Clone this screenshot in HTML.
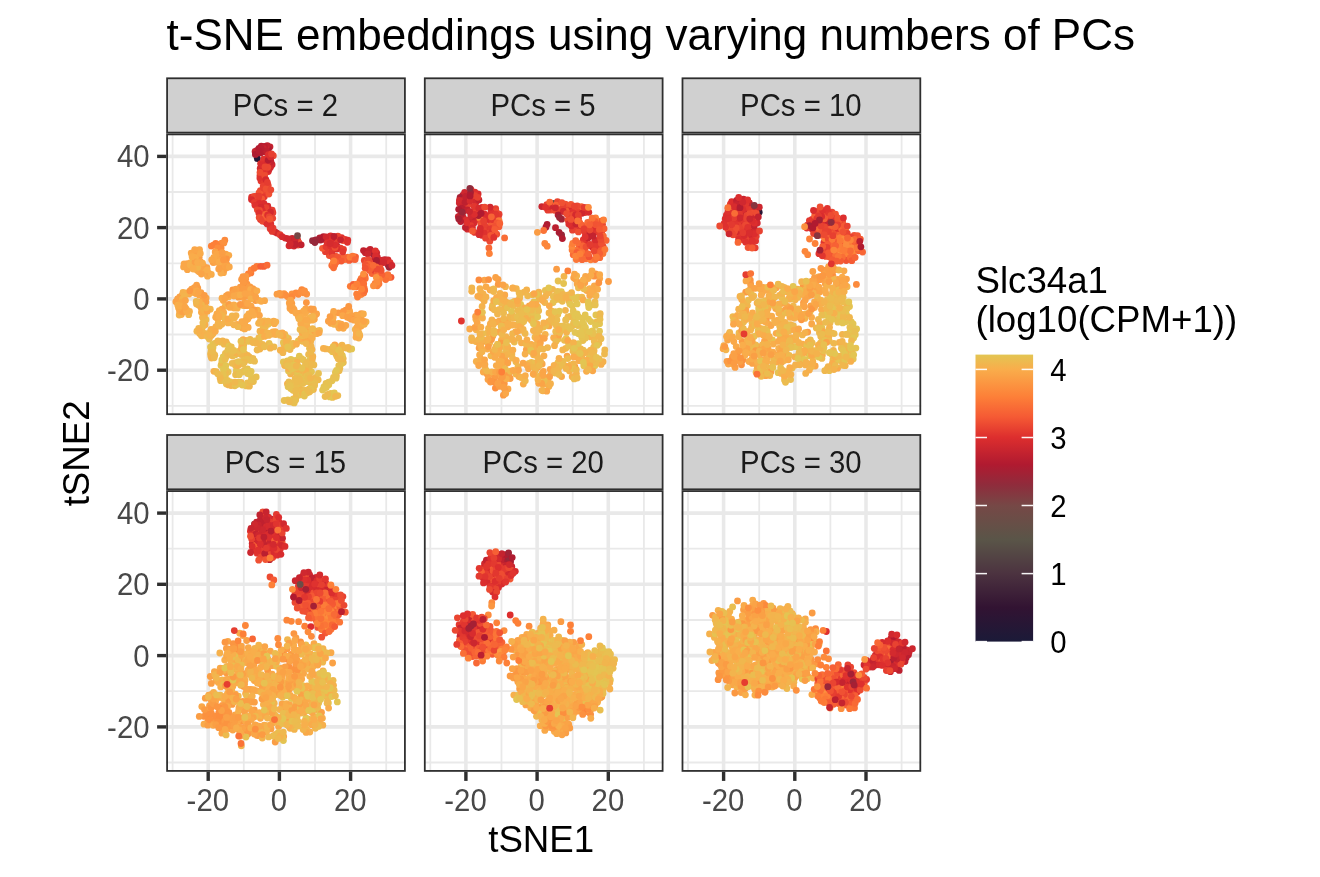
<!DOCTYPE html>
<html><head><meta charset="utf-8"><title>t-SNE embeddings</title>
<style>html,body{margin:0;padding:0;background:#fff}svg{display:block}text{font-family:"Liberation Sans",sans-serif}</style>
</head><body>
<svg style="will-change:transform" width="1320" height="877" viewBox="0 0 1320 877">
<rect width="1320" height="877" fill="#fff"/>
<text x="166.5" y="49.9" font-size="44" fill="#000">t-SNE embeddings using varying numbers of PCs</text>
<g>
<rect x="166.2" y="133.5" width="239.6" height="281.6" fill="#fff"/>
<line x1="172.6" x2="172.6" y1="133.5" y2="415.1" stroke="#e9e9e9" stroke-width="1.78"/>
<line x1="243.8" x2="243.8" y1="133.5" y2="415.1" stroke="#e9e9e9" stroke-width="1.78"/>
<line x1="315.0" x2="315.0" y1="133.5" y2="415.1" stroke="#e9e9e9" stroke-width="1.78"/>
<line x1="386.2" x2="386.2" y1="133.5" y2="415.1" stroke="#e9e9e9" stroke-width="1.78"/>
<line y1="405.8" y2="405.8" x1="166.2" x2="405.79999999999995" stroke="#e9e9e9" stroke-width="1.78"/>
<line y1="334.5" y2="334.5" x1="166.2" x2="405.79999999999995" stroke="#e9e9e9" stroke-width="1.78"/>
<line y1="263.3" y2="263.3" x1="166.2" x2="405.79999999999995" stroke="#e9e9e9" stroke-width="1.78"/>
<line y1="192.0" y2="192.0" x1="166.2" x2="405.79999999999995" stroke="#e9e9e9" stroke-width="1.78"/>
<line x1="208.2" x2="208.2" y1="133.5" y2="415.1" stroke="#e9e9e9" stroke-width="3.56"/>
<line x1="279.4" x2="279.4" y1="133.5" y2="415.1" stroke="#e9e9e9" stroke-width="3.56"/>
<line x1="350.6" x2="350.6" y1="133.5" y2="415.1" stroke="#e9e9e9" stroke-width="3.56"/>
<line y1="370.2" y2="370.2" x1="166.2" x2="405.79999999999995" stroke="#e9e9e9" stroke-width="3.56"/>
<line y1="298.9" y2="298.9" x1="166.2" x2="405.79999999999995" stroke="#e9e9e9" stroke-width="3.56"/>
<line y1="227.6" y2="227.6" x1="166.2" x2="405.79999999999995" stroke="#e9e9e9" stroke-width="3.56"/>
<line y1="156.4" y2="156.4" x1="166.2" x2="405.79999999999995" stroke="#e9e9e9" stroke-width="3.56"/>
<circle cx="215.7" cy="243.3" r="3.4" fill="#fc7b37"/><circle cx="219.3" cy="244.4" r="3.4" fill="#fc863a"/><circle cx="221.7" cy="243.2" r="3.4" fill="#fc8e3e"/><circle cx="216.8" cy="245.2" r="3.4" fill="#fd8038"/><circle cx="224.8" cy="240.2" r="3.4" fill="#fc8a3c"/><circle cx="211.3" cy="246.1" r="3.4" fill="#fd8038"/><circle cx="213.4" cy="245.2" r="3.4" fill="#fd7f38"/><circle cx="223.9" cy="242.9" r="3.4" fill="#fc913f"/><circle cx="217.7" cy="248.0" r="3.4" fill="#fc8c3d"/><circle cx="221.1" cy="248.0" r="3.4" fill="#fc8c3d"/><circle cx="223.5" cy="272.7" r="3.4" fill="#f9aa4a"/><circle cx="222.3" cy="265.8" r="3.4" fill="#fa9d44"/><circle cx="224.2" cy="269.7" r="3.4" fill="#faa347"/><circle cx="226.3" cy="256.5" r="3.4" fill="#fb9842"/><circle cx="225.8" cy="254.1" r="3.4" fill="#faa347"/><circle cx="220.0" cy="266.3" r="3.4" fill="#f7af4c"/><circle cx="221.3" cy="261.2" r="3.4" fill="#f9aa4a"/><circle cx="215.2" cy="251.9" r="3.4" fill="#faa246"/><circle cx="224.1" cy="255.6" r="3.4" fill="#faa447"/><circle cx="219.6" cy="257.1" r="3.4" fill="#faa748"/><circle cx="225.7" cy="261.5" r="3.4" fill="#faa347"/><circle cx="219.4" cy="254.7" r="3.4" fill="#faa045"/><circle cx="216.9" cy="254.2" r="3.4" fill="#faa748"/><circle cx="228.8" cy="255.3" r="3.4" fill="#f9aa4a"/><circle cx="226.5" cy="258.9" r="3.4" fill="#fb9541"/><circle cx="220.8" cy="263.4" r="3.4" fill="#faa045"/><circle cx="222.2" cy="252.6" r="3.4" fill="#fa9e45"/><circle cx="222.5" cy="257.8" r="3.4" fill="#fa9e45"/><circle cx="221.9" cy="269.3" r="3.4" fill="#faa146"/><circle cx="220.9" cy="273.0" r="3.4" fill="#f9ac4b"/><circle cx="214.8" cy="259.8" r="3.4" fill="#f9a849"/><circle cx="218.3" cy="259.8" r="3.4" fill="#faa548"/><circle cx="213.2" cy="262.6" r="3.4" fill="#faa045"/><circle cx="216.0" cy="262.2" r="3.4" fill="#faa447"/><circle cx="213.8" cy="257.5" r="3.4" fill="#f9a949"/><circle cx="224.3" cy="263.3" r="3.4" fill="#faa648"/><circle cx="219.1" cy="262.0" r="3.4" fill="#f9ab4a"/><circle cx="226.9" cy="264.6" r="3.4" fill="#fa9e45"/><circle cx="223.5" cy="259.9" r="3.4" fill="#fb9942"/><circle cx="211.7" cy="259.8" r="3.4" fill="#faa748"/><circle cx="218.7" cy="269.1" r="3.4" fill="#faa146"/><circle cx="225.4" cy="266.2" r="3.4" fill="#faa447"/><circle cx="227.2" cy="267.6" r="3.4" fill="#faa246"/><circle cx="229.3" cy="266.9" r="3.4" fill="#f9a849"/><circle cx="194.6" cy="253.9" r="3.4" fill="#f6b04c"/><circle cx="196.8" cy="260.1" r="3.4" fill="#f9aa4a"/><circle cx="187.4" cy="269.7" r="3.4" fill="#faa648"/><circle cx="197.4" cy="251.6" r="3.4" fill="#f4b24c"/><circle cx="194.2" cy="265.6" r="3.4" fill="#faa447"/><circle cx="199.1" cy="257.2" r="3.4" fill="#fa9d44"/><circle cx="197.0" cy="255.6" r="3.4" fill="#faa146"/><circle cx="187.4" cy="263.6" r="3.4" fill="#faa246"/><circle cx="199.8" cy="264.7" r="3.4" fill="#faa749"/><circle cx="200.4" cy="261.6" r="3.4" fill="#faa447"/><circle cx="195.4" cy="257.4" r="3.4" fill="#f9ad4b"/><circle cx="183.6" cy="266.9" r="3.4" fill="#f9a849"/><circle cx="190.7" cy="262.7" r="3.4" fill="#f9ac4a"/><circle cx="188.0" cy="265.7" r="3.4" fill="#f9aa4a"/><circle cx="189.5" cy="267.4" r="3.4" fill="#f9a849"/><circle cx="199.5" cy="249.6" r="3.4" fill="#f9a849"/><circle cx="192.1" cy="266.6" r="3.4" fill="#f9ab4a"/><circle cx="200.3" cy="253.5" r="3.4" fill="#f9ab4a"/><circle cx="191.2" cy="253.1" r="3.4" fill="#faa748"/><circle cx="194.7" cy="249.6" r="3.4" fill="#faa648"/><circle cx="184.1" cy="264.0" r="3.4" fill="#faa748"/><circle cx="203.9" cy="269.4" r="3.4" fill="#f9ad4b"/><circle cx="203.5" cy="265.9" r="3.4" fill="#faa347"/><circle cx="207.5" cy="276.2" r="3.4" fill="#f9ab4a"/><circle cx="202.9" cy="271.6" r="3.4" fill="#faa347"/><circle cx="205.7" cy="272.7" r="3.4" fill="#f7b04c"/><circle cx="201.1" cy="270.0" r="3.4" fill="#f8ae4b"/><circle cx="197.3" cy="265.0" r="3.4" fill="#faa447"/><circle cx="208.9" cy="273.3" r="3.4" fill="#faa548"/><circle cx="200.2" cy="267.3" r="3.4" fill="#faa548"/><circle cx="211.3" cy="274.4" r="3.4" fill="#f9ad4b"/><circle cx="206.9" cy="267.7" r="3.4" fill="#faa247"/><circle cx="207.2" cy="269.9" r="3.4" fill="#f9ad4b"/><circle cx="195.6" cy="267.8" r="3.4" fill="#f4b34d"/><circle cx="197.1" cy="270.2" r="3.4" fill="#faa749"/><circle cx="199.0" cy="271.7" r="3.4" fill="#f9a849"/><circle cx="193.1" cy="263.6" r="3.4" fill="#f9ad4b"/><circle cx="190.1" cy="264.8" r="3.4" fill="#f7af4c"/><circle cx="197.8" cy="267.3" r="3.4" fill="#f3b44d"/><circle cx="201.4" cy="274.0" r="3.4" fill="#faa447"/><circle cx="193.2" cy="269.0" r="3.4" fill="#f9ad4b"/><circle cx="193.3" cy="260.0" r="3.4" fill="#f3b34d"/><circle cx="195.0" cy="261.8" r="3.4" fill="#faa146"/><circle cx="192.1" cy="256.7" r="3.4" fill="#f9ac4a"/><circle cx="197.6" cy="262.5" r="3.4" fill="#f9ac4b"/><circle cx="202.5" cy="263.1" r="3.4" fill="#f9ac4a"/><circle cx="250.9" cy="272.9" r="3.4" fill="#fc7a37"/><circle cx="263.8" cy="266.4" r="3.4" fill="#f65e34"/><circle cx="256.8" cy="266.4" r="3.4" fill="#fc7937"/><circle cx="260.6" cy="266.3" r="3.4" fill="#f65f35"/><circle cx="251.2" cy="270.0" r="3.4" fill="#fd853a"/><circle cx="248.3" cy="273.8" r="3.4" fill="#fd8138"/><circle cx="254.1" cy="268.2" r="3.4" fill="#fb7937"/><circle cx="267.1" cy="265.2" r="3.4" fill="#f96b36"/><circle cx="241.6" cy="279.4" r="3.4" fill="#fb9842"/><circle cx="247.0" cy="284.2" r="3.4" fill="#fb9641"/><circle cx="248.5" cy="291.7" r="3.4" fill="#fb9943"/><circle cx="245.6" cy="279.3" r="3.4" fill="#fb9541"/><circle cx="245.5" cy="286.4" r="3.4" fill="#fb9c44"/><circle cx="249.3" cy="296.5" r="3.4" fill="#fa9d44"/><circle cx="245.9" cy="276.5" r="3.4" fill="#fb9a43"/><circle cx="243.2" cy="285.0" r="3.4" fill="#fc8c3d"/><circle cx="248.1" cy="288.5" r="3.4" fill="#faa146"/><circle cx="243.0" cy="276.7" r="3.4" fill="#fb9842"/><circle cx="250.0" cy="286.8" r="3.4" fill="#fa9d44"/><circle cx="252.2" cy="296.4" r="3.4" fill="#fb9942"/><circle cx="243.5" cy="282.5" r="3.4" fill="#fb9942"/><circle cx="251.8" cy="292.5" r="3.4" fill="#fa9d44"/><circle cx="240.8" cy="289.7" r="3.4" fill="#faa347"/><circle cx="238.0" cy="290.6" r="3.4" fill="#fa9d44"/><circle cx="232.8" cy="290.0" r="3.4" fill="#fb9842"/><circle cx="240.3" cy="287.1" r="3.4" fill="#fb9b43"/><circle cx="243.4" cy="288.8" r="3.4" fill="#fa9d44"/><circle cx="236.0" cy="289.2" r="3.4" fill="#faa246"/><circle cx="234.2" cy="292.0" r="3.4" fill="#faa045"/><circle cx="252.8" cy="288.6" r="3.4" fill="#fb9942"/><circle cx="250.6" cy="289.5" r="3.4" fill="#f9ac4b"/><circle cx="254.4" cy="290.2" r="3.4" fill="#faa246"/><circle cx="256.9" cy="290.8" r="3.4" fill="#f9ab4a"/><circle cx="242.3" cy="297.2" r="3.4" fill="#faa648"/><circle cx="253.8" cy="298.4" r="3.4" fill="#faa447"/><circle cx="228.5" cy="296.9" r="3.4" fill="#f9ad4b"/><circle cx="232.1" cy="294.2" r="3.4" fill="#faa046"/><circle cx="255.5" cy="300.5" r="3.4" fill="#fa9f45"/><circle cx="264.6" cy="300.7" r="3.4" fill="#f9a949"/><circle cx="226.3" cy="296.0" r="3.4" fill="#faa347"/><circle cx="228.1" cy="294.6" r="3.4" fill="#fa9f45"/><circle cx="250.6" cy="294.6" r="3.4" fill="#faa447"/><circle cx="238.5" cy="297.2" r="3.4" fill="#fa9e45"/><circle cx="237.6" cy="295.0" r="3.4" fill="#f9a849"/><circle cx="261.2" cy="301.3" r="3.4" fill="#f9ab4a"/><circle cx="223.3" cy="300.5" r="3.4" fill="#faa547"/><circle cx="245.2" cy="296.5" r="3.4" fill="#fa9f45"/><circle cx="248.2" cy="294.0" r="3.4" fill="#faa648"/><circle cx="233.9" cy="296.0" r="3.4" fill="#f9a849"/><circle cx="250.9" cy="299.0" r="3.4" fill="#f6b04c"/><circle cx="240.1" cy="294.8" r="3.4" fill="#f8ae4b"/><circle cx="258.9" cy="300.3" r="3.4" fill="#f9ad4b"/><circle cx="245.1" cy="293.6" r="3.4" fill="#faa548"/><circle cx="222.0" cy="298.2" r="3.4" fill="#f9aa4a"/><circle cx="224.8" cy="298.5" r="3.4" fill="#faa447"/><circle cx="255.7" cy="297.0" r="3.4" fill="#faa347"/><circle cx="257.2" cy="312.5" r="3.4" fill="#faa246"/><circle cx="225.2" cy="306.3" r="3.4" fill="#f4b34d"/><circle cx="248.5" cy="305.7" r="3.4" fill="#f9ac4a"/><circle cx="243.1" cy="305.6" r="3.4" fill="#f5b24c"/><circle cx="222.0" cy="309.1" r="3.4" fill="#faa749"/><circle cx="251.1" cy="306.1" r="3.4" fill="#faa748"/><circle cx="228.9" cy="304.4" r="3.4" fill="#fa9e45"/><circle cx="237.2" cy="308.2" r="3.4" fill="#f6b04c"/><circle cx="233.9" cy="304.9" r="3.4" fill="#f9ac4b"/><circle cx="245.9" cy="305.7" r="3.4" fill="#fa9e45"/><circle cx="244.7" cy="303.0" r="3.4" fill="#faa246"/><circle cx="219.3" cy="310.7" r="3.4" fill="#f9ac4a"/><circle cx="257.5" cy="310.2" r="3.4" fill="#f6b04c"/><circle cx="234.0" cy="308.0" r="3.4" fill="#f9ad4b"/><circle cx="247.6" cy="303.4" r="3.4" fill="#faa749"/><circle cx="238.1" cy="305.8" r="3.4" fill="#f5b14c"/><circle cx="259.4" cy="315.4" r="3.4" fill="#faa648"/><circle cx="254.2" cy="309.9" r="3.4" fill="#fa9f45"/><circle cx="229.9" cy="307.4" r="3.4" fill="#f9a949"/><circle cx="240.3" cy="304.5" r="3.4" fill="#fb9a43"/><circle cx="254.7" cy="313.1" r="3.4" fill="#faa547"/><circle cx="230.2" cy="322.5" r="3.4" fill="#f3b34d"/><circle cx="242.4" cy="327.9" r="3.4" fill="#faa749"/><circle cx="223.7" cy="312.7" r="3.4" fill="#f9ac4b"/><circle cx="237.0" cy="324.5" r="3.4" fill="#f9ab4a"/><circle cx="220.1" cy="314.2" r="3.4" fill="#f5b14c"/><circle cx="228.0" cy="322.9" r="3.4" fill="#f5b14c"/><circle cx="242.6" cy="325.1" r="3.4" fill="#f1b54d"/><circle cx="230.1" cy="319.7" r="3.4" fill="#f0b74e"/><circle cx="225.2" cy="320.9" r="3.4" fill="#f7b04c"/><circle cx="222.4" cy="315.6" r="3.4" fill="#f3b34d"/><circle cx="223.8" cy="317.6" r="3.4" fill="#f1b64e"/><circle cx="245.3" cy="326.1" r="3.4" fill="#f6b04c"/><circle cx="240.4" cy="326.5" r="3.4" fill="#faa548"/><circle cx="244.7" cy="328.9" r="3.4" fill="#f9ac4b"/><circle cx="238.0" cy="326.7" r="3.4" fill="#f0b74e"/><circle cx="233.8" cy="324.8" r="3.4" fill="#f4b34d"/><circle cx="228.0" cy="318.9" r="3.4" fill="#f9ac4b"/><circle cx="248.2" cy="327.4" r="3.4" fill="#f9ac4b"/><circle cx="251.3" cy="313.7" r="3.4" fill="#faa548"/><circle cx="246.8" cy="316.4" r="3.4" fill="#f9ad4b"/><circle cx="244.6" cy="323.0" r="3.4" fill="#f9ab4a"/><circle cx="249.7" cy="316.3" r="3.4" fill="#faa347"/><circle cx="241.9" cy="321.7" r="3.4" fill="#f9ab4a"/><circle cx="247.8" cy="319.1" r="3.4" fill="#f9ad4b"/><circle cx="245.6" cy="320.5" r="3.4" fill="#f9aa4a"/><circle cx="248.8" cy="313.9" r="3.4" fill="#f9ac4b"/><circle cx="253.6" cy="315.1" r="3.4" fill="#f9ac4b"/><circle cx="252.0" cy="311.4" r="3.4" fill="#f9ab4a"/><circle cx="232.2" cy="315.9" r="3.4" fill="#f1b64e"/><circle cx="236.0" cy="315.6" r="3.4" fill="#f3b44d"/><circle cx="234.4" cy="318.0" r="3.4" fill="#f4b34d"/><circle cx="217.8" cy="319.0" r="3.4" fill="#f9aa4a"/><circle cx="216.9" cy="314.0" r="3.4" fill="#f9aa4a"/><circle cx="215.7" cy="317.2" r="3.4" fill="#f9a949"/><circle cx="218.9" cy="316.4" r="3.4" fill="#f9ac4b"/><circle cx="186.3" cy="293.0" r="3.4" fill="#f9ad4b"/><circle cx="182.2" cy="295.3" r="3.4" fill="#faa045"/><circle cx="178.4" cy="301.3" r="3.4" fill="#fa9f45"/><circle cx="191.7" cy="292.4" r="3.4" fill="#faa749"/><circle cx="196.6" cy="285.1" r="3.4" fill="#faa046"/><circle cx="189.1" cy="294.0" r="3.4" fill="#f9ab4a"/><circle cx="197.8" cy="288.1" r="3.4" fill="#fa9d44"/><circle cx="191.6" cy="289.1" r="3.4" fill="#faa347"/><circle cx="194.4" cy="287.7" r="3.4" fill="#faa046"/><circle cx="179.8" cy="296.9" r="3.4" fill="#faa447"/><circle cx="194.5" cy="291.7" r="3.4" fill="#f9a849"/><circle cx="175.9" cy="301.7" r="3.4" fill="#faa347"/><circle cx="177.6" cy="299.0" r="3.4" fill="#faa347"/><circle cx="190.0" cy="290.8" r="3.4" fill="#fb9943"/><circle cx="183.0" cy="292.5" r="3.4" fill="#f6b14c"/><circle cx="195.8" cy="293.5" r="3.4" fill="#faa748"/><circle cx="201.7" cy="294.9" r="3.4" fill="#f9ac4b"/><circle cx="206.2" cy="298.1" r="3.4" fill="#faa548"/><circle cx="203.1" cy="299.3" r="3.4" fill="#faa347"/><circle cx="196.8" cy="290.8" r="3.4" fill="#f9a949"/><circle cx="205.9" cy="302.1" r="3.4" fill="#faa046"/><circle cx="199.4" cy="295.2" r="3.4" fill="#faa748"/><circle cx="200.9" cy="292.6" r="3.4" fill="#fa9f45"/><circle cx="204.3" cy="295.3" r="3.4" fill="#fa9c44"/><circle cx="198.4" cy="292.3" r="3.4" fill="#faa548"/><circle cx="181.6" cy="309.2" r="3.4" fill="#faa447"/><circle cx="182.7" cy="306.9" r="3.4" fill="#f6b04c"/><circle cx="182.4" cy="299.1" r="3.4" fill="#f3b34d"/><circle cx="183.4" cy="304.7" r="3.4" fill="#f2b54d"/><circle cx="181.4" cy="314.5" r="3.4" fill="#f9ac4b"/><circle cx="183.3" cy="301.2" r="3.4" fill="#f6b04c"/><circle cx="179.2" cy="315.0" r="3.4" fill="#f4b34d"/><circle cx="179.5" cy="311.0" r="3.4" fill="#f9a949"/><circle cx="184.1" cy="309.2" r="3.4" fill="#f9aa4a"/><circle cx="184.4" cy="296.1" r="3.4" fill="#f3b44d"/><circle cx="181.1" cy="302.7" r="3.4" fill="#f9a849"/><circle cx="182.7" cy="311.9" r="3.4" fill="#faa246"/><circle cx="185.4" cy="300.4" r="3.4" fill="#faa548"/><circle cx="178.6" cy="307.9" r="3.4" fill="#f9a949"/><circle cx="177.8" cy="305.2" r="3.4" fill="#f7af4c"/><circle cx="179.9" cy="305.9" r="3.4" fill="#f9ad4b"/><circle cx="186.4" cy="309.2" r="3.4" fill="#f9ac4b"/><circle cx="189.5" cy="311.5" r="3.4" fill="#f6b04c"/><circle cx="188.7" cy="314.7" r="3.4" fill="#f1b54d"/><circle cx="186.7" cy="311.5" r="3.4" fill="#f9ac4b"/><circle cx="185.0" cy="307.1" r="3.4" fill="#faa648"/><circle cx="198.9" cy="305.2" r="3.4" fill="#f4b34d"/><circle cx="204.6" cy="312.4" r="3.4" fill="#f7af4c"/><circle cx="206.0" cy="319.7" r="3.4" fill="#edba4f"/><circle cx="201.5" cy="305.0" r="3.4" fill="#f0b64e"/><circle cx="201.3" cy="308.3" r="3.4" fill="#f9ad4b"/><circle cx="204.4" cy="315.4" r="3.4" fill="#f6b04c"/><circle cx="199.4" cy="302.2" r="3.4" fill="#f8ae4b"/><circle cx="202.5" cy="317.5" r="3.4" fill="#f3b44d"/><circle cx="196.5" cy="304.1" r="3.4" fill="#f4b24d"/><circle cx="201.4" cy="312.3" r="3.4" fill="#f9ad4b"/><circle cx="203.6" cy="310.2" r="3.4" fill="#f5b14c"/><circle cx="196.2" cy="301.4" r="3.4" fill="#f0b74e"/><circle cx="210.3" cy="309.2" r="3.4" fill="#f2b54d"/><circle cx="207.3" cy="311.2" r="3.4" fill="#faa748"/><circle cx="206.2" cy="307.8" r="3.4" fill="#f5b24c"/><circle cx="205.1" cy="324.8" r="3.4" fill="#f7af4b"/><circle cx="202.8" cy="326.4" r="3.4" fill="#efb84e"/><circle cx="201.9" cy="329.0" r="3.4" fill="#efb84e"/><circle cx="199.6" cy="333.5" r="3.4" fill="#f6b14c"/><circle cx="206.3" cy="333.6" r="3.4" fill="#efb84e"/><circle cx="202.9" cy="332.6" r="3.4" fill="#f3b44d"/><circle cx="198.7" cy="328.3" r="3.4" fill="#f2b54d"/><circle cx="201.5" cy="335.8" r="3.4" fill="#f2b54d"/><circle cx="202.9" cy="322.8" r="3.4" fill="#eeb94e"/><circle cx="203.8" cy="335.3" r="3.4" fill="#f6b14c"/><circle cx="209.3" cy="339.0" r="3.4" fill="#edba4f"/><circle cx="196.9" cy="331.2" r="3.4" fill="#f2b54d"/><circle cx="199.3" cy="330.6" r="3.4" fill="#f6b04c"/><circle cx="207.3" cy="336.6" r="3.4" fill="#eeb94e"/><circle cx="215.0" cy="328.9" r="3.4" fill="#f5b14c"/><circle cx="210.3" cy="332.0" r="3.4" fill="#eeb94f"/><circle cx="215.8" cy="326.8" r="3.4" fill="#f6b04c"/><circle cx="219.4" cy="326.2" r="3.4" fill="#f3b44d"/><circle cx="221.8" cy="324.3" r="3.4" fill="#f4b24c"/><circle cx="211.1" cy="329.5" r="3.4" fill="#f7af4b"/><circle cx="211.4" cy="335.6" r="3.4" fill="#f6b04c"/><circle cx="218.1" cy="323.3" r="3.4" fill="#f3b34d"/><circle cx="213.0" cy="333.8" r="3.4" fill="#f4b24c"/><circle cx="215.3" cy="331.3" r="3.4" fill="#f9ac4b"/><circle cx="209.1" cy="335.1" r="3.4" fill="#f4b34d"/><circle cx="210.6" cy="353.4" r="3.4" fill="#edba4f"/><circle cx="227.4" cy="344.3" r="3.4" fill="#edba4f"/><circle cx="212.8" cy="344.3" r="3.4" fill="#e3c552"/><circle cx="211.5" cy="358.0" r="3.4" fill="#f4b24d"/><circle cx="210.5" cy="347.1" r="3.4" fill="#e6c251"/><circle cx="220.3" cy="342.0" r="3.4" fill="#ecbc4f"/><circle cx="215.4" cy="343.1" r="3.4" fill="#e8bf50"/><circle cx="222.6" cy="340.8" r="3.4" fill="#f3b44d"/><circle cx="224.1" cy="344.2" r="3.4" fill="#eeb94e"/><circle cx="210.8" cy="355.9" r="3.4" fill="#f2b44d"/><circle cx="211.1" cy="350.8" r="3.4" fill="#edba4f"/><circle cx="214.8" cy="355.2" r="3.4" fill="#efb84e"/><circle cx="217.9" cy="341.0" r="3.4" fill="#f0b74e"/><circle cx="213.0" cy="347.7" r="3.4" fill="#e7c151"/><circle cx="226.1" cy="341.9" r="3.4" fill="#f2b54d"/><circle cx="213.0" cy="352.3" r="3.4" fill="#ecbb4f"/><circle cx="214.2" cy="357.8" r="3.4" fill="#eeb94f"/><circle cx="225.4" cy="375.5" r="3.4" fill="#e8c050"/><circle cx="221.0" cy="365.4" r="3.4" fill="#e3c552"/><circle cx="221.8" cy="363.0" r="3.4" fill="#eeb84e"/><circle cx="226.2" cy="356.7" r="3.4" fill="#e3c552"/><circle cx="221.9" cy="359.9" r="3.4" fill="#e3c552"/><circle cx="227.9" cy="352.7" r="3.4" fill="#e8bf50"/><circle cx="228.1" cy="372.0" r="3.4" fill="#e8c050"/><circle cx="226.0" cy="370.1" r="3.4" fill="#e5c351"/><circle cx="225.4" cy="353.3" r="3.4" fill="#ecbc4f"/><circle cx="223.2" cy="357.0" r="3.4" fill="#e4c452"/><circle cx="225.5" cy="372.6" r="3.4" fill="#edba4f"/><circle cx="227.7" cy="355.0" r="3.4" fill="#eeb94f"/><circle cx="223.2" cy="378.7" r="3.4" fill="#edba4f"/><circle cx="225.1" cy="359.6" r="3.4" fill="#ebbd50"/><circle cx="225.9" cy="365.6" r="3.4" fill="#e3c552"/><circle cx="228.9" cy="346.2" r="3.4" fill="#e3c552"/><circle cx="223.4" cy="369.7" r="3.4" fill="#e3c552"/><circle cx="223.3" cy="374.2" r="3.4" fill="#e6c251"/><circle cx="227.8" cy="350.3" r="3.4" fill="#e7c051"/><circle cx="220.7" cy="380.7" r="3.4" fill="#ebbc4f"/><circle cx="246.4" cy="385.9" r="3.4" fill="#e9bf50"/><circle cx="244.4" cy="370.5" r="3.4" fill="#edba4f"/><circle cx="241.1" cy="382.4" r="3.4" fill="#f0b74e"/><circle cx="236.4" cy="370.4" r="3.4" fill="#e3c552"/><circle cx="242.2" cy="372.0" r="3.4" fill="#e8c051"/><circle cx="247.4" cy="369.0" r="3.4" fill="#e7c151"/><circle cx="234.8" cy="385.8" r="3.4" fill="#e9bf50"/><circle cx="220.1" cy="374.8" r="3.4" fill="#eabe50"/><circle cx="251.1" cy="371.4" r="3.4" fill="#e3c552"/><circle cx="238.1" cy="372.5" r="3.4" fill="#e5c351"/><circle cx="230.3" cy="381.9" r="3.4" fill="#e5c351"/><circle cx="238.7" cy="382.2" r="3.4" fill="#e7c151"/><circle cx="231.1" cy="385.6" r="3.4" fill="#f2b54d"/><circle cx="252.0" cy="377.7" r="3.4" fill="#e6c151"/><circle cx="233.5" cy="383.9" r="3.4" fill="#e7c151"/><circle cx="249.4" cy="386.2" r="3.4" fill="#efb84e"/><circle cx="225.4" cy="381.6" r="3.4" fill="#e6c251"/><circle cx="247.5" cy="382.8" r="3.4" fill="#eabe50"/><circle cx="253.4" cy="381.5" r="3.4" fill="#e9be50"/><circle cx="213.9" cy="371.3" r="3.4" fill="#f7b04c"/><circle cx="216.2" cy="371.6" r="3.4" fill="#efb84e"/><circle cx="250.8" cy="382.0" r="3.4" fill="#edba4f"/><circle cx="242.2" cy="385.1" r="3.4" fill="#e5c351"/><circle cx="246.7" cy="371.2" r="3.4" fill="#e3c552"/><circle cx="256.2" cy="376.9" r="3.4" fill="#e8bf50"/><circle cx="236.8" cy="384.6" r="3.4" fill="#e5c352"/><circle cx="235.6" cy="374.7" r="3.4" fill="#ebbc4f"/><circle cx="235.0" cy="382.2" r="3.4" fill="#efb84e"/><circle cx="226.4" cy="384.0" r="3.4" fill="#eabe50"/><circle cx="228.7" cy="384.9" r="3.4" fill="#f1b54d"/><circle cx="220.1" cy="378.0" r="3.4" fill="#f0b74e"/><circle cx="247.5" cy="373.6" r="3.4" fill="#e7c151"/><circle cx="250.2" cy="374.5" r="3.4" fill="#e4c452"/><circle cx="239.2" cy="374.7" r="3.4" fill="#e7c151"/><circle cx="251.4" cy="379.9" r="3.4" fill="#e7c051"/><circle cx="217.7" cy="373.8" r="3.4" fill="#edbb4f"/><circle cx="227.4" cy="380.4" r="3.4" fill="#e8bf50"/><circle cx="249.2" cy="356.8" r="3.4" fill="#ecbb4f"/><circle cx="252.9" cy="358.3" r="3.4" fill="#ecbb4f"/><circle cx="232.6" cy="356.0" r="3.4" fill="#efb84e"/><circle cx="235.4" cy="354.8" r="3.4" fill="#e7c051"/><circle cx="244.7" cy="356.4" r="3.4" fill="#efb84e"/><circle cx="244.8" cy="354.0" r="3.4" fill="#ecbb4f"/><circle cx="250.4" cy="360.6" r="3.4" fill="#e6c151"/><circle cx="254.5" cy="361.2" r="3.4" fill="#ebbd50"/><circle cx="241.7" cy="351.5" r="3.4" fill="#f4b24c"/><circle cx="237.9" cy="353.4" r="3.4" fill="#f3b44d"/><circle cx="234.7" cy="352.6" r="3.4" fill="#f5b14c"/><circle cx="241.1" cy="354.5" r="3.4" fill="#efb74e"/><circle cx="239.3" cy="351.1" r="3.4" fill="#ebbc4f"/><circle cx="247.6" cy="355.3" r="3.4" fill="#f2b44d"/><circle cx="231.0" cy="353.6" r="3.4" fill="#ecbb4f"/><circle cx="246.2" cy="340.3" r="3.4" fill="#eeb94f"/><circle cx="241.8" cy="345.1" r="3.4" fill="#f9ad4b"/><circle cx="243.9" cy="344.0" r="3.4" fill="#eeb94e"/><circle cx="243.5" cy="347.0" r="3.4" fill="#eeb94e"/><circle cx="250.1" cy="339.4" r="3.4" fill="#f0b74e"/><circle cx="243.0" cy="339.7" r="3.4" fill="#f9ad4b"/><circle cx="241.0" cy="341.2" r="3.4" fill="#e8bf50"/><circle cx="241.4" cy="348.3" r="3.4" fill="#f6b04c"/><circle cx="248.7" cy="341.3" r="3.4" fill="#e9be50"/><circle cx="243.4" cy="349.5" r="3.4" fill="#e6c251"/><circle cx="235.6" cy="362.6" r="3.4" fill="#f1b64e"/><circle cx="241.8" cy="361.4" r="3.4" fill="#ebbc4f"/><circle cx="244.7" cy="360.0" r="3.4" fill="#e8bf50"/><circle cx="239.4" cy="363.9" r="3.4" fill="#e9bf50"/><circle cx="247.3" cy="359.1" r="3.4" fill="#e9be50"/><circle cx="244.4" cy="362.3" r="3.4" fill="#eeb94e"/><circle cx="232.1" cy="363.3" r="3.4" fill="#edbb4f"/><circle cx="235.5" cy="365.4" r="3.4" fill="#eeb94f"/><circle cx="242.8" cy="364.0" r="3.4" fill="#eabd50"/><circle cx="238.0" cy="365.5" r="3.4" fill="#f4b34d"/><circle cx="238.3" cy="361.6" r="3.4" fill="#e7c151"/><circle cx="231.3" cy="346.9" r="3.4" fill="#eabd50"/><circle cx="231.1" cy="350.6" r="3.4" fill="#eabe50"/><circle cx="229.3" cy="348.7" r="3.4" fill="#e7c051"/><circle cx="233.8" cy="350.5" r="3.4" fill="#eabe50"/><circle cx="263.1" cy="326.4" r="3.4" fill="#eabe50"/><circle cx="268.2" cy="324.2" r="3.4" fill="#eabd50"/><circle cx="260.0" cy="331.2" r="3.4" fill="#f3b34d"/><circle cx="261.5" cy="334.2" r="3.4" fill="#efb74e"/><circle cx="254.7" cy="341.0" r="3.4" fill="#e9bf50"/><circle cx="258.8" cy="337.9" r="3.4" fill="#efb84e"/><circle cx="264.1" cy="328.7" r="3.4" fill="#f4b34d"/><circle cx="265.5" cy="326.6" r="3.4" fill="#eeb94e"/><circle cx="263.0" cy="332.5" r="3.4" fill="#f9ab4a"/><circle cx="258.7" cy="340.6" r="3.4" fill="#ecbb4f"/><circle cx="261.0" cy="337.3" r="3.4" fill="#e9bf50"/><circle cx="256.2" cy="343.2" r="3.4" fill="#f2b44d"/><circle cx="265.6" cy="323.9" r="3.4" fill="#f3b34d"/><circle cx="252.9" cy="342.6" r="3.4" fill="#f1b54d"/><circle cx="270.9" cy="322.5" r="3.4" fill="#ecbb4f"/><circle cx="269.1" cy="343.5" r="3.4" fill="#e9be50"/><circle cx="266.6" cy="345.8" r="3.4" fill="#efb84e"/><circle cx="270.1" cy="346.0" r="3.4" fill="#e8c051"/><circle cx="262.5" cy="344.5" r="3.4" fill="#efb84e"/><circle cx="261.0" cy="346.3" r="3.4" fill="#f2b54d"/><circle cx="259.9" cy="349.1" r="3.4" fill="#f4b34d"/><circle cx="274.0" cy="346.9" r="3.4" fill="#eeb94e"/><circle cx="257.0" cy="350.0" r="3.4" fill="#efb84e"/><circle cx="270.2" cy="348.2" r="3.4" fill="#f3b44d"/><circle cx="264.4" cy="346.8" r="3.4" fill="#ecbb4f"/><circle cx="284.8" cy="334.5" r="3.4" fill="#f4b24c"/><circle cx="270.0" cy="333.4" r="3.4" fill="#faa347"/><circle cx="275.8" cy="334.6" r="3.4" fill="#f5b14c"/><circle cx="266.4" cy="335.0" r="3.4" fill="#f2b54d"/><circle cx="272.9" cy="331.8" r="3.4" fill="#f6b04c"/><circle cx="288.4" cy="338.3" r="3.4" fill="#f3b34d"/><circle cx="272.6" cy="334.2" r="3.4" fill="#f8ae4b"/><circle cx="267.2" cy="332.8" r="3.4" fill="#f3b34d"/><circle cx="275.3" cy="331.7" r="3.4" fill="#f9ad4b"/><circle cx="279.0" cy="333.3" r="3.4" fill="#f1b64e"/><circle cx="264.5" cy="336.4" r="3.4" fill="#f9ad4b"/><circle cx="268.7" cy="335.4" r="3.4" fill="#f4b34d"/><circle cx="282.3" cy="332.8" r="3.4" fill="#f9ac4b"/><circle cx="285.9" cy="336.8" r="3.4" fill="#e9be50"/><circle cx="273.6" cy="321.2" r="3.4" fill="#f8ae4b"/><circle cx="264.4" cy="320.8" r="3.4" fill="#ecbc4f"/><circle cx="262.2" cy="322.0" r="3.4" fill="#f9ad4b"/><circle cx="260.1" cy="321.3" r="3.4" fill="#f6b14c"/><circle cx="268.1" cy="321.1" r="3.4" fill="#f6b14c"/><circle cx="274.4" cy="323.7" r="3.4" fill="#f9ad4b"/><circle cx="258.6" cy="323.3" r="3.4" fill="#f4b34d"/><circle cx="275.8" cy="321.8" r="3.4" fill="#f7b04c"/><circle cx="292.0" cy="294.0" r="3.4" fill="#fb9340"/><circle cx="288.0" cy="296.9" r="3.4" fill="#fb9842"/><circle cx="301.8" cy="289.7" r="3.4" fill="#fc883b"/><circle cx="284.0" cy="293.6" r="3.4" fill="#fb9641"/><circle cx="298.4" cy="294.3" r="3.4" fill="#fc8a3c"/><circle cx="292.2" cy="296.6" r="3.4" fill="#fc883b"/><circle cx="285.6" cy="295.2" r="3.4" fill="#fc8f3e"/><circle cx="296.0" cy="292.8" r="3.4" fill="#fc8b3c"/><circle cx="281.2" cy="295.2" r="3.4" fill="#fb9240"/><circle cx="300.7" cy="292.2" r="3.4" fill="#fc8f3e"/><circle cx="279.6" cy="293.5" r="3.4" fill="#fb9a43"/><circle cx="277.0" cy="294.2" r="3.4" fill="#fa9d44"/><circle cx="306.7" cy="294.1" r="3.4" fill="#fb9340"/><circle cx="303.9" cy="292.9" r="3.4" fill="#fc8f3e"/><circle cx="304.6" cy="290.9" r="3.4" fill="#fc913f"/><circle cx="292.0" cy="310.6" r="3.4" fill="#faa246"/><circle cx="313.4" cy="309.1" r="3.4" fill="#faa046"/><circle cx="301.2" cy="313.0" r="3.4" fill="#f9a949"/><circle cx="316.6" cy="313.9" r="3.4" fill="#faa548"/><circle cx="307.9" cy="310.6" r="3.4" fill="#f9a849"/><circle cx="291.8" cy="303.3" r="3.4" fill="#fa9d44"/><circle cx="292.4" cy="307.1" r="3.4" fill="#f9a849"/><circle cx="305.1" cy="313.6" r="3.4" fill="#f9ac4a"/><circle cx="289.3" cy="302.9" r="3.4" fill="#faa347"/><circle cx="294.0" cy="309.3" r="3.4" fill="#faa347"/><circle cx="305.6" cy="308.8" r="3.4" fill="#faa548"/><circle cx="313.3" cy="311.5" r="3.4" fill="#faa146"/><circle cx="310.9" cy="308.8" r="3.4" fill="#fa9e45"/><circle cx="290.0" cy="308.6" r="3.4" fill="#faa447"/><circle cx="314.8" cy="315.5" r="3.4" fill="#faa447"/><circle cx="303.8" cy="310.8" r="3.4" fill="#f9aa4a"/><circle cx="290.0" cy="305.9" r="3.4" fill="#faa246"/><circle cx="290.7" cy="300.2" r="3.4" fill="#faa347"/><circle cx="298.3" cy="313.3" r="3.4" fill="#faa748"/><circle cx="295.8" cy="312.9" r="3.4" fill="#f9a94a"/><circle cx="306.4" cy="302.6" r="3.4" fill="#fb9742"/><circle cx="313.9" cy="364.9" r="3.4" fill="#edba4f"/><circle cx="307.0" cy="326.9" r="3.4" fill="#f7af4c"/><circle cx="310.7" cy="340.9" r="3.4" fill="#f4b24c"/><circle cx="310.3" cy="344.1" r="3.4" fill="#f4b24d"/><circle cx="306.0" cy="329.8" r="3.4" fill="#f9a849"/><circle cx="311.5" cy="371.8" r="3.4" fill="#e5c351"/><circle cx="310.0" cy="330.1" r="3.4" fill="#f3b44d"/><circle cx="311.0" cy="334.3" r="3.4" fill="#f7b04c"/><circle cx="311.8" cy="361.4" r="3.4" fill="#eabd50"/><circle cx="309.5" cy="348.3" r="3.4" fill="#ecbb4f"/><circle cx="302.2" cy="319.3" r="3.4" fill="#f8ae4b"/><circle cx="307.7" cy="335.1" r="3.4" fill="#edba4f"/><circle cx="308.6" cy="354.4" r="3.4" fill="#edba4f"/><circle cx="298.3" cy="316.4" r="3.4" fill="#f9a949"/><circle cx="304.1" cy="322.4" r="3.4" fill="#f9ab4a"/><circle cx="306.4" cy="332.2" r="3.4" fill="#faa648"/><circle cx="310.1" cy="359.6" r="3.4" fill="#e4c452"/><circle cx="312.8" cy="356.5" r="3.4" fill="#f3b34d"/><circle cx="312.0" cy="349.6" r="3.4" fill="#f5b24c"/><circle cx="311.1" cy="346.7" r="3.4" fill="#f2b54d"/><circle cx="310.8" cy="351.8" r="3.4" fill="#eeb94e"/><circle cx="312.2" cy="337.9" r="3.4" fill="#f6b04c"/><circle cx="312.3" cy="358.8" r="3.4" fill="#f4b34d"/><circle cx="300.9" cy="316.9" r="3.4" fill="#f9ad4b"/><circle cx="309.6" cy="366.8" r="3.4" fill="#ecbb4f"/><circle cx="309.2" cy="333.0" r="3.4" fill="#f5b24c"/><circle cx="303.9" cy="327.9" r="3.4" fill="#f9ad4b"/><circle cx="300.8" cy="323.7" r="3.4" fill="#f9ab4a"/><circle cx="306.4" cy="324.8" r="3.4" fill="#f9ac4b"/><circle cx="308.8" cy="337.3" r="3.4" fill="#f7af4c"/><circle cx="299.0" cy="318.7" r="3.4" fill="#f5b14c"/><circle cx="310.6" cy="363.8" r="3.4" fill="#eeb94f"/><circle cx="312.0" cy="331.7" r="3.4" fill="#f1b64e"/><circle cx="317.1" cy="331.1" r="3.4" fill="#f9ad4b"/><circle cx="314.7" cy="331.0" r="3.4" fill="#faa547"/><circle cx="316.6" cy="333.7" r="3.4" fill="#f7af4c"/><circle cx="319.5" cy="330.4" r="3.4" fill="#f0b74e"/><circle cx="319.1" cy="332.8" r="3.4" fill="#f9a849"/><circle cx="312.6" cy="328.7" r="3.4" fill="#f0b74e"/><circle cx="309.0" cy="320.3" r="3.4" fill="#f9a949"/><circle cx="314.3" cy="319.3" r="3.4" fill="#faa749"/><circle cx="307.0" cy="322.1" r="3.4" fill="#f7af4c"/><circle cx="310.0" cy="317.5" r="3.4" fill="#f5b24c"/><circle cx="312.1" cy="320.2" r="3.4" fill="#f8ae4b"/><circle cx="306.6" cy="319.7" r="3.4" fill="#f9ab4a"/><circle cx="312.8" cy="316.3" r="3.4" fill="#f3b44d"/><circle cx="283.1" cy="336.3" r="3.4" fill="#f9a949"/><circle cx="280.2" cy="335.2" r="3.4" fill="#f2b44d"/><circle cx="284.2" cy="344.7" r="3.4" fill="#f4b34d"/><circle cx="292.4" cy="346.0" r="3.4" fill="#efb84e"/><circle cx="293.2" cy="343.3" r="3.4" fill="#f1b64e"/><circle cx="298.3" cy="340.9" r="3.4" fill="#e8bf50"/><circle cx="283.4" cy="342.4" r="3.4" fill="#e7c151"/><circle cx="286.6" cy="345.0" r="3.4" fill="#f5b14c"/><circle cx="291.1" cy="343.9" r="3.4" fill="#edba4f"/><circle cx="302.5" cy="341.3" r="3.4" fill="#eeb94f"/><circle cx="300.8" cy="338.7" r="3.4" fill="#f8ae4b"/><circle cx="296.4" cy="344.2" r="3.4" fill="#f8ae4b"/><circle cx="286.2" cy="341.3" r="3.4" fill="#f4b24d"/><circle cx="285.5" cy="348.6" r="3.4" fill="#e7c151"/><circle cx="282.9" cy="349.7" r="3.4" fill="#f2b44d"/><circle cx="290.0" cy="349.6" r="3.4" fill="#efb84e"/><circle cx="282.9" cy="352.7" r="3.4" fill="#f1b64e"/><circle cx="287.8" cy="346.9" r="3.4" fill="#e6c251"/><circle cx="280.3" cy="350.2" r="3.4" fill="#f4b24c"/><circle cx="303.4" cy="359.9" r="3.4" fill="#e3c552"/><circle cx="287.4" cy="360.9" r="3.4" fill="#e7c051"/><circle cx="294.5" cy="362.4" r="3.4" fill="#f5b14c"/><circle cx="284.6" cy="365.6" r="3.4" fill="#f2b54d"/><circle cx="305.8" cy="362.4" r="3.4" fill="#edba4f"/><circle cx="283.4" cy="361.9" r="3.4" fill="#e5c251"/><circle cx="286.7" cy="363.5" r="3.4" fill="#efb84e"/><circle cx="292.8" cy="360.6" r="3.4" fill="#e6c251"/><circle cx="290.9" cy="359.3" r="3.4" fill="#e3c552"/><circle cx="299.3" cy="356.2" r="3.4" fill="#e3c552"/><circle cx="295.7" cy="360.3" r="3.4" fill="#e7c051"/><circle cx="301.5" cy="358.7" r="3.4" fill="#e7c151"/><circle cx="305.4" cy="365.2" r="3.4" fill="#ebbc4f"/><circle cx="289.4" cy="362.5" r="3.4" fill="#edba4f"/><circle cx="297.2" cy="362.3" r="3.4" fill="#f4b24d"/><circle cx="291.5" cy="364.6" r="3.4" fill="#ecbb4f"/><circle cx="295.8" cy="372.3" r="3.4" fill="#e6c251"/><circle cx="315.9" cy="377.3" r="3.4" fill="#f0b74e"/><circle cx="318.2" cy="379.8" r="3.4" fill="#eeb94e"/><circle cx="297.1" cy="375.8" r="3.4" fill="#e6c151"/><circle cx="309.5" cy="381.3" r="3.4" fill="#edba4f"/><circle cx="302.5" cy="380.2" r="3.4" fill="#ecbb4f"/><circle cx="290.6" cy="373.9" r="3.4" fill="#f4b24d"/><circle cx="314.6" cy="383.1" r="3.4" fill="#e9be50"/><circle cx="294.2" cy="370.1" r="3.4" fill="#e3c552"/><circle cx="302.5" cy="376.1" r="3.4" fill="#e6c251"/><circle cx="312.2" cy="380.9" r="3.4" fill="#e9be50"/><circle cx="291.4" cy="371.6" r="3.4" fill="#efb84e"/><circle cx="307.2" cy="381.6" r="3.4" fill="#ecbc4f"/><circle cx="299.7" cy="375.7" r="3.4" fill="#edba4f"/><circle cx="288.5" cy="370.9" r="3.4" fill="#e5c351"/><circle cx="318.5" cy="373.4" r="3.4" fill="#e8c051"/><circle cx="288.7" cy="368.5" r="3.4" fill="#f5b14c"/><circle cx="311.3" cy="383.1" r="3.4" fill="#e7c051"/><circle cx="304.5" cy="381.7" r="3.4" fill="#e4c352"/><circle cx="299.4" cy="373.4" r="3.4" fill="#e3c552"/><circle cx="304.6" cy="378.4" r="3.4" fill="#e5c352"/><circle cx="292.9" cy="386.3" r="3.4" fill="#ebbc4f"/><circle cx="293.0" cy="390.3" r="3.4" fill="#e9bf50"/><circle cx="295.3" cy="385.6" r="3.4" fill="#edba4f"/><circle cx="299.8" cy="383.0" r="3.4" fill="#eeb94f"/><circle cx="298.7" cy="385.7" r="3.4" fill="#e8bf50"/><circle cx="295.6" cy="388.2" r="3.4" fill="#ebbd50"/><circle cx="290.6" cy="388.6" r="3.4" fill="#e7c151"/><circle cx="302.9" cy="383.6" r="3.4" fill="#eabd50"/><circle cx="296.1" cy="393.0" r="3.4" fill="#ecbb4f"/><circle cx="293.3" cy="398.8" r="3.4" fill="#e5c351"/><circle cx="287.9" cy="399.9" r="3.4" fill="#e6c251"/><circle cx="294.2" cy="402.9" r="3.4" fill="#e9bf50"/><circle cx="301.4" cy="390.2" r="3.4" fill="#f0b64e"/><circle cx="291.6" cy="402.0" r="3.4" fill="#e8bf50"/><circle cx="297.8" cy="391.0" r="3.4" fill="#edbb4f"/><circle cx="297.2" cy="395.7" r="3.4" fill="#e6c151"/><circle cx="299.9" cy="394.9" r="3.4" fill="#e4c452"/><circle cx="284.2" cy="400.5" r="3.4" fill="#e9bf50"/><circle cx="304.3" cy="390.4" r="3.4" fill="#ebbc50"/><circle cx="295.7" cy="397.7" r="3.4" fill="#edba4f"/><circle cx="295.7" cy="400.1" r="3.4" fill="#e8bf50"/><circle cx="302.5" cy="393.4" r="3.4" fill="#f2b54d"/><circle cx="289.2" cy="401.8" r="3.4" fill="#edba4f"/><circle cx="313.4" cy="389.4" r="3.4" fill="#f3b34d"/><circle cx="311.4" cy="386.8" r="3.4" fill="#eeb94e"/><circle cx="314.6" cy="385.6" r="3.4" fill="#eabd50"/><circle cx="309.6" cy="388.6" r="3.4" fill="#e5c352"/><circle cx="311.4" cy="390.3" r="3.4" fill="#e6c251"/><circle cx="323.9" cy="387.0" r="3.4" fill="#e3c552"/><circle cx="332.0" cy="380.8" r="3.4" fill="#e4c352"/><circle cx="339.8" cy="368.3" r="3.4" fill="#edbb4f"/><circle cx="343.3" cy="362.6" r="3.4" fill="#ebbc4f"/><circle cx="336.4" cy="375.7" r="3.4" fill="#f1b64e"/><circle cx="326.0" cy="383.5" r="3.4" fill="#e7c051"/><circle cx="322.6" cy="390.1" r="3.4" fill="#e4c452"/><circle cx="341.4" cy="363.7" r="3.4" fill="#e3c552"/><circle cx="328.8" cy="384.8" r="3.4" fill="#e4c452"/><circle cx="326.3" cy="387.5" r="3.4" fill="#e4c452"/><circle cx="336.0" cy="378.2" r="3.4" fill="#e6c251"/><circle cx="335.4" cy="372.5" r="3.4" fill="#e6c251"/><circle cx="328.7" cy="382.2" r="3.4" fill="#e6c251"/><circle cx="339.1" cy="370.7" r="3.4" fill="#ecbb4f"/><circle cx="338.8" cy="365.7" r="3.4" fill="#e7c051"/><circle cx="340.8" cy="361.0" r="3.4" fill="#e8c050"/><circle cx="336.5" cy="370.4" r="3.4" fill="#e3c552"/><circle cx="333.5" cy="377.5" r="3.4" fill="#e8c051"/><circle cx="343.2" cy="358.6" r="3.4" fill="#efb84e"/><circle cx="337.8" cy="395.6" r="3.4" fill="#edbb4f"/><circle cx="330.8" cy="393.5" r="3.4" fill="#e8c050"/><circle cx="332.5" cy="397.4" r="3.4" fill="#e9be50"/><circle cx="329.8" cy="396.9" r="3.4" fill="#e3c552"/><circle cx="327.7" cy="394.3" r="3.4" fill="#edba4f"/><circle cx="334.3" cy="393.0" r="3.4" fill="#e3c552"/><circle cx="335.6" cy="396.3" r="3.4" fill="#f0b74e"/><circle cx="325.1" cy="396.6" r="3.4" fill="#ecbb4f"/><circle cx="342.0" cy="345.1" r="3.4" fill="#f2b54d"/><circle cx="329.9" cy="349.5" r="3.4" fill="#f5b14c"/><circle cx="349.4" cy="349.3" r="3.4" fill="#e8c050"/><circle cx="341.6" cy="348.0" r="3.4" fill="#f9ad4b"/><circle cx="343.9" cy="347.6" r="3.4" fill="#f2b54d"/><circle cx="334.9" cy="348.0" r="3.4" fill="#edba4f"/><circle cx="351.7" cy="348.9" r="3.4" fill="#e3c552"/><circle cx="325.8" cy="348.9" r="3.4" fill="#f1b64e"/><circle cx="337.1" cy="346.6" r="3.4" fill="#eeb94f"/><circle cx="336.4" cy="350.8" r="3.4" fill="#f5b14c"/><circle cx="346.0" cy="348.1" r="3.4" fill="#efb84e"/><circle cx="348.1" cy="347.3" r="3.4" fill="#f1b64e"/><circle cx="332.4" cy="351.7" r="3.4" fill="#e9be50"/><circle cx="323.4" cy="348.4" r="3.4" fill="#f6b14c"/><circle cx="335.8" cy="353.8" r="3.4" fill="#efb84e"/><circle cx="336.9" cy="356.2" r="3.4" fill="#ecbb4f"/><circle cx="339.8" cy="356.2" r="3.4" fill="#f4b24c"/><circle cx="338.1" cy="353.7" r="3.4" fill="#f4b24c"/><circle cx="338.2" cy="358.7" r="3.4" fill="#eeb94f"/><circle cx="342.4" cy="355.7" r="3.4" fill="#e4c452"/><circle cx="340.7" cy="358.4" r="3.4" fill="#eeb94f"/><circle cx="333.5" cy="349.7" r="3.4" fill="#eeb84e"/><circle cx="334.8" cy="344.9" r="3.4" fill="#faa648"/><circle cx="330.8" cy="323.3" r="3.4" fill="#faa246"/><circle cx="343.3" cy="328.3" r="3.4" fill="#f9a949"/><circle cx="345.8" cy="325.5" r="3.4" fill="#f9a749"/><circle cx="338.2" cy="325.8" r="3.4" fill="#faa748"/><circle cx="338.6" cy="323.5" r="3.4" fill="#f6b14c"/><circle cx="334.0" cy="324.3" r="3.4" fill="#f4b34d"/><circle cx="341.2" cy="324.1" r="3.4" fill="#faa648"/><circle cx="328.4" cy="321.2" r="3.4" fill="#faa146"/><circle cx="339.0" cy="328.0" r="3.4" fill="#f9aa4a"/><circle cx="341.1" cy="326.3" r="3.4" fill="#faa246"/><circle cx="333.0" cy="321.8" r="3.4" fill="#faa347"/><circle cx="333.4" cy="314.2" r="3.4" fill="#faa045"/><circle cx="348.8" cy="309.3" r="3.4" fill="#fa9e45"/><circle cx="342.0" cy="313.3" r="3.4" fill="#fb9b43"/><circle cx="333.2" cy="317.4" r="3.4" fill="#f9aa4a"/><circle cx="345.8" cy="310.1" r="3.4" fill="#fb9541"/><circle cx="338.4" cy="312.8" r="3.4" fill="#fa9c44"/><circle cx="333.6" cy="311.4" r="3.4" fill="#faa648"/><circle cx="346.7" cy="312.6" r="3.4" fill="#faa146"/><circle cx="344.6" cy="313.7" r="3.4" fill="#faa347"/><circle cx="330.1" cy="316.6" r="3.4" fill="#fa9f45"/><circle cx="349.7" cy="311.4" r="3.4" fill="#faa547"/><circle cx="348.7" cy="306.5" r="3.4" fill="#fb9742"/><circle cx="343.3" cy="311.3" r="3.4" fill="#fb9842"/><circle cx="348.8" cy="315.4" r="3.4" fill="#f9ad4b"/><circle cx="356.1" cy="315.1" r="3.4" fill="#faa748"/><circle cx="361.2" cy="313.6" r="3.4" fill="#fa9f45"/><circle cx="355.5" cy="317.5" r="3.4" fill="#faa548"/><circle cx="351.6" cy="315.6" r="3.4" fill="#faa246"/><circle cx="351.4" cy="319.2" r="3.4" fill="#fb9842"/><circle cx="342.6" cy="315.7" r="3.4" fill="#faa648"/><circle cx="361.0" cy="317.0" r="3.4" fill="#faa046"/><circle cx="358.4" cy="315.6" r="3.4" fill="#f9a949"/><circle cx="347.3" cy="317.2" r="3.4" fill="#faa046"/><circle cx="363.4" cy="314.0" r="3.4" fill="#f8ae4b"/><circle cx="357.7" cy="318.4" r="3.4" fill="#f9a849"/><circle cx="349.4" cy="318.1" r="3.4" fill="#faa045"/><circle cx="362.0" cy="323.2" r="3.4" fill="#f9ab4a"/><circle cx="359.4" cy="321.1" r="3.4" fill="#faa648"/><circle cx="359.8" cy="335.7" r="3.4" fill="#f9ad4b"/><circle cx="358.2" cy="329.7" r="3.4" fill="#faa648"/><circle cx="354.2" cy="320.2" r="3.4" fill="#faa347"/><circle cx="361.2" cy="326.0" r="3.4" fill="#f9aa4a"/><circle cx="366.1" cy="321.8" r="3.4" fill="#f5b14c"/><circle cx="356.4" cy="333.9" r="3.4" fill="#f8ae4b"/><circle cx="364.3" cy="324.3" r="3.4" fill="#f5b14c"/><circle cx="363.9" cy="321.3" r="3.4" fill="#faa548"/><circle cx="358.2" cy="325.2" r="3.4" fill="#f8ae4b"/><circle cx="355.3" cy="329.5" r="3.4" fill="#f2b44d"/><circle cx="356.9" cy="327.3" r="3.4" fill="#f9a849"/><circle cx="356.6" cy="331.4" r="3.4" fill="#f9ad4b"/><circle cx="358.8" cy="338.0" r="3.4" fill="#f7b04c"/><circle cx="357.1" cy="321.1" r="3.4" fill="#f9a949"/><circle cx="356.0" cy="337.2" r="3.4" fill="#f9ac4a"/><circle cx="359.2" cy="333.6" r="3.4" fill="#f3b44d"/><circle cx="300.9" cy="370.5" r="3.4" fill="#e8c051"/><circle cx="297.8" cy="369.2" r="3.4" fill="#f4b34d"/><circle cx="303.1" cy="370.7" r="3.4" fill="#f2b54d"/><circle cx="287.6" cy="365.6" r="3.4" fill="#e9bf50"/><circle cx="295.2" cy="367.9" r="3.4" fill="#e9bf50"/><circle cx="293.8" cy="365.2" r="3.4" fill="#e4c452"/><circle cx="291.9" cy="368.7" r="3.4" fill="#e4c452"/><circle cx="290.5" cy="366.8" r="3.4" fill="#e8c051"/><circle cx="298.8" cy="366.8" r="3.4" fill="#e9be50"/><circle cx="305.1" cy="373.5" r="3.4" fill="#edba4f"/><circle cx="305.9" cy="370.9" r="3.4" fill="#f5b24c"/><circle cx="301.9" cy="368.3" r="3.4" fill="#e6c151"/><circle cx="296.3" cy="365.9" r="3.4" fill="#f0b64e"/><circle cx="298.6" cy="377.7" r="3.4" fill="#ebbc4f"/><circle cx="306.8" cy="376.2" r="3.4" fill="#e7c051"/><circle cx="308.9" cy="374.9" r="3.4" fill="#ebbc4f"/><circle cx="295.1" cy="378.7" r="3.4" fill="#edba4f"/><circle cx="307.9" cy="378.6" r="3.4" fill="#ebbc4f"/><circle cx="297.8" cy="381.3" r="3.4" fill="#edba4f"/><circle cx="300.0" cy="379.9" r="3.4" fill="#edba4f"/><circle cx="295.6" cy="381.9" r="3.4" fill="#ecbb4f"/><circle cx="310.6" cy="378.1" r="3.4" fill="#f1b64e"/><circle cx="290.7" cy="383.2" r="3.4" fill="#ebbd50"/><circle cx="287.4" cy="383.8" r="3.4" fill="#f5b14c"/><circle cx="288.1" cy="386.7" r="3.4" fill="#e5c251"/><circle cx="288.9" cy="381.8" r="3.4" fill="#eabd50"/><circle cx="295.6" cy="390.9" r="3.4" fill="#ecbb4f"/><circle cx="290.3" cy="385.7" r="3.4" fill="#e7c151"/><circle cx="307.0" cy="392.9" r="3.4" fill="#e5c351"/><circle cx="304.9" cy="393.6" r="3.4" fill="#e3c552"/><circle cx="304.4" cy="396.0" r="3.4" fill="#e6c151"/><circle cx="309.4" cy="391.9" r="3.4" fill="#edba4f"/><circle cx="307.5" cy="389.8" r="3.4" fill="#ecbb4f"/><circle cx="338.6" cy="349.9" r="3.4" fill="#e5c351"/><circle cx="340.8" cy="352.9" r="3.4" fill="#eabe50"/><circle cx="333.2" cy="346.6" r="3.4" fill="#ebbc4f"/><circle cx="304.6" cy="337.7" r="3.4" fill="#f9a849"/><circle cx="307.4" cy="341.8" r="3.4" fill="#f9a949"/><circle cx="302.6" cy="335.7" r="3.4" fill="#efb84e"/><circle cx="302.2" cy="332.6" r="3.4" fill="#f9ab4a"/><circle cx="304.2" cy="331.5" r="3.4" fill="#eeb94f"/><circle cx="306.1" cy="343.6" r="3.4" fill="#f1b64e"/><circle cx="300.1" cy="329.5" r="3.4" fill="#eeb94e"/><circle cx="305.4" cy="335.2" r="3.4" fill="#f3b44d"/><circle cx="302.5" cy="329.6" r="3.4" fill="#f1b64e"/><circle cx="257.3" cy="158.6" r="3.4" fill="#241736"/><circle cx="261.4" cy="150.7" r="3.4" fill="#b71d30"/><circle cx="270.0" cy="146.8" r="3.4" fill="#c3222f"/><circle cx="268.4" cy="149.0" r="3.4" fill="#ab1c32"/><circle cx="263.9" cy="151.7" r="3.4" fill="#bd202f"/><circle cx="257.2" cy="153.1" r="3.4" fill="#b61d30"/><circle cx="267.3" cy="145.6" r="3.4" fill="#c1222f"/><circle cx="257.1" cy="150.3" r="3.4" fill="#b71d30"/><circle cx="265.8" cy="148.1" r="3.4" fill="#c9252f"/><circle cx="260.6" cy="152.9" r="3.4" fill="#b51c30"/><circle cx="261.3" cy="146.1" r="3.4" fill="#b71d30"/><circle cx="264.4" cy="146.3" r="3.4" fill="#ba1e30"/><circle cx="263.5" cy="148.3" r="3.4" fill="#c7242f"/><circle cx="255.1" cy="151.5" r="3.4" fill="#c5232f"/><circle cx="258.9" cy="148.4" r="3.4" fill="#b01a30"/><circle cx="266.5" cy="151.1" r="3.4" fill="#be202f"/><circle cx="255.4" cy="154.4" r="3.4" fill="#ae1b31"/><circle cx="261.1" cy="148.4" r="3.4" fill="#b81e30"/><circle cx="259.1" cy="151.2" r="3.4" fill="#b51c30"/><circle cx="263.5" cy="161.8" r="3.4" fill="#d52a2e"/><circle cx="268.3" cy="171.5" r="3.4" fill="#dc2e2e"/><circle cx="260.6" cy="163.6" r="3.4" fill="#dc2e2e"/><circle cx="262.9" cy="168.1" r="3.4" fill="#c0212f"/><circle cx="266.3" cy="159.0" r="3.4" fill="#d62b2e"/><circle cx="270.4" cy="159.4" r="3.4" fill="#c2222f"/><circle cx="270.5" cy="167.2" r="3.4" fill="#d62b2e"/><circle cx="272.1" cy="164.7" r="3.4" fill="#d0282f"/><circle cx="266.5" cy="165.1" r="3.4" fill="#e74131"/><circle cx="269.2" cy="163.9" r="3.4" fill="#cc272f"/><circle cx="261.7" cy="170.1" r="3.4" fill="#df322f"/><circle cx="269.1" cy="169.2" r="3.4" fill="#d1292f"/><circle cx="260.2" cy="168.4" r="3.4" fill="#d42a2e"/><circle cx="263.7" cy="159.2" r="3.4" fill="#df322e"/><circle cx="266.3" cy="169.1" r="3.4" fill="#d82c2e"/><circle cx="264.6" cy="173.2" r="3.4" fill="#e2372f"/><circle cx="262.6" cy="165.0" r="3.4" fill="#da2d2e"/><circle cx="270.9" cy="161.6" r="3.4" fill="#c3232f"/><circle cx="267.5" cy="162.3" r="3.4" fill="#d62b2e"/><circle cx="262.5" cy="172.7" r="3.4" fill="#e0332f"/><circle cx="267.8" cy="157.0" r="3.4" fill="#e0342f"/><circle cx="268.2" cy="160.1" r="3.4" fill="#b51c30"/><circle cx="267.8" cy="167.3" r="3.4" fill="#eb4731"/><circle cx="265.0" cy="166.9" r="3.4" fill="#ea4631"/><circle cx="261.0" cy="181.1" r="3.4" fill="#e3382f"/><circle cx="273.3" cy="155.7" r="3.4" fill="#eb4731"/><circle cx="260.0" cy="175.5" r="3.4" fill="#e3392f"/><circle cx="262.7" cy="176.6" r="3.4" fill="#e2372f"/><circle cx="270.6" cy="156.9" r="3.4" fill="#d62b2e"/><circle cx="264.1" cy="178.3" r="3.4" fill="#e53d30"/><circle cx="259.9" cy="178.1" r="3.4" fill="#df312e"/><circle cx="264.2" cy="182.7" r="3.4" fill="#e3392f"/><circle cx="268.4" cy="154.6" r="3.4" fill="#dd2e2e"/><circle cx="271.5" cy="154.0" r="3.4" fill="#e63f30"/><circle cx="264.7" cy="175.5" r="3.4" fill="#ed4b32"/><circle cx="260.0" cy="172.4" r="3.4" fill="#ed4b32"/><circle cx="261.2" cy="193.9" r="3.4" fill="#ef4f33"/><circle cx="261.0" cy="196.6" r="3.4" fill="#ea4631"/><circle cx="263.4" cy="192.9" r="3.4" fill="#ec4932"/><circle cx="266.1" cy="186.3" r="3.4" fill="#e33a30"/><circle cx="260.4" cy="190.6" r="3.4" fill="#eb4832"/><circle cx="259.0" cy="192.8" r="3.4" fill="#f05133"/><circle cx="268.6" cy="189.4" r="3.4" fill="#f15233"/><circle cx="263.2" cy="186.1" r="3.4" fill="#e84131"/><circle cx="264.2" cy="190.7" r="3.4" fill="#f35734"/><circle cx="267.9" cy="192.1" r="3.4" fill="#e1362f"/><circle cx="265.9" cy="179.6" r="3.4" fill="#d42a2e"/><circle cx="263.7" cy="188.3" r="3.4" fill="#e84331"/><circle cx="268.2" cy="185.3" r="3.4" fill="#e94531"/><circle cx="266.4" cy="193.8" r="3.4" fill="#eb4731"/><circle cx="266.1" cy="188.8" r="3.4" fill="#ef5033"/><circle cx="267.4" cy="182.3" r="3.4" fill="#e53c30"/><circle cx="264.3" cy="196.8" r="3.4" fill="#e3382f"/><circle cx="261.7" cy="199.0" r="3.4" fill="#f35734"/><circle cx="256.6" cy="196.3" r="3.4" fill="#d92c2e"/><circle cx="251.6" cy="197.1" r="3.4" fill="#e0342f"/><circle cx="254.1" cy="198.6" r="3.4" fill="#e3392f"/><circle cx="268.9" cy="194.0" r="3.4" fill="#f05033"/><circle cx="258.2" cy="198.7" r="3.4" fill="#e53c30"/><circle cx="270.8" cy="189.8" r="3.4" fill="#eb4832"/><circle cx="254.1" cy="196.3" r="3.4" fill="#ea4631"/><circle cx="258.8" cy="196.1" r="3.4" fill="#e63e30"/><circle cx="251.5" cy="199.6" r="3.4" fill="#d82c2e"/><circle cx="272.2" cy="210.1" r="3.4" fill="#e63e30"/><circle cx="257.3" cy="204.9" r="3.4" fill="#e74030"/><circle cx="268.8" cy="209.5" r="3.4" fill="#e43c30"/><circle cx="261.7" cy="204.9" r="3.4" fill="#e73f30"/><circle cx="263.6" cy="208.0" r="3.4" fill="#d52b2e"/><circle cx="254.4" cy="202.3" r="3.4" fill="#e53c30"/><circle cx="263.9" cy="203.5" r="3.4" fill="#db2d2e"/><circle cx="272.9" cy="212.7" r="3.4" fill="#e53d30"/><circle cx="259.3" cy="203.3" r="3.4" fill="#dc2d2e"/><circle cx="266.0" cy="210.4" r="3.4" fill="#d42a2e"/><circle cx="267.8" cy="206.2" r="3.4" fill="#d82c2e"/><circle cx="266.0" cy="207.7" r="3.4" fill="#e84131"/><circle cx="255.0" cy="205.3" r="3.4" fill="#df322f"/><circle cx="270.5" cy="212.1" r="3.4" fill="#d2292e"/><circle cx="261.0" cy="207.1" r="3.4" fill="#d42a2e"/><circle cx="262.3" cy="211.0" r="3.4" fill="#dd2e2e"/><circle cx="259.4" cy="210.5" r="3.4" fill="#ee4d32"/><circle cx="257.3" cy="209.8" r="3.4" fill="#ea4631"/><circle cx="258.8" cy="212.9" r="3.4" fill="#df312e"/><circle cx="275.0" cy="231.9" r="3.4" fill="#cb262f"/><circle cx="260.5" cy="219.5" r="3.4" fill="#e0342f"/><circle cx="285.1" cy="238.1" r="3.4" fill="#dd2f2e"/><circle cx="291.5" cy="241.0" r="3.4" fill="#cf282f"/><circle cx="276.9" cy="233.1" r="3.4" fill="#d2292e"/><circle cx="273.0" cy="228.1" r="3.4" fill="#e53d30"/><circle cx="265.3" cy="222.1" r="3.4" fill="#e3382f"/><circle cx="289.5" cy="240.1" r="3.4" fill="#d0282f"/><circle cx="280.0" cy="234.7" r="3.4" fill="#e43b30"/><circle cx="297.8" cy="240.3" r="3.4" fill="#e1352f"/><circle cx="282.1" cy="236.7" r="3.4" fill="#d62b2e"/><circle cx="298.1" cy="245.0" r="3.4" fill="#ee4e32"/><circle cx="292.2" cy="238.5" r="3.4" fill="#c9252f"/><circle cx="295.1" cy="242.1" r="3.4" fill="#d72b2e"/><circle cx="259.2" cy="217.6" r="3.4" fill="#ed4c32"/><circle cx="272.1" cy="231.4" r="3.4" fill="#e33a30"/><circle cx="268.3" cy="222.0" r="3.4" fill="#dc2e2e"/><circle cx="270.8" cy="224.0" r="3.4" fill="#dc2e2e"/><circle cx="270.6" cy="226.4" r="3.4" fill="#e1352f"/><circle cx="265.2" cy="219.6" r="3.4" fill="#e1352f"/><circle cx="287.6" cy="238.6" r="3.4" fill="#d0282f"/><circle cx="299.0" cy="242.8" r="3.4" fill="#ef4f33"/><circle cx="270.2" cy="228.7" r="3.4" fill="#e3382f"/><circle cx="295.1" cy="239.7" r="3.4" fill="#cb262f"/><circle cx="262.6" cy="221.2" r="3.4" fill="#eb4731"/><circle cx="267.2" cy="224.0" r="3.4" fill="#dc2e2e"/><circle cx="263.0" cy="218.7" r="3.4" fill="#e94431"/><circle cx="272.7" cy="218.3" r="3.4" fill="#ea4531"/><circle cx="267.0" cy="217.3" r="3.4" fill="#f45834"/><circle cx="265.5" cy="214.4" r="3.4" fill="#f66135"/><circle cx="267.6" cy="215.1" r="3.4" fill="#dd2e2e"/><circle cx="269.2" cy="216.9" r="3.4" fill="#ea4731"/><circle cx="269.8" cy="219.2" r="3.4" fill="#f25433"/><circle cx="291.8" cy="245.3" r="3.4" fill="#d0282f"/><circle cx="289.0" cy="245.8" r="3.4" fill="#d62b2e"/><circle cx="294.0" cy="246.1" r="3.4" fill="#cf282f"/><circle cx="295.5" cy="244.4" r="3.4" fill="#c0212f"/><circle cx="301.2" cy="244.8" r="3.4" fill="#c1212f"/><circle cx="290.2" cy="243.8" r="3.4" fill="#d1292f"/><circle cx="297.5" cy="235.7" r="3.4" fill="#764846"/><circle cx="319.8" cy="238.0" r="3.4" fill="#b71d30"/><circle cx="312.5" cy="240.7" r="3.4" fill="#95293a"/><circle cx="318.3" cy="239.8" r="3.4" fill="#982739"/><circle cx="326.3" cy="239.0" r="3.4" fill="#ae1b31"/><circle cx="320.6" cy="240.0" r="3.4" fill="#a71f33"/><circle cx="315.8" cy="240.0" r="3.4" fill="#a02336"/><circle cx="323.4" cy="236.6" r="3.4" fill="#b41c30"/><circle cx="314.9" cy="242.5" r="3.4" fill="#96283a"/><circle cx="324.0" cy="239.3" r="3.4" fill="#ad1c31"/><circle cx="341.6" cy="237.6" r="3.4" fill="#df312e"/><circle cx="335.2" cy="238.4" r="3.4" fill="#cb262f"/><circle cx="337.9" cy="236.1" r="3.4" fill="#ea4531"/><circle cx="337.9" cy="239.6" r="3.4" fill="#e74030"/><circle cx="330.6" cy="235.8" r="3.4" fill="#dc2e2e"/><circle cx="332.0" cy="238.7" r="3.4" fill="#d3292e"/><circle cx="345.0" cy="239.3" r="3.4" fill="#e33930"/><circle cx="343.1" cy="240.6" r="3.4" fill="#ed4b32"/><circle cx="328.2" cy="237.1" r="3.4" fill="#d52b2e"/><circle cx="329.6" cy="239.1" r="3.4" fill="#df322f"/><circle cx="347.8" cy="240.1" r="3.4" fill="#dc2e2e"/><circle cx="326.0" cy="236.8" r="3.4" fill="#d0282f"/><circle cx="340.6" cy="239.8" r="3.4" fill="#c7242f"/><circle cx="347.4" cy="242.3" r="3.4" fill="#df312e"/><circle cx="334.0" cy="236.5" r="3.4" fill="#bd202f"/><circle cx="347.8" cy="257.2" r="3.4" fill="#f86835"/><circle cx="328.7" cy="253.0" r="3.4" fill="#f35633"/><circle cx="344.8" cy="259.6" r="3.4" fill="#fa7036"/><circle cx="335.6" cy="259.3" r="3.4" fill="#f76435"/><circle cx="340.5" cy="258.6" r="3.4" fill="#f76235"/><circle cx="328.0" cy="248.3" r="3.4" fill="#ea4531"/><circle cx="335.0" cy="255.9" r="3.4" fill="#f25533"/><circle cx="329.3" cy="255.6" r="3.4" fill="#ee4e32"/><circle cx="355.5" cy="256.8" r="3.4" fill="#f65e34"/><circle cx="349.1" cy="260.4" r="3.4" fill="#f65f34"/><circle cx="325.4" cy="251.7" r="3.4" fill="#e53d30"/><circle cx="322.5" cy="248.3" r="3.4" fill="#f45834"/><circle cx="352.5" cy="259.2" r="3.4" fill="#f25533"/><circle cx="343.3" cy="256.8" r="3.4" fill="#f76435"/><circle cx="331.8" cy="252.7" r="3.4" fill="#e1352f"/><circle cx="332.8" cy="257.2" r="3.4" fill="#ef5033"/><circle cx="337.5" cy="256.8" r="3.4" fill="#f25433"/><circle cx="350.1" cy="257.2" r="3.4" fill="#fd7f38"/><circle cx="338.7" cy="260.8" r="3.4" fill="#f35633"/><circle cx="326.0" cy="246.8" r="3.4" fill="#e43a30"/><circle cx="352.7" cy="256.1" r="3.4" fill="#fb7737"/><circle cx="341.3" cy="261.1" r="3.4" fill="#f55a34"/><circle cx="355.1" cy="259.6" r="3.4" fill="#f76335"/><circle cx="332.7" cy="248.4" r="3.4" fill="#e2372f"/><circle cx="332.2" cy="244.6" r="3.4" fill="#df312e"/><circle cx="336.9" cy="245.9" r="3.4" fill="#d0282f"/><circle cx="343.5" cy="249.4" r="3.4" fill="#e53d30"/><circle cx="327.2" cy="242.8" r="3.4" fill="#de312e"/><circle cx="340.6" cy="248.2" r="3.4" fill="#e74030"/><circle cx="337.0" cy="249.0" r="3.4" fill="#da2d2e"/><circle cx="342.7" cy="251.9" r="3.4" fill="#e2382f"/><circle cx="330.5" cy="246.1" r="3.4" fill="#de302e"/><circle cx="335.0" cy="247.6" r="3.4" fill="#ee4d32"/><circle cx="334.9" cy="245.0" r="3.4" fill="#da2d2e"/><circle cx="330.0" cy="243.5" r="3.4" fill="#d52b2e"/><circle cx="335.9" cy="262.4" r="3.4" fill="#f86936"/><circle cx="333.6" cy="267.8" r="3.4" fill="#f96d36"/><circle cx="331.8" cy="265.5" r="3.4" fill="#f96e36"/><circle cx="333.2" cy="263.2" r="3.4" fill="#fd7e38"/><circle cx="334.7" cy="264.9" r="3.4" fill="#f96d36"/><circle cx="333.8" cy="260.9" r="3.4" fill="#fd7f38"/><circle cx="365.4" cy="252.9" r="3.4" fill="#c2222f"/><circle cx="377.4" cy="257.2" r="3.4" fill="#d0282f"/><circle cx="370.9" cy="252.5" r="3.4" fill="#e2372f"/><circle cx="379.3" cy="260.2" r="3.4" fill="#cd272f"/><circle cx="381.2" cy="262.4" r="3.4" fill="#c9252f"/><circle cx="367.9" cy="250.9" r="3.4" fill="#e0342f"/><circle cx="386.9" cy="262.0" r="3.4" fill="#d32a2e"/><circle cx="373.3" cy="254.6" r="3.4" fill="#a52034"/><circle cx="363.5" cy="250.6" r="3.4" fill="#c1212f"/><circle cx="384.9" cy="259.7" r="3.4" fill="#bf212f"/><circle cx="370.2" cy="249.5" r="3.4" fill="#c3222f"/><circle cx="374.5" cy="259.1" r="3.4" fill="#c4232f"/><circle cx="382.5" cy="260.2" r="3.4" fill="#d1292f"/><circle cx="377.0" cy="263.9" r="3.4" fill="#bd202f"/><circle cx="376.7" cy="252.8" r="3.4" fill="#cc262f"/><circle cx="388.0" cy="264.8" r="3.4" fill="#b61d30"/><circle cx="388.0" cy="259.9" r="3.4" fill="#d32a2e"/><circle cx="375.4" cy="250.9" r="3.4" fill="#e0332f"/><circle cx="367.8" cy="253.9" r="3.4" fill="#cb262f"/><circle cx="390.1" cy="262.7" r="3.4" fill="#e0332f"/><circle cx="375.5" cy="255.8" r="3.4" fill="#d92c2e"/><circle cx="389.2" cy="267.3" r="3.4" fill="#a02336"/><circle cx="383.5" cy="262.6" r="3.4" fill="#cf282f"/><circle cx="376.5" cy="260.4" r="3.4" fill="#aa1d32"/><circle cx="391.9" cy="265.4" r="3.4" fill="#cf282f"/><circle cx="364.3" cy="260.5" r="3.4" fill="#e94431"/><circle cx="381.0" cy="276.9" r="3.4" fill="#fb7637"/><circle cx="374.4" cy="272.6" r="3.4" fill="#f25433"/><circle cx="372.0" cy="270.2" r="3.4" fill="#e63e30"/><circle cx="367.0" cy="262.0" r="3.4" fill="#f15333"/><circle cx="372.0" cy="273.6" r="3.4" fill="#f86635"/><circle cx="391.0" cy="277.3" r="3.4" fill="#f45834"/><circle cx="376.8" cy="271.5" r="3.4" fill="#f86a36"/><circle cx="378.9" cy="275.5" r="3.4" fill="#f65c34"/><circle cx="369.8" cy="262.6" r="3.4" fill="#ee4e32"/><circle cx="388.7" cy="277.6" r="3.4" fill="#fb7637"/><circle cx="374.5" cy="270.4" r="3.4" fill="#e84231"/><circle cx="371.8" cy="267.4" r="3.4" fill="#f76335"/><circle cx="370.1" cy="265.6" r="3.4" fill="#f05233"/><circle cx="385.6" cy="276.6" r="3.4" fill="#fc7a37"/><circle cx="377.0" cy="273.8" r="3.4" fill="#f76235"/><circle cx="368.5" cy="259.8" r="3.4" fill="#eb4932"/><circle cx="368.2" cy="264.2" r="3.4" fill="#f86635"/><circle cx="385.7" cy="279.5" r="3.4" fill="#fa7036"/><circle cx="379.8" cy="273.4" r="3.4" fill="#fb7637"/><circle cx="369.4" cy="270.3" r="3.4" fill="#f66035"/><circle cx="365.3" cy="265.0" r="3.4" fill="#f15333"/><circle cx="387.9" cy="274.6" r="3.4" fill="#fa7437"/><circle cx="381.8" cy="274.7" r="3.4" fill="#f76135"/><circle cx="381.2" cy="270.4" r="3.4" fill="#f15233"/><circle cx="368.3" cy="267.2" r="3.4" fill="#f65d34"/><circle cx="380.2" cy="268.2" r="3.4" fill="#f05133"/><circle cx="365.2" cy="268.3" r="3.4" fill="#f05133"/><circle cx="376.1" cy="267.0" r="3.4" fill="#f86835"/><circle cx="377.1" cy="269.2" r="3.4" fill="#ec4a32"/><circle cx="373.1" cy="265.3" r="3.4" fill="#f86a36"/><circle cx="379.4" cy="279.4" r="3.4" fill="#fd8339"/><circle cx="376.3" cy="277.5" r="3.4" fill="#fb9440"/><circle cx="379.0" cy="283.8" r="3.4" fill="#fb7637"/><circle cx="375.1" cy="283.3" r="3.4" fill="#fd7f38"/><circle cx="377.3" cy="285.8" r="3.4" fill="#fd8239"/><circle cx="377.2" cy="282.1" r="3.4" fill="#fc8d3e"/><circle cx="373.4" cy="285.8" r="3.4" fill="#fc8f3f"/><circle cx="364.9" cy="275.9" r="3.4" fill="#f76635"/><circle cx="362.9" cy="277.1" r="3.4" fill="#f96d36"/><circle cx="350.3" cy="286.3" r="3.4" fill="#fc7b37"/><circle cx="356.3" cy="286.8" r="3.4" fill="#fb7637"/><circle cx="359.5" cy="285.1" r="3.4" fill="#fa7237"/><circle cx="365.3" cy="278.4" r="3.4" fill="#fa7136"/><circle cx="361.1" cy="278.6" r="3.4" fill="#fc7a37"/><circle cx="362.8" cy="280.5" r="3.4" fill="#f86835"/><circle cx="361.3" cy="283.2" r="3.4" fill="#fc873b"/><circle cx="363.5" cy="274.1" r="3.4" fill="#fc8e3e"/><circle cx="353.3" cy="284.5" r="3.4" fill="#f66135"/><circle cx="360.0" cy="281.2" r="3.4" fill="#f96c36"/><circle cx="354.0" cy="286.9" r="3.4" fill="#fc893c"/><circle cx="356.8" cy="284.1" r="3.4" fill="#fd8038"/><circle cx="361.7" cy="291.4" r="3.4" fill="#fc8a3c"/><circle cx="362.4" cy="286.4" r="3.4" fill="#fd8038"/><circle cx="361.0" cy="294.5" r="3.4" fill="#fc873b"/><circle cx="356.6" cy="294.1" r="3.4" fill="#fd7f38"/><circle cx="364.2" cy="288.0" r="3.4" fill="#fa7237"/><circle cx="363.7" cy="283.7" r="3.4" fill="#fa7036"/><circle cx="363.7" cy="293.1" r="3.4" fill="#fb7637"/><circle cx="357.5" cy="297.1" r="3.4" fill="#fd7f38"/><circle cx="364.7" cy="290.5" r="3.4" fill="#f96e36"/><circle cx="361.7" cy="289.2" r="3.4" fill="#fd843a"/>
<rect x="167.09" y="134.39" width="237.82" height="279.82" fill="none" stroke="#2e2e2e" stroke-width="1.78"/>
<rect x="167.09" y="78.29" width="237.82" height="54.32" fill="#d0d0d0" stroke="#2e2e2e" stroke-width="1.78"/>
<text transform="translate(285.4,115.9) scale(1,1.04)" font-size="29.33" fill="#1a1a1a" text-anchor="middle">PCs = 2</text>
</g>
<g>
<rect x="423.9" y="133.5" width="239.6" height="281.6" fill="#fff"/>
<line x1="430.3" x2="430.3" y1="133.5" y2="415.1" stroke="#e9e9e9" stroke-width="1.78"/>
<line x1="501.5" x2="501.5" y1="133.5" y2="415.1" stroke="#e9e9e9" stroke-width="1.78"/>
<line x1="572.7" x2="572.7" y1="133.5" y2="415.1" stroke="#e9e9e9" stroke-width="1.78"/>
<line x1="643.9" x2="643.9" y1="133.5" y2="415.1" stroke="#e9e9e9" stroke-width="1.78"/>
<line y1="405.8" y2="405.8" x1="423.9" x2="663.5" stroke="#e9e9e9" stroke-width="1.78"/>
<line y1="334.5" y2="334.5" x1="423.9" x2="663.5" stroke="#e9e9e9" stroke-width="1.78"/>
<line y1="263.3" y2="263.3" x1="423.9" x2="663.5" stroke="#e9e9e9" stroke-width="1.78"/>
<line y1="192.0" y2="192.0" x1="423.9" x2="663.5" stroke="#e9e9e9" stroke-width="1.78"/>
<line x1="465.9" x2="465.9" y1="133.5" y2="415.1" stroke="#e9e9e9" stroke-width="3.56"/>
<line x1="537.1" x2="537.1" y1="133.5" y2="415.1" stroke="#e9e9e9" stroke-width="3.56"/>
<line x1="608.3" x2="608.3" y1="133.5" y2="415.1" stroke="#e9e9e9" stroke-width="3.56"/>
<line y1="370.2" y2="370.2" x1="423.9" x2="663.5" stroke="#e9e9e9" stroke-width="3.56"/>
<line y1="298.9" y2="298.9" x1="423.9" x2="663.5" stroke="#e9e9e9" stroke-width="3.56"/>
<line y1="227.6" y2="227.6" x1="423.9" x2="663.5" stroke="#e9e9e9" stroke-width="3.56"/>
<line y1="156.4" y2="156.4" x1="423.9" x2="663.5" stroke="#e9e9e9" stroke-width="3.56"/>
<circle cx="561.3" cy="291.7" r="3.4" fill="#e4c452"/><circle cx="537.9" cy="336.3" r="3.4" fill="#f6b04c"/><circle cx="507.5" cy="346.8" r="3.4" fill="#f9a949"/><circle cx="516.0" cy="324.8" r="3.4" fill="#f4b24d"/><circle cx="594.4" cy="289.9" r="3.4" fill="#faa447"/><circle cx="512.0" cy="314.8" r="3.4" fill="#f4b24d"/><circle cx="542.1" cy="373.6" r="3.4" fill="#f9ad4b"/><circle cx="524.0" cy="378.0" r="3.4" fill="#f9a949"/><circle cx="587.3" cy="333.8" r="3.4" fill="#ecbb4f"/><circle cx="533.1" cy="364.4" r="3.4" fill="#f7af4c"/><circle cx="557.8" cy="314.4" r="3.4" fill="#ebbd50"/><circle cx="495.8" cy="301.1" r="3.4" fill="#faa548"/><circle cx="590.2" cy="291.1" r="3.4" fill="#f9ac4a"/><circle cx="532.6" cy="294.8" r="3.4" fill="#ecbb4f"/><circle cx="493.9" cy="332.6" r="3.4" fill="#f9a849"/><circle cx="568.7" cy="329.2" r="3.4" fill="#e3c552"/><circle cx="500.5" cy="297.9" r="3.4" fill="#f3b44d"/><circle cx="593.5" cy="353.5" r="3.4" fill="#ebbc4f"/><circle cx="489.8" cy="374.5" r="3.4" fill="#f9a849"/><circle cx="538.8" cy="292.2" r="3.4" fill="#f4b24d"/><circle cx="523.3" cy="384.1" r="3.4" fill="#f9ad4b"/><circle cx="519.5" cy="298.6" r="3.4" fill="#f8ae4b"/><circle cx="486.5" cy="341.7" r="3.4" fill="#f0b64e"/><circle cx="584.2" cy="280.1" r="3.4" fill="#fa9c44"/><circle cx="596.4" cy="322.2" r="3.4" fill="#ecbc4f"/><circle cx="601.1" cy="364.4" r="3.4" fill="#f7af4c"/><circle cx="529.0" cy="311.5" r="3.4" fill="#edbb4f"/><circle cx="524.6" cy="314.4" r="3.4" fill="#eabe50"/><circle cx="543.0" cy="384.6" r="3.4" fill="#f1b64e"/><circle cx="539.0" cy="296.1" r="3.4" fill="#f0b64e"/><circle cx="483.0" cy="299.0" r="3.4" fill="#f6b04c"/><circle cx="534.2" cy="374.4" r="3.4" fill="#f3b34d"/><circle cx="513.7" cy="318.0" r="3.4" fill="#eabd50"/><circle cx="531.0" cy="351.5" r="3.4" fill="#f9ad4b"/><circle cx="581.7" cy="356.9" r="3.4" fill="#f3b34d"/><circle cx="545.3" cy="290.4" r="3.4" fill="#e9be50"/><circle cx="545.2" cy="377.3" r="3.4" fill="#f7af4b"/><circle cx="578.0" cy="297.2" r="3.4" fill="#e3c552"/><circle cx="547.6" cy="347.6" r="3.4" fill="#f1b64e"/><circle cx="515.8" cy="373.9" r="3.4" fill="#f1b54d"/><circle cx="577.2" cy="283.9" r="3.4" fill="#f9a749"/><circle cx="498.2" cy="284.4" r="3.4" fill="#fb9b44"/><circle cx="478.9" cy="316.6" r="3.4" fill="#f9ac4b"/><circle cx="501.2" cy="326.5" r="3.4" fill="#f3b44d"/><circle cx="490.4" cy="382.1" r="3.4" fill="#fb9b44"/><circle cx="542.9" cy="390.8" r="3.4" fill="#f8af4b"/><circle cx="555.3" cy="311.9" r="3.4" fill="#f8ae4b"/><circle cx="497.9" cy="374.6" r="3.4" fill="#faa548"/><circle cx="514.3" cy="342.1" r="3.4" fill="#ebbd50"/><circle cx="598.9" cy="335.5" r="3.4" fill="#e3c552"/><circle cx="595.7" cy="359.4" r="3.4" fill="#f2b44d"/><circle cx="530.0" cy="318.5" r="3.4" fill="#f1b54d"/><circle cx="588.5" cy="319.1" r="3.4" fill="#e3c552"/><circle cx="505.4" cy="353.0" r="3.4" fill="#edba4f"/><circle cx="510.2" cy="378.5" r="3.4" fill="#fa9e45"/><circle cx="502.2" cy="368.5" r="3.4" fill="#f9ab4a"/><circle cx="579.7" cy="351.6" r="3.4" fill="#f3b44d"/><circle cx="570.7" cy="316.2" r="3.4" fill="#e3c552"/><circle cx="476.2" cy="329.8" r="3.4" fill="#f5b14c"/><circle cx="594.8" cy="304.6" r="3.4" fill="#e3c552"/><circle cx="594.8" cy="365.8" r="3.4" fill="#e3c552"/><circle cx="581.9" cy="337.4" r="3.4" fill="#e5c351"/><circle cx="584.8" cy="282.7" r="3.4" fill="#faa246"/><circle cx="497.5" cy="314.1" r="3.4" fill="#f1b64e"/><circle cx="559.9" cy="299.4" r="3.4" fill="#e6c151"/><circle cx="514.4" cy="301.4" r="3.4" fill="#f7b04c"/><circle cx="482.1" cy="306.4" r="3.4" fill="#f4b34d"/><circle cx="515.9" cy="361.7" r="3.4" fill="#ebbc4f"/><circle cx="508.6" cy="319.6" r="3.4" fill="#efb84e"/><circle cx="539.0" cy="299.0" r="3.4" fill="#f1b54d"/><circle cx="542.9" cy="298.6" r="3.4" fill="#f6b04c"/><circle cx="508.8" cy="374.3" r="3.4" fill="#faa246"/><circle cx="575.9" cy="279.6" r="3.4" fill="#f9aa4a"/><circle cx="511.7" cy="302.6" r="3.4" fill="#e8bf50"/><circle cx="574.8" cy="366.7" r="3.4" fill="#fb9842"/><circle cx="518.8" cy="376.5" r="3.4" fill="#f9ad4b"/><circle cx="535.0" cy="337.2" r="3.4" fill="#f1b64e"/><circle cx="515.7" cy="331.7" r="3.4" fill="#f5b14c"/><circle cx="521.9" cy="323.1" r="3.4" fill="#f1b64e"/><circle cx="603.1" cy="361.7" r="3.4" fill="#f5b14c"/><circle cx="573.5" cy="363.9" r="3.4" fill="#f1b54d"/><circle cx="523.2" cy="329.5" r="3.4" fill="#f3b34d"/><circle cx="471.7" cy="291.3" r="3.4" fill="#f4b24c"/><circle cx="483.3" cy="372.0" r="3.4" fill="#f9ab4a"/><circle cx="492.8" cy="336.1" r="3.4" fill="#faa548"/><circle cx="497.7" cy="344.3" r="3.4" fill="#f9ad4b"/><circle cx="533.5" cy="354.8" r="3.4" fill="#f2b44d"/><circle cx="537.4" cy="367.5" r="3.4" fill="#f9a849"/><circle cx="480.4" cy="337.0" r="3.4" fill="#faa749"/><circle cx="498.0" cy="279.3" r="3.4" fill="#fa9e45"/><circle cx="549.1" cy="325.9" r="3.4" fill="#f9a949"/><circle cx="512.9" cy="287.9" r="3.4" fill="#f8ae4b"/><circle cx="519.2" cy="320.5" r="3.4" fill="#eabd50"/><circle cx="578.5" cy="333.8" r="3.4" fill="#e3c552"/><circle cx="565.6" cy="365.9" r="3.4" fill="#f7af4b"/><circle cx="490.9" cy="355.8" r="3.4" fill="#f0b74e"/><circle cx="558.0" cy="370.9" r="3.4" fill="#f9ad4b"/><circle cx="526.3" cy="349.6" r="3.4" fill="#faa246"/><circle cx="526.7" cy="289.9" r="3.4" fill="#f5b24c"/><circle cx="535.5" cy="362.8" r="3.4" fill="#f5b14c"/><circle cx="507.8" cy="326.8" r="3.4" fill="#f9ad4b"/><circle cx="565.8" cy="320.0" r="3.4" fill="#f1b64e"/><circle cx="553.4" cy="322.4" r="3.4" fill="#ecbb4f"/><circle cx="511.7" cy="325.2" r="3.4" fill="#f5b14c"/><circle cx="529.3" cy="305.8" r="3.4" fill="#faa648"/><circle cx="592.6" cy="331.0" r="3.4" fill="#e5c351"/><circle cx="505.4" cy="322.5" r="3.4" fill="#faa447"/><circle cx="586.7" cy="290.6" r="3.4" fill="#f9ac4a"/><circle cx="594.6" cy="338.1" r="3.4" fill="#eeb84e"/><circle cx="482.4" cy="363.0" r="3.4" fill="#faa347"/><circle cx="520.7" cy="304.4" r="3.4" fill="#e4c452"/><circle cx="536.6" cy="294.4" r="3.4" fill="#e6c251"/><circle cx="518.5" cy="315.6" r="3.4" fill="#f4b34d"/><circle cx="555.6" cy="299.7" r="3.4" fill="#ebbd50"/><circle cx="563.2" cy="329.7" r="3.4" fill="#e7c151"/><circle cx="499.7" cy="320.9" r="3.4" fill="#f9a849"/><circle cx="578.4" cy="287.8" r="3.4" fill="#eeb94f"/><circle cx="595.7" cy="273.8" r="3.4" fill="#fb9842"/><circle cx="531.5" cy="362.4" r="3.4" fill="#eabe50"/><circle cx="493.3" cy="324.5" r="3.4" fill="#f1b64e"/><circle cx="534.9" cy="310.5" r="3.4" fill="#efb84e"/><circle cx="471.8" cy="288.0" r="3.4" fill="#f1b54d"/><circle cx="502.5" cy="365.1" r="3.4" fill="#f7af4b"/><circle cx="581.4" cy="285.4" r="3.4" fill="#f5b14c"/><circle cx="491.9" cy="319.9" r="3.4" fill="#f5b24c"/><circle cx="581.4" cy="360.1" r="3.4" fill="#efb84e"/><circle cx="567.1" cy="327.2" r="3.4" fill="#e3c552"/><circle cx="569.5" cy="370.9" r="3.4" fill="#f5b24c"/><circle cx="511.9" cy="354.0" r="3.4" fill="#f1b54d"/><circle cx="481.6" cy="342.3" r="3.4" fill="#fa9d44"/><circle cx="551.3" cy="311.0" r="3.4" fill="#f1b64e"/><circle cx="585.1" cy="363.5" r="3.4" fill="#f3b44d"/><circle cx="475.9" cy="341.6" r="3.4" fill="#f2b54d"/><circle cx="562.9" cy="361.3" r="3.4" fill="#ecbb4f"/><circle cx="536.0" cy="332.4" r="3.4" fill="#f2b54d"/><circle cx="493.1" cy="351.6" r="3.4" fill="#f9a849"/><circle cx="487.3" cy="374.2" r="3.4" fill="#fa9f45"/><circle cx="507.2" cy="354.7" r="3.4" fill="#f4b24d"/><circle cx="556.3" cy="336.7" r="3.4" fill="#efb84e"/><circle cx="524.8" cy="308.0" r="3.4" fill="#f7af4c"/><circle cx="545.6" cy="296.1" r="3.4" fill="#f4b24d"/><circle cx="505.5" cy="286.7" r="3.4" fill="#f3b34d"/><circle cx="550.8" cy="373.2" r="3.4" fill="#f1b64e"/><circle cx="583.8" cy="324.5" r="3.4" fill="#e3c552"/><circle cx="548.7" cy="292.8" r="3.4" fill="#f3b44d"/><circle cx="592.0" cy="271.0" r="3.4" fill="#f9aa4a"/><circle cx="582.7" cy="318.2" r="3.4" fill="#e3c552"/><circle cx="529.0" cy="363.3" r="3.4" fill="#eeb94e"/><circle cx="485.2" cy="368.3" r="3.4" fill="#f3b34d"/><circle cx="577.0" cy="356.9" r="3.4" fill="#f9ac4b"/><circle cx="505.1" cy="306.1" r="3.4" fill="#f8ae4b"/><circle cx="527.1" cy="365.5" r="3.4" fill="#f9ac4b"/><circle cx="528.3" cy="314.4" r="3.4" fill="#eabe50"/><circle cx="590.8" cy="336.9" r="3.4" fill="#f4b34d"/><circle cx="503.4" cy="395.2" r="3.4" fill="#fb9a43"/><circle cx="482.5" cy="318.0" r="3.4" fill="#f7af4c"/><circle cx="531.5" cy="320.6" r="3.4" fill="#f4b24c"/><circle cx="536.8" cy="352.3" r="3.4" fill="#efb74e"/><circle cx="534.3" cy="319.5" r="3.4" fill="#e9bf50"/><circle cx="492.0" cy="308.1" r="3.4" fill="#f9ac4a"/><circle cx="521.4" cy="342.8" r="3.4" fill="#f7af4c"/><circle cx="594.3" cy="285.9" r="3.4" fill="#f9a949"/><circle cx="542.2" cy="364.0" r="3.4" fill="#f9a849"/><circle cx="479.6" cy="355.0" r="3.4" fill="#f9ad4b"/><circle cx="545.4" cy="383.8" r="3.4" fill="#f9a849"/><circle cx="599.2" cy="358.8" r="3.4" fill="#ebbd50"/><circle cx="499.4" cy="332.0" r="3.4" fill="#faa748"/><circle cx="590.1" cy="360.1" r="3.4" fill="#efb84e"/><circle cx="553.5" cy="318.8" r="3.4" fill="#ecbb4f"/><circle cx="533.8" cy="315.0" r="3.4" fill="#f0b74e"/><circle cx="518.0" cy="366.6" r="3.4" fill="#f2b54d"/><circle cx="502.8" cy="309.6" r="3.4" fill="#f3b44d"/><circle cx="492.5" cy="305.5" r="3.4" fill="#edba4f"/><circle cx="558.2" cy="338.9" r="3.4" fill="#ebbc4f"/><circle cx="599.5" cy="331.2" r="3.4" fill="#e3c552"/><circle cx="565.8" cy="348.3" r="3.4" fill="#f0b74e"/><circle cx="599.7" cy="278.6" r="3.4" fill="#faa648"/><circle cx="490.1" cy="290.0" r="3.4" fill="#f9ab4a"/><circle cx="545.9" cy="325.3" r="3.4" fill="#ebbc4f"/><circle cx="504.9" cy="376.2" r="3.4" fill="#fa9e45"/><circle cx="590.1" cy="364.9" r="3.4" fill="#f9a949"/><circle cx="598.8" cy="343.3" r="3.4" fill="#f1b64e"/><circle cx="569.2" cy="301.3" r="3.4" fill="#f4b24d"/><circle cx="484.5" cy="280.2" r="3.4" fill="#faa548"/><circle cx="476.3" cy="361.5" r="3.4" fill="#f6b04c"/><circle cx="559.8" cy="326.1" r="3.4" fill="#e8c050"/><circle cx="531.2" cy="344.5" r="3.4" fill="#f8ae4b"/><circle cx="604.8" cy="349.9" r="3.4" fill="#efb84e"/><circle cx="582.9" cy="340.5" r="3.4" fill="#e9bf50"/><circle cx="480.8" cy="292.4" r="3.4" fill="#eeb94e"/><circle cx="593.7" cy="347.1" r="3.4" fill="#ebbc4f"/><circle cx="503.8" cy="342.1" r="3.4" fill="#ecbb4f"/><circle cx="557.8" cy="362.9" r="3.4" fill="#eabe50"/><circle cx="559.0" cy="358.5" r="3.4" fill="#f7af4c"/><circle cx="471.8" cy="340.5" r="3.4" fill="#f6b04c"/><circle cx="592.9" cy="333.9" r="3.4" fill="#e8c051"/><circle cx="499.2" cy="350.4" r="3.4" fill="#edba4f"/><circle cx="582.7" cy="328.3" r="3.4" fill="#e3c552"/><circle cx="552.6" cy="289.3" r="3.4" fill="#f1b64e"/><circle cx="573.6" cy="322.6" r="3.4" fill="#ebbc4f"/><circle cx="574.4" cy="319.8" r="3.4" fill="#e5c351"/><circle cx="487.4" cy="349.1" r="3.4" fill="#f8ae4b"/><circle cx="525.9" cy="344.1" r="3.4" fill="#f1b64e"/><circle cx="544.8" cy="302.6" r="3.4" fill="#f0b74e"/><circle cx="581.9" cy="297.2" r="3.4" fill="#edba4f"/><circle cx="519.9" cy="326.5" r="3.4" fill="#f9ad4b"/><circle cx="553.1" cy="302.5" r="3.4" fill="#e7c151"/><circle cx="496.3" cy="365.6" r="3.4" fill="#f9ac4b"/><circle cx="538.7" cy="383.3" r="3.4" fill="#f9a849"/><circle cx="486.0" cy="286.8" r="3.4" fill="#f9ab4a"/><circle cx="496.0" cy="346.7" r="3.4" fill="#f3b34d"/><circle cx="597.6" cy="289.2" r="3.4" fill="#f9ad4b"/><circle cx="562.7" cy="349.9" r="3.4" fill="#f3b44d"/><circle cx="488.5" cy="328.5" r="3.4" fill="#f3b34d"/><circle cx="550.2" cy="369.3" r="3.4" fill="#faa548"/><circle cx="469.7" cy="329.0" r="3.4" fill="#f9aa4a"/><circle cx="487.6" cy="332.8" r="3.4" fill="#f1b64e"/><circle cx="594.3" cy="341.5" r="3.4" fill="#eeba4f"/><circle cx="586.5" cy="371.3" r="3.4" fill="#f9ad4b"/><circle cx="537.7" cy="306.8" r="3.4" fill="#edba4f"/><circle cx="585.4" cy="327.5" r="3.4" fill="#e3c552"/><circle cx="523.9" cy="311.5" r="3.4" fill="#eeb94f"/><circle cx="518.7" cy="338.2" r="3.4" fill="#f3b34d"/><circle cx="503.7" cy="358.1" r="3.4" fill="#f6b14c"/><circle cx="572.2" cy="376.7" r="3.4" fill="#f6b04c"/><circle cx="555.0" cy="373.1" r="3.4" fill="#edbb4f"/><circle cx="556.9" cy="294.3" r="3.4" fill="#f7b04c"/><circle cx="525.3" cy="380.8" r="3.4" fill="#f0b74e"/><circle cx="501.0" cy="380.0" r="3.4" fill="#fa9c44"/><circle cx="547.6" cy="380.3" r="3.4" fill="#f1b64e"/><circle cx="501.7" cy="356.2" r="3.4" fill="#faa548"/><circle cx="589.8" cy="295.5" r="3.4" fill="#f9aa4a"/><circle cx="588.4" cy="304.6" r="3.4" fill="#e3c552"/><circle cx="494.3" cy="309.8" r="3.4" fill="#f0b74e"/><circle cx="475.9" cy="319.2" r="3.4" fill="#f5b24c"/><circle cx="495.4" cy="388.1" r="3.4" fill="#fc8f3e"/><circle cx="496.5" cy="297.5" r="3.4" fill="#f9ad4b"/><circle cx="549.3" cy="305.8" r="3.4" fill="#f9ac4b"/><circle cx="575.0" cy="345.6" r="3.4" fill="#edba4f"/><circle cx="478.7" cy="365.5" r="3.4" fill="#faa748"/><circle cx="548.9" cy="386.5" r="3.4" fill="#f5b14c"/><circle cx="565.4" cy="310.3" r="3.4" fill="#f2b44d"/><circle cx="558.9" cy="335.2" r="3.4" fill="#faa547"/><circle cx="494.7" cy="378.0" r="3.4" fill="#fb9b43"/><circle cx="506.8" cy="302.3" r="3.4" fill="#f5b14c"/><circle cx="577.8" cy="325.6" r="3.4" fill="#e8bf50"/><circle cx="533.9" cy="301.8" r="3.4" fill="#e7c051"/><circle cx="557.6" cy="291.3" r="3.4" fill="#e9be50"/><circle cx="589.8" cy="288.6" r="3.4" fill="#f6b04c"/><circle cx="566.6" cy="332.3" r="3.4" fill="#f4b34d"/><circle cx="572.9" cy="317.4" r="3.4" fill="#eabe50"/><circle cx="525.7" cy="318.5" r="3.4" fill="#f6b04c"/><circle cx="553.6" cy="337.8" r="3.4" fill="#f8ae4b"/><circle cx="516.3" cy="288.6" r="3.4" fill="#f3b34d"/><circle cx="513.0" cy="305.7" r="3.4" fill="#efb84e"/><circle cx="512.6" cy="333.7" r="3.4" fill="#f1b54d"/><circle cx="549.6" cy="376.7" r="3.4" fill="#faa146"/><circle cx="589.3" cy="357.3" r="3.4" fill="#e6c251"/><circle cx="537.1" cy="344.0" r="3.4" fill="#f3b34d"/><circle cx="521.1" cy="377.5" r="3.4" fill="#f4b34d"/><circle cx="494.6" cy="382.3" r="3.4" fill="#fb9340"/><circle cx="501.4" cy="340.2" r="3.4" fill="#f8af4b"/><circle cx="504.8" cy="295.0" r="3.4" fill="#f9aa4a"/><circle cx="563.2" cy="326.0" r="3.4" fill="#e8bf50"/><circle cx="482.8" cy="333.6" r="3.4" fill="#ecbc4f"/><circle cx="573.7" cy="277.8" r="3.4" fill="#faa347"/><circle cx="576.7" cy="275.8" r="3.4" fill="#f4b34d"/><circle cx="490.3" cy="324.0" r="3.4" fill="#f9ad4b"/><circle cx="588.3" cy="352.0" r="3.4" fill="#eeb94f"/><circle cx="583.2" cy="350.1" r="3.4" fill="#ebbd50"/><circle cx="505.5" cy="360.8" r="3.4" fill="#faa548"/><circle cx="543.5" cy="327.0" r="3.4" fill="#eabd50"/><circle cx="568.5" cy="343.4" r="3.4" fill="#edba4f"/><circle cx="482.4" cy="312.3" r="3.4" fill="#e8c051"/><circle cx="509.7" cy="316.6" r="3.4" fill="#f1b54d"/><circle cx="504.3" cy="383.6" r="3.4" fill="#fb9842"/><circle cx="595.9" cy="315.0" r="3.4" fill="#e3c552"/><circle cx="598.8" cy="282.7" r="3.4" fill="#fb9440"/><circle cx="483.1" cy="294.0" r="3.4" fill="#f5b14c"/><circle cx="501.0" cy="343.1" r="3.4" fill="#fa9d44"/><circle cx="477.8" cy="296.3" r="3.4" fill="#f9ab4a"/><circle cx="572.2" cy="305.7" r="3.4" fill="#e7c151"/><circle cx="499.5" cy="309.3" r="3.4" fill="#f0b74e"/><circle cx="556.9" cy="319.9" r="3.4" fill="#ecbb4f"/><circle cx="594.1" cy="276.2" r="3.4" fill="#fb9240"/><circle cx="475.6" cy="316.4" r="3.4" fill="#faa347"/><circle cx="568.3" cy="294.9" r="3.4" fill="#f1b54d"/><circle cx="541.7" cy="338.0" r="3.4" fill="#faa247"/><circle cx="543.7" cy="322.8" r="3.4" fill="#f5b14c"/><circle cx="599.6" cy="323.7" r="3.4" fill="#e3c552"/><circle cx="575.2" cy="352.5" r="3.4" fill="#e6c151"/><circle cx="478.9" cy="342.9" r="3.4" fill="#f9ac4b"/><circle cx="510.4" cy="371.2" r="3.4" fill="#efb84e"/><circle cx="586.9" cy="360.1" r="3.4" fill="#f8af4b"/><circle cx="536.8" cy="339.0" r="3.4" fill="#f9ac4b"/><circle cx="548.1" cy="383.1" r="3.4" fill="#f5b14c"/><circle cx="479.9" cy="288.7" r="3.4" fill="#f6b14c"/><circle cx="478.4" cy="339.6" r="3.4" fill="#f3b44d"/><circle cx="584.3" cy="331.9" r="3.4" fill="#e6c251"/><circle cx="574.5" cy="274.1" r="3.4" fill="#f9a849"/><circle cx="502.9" cy="371.5" r="3.4" fill="#faa347"/><circle cx="533.4" cy="330.6" r="3.4" fill="#f5b14c"/><circle cx="475.0" cy="327.3" r="3.4" fill="#faa146"/><circle cx="484.9" cy="364.5" r="3.4" fill="#f9a949"/><circle cx="506.4" cy="378.8" r="3.4" fill="#f8af4b"/><circle cx="490.1" cy="332.1" r="3.4" fill="#f5b14c"/><circle cx="577.1" cy="303.9" r="3.4" fill="#e3c552"/><circle cx="582.5" cy="322.3" r="3.4" fill="#e3c552"/><circle cx="488.6" cy="279.6" r="3.4" fill="#fb9240"/><circle cx="583.1" cy="299.9" r="3.4" fill="#f8ae4b"/><circle cx="601.0" cy="338.7" r="3.4" fill="#eabd50"/><circle cx="591.1" cy="304.9" r="3.4" fill="#e8c050"/><circle cx="575.5" cy="299.6" r="3.4" fill="#e5c352"/><circle cx="503.7" cy="318.8" r="3.4" fill="#f1b54d"/><circle cx="534.5" cy="347.6" r="3.4" fill="#f5b14c"/><circle cx="588.8" cy="307.5" r="3.4" fill="#e3c552"/><circle cx="537.1" cy="323.9" r="3.4" fill="#f7af4c"/><circle cx="491.8" cy="371.8" r="3.4" fill="#f5b24c"/><circle cx="477.2" cy="322.6" r="3.4" fill="#faa749"/><circle cx="530.2" cy="346.8" r="3.4" fill="#f2b54d"/><circle cx="554.1" cy="365.5" r="3.4" fill="#f6b04c"/><circle cx="551.6" cy="316.7" r="3.4" fill="#f1b64e"/><circle cx="519.9" cy="295.8" r="3.4" fill="#eeb94f"/><circle cx="508.0" cy="389.0" r="3.4" fill="#f9a949"/><circle cx="546.7" cy="391.2" r="3.4" fill="#faa749"/><circle cx="596.1" cy="362.8" r="3.4" fill="#ecbb4f"/><circle cx="549.0" cy="312.9" r="3.4" fill="#f3b44d"/><circle cx="505.9" cy="336.7" r="3.4" fill="#f3b34d"/><circle cx="507.2" cy="307.8" r="3.4" fill="#e8bf50"/><circle cx="579.0" cy="360.7" r="3.4" fill="#f9ad4b"/><circle cx="559.4" cy="311.1" r="3.4" fill="#e3c552"/><circle cx="524.1" cy="292.2" r="3.4" fill="#f2b54d"/><circle cx="572.7" cy="296.6" r="3.4" fill="#e3c552"/><circle cx="538.7" cy="310.8" r="3.4" fill="#edba4f"/><circle cx="570.8" cy="365.0" r="3.4" fill="#f1b54d"/><circle cx="580.4" cy="348.7" r="3.4" fill="#efb84e"/><circle cx="539.6" cy="327.9" r="3.4" fill="#f6b04c"/><circle cx="479.1" cy="348.1" r="3.4" fill="#fa9f45"/><circle cx="556.3" cy="325.4" r="3.4" fill="#eeb94e"/><circle cx="561.6" cy="376.6" r="3.4" fill="#f9a949"/><circle cx="595.0" cy="301.8" r="3.4" fill="#ecbc4f"/><circle cx="583.8" cy="288.8" r="3.4" fill="#edba4f"/><circle cx="583.8" cy="365.7" r="3.4" fill="#e6c251"/><circle cx="544.3" cy="380.6" r="3.4" fill="#eabd50"/><circle cx="504.2" cy="346.8" r="3.4" fill="#eeb94f"/><circle cx="480.7" cy="359.0" r="3.4" fill="#f8ae4b"/><circle cx="562.3" cy="301.3" r="3.4" fill="#ebbc4f"/><circle cx="499.4" cy="386.3" r="3.4" fill="#fa9c44"/><circle cx="543.3" cy="371.4" r="3.4" fill="#faa547"/><circle cx="553.3" cy="296.4" r="3.4" fill="#ebbd50"/><circle cx="585.2" cy="315.0" r="3.4" fill="#e3c552"/><circle cx="483.4" cy="340.1" r="3.4" fill="#f5b14c"/><circle cx="543.2" cy="349.1" r="3.4" fill="#efb84e"/><circle cx="555.7" cy="331.5" r="3.4" fill="#edba4f"/><circle cx="599.8" cy="316.8" r="3.4" fill="#f0b74e"/><circle cx="569.1" cy="346.2" r="3.4" fill="#e9be50"/><circle cx="500.0" cy="293.5" r="3.4" fill="#f6b04c"/><circle cx="481.6" cy="348.3" r="3.4" fill="#f9ad4b"/><circle cx="573.4" cy="368.8" r="3.4" fill="#e7c051"/><circle cx="497.5" cy="353.4" r="3.4" fill="#f8ae4b"/><circle cx="496.3" cy="322.1" r="3.4" fill="#f9ac4a"/><circle cx="527.7" cy="295.8" r="3.4" fill="#efb84e"/><circle cx="548.8" cy="321.3" r="3.4" fill="#f5b14c"/><circle cx="567.1" cy="356.1" r="3.4" fill="#faa648"/><circle cx="559.1" cy="367.2" r="3.4" fill="#f1b64e"/><circle cx="480.8" cy="297.4" r="3.4" fill="#f9ab4a"/><circle cx="592.7" cy="370.8" r="3.4" fill="#f9a849"/><circle cx="544.0" cy="355.8" r="3.4" fill="#f8ae4b"/><circle cx="528.5" cy="368.8" r="3.4" fill="#f9a849"/><circle cx="540.5" cy="361.1" r="3.4" fill="#f0b64e"/><circle cx="545.2" cy="334.3" r="3.4" fill="#f5b24c"/><circle cx="571.6" cy="292.6" r="3.4" fill="#f2b54d"/><circle cx="512.8" cy="339.9" r="3.4" fill="#f5b14c"/><circle cx="563.6" cy="283.5" r="3.4" fill="#e5c351"/><circle cx="517.8" cy="303.8" r="3.4" fill="#f7af4c"/><circle cx="507.5" cy="324.0" r="3.4" fill="#f6b04c"/><circle cx="576.4" cy="373.6" r="3.4" fill="#f4b24d"/><circle cx="572.5" cy="325.8" r="3.4" fill="#ecbc4f"/><circle cx="567.8" cy="358.6" r="3.4" fill="#edba4f"/><circle cx="489.5" cy="343.2" r="3.4" fill="#f1b64d"/><circle cx="585.6" cy="338.0" r="3.4" fill="#e7c051"/><circle cx="540.4" cy="342.8" r="3.4" fill="#faa447"/><circle cx="575.1" cy="332.4" r="3.4" fill="#e3c552"/><circle cx="491.5" cy="339.6" r="3.4" fill="#fa9d44"/><circle cx="572.9" cy="351.1" r="3.4" fill="#ebbc4f"/><circle cx="486.9" cy="371.1" r="3.4" fill="#f0b74e"/><circle cx="581.0" cy="282.3" r="3.4" fill="#faa045"/><circle cx="533.6" cy="367.1" r="3.4" fill="#efb74e"/><circle cx="525.1" cy="333.5" r="3.4" fill="#efb84e"/><circle cx="597.2" cy="345.3" r="3.4" fill="#e3c552"/><circle cx="501.2" cy="302.9" r="3.4" fill="#eeb94f"/><circle cx="505.2" cy="390.4" r="3.4" fill="#fa9d44"/><circle cx="505.7" cy="393.6" r="3.4" fill="#faa748"/><circle cx="539.6" cy="376.2" r="3.4" fill="#f0b74e"/><circle cx="525.1" cy="354.0" r="3.4" fill="#f6b04c"/><circle cx="559.8" cy="332.4" r="3.4" fill="#edba4f"/><circle cx="562.6" cy="297.8" r="3.4" fill="#efb84e"/><circle cx="532.9" cy="312.4" r="3.4" fill="#e7c151"/><circle cx="594.1" cy="350.7" r="3.4" fill="#f0b74e"/><circle cx="588.1" cy="278.6" r="3.4" fill="#f9ab4a"/><circle cx="588.4" cy="369.5" r="3.4" fill="#f1b64e"/><circle cx="536.1" cy="304.3" r="3.4" fill="#f9ab4a"/><circle cx="486.0" cy="297.0" r="3.4" fill="#f5b14c"/><circle cx="493.7" cy="288.9" r="3.4" fill="#efb84e"/><circle cx="593.9" cy="356.1" r="3.4" fill="#e6c251"/><circle cx="511.6" cy="311.3" r="3.4" fill="#e3c452"/><circle cx="563.1" cy="294.3" r="3.4" fill="#f0b64e"/><circle cx="484.6" cy="359.8" r="3.4" fill="#faa648"/><circle cx="509.9" cy="339.0" r="3.4" fill="#f4b24c"/><circle cx="600.0" cy="319.3" r="3.4" fill="#e9bf50"/><circle cx="535.4" cy="370.5" r="3.4" fill="#f1b64e"/><circle cx="558.7" cy="329.6" r="3.4" fill="#f8af4b"/><circle cx="599.7" cy="274.7" r="3.4" fill="#f9aa4a"/><circle cx="503.6" cy="313.0" r="3.4" fill="#edba4f"/><circle cx="590.8" cy="321.6" r="3.4" fill="#e3c552"/><circle cx="574.2" cy="378.9" r="3.4" fill="#ecbb4f"/><circle cx="576.3" cy="369.6" r="3.4" fill="#efb84e"/><circle cx="534.1" cy="293.7" r="3.4" fill="#faa749"/><circle cx="488.0" cy="339.2" r="3.4" fill="#f6b04c"/><circle cx="535.8" cy="328.9" r="3.4" fill="#f3b34d"/><circle cx="560.1" cy="296.5" r="3.4" fill="#efb74e"/><circle cx="482.1" cy="351.7" r="3.4" fill="#f4b34d"/><circle cx="493.7" cy="300.7" r="3.4" fill="#f9ac4a"/><circle cx="578.4" cy="343.6" r="3.4" fill="#e3c552"/><circle cx="573.2" cy="311.0" r="3.4" fill="#e5c352"/><circle cx="550.5" cy="383.7" r="3.4" fill="#f5b14c"/><circle cx="493.6" cy="291.5" r="3.4" fill="#f0b74e"/><circle cx="569.8" cy="304.1" r="3.4" fill="#e3c552"/><circle cx="510.4" cy="351.9" r="3.4" fill="#f2b54d"/><circle cx="555.9" cy="341.6" r="3.4" fill="#edba4f"/><circle cx="488.0" cy="379.4" r="3.4" fill="#faa347"/><circle cx="531.5" cy="309.9" r="3.4" fill="#eeb94f"/><circle cx="590.9" cy="275.3" r="3.4" fill="#f9ac4a"/><circle cx="562.2" cy="365.3" r="3.4" fill="#ebbc4f"/><circle cx="497.8" cy="383.5" r="3.4" fill="#faa046"/><circle cx="533.4" cy="323.7" r="3.4" fill="#e6c251"/><circle cx="588.2" cy="302.0" r="3.4" fill="#e3c552"/><circle cx="585.5" cy="276.5" r="3.4" fill="#f9a849"/><circle cx="548.8" cy="287.8" r="3.4" fill="#e3c552"/><circle cx="520.8" cy="310.1" r="3.4" fill="#e9be50"/><circle cx="596.0" cy="295.7" r="3.4" fill="#f3b44d"/><circle cx="556.9" cy="297.4" r="3.4" fill="#f0b64e"/><circle cx="494.9" cy="357.4" r="3.4" fill="#f9ac4b"/><circle cx="592.5" cy="359.5" r="3.4" fill="#efb84e"/><circle cx="525.3" cy="375.6" r="3.4" fill="#f8ae4b"/><circle cx="503.0" cy="284.8" r="3.4" fill="#faa447"/><circle cx="584.5" cy="353.1" r="3.4" fill="#f4b24d"/><circle cx="604.5" cy="354.0" r="3.4" fill="#eeb94e"/><circle cx="501.5" cy="325.9" r="3.4" fill="#ebbc50"/><circle cx="583.4" cy="280.0" r="3.4" fill="#f8ae4b"/><circle cx="539.3" cy="330.5" r="3.4" fill="#f2b44d"/><circle cx="551.1" cy="319.8" r="3.4" fill="#efb74e"/><circle cx="507.5" cy="346.7" r="3.4" fill="#f6b14c"/><circle cx="504.7" cy="300.9" r="3.4" fill="#f6b04c"/><circle cx="495.6" cy="372.1" r="3.4" fill="#faa748"/><circle cx="501.6" cy="361.7" r="3.4" fill="#f8ae4b"/><circle cx="592.9" cy="290.0" r="3.4" fill="#f9aa4a"/><circle cx="580.6" cy="332.4" r="3.4" fill="#e3c552"/><circle cx="530.8" cy="350.5" r="3.4" fill="#e4c352"/><circle cx="564.4" cy="340.3" r="3.4" fill="#edba4f"/><circle cx="532.1" cy="304.2" r="3.4" fill="#f9ac4b"/><circle cx="498.9" cy="360.8" r="3.4" fill="#f8ae4b"/><circle cx="494.2" cy="333.5" r="3.4" fill="#ecbb4f"/><circle cx="517.7" cy="310.3" r="3.4" fill="#eeb94e"/><circle cx="577.2" cy="378.0" r="3.4" fill="#efb84e"/><circle cx="502.4" cy="376.8" r="3.4" fill="#fa9d44"/><circle cx="506.4" cy="342.5" r="3.4" fill="#eabe50"/><circle cx="503.4" cy="387.2" r="3.4" fill="#faa045"/><circle cx="499.6" cy="371.9" r="3.4" fill="#fa9e45"/><circle cx="539.2" cy="365.6" r="3.4" fill="#eeb94e"/><circle cx="595.5" cy="325.4" r="3.4" fill="#e3c552"/><circle cx="499.3" cy="347.5" r="3.4" fill="#f9ac4b"/><circle cx="537.6" cy="356.9" r="3.4" fill="#f3b34d"/><circle cx="590.7" cy="350.2" r="3.4" fill="#f3b34d"/><circle cx="575.0" cy="315.8" r="3.4" fill="#e3c552"/><circle cx="568.6" cy="367.0" r="3.4" fill="#f9ab4a"/><circle cx="523.1" cy="363.2" r="3.4" fill="#faa748"/><circle cx="553.8" cy="370.8" r="3.4" fill="#f2b44d"/><circle cx="541.6" cy="383.3" r="3.4" fill="#faa447"/><circle cx="592.3" cy="352.8" r="3.4" fill="#efb84e"/><circle cx="490.9" cy="380.8" r="3.4" fill="#fb9641"/><circle cx="494.7" cy="349.4" r="3.4" fill="#f1b64e"/><circle cx="580.1" cy="353.5" r="3.4" fill="#e5c351"/><circle cx="493.9" cy="330.6" r="3.4" fill="#eeb94e"/><circle cx="512.9" cy="350.1" r="3.4" fill="#f8ae4b"/><circle cx="576.2" cy="322.9" r="3.4" fill="#e3c552"/><circle cx="542.7" cy="300.5" r="3.4" fill="#f8ae4b"/><circle cx="582.2" cy="337.6" r="3.4" fill="#e6c251"/><circle cx="523.7" cy="321.4" r="3.4" fill="#ecbc4f"/><circle cx="501.9" cy="334.3" r="3.4" fill="#efb84e"/><circle cx="539.8" cy="346.0" r="3.4" fill="#faa748"/><circle cx="471.6" cy="337.8" r="3.4" fill="#f1b54d"/><circle cx="566.2" cy="338.3" r="3.4" fill="#e6c251"/><circle cx="567.7" cy="340.3" r="3.4" fill="#faa748"/><circle cx="505.2" cy="369.0" r="3.4" fill="#edba4f"/><circle cx="533.7" cy="353.3" r="3.4" fill="#f9a949"/><circle cx="518.5" cy="370.2" r="3.4" fill="#faa548"/><circle cx="581.5" cy="334.9" r="3.4" fill="#e4c452"/><circle cx="520.9" cy="330.3" r="3.4" fill="#f4b34d"/><circle cx="495.6" cy="277.5" r="3.4" fill="#faa246"/><circle cx="533.2" cy="374.1" r="3.4" fill="#faa748"/><circle cx="517.1" cy="331.6" r="3.4" fill="#f9a949"/><circle cx="488.3" cy="346.6" r="3.4" fill="#fa9f45"/><circle cx="540.7" cy="348.8" r="3.4" fill="#f0b74e"/><circle cx="503.8" cy="329.8" r="3.4" fill="#f5b14c"/><circle cx="512.7" cy="288.2" r="3.4" fill="#f8ae4b"/><circle cx="500.9" cy="299.2" r="3.4" fill="#f6b04c"/><circle cx="514.1" cy="317.7" r="3.4" fill="#f0b74e"/><circle cx="541.9" cy="390.3" r="3.4" fill="#f4b24d"/><circle cx="564.0" cy="276.4" r="3.4" fill="#f2b54d"/><circle cx="498.9" cy="365.5" r="3.4" fill="#f9ad4b"/><circle cx="554.5" cy="345.7" r="3.4" fill="#f6b04c"/><circle cx="578.5" cy="316.8" r="3.4" fill="#e3c552"/><circle cx="537.7" cy="316.8" r="3.4" fill="#e3c552"/><circle cx="599.0" cy="336.4" r="3.4" fill="#f1b64e"/><circle cx="558.1" cy="281.0" r="3.4" fill="#e7c151"/><circle cx="513.2" cy="370.5" r="3.4" fill="#f9a849"/><circle cx="556.5" cy="370.3" r="3.4" fill="#f1b64e"/><circle cx="555.2" cy="311.8" r="3.4" fill="#e4c452"/><circle cx="519.1" cy="292.8" r="3.4" fill="#efb84e"/><circle cx="480.9" cy="327.2" r="3.4" fill="#f8ae4b"/><circle cx="497.6" cy="344.4" r="3.4" fill="#e9bf50"/><circle cx="517.3" cy="316.4" r="3.4" fill="#e9be50"/><circle cx="526.9" cy="339.8" r="3.4" fill="#f8ae4b"/><circle cx="484.2" cy="301.0" r="3.4" fill="#f5b14c"/><circle cx="521.6" cy="313.5" r="3.4" fill="#ebbc4f"/><circle cx="566.1" cy="368.6" r="3.4" fill="#f2b54d"/><circle cx="559.0" cy="374.4" r="3.4" fill="#edba4f"/><circle cx="544.3" cy="338.3" r="3.4" fill="#faa247"/><circle cx="565.9" cy="297.4" r="3.4" fill="#f5b14c"/><circle cx="600.2" cy="313.7" r="3.4" fill="#edba4f"/><circle cx="512.5" cy="358.2" r="3.4" fill="#f2b54d"/><circle cx="589.4" cy="331.8" r="3.4" fill="#e3c552"/><circle cx="573.5" cy="342.6" r="3.4" fill="#f5b24c"/><circle cx="492.9" cy="323.4" r="3.4" fill="#f4b34d"/><circle cx="574.2" cy="348.3" r="3.4" fill="#e3c552"/><circle cx="567.9" cy="326.5" r="3.4" fill="#e8c050"/><circle cx="480.7" cy="345.8" r="3.4" fill="#f8ae4b"/><circle cx="512.4" cy="324.6" r="3.4" fill="#f7b04c"/><circle cx="527.0" cy="309.6" r="3.4" fill="#e5c351"/><circle cx="496.2" cy="301.5" r="3.4" fill="#e8bf50"/><circle cx="542.8" cy="375.4" r="3.4" fill="#faa547"/><circle cx="481.1" cy="337.2" r="3.4" fill="#edba4f"/><circle cx="596.3" cy="357.3" r="3.4" fill="#e8c051"/><circle cx="567.9" cy="316.9" r="3.4" fill="#efb84e"/><circle cx="570.1" cy="328.6" r="3.4" fill="#e6c151"/><circle cx="577.1" cy="314.0" r="3.4" fill="#e3c552"/><circle cx="507.8" cy="362.8" r="3.4" fill="#faa347"/><circle cx="595.2" cy="304.9" r="3.4" fill="#e7c151"/><circle cx="538.0" cy="379.7" r="3.4" fill="#f6b14c"/><circle cx="591.1" cy="292.4" r="3.4" fill="#f9ac4b"/><circle cx="480.0" cy="334.0" r="3.4" fill="#f3b44d"/><circle cx="583.3" cy="362.3" r="3.4" fill="#e3c552"/><circle cx="580.7" cy="285.5" r="3.4" fill="#faa447"/><circle cx="510.5" cy="303.8" r="3.4" fill="#f1b54d"/><circle cx="516.3" cy="360.3" r="3.4" fill="#f9ae4b"/><circle cx="573.7" cy="356.9" r="3.4" fill="#f9ac4b"/><circle cx="565.9" cy="319.9" r="3.4" fill="#eabd50"/><circle cx="521.7" cy="319.6" r="3.4" fill="#ebbc4f"/><circle cx="517.3" cy="300.8" r="3.4" fill="#f9aa4a"/><circle cx="608.5" cy="281.5" r="3.4" fill="#fa9c44"/><circle cx="556.6" cy="269.2" r="3.4" fill="#fa9c44"/><circle cx="461.4" cy="321.0" r="3.4" fill="#e1352f"/><circle cx="501.7" cy="372.0" r="3.4" fill="#fd8038"/><circle cx="477.7" cy="312.1" r="3.4" fill="#fd8038"/><circle cx="478.9" cy="279.9" r="3.4" fill="#fc8b3d"/><circle cx="567.8" cy="270.9" r="3.4" fill="#fd8038"/><circle cx="478.1" cy="193.9" r="3.4" fill="#d72b2e"/><circle cx="487.2" cy="227.9" r="3.4" fill="#e3382f"/><circle cx="462.7" cy="195.3" r="3.4" fill="#bd202f"/><circle cx="476.4" cy="219.9" r="3.4" fill="#df332f"/><circle cx="499.1" cy="214.2" r="3.4" fill="#e63f30"/><circle cx="491.2" cy="223.3" r="3.4" fill="#f45934"/><circle cx="474.8" cy="192.2" r="3.4" fill="#de302e"/><circle cx="488.7" cy="215.9" r="3.4" fill="#e2372f"/><circle cx="472.1" cy="211.9" r="3.4" fill="#dd2e2e"/><circle cx="480.1" cy="211.1" r="3.4" fill="#eb4832"/><circle cx="472.5" cy="218.4" r="3.4" fill="#c4232f"/><circle cx="495.7" cy="208.6" r="3.4" fill="#e84231"/><circle cx="464.4" cy="206.2" r="3.4" fill="#df312e"/><circle cx="464.8" cy="209.7" r="3.4" fill="#cd272f"/><circle cx="464.6" cy="192.4" r="3.4" fill="#ce272f"/><circle cx="496.1" cy="211.4" r="3.4" fill="#ec4a32"/><circle cx="491.2" cy="228.6" r="3.4" fill="#e33930"/><circle cx="462.9" cy="217.2" r="3.4" fill="#c1222f"/><circle cx="482.0" cy="207.5" r="3.4" fill="#db2d2e"/><circle cx="499.0" cy="226.8" r="3.4" fill="#f55a34"/><circle cx="489.8" cy="241.2" r="3.4" fill="#ec4932"/><circle cx="496.7" cy="234.2" r="3.4" fill="#f05033"/><circle cx="469.1" cy="220.8" r="3.4" fill="#cc272f"/><circle cx="491.0" cy="209.8" r="3.4" fill="#ed4b32"/><circle cx="494.5" cy="232.7" r="3.4" fill="#f55a34"/><circle cx="467.5" cy="229.2" r="3.4" fill="#d42a2e"/><circle cx="498.3" cy="217.0" r="3.4" fill="#e43b30"/><circle cx="481.7" cy="235.3" r="3.4" fill="#da2d2e"/><circle cx="494.0" cy="217.6" r="3.4" fill="#e84231"/><circle cx="473.8" cy="223.3" r="3.4" fill="#d62b2e"/><circle cx="468.8" cy="204.6" r="3.4" fill="#e84231"/><circle cx="483.7" cy="216.9" r="3.4" fill="#e3392f"/><circle cx="473.2" cy="199.9" r="3.4" fill="#d52a2e"/><circle cx="488.8" cy="233.2" r="3.4" fill="#e94331"/><circle cx="488.0" cy="236.5" r="3.4" fill="#ef5033"/><circle cx="460.1" cy="197.4" r="3.4" fill="#a81e33"/><circle cx="480.0" cy="218.4" r="3.4" fill="#fd7f38"/><circle cx="488.0" cy="219.6" r="3.4" fill="#dd2e2e"/><circle cx="462.8" cy="212.3" r="3.4" fill="#c4232f"/><circle cx="483.2" cy="229.0" r="3.4" fill="#e84231"/><circle cx="491.1" cy="212.5" r="3.4" fill="#df312e"/><circle cx="495.9" cy="214.1" r="3.4" fill="#e2372f"/><circle cx="466.0" cy="220.0" r="3.4" fill="#da2d2e"/><circle cx="464.1" cy="199.8" r="3.4" fill="#ca262f"/><circle cx="470.7" cy="225.7" r="3.4" fill="#e53c30"/><circle cx="459.3" cy="203.0" r="3.4" fill="#ce272f"/><circle cx="459.4" cy="200.4" r="3.4" fill="#d1292f"/><circle cx="475.8" cy="202.4" r="3.4" fill="#d1282f"/><circle cx="492.2" cy="219.5" r="3.4" fill="#e2372f"/><circle cx="472.4" cy="227.8" r="3.4" fill="#da2d2e"/><circle cx="461.9" cy="208.2" r="3.4" fill="#b81e30"/><circle cx="484.7" cy="214.2" r="3.4" fill="#da2c2e"/><circle cx="465.4" cy="227.4" r="3.4" fill="#bf212f"/><circle cx="491.8" cy="232.5" r="3.4" fill="#e1352f"/><circle cx="484.2" cy="233.1" r="3.4" fill="#de312e"/><circle cx="476.5" cy="211.0" r="3.4" fill="#e74131"/><circle cx="466.8" cy="222.6" r="3.4" fill="#df312e"/><circle cx="499.0" cy="220.7" r="3.4" fill="#fc7b37"/><circle cx="474.7" cy="232.4" r="3.4" fill="#e43a30"/><circle cx="478.9" cy="200.0" r="3.4" fill="#c3222f"/><circle cx="480.7" cy="223.6" r="3.4" fill="#ef4f33"/><circle cx="474.2" cy="206.4" r="3.4" fill="#e1362f"/><circle cx="470.9" cy="215.7" r="3.4" fill="#d2292f"/><circle cx="470.9" cy="189.5" r="3.4" fill="#dd2f2e"/><circle cx="497.0" cy="223.0" r="3.4" fill="#f35633"/><circle cx="460.7" cy="221.6" r="3.4" fill="#b81d30"/><circle cx="478.5" cy="215.5" r="3.4" fill="#ac1c31"/><circle cx="478.8" cy="208.2" r="3.4" fill="#d72b2e"/><circle cx="467.4" cy="210.0" r="3.4" fill="#c0212f"/><circle cx="484.6" cy="224.8" r="3.4" fill="#e63e30"/><circle cx="480.1" cy="232.1" r="3.4" fill="#d62b2e"/><circle cx="465.0" cy="202.3" r="3.4" fill="#be202f"/><circle cx="460.5" cy="215.2" r="3.4" fill="#bb1f30"/><circle cx="485.6" cy="238.2" r="3.4" fill="#e74131"/><circle cx="458.7" cy="209.3" r="3.4" fill="#ae1b31"/><circle cx="474.4" cy="214.3" r="3.4" fill="#db2d2e"/><circle cx="465.7" cy="196.3" r="3.4" fill="#c0212f"/><circle cx="495.2" cy="226.4" r="3.4" fill="#f05133"/><circle cx="483.6" cy="220.9" r="3.4" fill="#e63f30"/><circle cx="499.8" cy="223.5" r="3.4" fill="#f76135"/><circle cx="491.4" cy="216.8" r="3.4" fill="#f76435"/><circle cx="469.5" cy="211.6" r="3.4" fill="#cb262f"/><circle cx="479.1" cy="234.7" r="3.4" fill="#d62b2e"/><circle cx="491.1" cy="235.5" r="3.4" fill="#f35633"/><circle cx="494.7" cy="229.5" r="3.4" fill="#f55b34"/><circle cx="493.8" cy="237.4" r="3.4" fill="#df322f"/><circle cx="470.1" cy="201.1" r="3.4" fill="#d62b2e"/><circle cx="458.3" cy="216.6" r="3.4" fill="#c3232f"/><circle cx="474.7" cy="195.6" r="3.4" fill="#e74030"/><circle cx="470.5" cy="192.4" r="3.4" fill="#a62034"/><circle cx="490.1" cy="207.2" r="3.4" fill="#d0282f"/><circle cx="472.4" cy="231.0" r="3.4" fill="#f45934"/><circle cx="480.3" cy="228.4" r="3.4" fill="#d62b2e"/><circle cx="477.7" cy="197.3" r="3.4" fill="#e74030"/><circle cx="484.7" cy="207.2" r="3.4" fill="#ec4932"/><circle cx="470.1" cy="195.9" r="3.4" fill="#b01a30"/><circle cx="488.9" cy="248.0" r="3.4" fill="#f86735"/><circle cx="489.4" cy="253.6" r="3.4" fill="#fd8038"/><circle cx="504.6" cy="237.9" r="3.4" fill="#f96d36"/><circle cx="469.9" cy="188.3" r="3.4" fill="#8f2c3c"/><circle cx="462.1" cy="212.2" r="3.4" fill="#9a2638"/><circle cx="458.8" cy="218.9" r="3.4" fill="#a52034"/><circle cx="481.1" cy="213.3" r="3.4" fill="#b01a30"/><circle cx="553.7" cy="203.3" r="3.4" fill="#605248"/><circle cx="565.9" cy="208.9" r="3.4" fill="#ea4731"/><circle cx="568.8" cy="207.0" r="3.4" fill="#e2372f"/><circle cx="558.1" cy="210.2" r="3.4" fill="#f35633"/><circle cx="583.0" cy="209.8" r="3.4" fill="#f25433"/><circle cx="585.1" cy="212.6" r="3.4" fill="#e53c30"/><circle cx="580.4" cy="211.2" r="3.4" fill="#ca262f"/><circle cx="569.0" cy="210.6" r="3.4" fill="#f45834"/><circle cx="550.9" cy="210.1" r="3.4" fill="#ee4e32"/><circle cx="547.8" cy="210.2" r="3.4" fill="#e63e30"/><circle cx="571.9" cy="207.3" r="3.4" fill="#d72b2e"/><circle cx="549.2" cy="206.4" r="3.4" fill="#d62b2e"/><circle cx="581.4" cy="206.6" r="3.4" fill="#f76535"/><circle cx="554.5" cy="210.3" r="3.4" fill="#ec4932"/><circle cx="541.8" cy="206.6" r="3.4" fill="#cb262f"/><circle cx="552.8" cy="206.0" r="3.4" fill="#cd272f"/><circle cx="565.3" cy="204.2" r="3.4" fill="#f05133"/><circle cx="586.6" cy="210.3" r="3.4" fill="#e1352f"/><circle cx="546.8" cy="204.7" r="3.4" fill="#e84231"/><circle cx="588.8" cy="212.3" r="3.4" fill="#d82c2e"/><circle cx="557.5" cy="201.7" r="3.4" fill="#e94531"/><circle cx="562.9" cy="205.9" r="3.4" fill="#e74031"/><circle cx="575.8" cy="209.6" r="3.4" fill="#f25433"/><circle cx="556.0" cy="205.1" r="3.4" fill="#f66035"/><circle cx="545.5" cy="207.3" r="3.4" fill="#de302e"/><circle cx="560.8" cy="209.5" r="3.4" fill="#e74030"/><circle cx="563.3" cy="211.5" r="3.4" fill="#d1292f"/><circle cx="570.9" cy="204.4" r="3.4" fill="#f15333"/><circle cx="561.8" cy="202.7" r="3.4" fill="#f05133"/><circle cx="549.7" cy="202.1" r="3.4" fill="#f86735"/><circle cx="577.2" cy="205.9" r="3.4" fill="#eb4832"/><circle cx="577.9" cy="212.4" r="3.4" fill="#e74030"/><circle cx="572.6" cy="212.2" r="3.4" fill="#e0332f"/><circle cx="587.4" cy="207.6" r="3.4" fill="#e1362f"/><circle cx="555.4" cy="207.8" r="3.4" fill="#ce272f"/><circle cx="582.0" cy="213.3" r="3.4" fill="#d0282f"/><circle cx="584.1" cy="207.4" r="3.4" fill="#e43a30"/><circle cx="574.4" cy="206.2" r="3.4" fill="#e94331"/><circle cx="558.1" cy="215.0" r="3.4" fill="#af1b30"/><circle cx="561.6" cy="219.2" r="3.4" fill="#a22235"/><circle cx="559.5" cy="217.4" r="3.4" fill="#9c2537"/><circle cx="547.1" cy="224.3" r="3.4" fill="#ad1b31"/><circle cx="545.9" cy="227.2" r="3.4" fill="#b41c30"/><circle cx="561.6" cy="235.0" r="3.4" fill="#95293a"/><circle cx="559.1" cy="232.4" r="3.4" fill="#a81e33"/><circle cx="555.5" cy="227.7" r="3.4" fill="#bb1f2f"/><circle cx="562.4" cy="238.6" r="3.4" fill="#b31b30"/><circle cx="569.8" cy="215.8" r="3.4" fill="#df312e"/><circle cx="576.7" cy="229.5" r="3.4" fill="#f66135"/><circle cx="574.5" cy="226.5" r="3.4" fill="#ed4b32"/><circle cx="572.5" cy="230.2" r="3.4" fill="#e74131"/><circle cx="574.7" cy="221.0" r="3.4" fill="#d2292e"/><circle cx="579.8" cy="222.9" r="3.4" fill="#f86a36"/><circle cx="578.6" cy="218.2" r="3.4" fill="#eb4832"/><circle cx="567.8" cy="220.1" r="3.4" fill="#ee4c32"/><circle cx="571.7" cy="222.9" r="3.4" fill="#e3392f"/><circle cx="573.0" cy="215.0" r="3.4" fill="#ec4a32"/><circle cx="575.6" cy="215.0" r="3.4" fill="#d42a2e"/><circle cx="571.3" cy="225.9" r="3.4" fill="#d72b2e"/><circle cx="578.5" cy="227.5" r="3.4" fill="#e74131"/><circle cx="580.4" cy="230.1" r="3.4" fill="#d2292e"/><circle cx="576.0" cy="224.1" r="3.4" fill="#c8252f"/><circle cx="568.8" cy="224.0" r="3.4" fill="#dc2e2e"/><circle cx="566.6" cy="213.7" r="3.4" fill="#ee4c32"/><circle cx="578.3" cy="215.1" r="3.4" fill="#e63f30"/><circle cx="570.9" cy="219.4" r="3.4" fill="#f05133"/><circle cx="581.4" cy="225.0" r="3.4" fill="#f76235"/><circle cx="577.6" cy="220.9" r="3.4" fill="#fa7136"/><circle cx="578.4" cy="231.9" r="3.4" fill="#ee4d32"/><circle cx="601.9" cy="233.7" r="3.4" fill="#ed4c32"/><circle cx="594.3" cy="232.6" r="3.4" fill="#e1362f"/><circle cx="585.4" cy="243.0" r="3.4" fill="#dc2e2e"/><circle cx="597.6" cy="226.9" r="3.4" fill="#f35633"/><circle cx="579.3" cy="247.4" r="3.4" fill="#f65d34"/><circle cx="585.1" cy="251.5" r="3.4" fill="#f86835"/><circle cx="575.8" cy="250.1" r="3.4" fill="#fa7036"/><circle cx="596.7" cy="249.1" r="3.4" fill="#f65d34"/><circle cx="597.7" cy="221.0" r="3.4" fill="#fd843a"/><circle cx="599.8" cy="246.8" r="3.4" fill="#ea4631"/><circle cx="595.7" cy="253.6" r="3.4" fill="#f86835"/><circle cx="591.2" cy="221.7" r="3.4" fill="#f86936"/><circle cx="598.0" cy="240.2" r="3.4" fill="#e53c30"/><circle cx="603.1" cy="246.4" r="3.4" fill="#ed4b32"/><circle cx="585.6" cy="255.6" r="3.4" fill="#f65f34"/><circle cx="584.1" cy="248.6" r="3.4" fill="#f35633"/><circle cx="599.8" cy="257.7" r="3.4" fill="#f96b36"/><circle cx="586.1" cy="258.8" r="3.4" fill="#f96f36"/><circle cx="585.0" cy="232.4" r="3.4" fill="#e43b30"/><circle cx="601.9" cy="220.9" r="3.4" fill="#f45934"/><circle cx="588.9" cy="227.6" r="3.4" fill="#ec4a32"/><circle cx="592.2" cy="247.1" r="3.4" fill="#d0282f"/><circle cx="596.4" cy="230.8" r="3.4" fill="#e0342f"/><circle cx="601.2" cy="250.2" r="3.4" fill="#f45834"/><circle cx="583.2" cy="239.8" r="3.4" fill="#e2382f"/><circle cx="588.1" cy="238.0" r="3.4" fill="#c7242f"/><circle cx="598.7" cy="244.0" r="3.4" fill="#e63e30"/><circle cx="573.2" cy="254.7" r="3.4" fill="#f96b36"/><circle cx="586.9" cy="225.5" r="3.4" fill="#f25533"/><circle cx="580.7" cy="244.1" r="3.4" fill="#eb4832"/><circle cx="590.7" cy="259.8" r="3.4" fill="#fd7e38"/><circle cx="572.1" cy="249.9" r="3.4" fill="#fc7b38"/><circle cx="581.6" cy="251.4" r="3.4" fill="#fb7637"/><circle cx="580.3" cy="256.9" r="3.4" fill="#fa7136"/><circle cx="595.1" cy="259.5" r="3.4" fill="#f96f36"/><circle cx="576.3" cy="259.5" r="3.4" fill="#fb7737"/><circle cx="582.1" cy="259.7" r="3.4" fill="#f86a36"/><circle cx="595.6" cy="217.8" r="3.4" fill="#fd8038"/><circle cx="603.6" cy="239.1" r="3.4" fill="#f15333"/><circle cx="592.7" cy="224.4" r="3.4" fill="#e63f30"/><circle cx="577.8" cy="243.1" r="3.4" fill="#f96b36"/><circle cx="594.8" cy="240.8" r="3.4" fill="#d82c2e"/><circle cx="576.9" cy="252.7" r="3.4" fill="#f65d34"/><circle cx="591.9" cy="228.0" r="3.4" fill="#de302e"/><circle cx="584.0" cy="228.8" r="3.4" fill="#e53d30"/><circle cx="603.0" cy="253.5" r="3.4" fill="#fb7737"/><circle cx="595.0" cy="221.5" r="3.4" fill="#f65e34"/><circle cx="595.1" cy="246.3" r="3.4" fill="#e33930"/><circle cx="590.0" cy="233.2" r="3.4" fill="#c4232f"/><circle cx="572.0" cy="246.4" r="3.4" fill="#fc893c"/><circle cx="599.4" cy="232.5" r="3.4" fill="#e53d30"/><circle cx="587.7" cy="222.4" r="3.4" fill="#f86936"/><circle cx="595.8" cy="224.7" r="3.4" fill="#f15333"/><circle cx="582.8" cy="246.0" r="3.4" fill="#f76435"/><circle cx="590.0" cy="230.1" r="3.4" fill="#ea4631"/><circle cx="589.7" cy="224.8" r="3.4" fill="#f66035"/><circle cx="604.9" cy="249.4" r="3.4" fill="#fb7837"/><circle cx="592.2" cy="218.2" r="3.4" fill="#fa7337"/><circle cx="575.6" cy="256.2" r="3.4" fill="#fd843a"/><circle cx="580.1" cy="253.8" r="3.4" fill="#fd8138"/><circle cx="593.1" cy="236.2" r="3.4" fill="#c4232f"/><circle cx="602.5" cy="224.3" r="3.4" fill="#eb4832"/><circle cx="586.1" cy="246.8" r="3.4" fill="#ee4e32"/><circle cx="606.1" cy="240.4" r="3.4" fill="#f76435"/><circle cx="572.7" cy="243.5" r="3.4" fill="#fc7e38"/><circle cx="599.6" cy="253.5" r="3.4" fill="#f65f35"/><circle cx="594.0" cy="250.9" r="3.4" fill="#eb4731"/><circle cx="601.4" cy="243.6" r="3.4" fill="#ef4f33"/><circle cx="604.1" cy="228.7" r="3.4" fill="#f76135"/><circle cx="599.7" cy="225.0" r="3.4" fill="#f25433"/><circle cx="599.4" cy="229.6" r="3.4" fill="#f45834"/><circle cx="603.4" cy="236.1" r="3.4" fill="#f86835"/><circle cx="600.8" cy="239.4" r="3.4" fill="#ec4a32"/><circle cx="589.0" cy="256.7" r="3.4" fill="#f15233"/><circle cx="596.6" cy="257.1" r="3.4" fill="#fb7837"/><circle cx="590.0" cy="244.5" r="3.4" fill="#e43b30"/><circle cx="585.1" cy="237.0" r="3.4" fill="#df322f"/><circle cx="575.7" cy="240.7" r="3.4" fill="#f86a36"/><circle cx="600.1" cy="235.9" r="3.4" fill="#e84231"/><circle cx="588.2" cy="253.9" r="3.4" fill="#f66135"/><circle cx="537.4" cy="232.3" r="3.4" fill="#fa9c44"/><circle cx="544.8" cy="243.5" r="3.4" fill="#fc863a"/><circle cx="547.2" cy="246.2" r="3.4" fill="#fc863a"/><circle cx="543.7" cy="230.5" r="3.4" fill="#fa7337"/><circle cx="603.6" cy="220.0" r="3.4" fill="#fd8038"/><circle cx="588.4" cy="207.3" r="3.4" fill="#fc8b3d"/>
<rect x="424.79" y="134.39" width="237.82" height="279.82" fill="none" stroke="#2e2e2e" stroke-width="1.78"/>
<rect x="424.79" y="78.29" width="237.82" height="54.32" fill="#d0d0d0" stroke="#2e2e2e" stroke-width="1.78"/>
<text transform="translate(543.1,115.9) scale(1,1.04)" font-size="29.33" fill="#1a1a1a" text-anchor="middle">PCs = 5</text>
</g>
<g>
<rect x="681.6" y="133.5" width="239.6" height="281.6" fill="#fff"/>
<line x1="688.0" x2="688.0" y1="133.5" y2="415.1" stroke="#e9e9e9" stroke-width="1.78"/>
<line x1="759.2" x2="759.2" y1="133.5" y2="415.1" stroke="#e9e9e9" stroke-width="1.78"/>
<line x1="830.4" x2="830.4" y1="133.5" y2="415.1" stroke="#e9e9e9" stroke-width="1.78"/>
<line x1="901.6" x2="901.6" y1="133.5" y2="415.1" stroke="#e9e9e9" stroke-width="1.78"/>
<line y1="405.8" y2="405.8" x1="681.6" x2="921.2" stroke="#e9e9e9" stroke-width="1.78"/>
<line y1="334.5" y2="334.5" x1="681.6" x2="921.2" stroke="#e9e9e9" stroke-width="1.78"/>
<line y1="263.3" y2="263.3" x1="681.6" x2="921.2" stroke="#e9e9e9" stroke-width="1.78"/>
<line y1="192.0" y2="192.0" x1="681.6" x2="921.2" stroke="#e9e9e9" stroke-width="1.78"/>
<line x1="723.6" x2="723.6" y1="133.5" y2="415.1" stroke="#e9e9e9" stroke-width="3.56"/>
<line x1="794.8" x2="794.8" y1="133.5" y2="415.1" stroke="#e9e9e9" stroke-width="3.56"/>
<line x1="866.0" x2="866.0" y1="133.5" y2="415.1" stroke="#e9e9e9" stroke-width="3.56"/>
<line y1="370.2" y2="370.2" x1="681.6" x2="921.2" stroke="#e9e9e9" stroke-width="3.56"/>
<line y1="298.9" y2="298.9" x1="681.6" x2="921.2" stroke="#e9e9e9" stroke-width="3.56"/>
<line y1="227.6" y2="227.6" x1="681.6" x2="921.2" stroke="#e9e9e9" stroke-width="3.56"/>
<line y1="156.4" y2="156.4" x1="681.6" x2="921.2" stroke="#e9e9e9" stroke-width="3.56"/>
<circle cx="759.2" cy="212.2" r="3.4" fill="#291634"/><circle cx="807.5" cy="352.9" r="3.4" fill="#f9a849"/><circle cx="854.7" cy="330.7" r="3.4" fill="#e3c552"/><circle cx="818.4" cy="276.9" r="3.4" fill="#f4b24d"/><circle cx="759.8" cy="288.7" r="3.4" fill="#edba4f"/><circle cx="850.1" cy="354.6" r="3.4" fill="#e3c552"/><circle cx="753.7" cy="296.0" r="3.4" fill="#eeb94e"/><circle cx="762.8" cy="310.9" r="3.4" fill="#eeb94e"/><circle cx="828.1" cy="331.2" r="3.4" fill="#ebbc4f"/><circle cx="787.7" cy="306.5" r="3.4" fill="#faa648"/><circle cx="788.8" cy="309.1" r="3.4" fill="#f5b14c"/><circle cx="833.0" cy="276.1" r="3.4" fill="#fa9d44"/><circle cx="797.8" cy="317.0" r="3.4" fill="#f9ad4b"/><circle cx="764.4" cy="371.7" r="3.4" fill="#f6b14c"/><circle cx="790.9" cy="337.7" r="3.4" fill="#f6b04c"/><circle cx="792.6" cy="294.5" r="3.4" fill="#e4c452"/><circle cx="745.2" cy="349.9" r="3.4" fill="#fb9742"/><circle cx="809.8" cy="355.9" r="3.4" fill="#e3c552"/><circle cx="781.9" cy="362.0" r="3.4" fill="#f9a94a"/><circle cx="828.6" cy="334.6" r="3.4" fill="#f9a849"/><circle cx="810.1" cy="351.1" r="3.4" fill="#f1b54d"/><circle cx="757.7" cy="334.2" r="3.4" fill="#f9ac4b"/><circle cx="831.7" cy="333.0" r="3.4" fill="#f0b74e"/><circle cx="837.9" cy="279.4" r="3.4" fill="#faa548"/><circle cx="833.0" cy="359.7" r="3.4" fill="#eeb94f"/><circle cx="827.1" cy="369.0" r="3.4" fill="#e3c552"/><circle cx="767.9" cy="323.4" r="3.4" fill="#f7b04c"/><circle cx="784.2" cy="287.3" r="3.4" fill="#eeb94e"/><circle cx="785.7" cy="341.0" r="3.4" fill="#f1b64e"/><circle cx="771.1" cy="293.5" r="3.4" fill="#f9ad4b"/><circle cx="774.4" cy="297.1" r="3.4" fill="#e6c251"/><circle cx="824.8" cy="290.0" r="3.4" fill="#f6b04c"/><circle cx="766.7" cy="362.0" r="3.4" fill="#f9ad4b"/><circle cx="834.3" cy="309.9" r="3.4" fill="#ecbb4f"/><circle cx="809.8" cy="285.6" r="3.4" fill="#faa447"/><circle cx="759.8" cy="352.2" r="3.4" fill="#f2b54d"/><circle cx="752.5" cy="344.6" r="3.4" fill="#f9a849"/><circle cx="732.4" cy="356.9" r="3.4" fill="#fa9e45"/><circle cx="774.5" cy="321.0" r="3.4" fill="#efb84e"/><circle cx="743.7" cy="314.6" r="3.4" fill="#f1b64d"/><circle cx="850.5" cy="327.7" r="3.4" fill="#e5c251"/><circle cx="790.7" cy="324.7" r="3.4" fill="#f6b14c"/><circle cx="798.1" cy="297.3" r="3.4" fill="#eeb94f"/><circle cx="785.5" cy="375.0" r="3.4" fill="#f2b54d"/><circle cx="762.8" cy="368.0" r="3.4" fill="#efb84e"/><circle cx="762.6" cy="364.1" r="3.4" fill="#e9bf50"/><circle cx="836.5" cy="286.4" r="3.4" fill="#faa247"/><circle cx="754.1" cy="336.4" r="3.4" fill="#e9be50"/><circle cx="839.4" cy="342.4" r="3.4" fill="#f6b04c"/><circle cx="809.5" cy="364.1" r="3.4" fill="#f6b14c"/><circle cx="734.8" cy="359.4" r="3.4" fill="#faa447"/><circle cx="823.6" cy="270.1" r="3.4" fill="#fb9742"/><circle cx="793.2" cy="306.2" r="3.4" fill="#f0b74e"/><circle cx="799.0" cy="353.2" r="3.4" fill="#f4b24d"/><circle cx="781.5" cy="303.5" r="3.4" fill="#f8ae4b"/><circle cx="823.3" cy="278.6" r="3.4" fill="#faa046"/><circle cx="772.8" cy="299.5" r="3.4" fill="#e7c051"/><circle cx="761.6" cy="302.5" r="3.4" fill="#f6b04c"/><circle cx="796.8" cy="334.2" r="3.4" fill="#f5b14c"/><circle cx="742.2" cy="327.9" r="3.4" fill="#f3b44d"/><circle cx="767.6" cy="351.3" r="3.4" fill="#f3b34d"/><circle cx="829.2" cy="305.1" r="3.4" fill="#eabd50"/><circle cx="852.6" cy="356.5" r="3.4" fill="#eabe50"/><circle cx="798.9" cy="311.6" r="3.4" fill="#faa347"/><circle cx="809.4" cy="370.1" r="3.4" fill="#f8ae4b"/><circle cx="827.1" cy="309.2" r="3.4" fill="#edbb4f"/><circle cx="820.0" cy="323.7" r="3.4" fill="#f9ad4b"/><circle cx="849.5" cy="306.5" r="3.4" fill="#e5c351"/><circle cx="799.3" cy="364.7" r="3.4" fill="#e5c351"/><circle cx="754.4" cy="359.7" r="3.4" fill="#f6b04c"/><circle cx="790.7" cy="347.0" r="3.4" fill="#f3b44d"/><circle cx="747.4" cy="305.6" r="3.4" fill="#f2b54d"/><circle cx="833.4" cy="350.3" r="3.4" fill="#f2b44d"/><circle cx="781.1" cy="310.7" r="3.4" fill="#f3b34d"/><circle cx="743.6" cy="321.9" r="3.4" fill="#edba4f"/><circle cx="776.5" cy="358.6" r="3.4" fill="#faa447"/><circle cx="776.9" cy="362.0" r="3.4" fill="#f9ab4a"/><circle cx="846.6" cy="304.3" r="3.4" fill="#f1b54d"/><circle cx="772.6" cy="287.7" r="3.4" fill="#ecbb4f"/><circle cx="745.2" cy="342.7" r="3.4" fill="#f9ab4a"/><circle cx="750.9" cy="346.6" r="3.4" fill="#f7af4c"/><circle cx="742.1" cy="341.3" r="3.4" fill="#fa9d44"/><circle cx="815.2" cy="355.3" r="3.4" fill="#f5b14c"/><circle cx="846.9" cy="334.2" r="3.4" fill="#e3c552"/><circle cx="844.2" cy="363.3" r="3.4" fill="#e7c151"/><circle cx="837.2" cy="312.0" r="3.4" fill="#e9bf50"/><circle cx="832.0" cy="316.6" r="3.4" fill="#e7c151"/><circle cx="848.0" cy="348.6" r="3.4" fill="#e3c552"/><circle cx="737.4" cy="315.3" r="3.4" fill="#f9ad4b"/><circle cx="832.0" cy="354.5" r="3.4" fill="#f0b74e"/><circle cx="833.0" cy="278.7" r="3.4" fill="#f0b74e"/><circle cx="827.6" cy="272.2" r="3.4" fill="#fc8b3d"/><circle cx="825.3" cy="283.7" r="3.4" fill="#faa347"/><circle cx="766.5" cy="318.3" r="3.4" fill="#fb9b44"/><circle cx="786.5" cy="358.0" r="3.4" fill="#f3b44d"/><circle cx="791.1" cy="311.4" r="3.4" fill="#f3b34d"/><circle cx="786.1" cy="333.8" r="3.4" fill="#f5b14c"/><circle cx="821.5" cy="309.6" r="3.4" fill="#f9ac4b"/><circle cx="841.4" cy="308.7" r="3.4" fill="#edba4f"/><circle cx="820.3" cy="303.9" r="3.4" fill="#f2b54d"/><circle cx="765.5" cy="300.6" r="3.4" fill="#f0b74e"/><circle cx="742.8" cy="360.0" r="3.4" fill="#fb9240"/><circle cx="737.3" cy="353.2" r="3.4" fill="#fb9541"/><circle cx="829.4" cy="352.8" r="3.4" fill="#e3c552"/><circle cx="778.7" cy="348.3" r="3.4" fill="#f7af4c"/><circle cx="805.4" cy="364.9" r="3.4" fill="#f6b04c"/><circle cx="758.8" cy="307.2" r="3.4" fill="#ebbd50"/><circle cx="747.4" cy="340.2" r="3.4" fill="#f6b04c"/><circle cx="772.4" cy="339.8" r="3.4" fill="#e7c151"/><circle cx="828.8" cy="318.6" r="3.4" fill="#e4c452"/><circle cx="839.8" cy="297.8" r="3.4" fill="#f1b64e"/><circle cx="723.9" cy="345.6" r="3.4" fill="#f8ae4b"/><circle cx="825.1" cy="337.0" r="3.4" fill="#f9ab4a"/><circle cx="746.1" cy="319.4" r="3.4" fill="#f6b04c"/><circle cx="828.6" cy="266.7" r="3.4" fill="#faa548"/><circle cx="827.3" cy="299.6" r="3.4" fill="#eeb94f"/><circle cx="757.1" cy="303.0" r="3.4" fill="#f6b14c"/><circle cx="740.0" cy="296.5" r="3.4" fill="#f6b14c"/><circle cx="802.4" cy="334.9" r="3.4" fill="#f1b64e"/><circle cx="795.2" cy="299.8" r="3.4" fill="#f5b24c"/><circle cx="732.7" cy="364.1" r="3.4" fill="#f9a949"/><circle cx="778.1" cy="372.7" r="3.4" fill="#e6c251"/><circle cx="837.1" cy="319.5" r="3.4" fill="#efb84e"/><circle cx="804.8" cy="318.4" r="3.4" fill="#f5b24c"/><circle cx="733.8" cy="341.5" r="3.4" fill="#faa748"/><circle cx="841.0" cy="283.2" r="3.4" fill="#fa9f45"/><circle cx="818.4" cy="319.4" r="3.4" fill="#f1b64e"/><circle cx="834.8" cy="362.1" r="3.4" fill="#e8c051"/><circle cx="840.0" cy="360.6" r="3.4" fill="#eeb84e"/><circle cx="768.1" cy="308.4" r="3.4" fill="#f9ac4b"/><circle cx="793.4" cy="340.3" r="3.4" fill="#f4b24d"/><circle cx="757.1" cy="368.8" r="3.4" fill="#f4b24d"/><circle cx="839.7" cy="318.3" r="3.4" fill="#e4c452"/><circle cx="768.8" cy="304.7" r="3.4" fill="#f5b24c"/><circle cx="788.2" cy="371.3" r="3.4" fill="#e6c151"/><circle cx="803.0" cy="286.9" r="3.4" fill="#fb9b43"/><circle cx="788.1" cy="340.0" r="3.4" fill="#f9ac4b"/><circle cx="776.2" cy="333.3" r="3.4" fill="#f9ac4a"/><circle cx="808.0" cy="291.6" r="3.4" fill="#f9a949"/><circle cx="804.5" cy="306.8" r="3.4" fill="#faa347"/><circle cx="835.1" cy="300.5" r="3.4" fill="#e3c552"/><circle cx="751.2" cy="315.4" r="3.4" fill="#f9ac4b"/><circle cx="749.8" cy="290.1" r="3.4" fill="#f9aa4a"/><circle cx="810.4" cy="347.5" r="3.4" fill="#f0b74e"/><circle cx="769.7" cy="368.1" r="3.4" fill="#f1b54d"/><circle cx="732.9" cy="316.6" r="3.4" fill="#eeb94f"/><circle cx="845.1" cy="345.7" r="3.4" fill="#f0b74e"/><circle cx="771.9" cy="303.6" r="3.4" fill="#e6c251"/><circle cx="746.1" cy="334.7" r="3.4" fill="#edba4f"/><circle cx="820.8" cy="336.6" r="3.4" fill="#eeb94f"/><circle cx="816.3" cy="288.5" r="3.4" fill="#faa146"/><circle cx="822.4" cy="355.1" r="3.4" fill="#f9aa4a"/><circle cx="746.9" cy="315.2" r="3.4" fill="#edba4f"/><circle cx="843.1" cy="297.2" r="3.4" fill="#ebbc4f"/><circle cx="814.5" cy="277.6" r="3.4" fill="#fa9e45"/><circle cx="790.1" cy="327.3" r="3.4" fill="#e3c552"/><circle cx="820.4" cy="343.2" r="3.4" fill="#ecbb4f"/><circle cx="790.6" cy="379.6" r="3.4" fill="#ebbc4f"/><circle cx="784.2" cy="360.4" r="3.4" fill="#f4b24d"/><circle cx="784.8" cy="303.0" r="3.4" fill="#f9a849"/><circle cx="729.8" cy="337.1" r="3.4" fill="#f9ae4b"/><circle cx="845.8" cy="321.8" r="3.4" fill="#e3c552"/><circle cx="847.1" cy="286.7" r="3.4" fill="#f2b44d"/><circle cx="822.0" cy="341.1" r="3.4" fill="#eeb94f"/><circle cx="728.6" cy="334.7" r="3.4" fill="#faa347"/><circle cx="802.6" cy="344.2" r="3.4" fill="#f7af4c"/><circle cx="805.9" cy="314.0" r="3.4" fill="#edba4f"/><circle cx="758.1" cy="346.6" r="3.4" fill="#faa347"/><circle cx="764.9" cy="365.8" r="3.4" fill="#efb84e"/><circle cx="785.7" cy="309.6" r="3.4" fill="#faa246"/><circle cx="781.8" cy="315.3" r="3.4" fill="#e7c151"/><circle cx="837.0" cy="360.1" r="3.4" fill="#e3c552"/><circle cx="742.4" cy="311.8" r="3.4" fill="#efb84e"/><circle cx="773.5" cy="358.9" r="3.4" fill="#eeb94f"/><circle cx="801.4" cy="319.8" r="3.4" fill="#fb9842"/><circle cx="792.2" cy="368.1" r="3.4" fill="#eeb94f"/><circle cx="810.4" cy="339.9" r="3.4" fill="#ebbc50"/><circle cx="766.8" cy="355.4" r="3.4" fill="#f8ae4b"/><circle cx="846.5" cy="279.1" r="3.4" fill="#faa246"/><circle cx="778.8" cy="313.0" r="3.4" fill="#f5b14c"/><circle cx="813.9" cy="293.3" r="3.4" fill="#f4b24d"/><circle cx="784.5" cy="353.1" r="3.4" fill="#faa648"/><circle cx="754.7" cy="316.8" r="3.4" fill="#eabd50"/><circle cx="752.0" cy="322.8" r="3.4" fill="#f0b74e"/><circle cx="776.4" cy="287.8" r="3.4" fill="#faa347"/><circle cx="827.9" cy="279.3" r="3.4" fill="#f9a849"/><circle cx="781.8" cy="286.3" r="3.4" fill="#f1b54d"/><circle cx="738.7" cy="309.2" r="3.4" fill="#f5b24c"/><circle cx="794.3" cy="318.1" r="3.4" fill="#f5b14c"/><circle cx="846.5" cy="314.7" r="3.4" fill="#e3c552"/><circle cx="850.2" cy="331.7" r="3.4" fill="#e3c552"/><circle cx="769.8" cy="288.6" r="3.4" fill="#efb84e"/><circle cx="791.3" cy="299.2" r="3.4" fill="#ecbb4f"/><circle cx="832.2" cy="273.0" r="3.4" fill="#fc8e3e"/><circle cx="845.9" cy="351.6" r="3.4" fill="#f3b44d"/><circle cx="750.1" cy="352.7" r="3.4" fill="#faa447"/><circle cx="760.3" cy="328.3" r="3.4" fill="#f7af4c"/><circle cx="750.3" cy="280.1" r="3.4" fill="#fb9240"/><circle cx="840.2" cy="315.3" r="3.4" fill="#e3c552"/><circle cx="795.5" cy="365.0" r="3.4" fill="#f4b24d"/><circle cx="853.2" cy="359.0" r="3.4" fill="#e6c251"/><circle cx="800.8" cy="362.0" r="3.4" fill="#faa246"/><circle cx="811.7" cy="324.0" r="3.4" fill="#f9a849"/><circle cx="789.7" cy="367.7" r="3.4" fill="#f9ad4b"/><circle cx="819.7" cy="292.0" r="3.4" fill="#faa548"/><circle cx="841.4" cy="348.2" r="3.4" fill="#e9be50"/><circle cx="830.3" cy="295.7" r="3.4" fill="#e3c552"/><circle cx="832.5" cy="306.9" r="3.4" fill="#e4c452"/><circle cx="796.4" cy="311.8" r="3.4" fill="#f9ae4b"/><circle cx="784.5" cy="380.0" r="3.4" fill="#ecbc4f"/><circle cx="846.9" cy="309.1" r="3.4" fill="#e7c151"/><circle cx="770.9" cy="371.9" r="3.4" fill="#faa045"/><circle cx="843.4" cy="318.4" r="3.4" fill="#f0b74e"/><circle cx="736.2" cy="346.6" r="3.4" fill="#f9a849"/><circle cx="816.0" cy="350.3" r="3.4" fill="#ecbb4f"/><circle cx="789.3" cy="330.8" r="3.4" fill="#f0b74e"/><circle cx="739.0" cy="332.9" r="3.4" fill="#eeb94f"/><circle cx="758.7" cy="310.0" r="3.4" fill="#e8c051"/><circle cx="768.3" cy="339.5" r="3.4" fill="#edba4f"/><circle cx="832.6" cy="291.8" r="3.4" fill="#f3b34d"/><circle cx="837.6" cy="368.2" r="3.4" fill="#f9aa4a"/><circle cx="810.8" cy="306.0" r="3.4" fill="#faa246"/><circle cx="829.3" cy="370.7" r="3.4" fill="#eabe50"/><circle cx="802.0" cy="353.9" r="3.4" fill="#f9ad4b"/><circle cx="852.3" cy="350.4" r="3.4" fill="#eeb94f"/><circle cx="831.3" cy="367.9" r="3.4" fill="#ebbc4f"/><circle cx="794.6" cy="356.8" r="3.4" fill="#f8af4b"/><circle cx="782.0" cy="348.2" r="3.4" fill="#faa648"/><circle cx="811.6" cy="317.4" r="3.4" fill="#f9ac4a"/><circle cx="771.7" cy="316.2" r="3.4" fill="#f9ad4b"/><circle cx="814.5" cy="307.5" r="3.4" fill="#f9ad4b"/><circle cx="834.5" cy="297.7" r="3.4" fill="#f6b04c"/><circle cx="802.9" cy="294.5" r="3.4" fill="#f8ae4b"/><circle cx="824.8" cy="370.7" r="3.4" fill="#efb84e"/><circle cx="851.3" cy="321.9" r="3.4" fill="#e3c552"/><circle cx="851.4" cy="336.0" r="3.4" fill="#e8c050"/><circle cx="842.8" cy="301.8" r="3.4" fill="#ebbc4f"/><circle cx="816.1" cy="282.0" r="3.4" fill="#faa548"/><circle cx="741.5" cy="364.8" r="3.4" fill="#fb9240"/><circle cx="751.2" cy="293.9" r="3.4" fill="#ecbb4f"/><circle cx="815.2" cy="366.0" r="3.4" fill="#f9a749"/><circle cx="802.1" cy="314.4" r="3.4" fill="#f9a949"/><circle cx="806.6" cy="283.9" r="3.4" fill="#f2b44d"/><circle cx="728.3" cy="364.1" r="3.4" fill="#faa748"/><circle cx="767.4" cy="332.7" r="3.4" fill="#eeb94f"/><circle cx="768.1" cy="348.4" r="3.4" fill="#faa447"/><circle cx="795.7" cy="315.5" r="3.4" fill="#f9ad4b"/><circle cx="833.9" cy="343.3" r="3.4" fill="#efb84e"/><circle cx="799.0" cy="348.3" r="3.4" fill="#eabd50"/><circle cx="751.7" cy="327.1" r="3.4" fill="#f6b04c"/><circle cx="778.6" cy="304.2" r="3.4" fill="#f7af4c"/><circle cx="832.2" cy="301.3" r="3.4" fill="#eeb94e"/><circle cx="781.2" cy="373.4" r="3.4" fill="#f1b64e"/><circle cx="764.5" cy="341.2" r="3.4" fill="#faa447"/><circle cx="754.8" cy="288.4" r="3.4" fill="#faa347"/><circle cx="770.2" cy="301.7" r="3.4" fill="#faa548"/><circle cx="755.5" cy="345.0" r="3.4" fill="#eeb94e"/><circle cx="835.0" cy="290.5" r="3.4" fill="#f5b14c"/><circle cx="827.3" cy="312.7" r="3.4" fill="#efb84e"/><circle cx="771.8" cy="296.6" r="3.4" fill="#ebbd50"/><circle cx="839.1" cy="289.7" r="3.4" fill="#ecbc4f"/><circle cx="754.8" cy="325.1" r="3.4" fill="#eeb94e"/><circle cx="750.9" cy="349.7" r="3.4" fill="#eeb94f"/><circle cx="748.4" cy="300.2" r="3.4" fill="#ecbb4f"/><circle cx="845.2" cy="365.7" r="3.4" fill="#f2b54d"/><circle cx="810.2" cy="311.6" r="3.4" fill="#f1b54d"/><circle cx="762.3" cy="292.5" r="3.4" fill="#f9a749"/><circle cx="830.1" cy="322.8" r="3.4" fill="#eeb94e"/><circle cx="817.5" cy="297.5" r="3.4" fill="#f0b74e"/><circle cx="744.2" cy="331.2" r="3.4" fill="#f4b24d"/><circle cx="761.2" cy="295.2" r="3.4" fill="#f9ac4b"/><circle cx="743.4" cy="303.5" r="3.4" fill="#f2b54d"/><circle cx="773.3" cy="344.1" r="3.4" fill="#f8ae4b"/><circle cx="790.0" cy="290.3" r="3.4" fill="#faa648"/><circle cx="807.7" cy="332.1" r="3.4" fill="#fa9d44"/><circle cx="727.6" cy="340.1" r="3.4" fill="#faa547"/><circle cx="812.8" cy="361.2" r="3.4" fill="#f5b24c"/><circle cx="855.3" cy="334.8" r="3.4" fill="#e5c351"/><circle cx="822.0" cy="328.1" r="3.4" fill="#e6c151"/><circle cx="762.7" cy="344.7" r="3.4" fill="#f3b44d"/><circle cx="741.7" cy="299.5" r="3.4" fill="#f7af4c"/><circle cx="848.8" cy="358.5" r="3.4" fill="#e5c251"/><circle cx="775.7" cy="308.6" r="3.4" fill="#f9a949"/><circle cx="785.5" cy="337.8" r="3.4" fill="#f9aa4a"/><circle cx="744.9" cy="346.7" r="3.4" fill="#fa9e45"/><circle cx="798.6" cy="356.1" r="3.4" fill="#e5c351"/><circle cx="823.9" cy="347.4" r="3.4" fill="#e3c552"/><circle cx="744.9" cy="355.3" r="3.4" fill="#f9ad4b"/><circle cx="855.9" cy="348.1" r="3.4" fill="#e5c351"/><circle cx="829.5" cy="327.3" r="3.4" fill="#f5b24c"/><circle cx="832.4" cy="363.3" r="3.4" fill="#f9ad4b"/><circle cx="745.9" cy="310.4" r="3.4" fill="#faa247"/><circle cx="819.4" cy="332.7" r="3.4" fill="#eeb94f"/><circle cx="779.7" cy="326.2" r="3.4" fill="#f0b74e"/><circle cx="749.0" cy="361.5" r="3.4" fill="#f9ab4a"/><circle cx="836.3" cy="293.5" r="3.4" fill="#ebbc4f"/><circle cx="755.7" cy="350.6" r="3.4" fill="#fb9b43"/><circle cx="752.4" cy="363.4" r="3.4" fill="#faa347"/><circle cx="842.0" cy="289.9" r="3.4" fill="#faa648"/><circle cx="723.1" cy="348.7" r="3.4" fill="#faa648"/><circle cx="787.5" cy="324.7" r="3.4" fill="#e9bf50"/><circle cx="843.5" cy="357.2" r="3.4" fill="#e4c452"/><circle cx="779.2" cy="353.5" r="3.4" fill="#faa548"/><circle cx="790.7" cy="314.9" r="3.4" fill="#ecbc4f"/><circle cx="764.1" cy="348.8" r="3.4" fill="#faa748"/><circle cx="842.5" cy="293.8" r="3.4" fill="#ecbb4f"/><circle cx="797.6" cy="289.1" r="3.4" fill="#f5b14c"/><circle cx="816.3" cy="328.0" r="3.4" fill="#efb84e"/><circle cx="811.4" cy="366.8" r="3.4" fill="#f2b54d"/><circle cx="760.2" cy="321.0" r="3.4" fill="#edba4f"/><circle cx="824.4" cy="315.2" r="3.4" fill="#e3c552"/><circle cx="750.6" cy="283.9" r="3.4" fill="#fb9842"/><circle cx="842.2" cy="341.5" r="3.4" fill="#f2b54d"/><circle cx="741.6" cy="330.8" r="3.4" fill="#fa9e45"/><circle cx="796.8" cy="331.7" r="3.4" fill="#f8ae4b"/><circle cx="853.6" cy="338.1" r="3.4" fill="#e3c552"/><circle cx="766.8" cy="314.9" r="3.4" fill="#f7af4c"/><circle cx="808.5" cy="313.5" r="3.4" fill="#faa045"/><circle cx="752.2" cy="341.2" r="3.4" fill="#faa648"/><circle cx="801.2" cy="358.1" r="3.4" fill="#efb84e"/><circle cx="735.5" cy="317.4" r="3.4" fill="#f9ac4b"/><circle cx="758.5" cy="314.8" r="3.4" fill="#e8bf50"/><circle cx="790.9" cy="374.5" r="3.4" fill="#f5b14c"/><circle cx="818.3" cy="345.1" r="3.4" fill="#f6b04c"/><circle cx="824.7" cy="272.4" r="3.4" fill="#faa045"/><circle cx="756.1" cy="372.3" r="3.4" fill="#f1b64e"/><circle cx="843.4" cy="315.7" r="3.4" fill="#efb84e"/><circle cx="804.7" cy="359.5" r="3.4" fill="#e3c552"/><circle cx="726.0" cy="349.8" r="3.4" fill="#f3b44d"/><circle cx="838.9" cy="292.2" r="3.4" fill="#f4b34d"/><circle cx="793.4" cy="325.9" r="3.4" fill="#eeb94f"/><circle cx="842.7" cy="286.5" r="3.4" fill="#f9a849"/><circle cx="805.7" cy="373.4" r="3.4" fill="#f5b14c"/><circle cx="780.7" cy="322.1" r="3.4" fill="#f3b44d"/><circle cx="785.5" cy="382.3" r="3.4" fill="#ecbc4f"/><circle cx="780.6" cy="367.7" r="3.4" fill="#ebbc4f"/><circle cx="760.4" cy="305.3" r="3.4" fill="#f4b24d"/><circle cx="829.4" cy="315.2" r="3.4" fill="#e6c251"/><circle cx="742.2" cy="306.7" r="3.4" fill="#ecbc4f"/><circle cx="729.7" cy="332.3" r="3.4" fill="#f1b64e"/><circle cx="844.0" cy="270.8" r="3.4" fill="#f9aa4a"/><circle cx="836.2" cy="282.9" r="3.4" fill="#f9a949"/><circle cx="793.1" cy="286.3" r="3.4" fill="#e3c552"/><circle cx="805.8" cy="289.3" r="3.4" fill="#f2b44d"/><circle cx="752.7" cy="353.5" r="3.4" fill="#f9ab4a"/><circle cx="777.6" cy="356.0" r="3.4" fill="#f6b04c"/><circle cx="741.9" cy="350.3" r="3.4" fill="#f9a949"/><circle cx="832.4" cy="287.8" r="3.4" fill="#f5b24c"/><circle cx="767.2" cy="344.5" r="3.4" fill="#f4b24c"/><circle cx="787.3" cy="292.0" r="3.4" fill="#f7af4c"/><circle cx="782.6" cy="328.0" r="3.4" fill="#ecbb4f"/><circle cx="828.8" cy="337.1" r="3.4" fill="#f5b14c"/><circle cx="843.2" cy="311.1" r="3.4" fill="#eabe50"/><circle cx="822.0" cy="331.2" r="3.4" fill="#f9a949"/><circle cx="767.0" cy="358.3" r="3.4" fill="#f7af4c"/><circle cx="837.8" cy="322.2" r="3.4" fill="#e8c050"/><circle cx="772.8" cy="363.3" r="3.4" fill="#f1b54d"/><circle cx="814.5" cy="302.0" r="3.4" fill="#f9ab4a"/><circle cx="806.6" cy="348.1" r="3.4" fill="#f5b24c"/><circle cx="765.1" cy="307.7" r="3.4" fill="#e8bf50"/><circle cx="808.0" cy="296.3" r="3.4" fill="#faa548"/><circle cx="820.8" cy="300.1" r="3.4" fill="#f5b24c"/><circle cx="820.9" cy="268.3" r="3.4" fill="#fb9641"/><circle cx="766.5" cy="335.4" r="3.4" fill="#f5b14c"/><circle cx="821.7" cy="315.1" r="3.4" fill="#eabd50"/><circle cx="823.5" cy="351.1" r="3.4" fill="#e9bf50"/><circle cx="820.0" cy="279.7" r="3.4" fill="#fb9c44"/><circle cx="766.9" cy="312.4" r="3.4" fill="#f7af4c"/><circle cx="844.9" cy="360.0" r="3.4" fill="#e3c552"/><circle cx="752.5" cy="312.8" r="3.4" fill="#f9ac4b"/><circle cx="805.2" cy="332.6" r="3.4" fill="#f5b14c"/><circle cx="804.6" cy="291.9" r="3.4" fill="#f9ab4a"/><circle cx="780.5" cy="337.6" r="3.4" fill="#f9aa4a"/><circle cx="778.5" cy="308.9" r="3.4" fill="#efb84e"/><circle cx="733.7" cy="320.4" r="3.4" fill="#eeb94e"/><circle cx="748.8" cy="343.2" r="3.4" fill="#f4b34d"/><circle cx="806.9" cy="345.6" r="3.4" fill="#e5c351"/><circle cx="750.5" cy="330.2" r="3.4" fill="#f3b44d"/><circle cx="779.3" cy="333.4" r="3.4" fill="#e7c151"/><circle cx="769.8" cy="375.5" r="3.4" fill="#f2b54d"/><circle cx="779.5" cy="295.5" r="3.4" fill="#f3b34d"/><circle cx="767.0" cy="330.0" r="3.4" fill="#e8bf50"/><circle cx="761.4" cy="330.9" r="3.4" fill="#faa748"/><circle cx="835.3" cy="365.4" r="3.4" fill="#edba4f"/><circle cx="758.1" cy="330.4" r="3.4" fill="#ebbd50"/><circle cx="800.0" cy="290.1" r="3.4" fill="#e9bf50"/><circle cx="811.8" cy="281.1" r="3.4" fill="#faa447"/><circle cx="787.1" cy="343.8" r="3.4" fill="#ebbd50"/><circle cx="740.0" cy="361.5" r="3.4" fill="#fa9f45"/><circle cx="850.6" cy="348.3" r="3.4" fill="#e3c552"/><circle cx="828.2" cy="366.6" r="3.4" fill="#f1b54d"/><circle cx="848.8" cy="302.0" r="3.4" fill="#e3c552"/><circle cx="789.2" cy="355.3" r="3.4" fill="#eeb94e"/><circle cx="794.8" cy="346.7" r="3.4" fill="#e5c351"/><circle cx="727.0" cy="361.3" r="3.4" fill="#fb9c44"/><circle cx="812.0" cy="308.7" r="3.4" fill="#fb9742"/><circle cx="853.1" cy="323.8" r="3.4" fill="#e3c552"/><circle cx="747.9" cy="278.4" r="3.4" fill="#faa547"/><circle cx="801.0" cy="317.1" r="3.4" fill="#faa648"/><circle cx="824.7" cy="340.4" r="3.4" fill="#e7c051"/><circle cx="828.0" cy="269.2" r="3.4" fill="#fb9b43"/><circle cx="840.4" cy="356.1" r="3.4" fill="#efb84e"/><circle cx="786.4" cy="313.0" r="3.4" fill="#ecbb4f"/><circle cx="811.4" cy="295.0" r="3.4" fill="#fa9f45"/><circle cx="763.2" cy="359.7" r="3.4" fill="#f9ab4a"/><circle cx="732.6" cy="336.9" r="3.4" fill="#f9aa4a"/><circle cx="849.5" cy="317.3" r="3.4" fill="#f0b74e"/><circle cx="801.6" cy="281.7" r="3.4" fill="#f4b34d"/><circle cx="813.1" cy="285.0" r="3.4" fill="#f9ab4a"/><circle cx="730.5" cy="360.9" r="3.4" fill="#fb9440"/><circle cx="774.0" cy="305.5" r="3.4" fill="#f0b74e"/><circle cx="781.7" cy="355.0" r="3.4" fill="#f7af4c"/><circle cx="746.0" cy="280.9" r="3.4" fill="#f9a849"/><circle cx="795.8" cy="338.5" r="3.4" fill="#f8ae4b"/><circle cx="785.0" cy="322.3" r="3.4" fill="#f3b34d"/><circle cx="810.0" cy="288.4" r="3.4" fill="#fa9e45"/><circle cx="772.8" cy="352.1" r="3.4" fill="#f9a949"/><circle cx="740.9" cy="316.2" r="3.4" fill="#f4b24d"/><circle cx="832.8" cy="270.6" r="3.4" fill="#fb9b43"/><circle cx="757.4" cy="366.3" r="3.4" fill="#f9a949"/><circle cx="835.5" cy="269.6" r="3.4" fill="#fa9d44"/><circle cx="763.3" cy="287.3" r="3.4" fill="#faa748"/><circle cx="733.8" cy="353.7" r="3.4" fill="#faa146"/><circle cx="783.1" cy="324.4" r="3.4" fill="#f4b34d"/><circle cx="820.3" cy="276.6" r="3.4" fill="#fb9942"/><circle cx="844.2" cy="291.5" r="3.4" fill="#f6b04c"/><circle cx="851.5" cy="340.8" r="3.4" fill="#eeb94f"/><circle cx="765.7" cy="375.7" r="3.4" fill="#faa648"/><circle cx="763.1" cy="335.1" r="3.4" fill="#f9ac4b"/><circle cx="778.3" cy="341.4" r="3.4" fill="#f9aa4a"/><circle cx="760.3" cy="367.3" r="3.4" fill="#ebbd50"/><circle cx="751.0" cy="286.4" r="3.4" fill="#faa347"/><circle cx="823.0" cy="275.6" r="3.4" fill="#fb9842"/><circle cx="804.6" cy="350.7" r="3.4" fill="#f8ae4b"/><circle cx="835.1" cy="357.1" r="3.4" fill="#f7af4b"/><circle cx="793.6" cy="296.7" r="3.4" fill="#f9ac4b"/><circle cx="771.0" cy="354.6" r="3.4" fill="#faa046"/><circle cx="838.9" cy="270.0" r="3.4" fill="#f2b44d"/><circle cx="735.1" cy="367.4" r="3.4" fill="#fa9e45"/><circle cx="764.7" cy="321.6" r="3.4" fill="#f9ab4a"/><circle cx="757.4" cy="362.1" r="3.4" fill="#f7af4c"/><circle cx="821.9" cy="358.4" r="3.4" fill="#edba4f"/><circle cx="781.9" cy="297.6" r="3.4" fill="#ebbd50"/><circle cx="749.8" cy="317.8" r="3.4" fill="#f7af4c"/><circle cx="842.3" cy="277.1" r="3.4" fill="#f9ab4a"/><circle cx="767.2" cy="373.6" r="3.4" fill="#ebbc4f"/><circle cx="825.9" cy="293.3" r="3.4" fill="#f9ac4b"/><circle cx="809.7" cy="285.8" r="3.4" fill="#faa748"/><circle cx="799.4" cy="293.1" r="3.4" fill="#f2b44d"/><circle cx="790.2" cy="344.2" r="3.4" fill="#f2b54d"/><circle cx="752.0" cy="358.9" r="3.4" fill="#f9ac4b"/><circle cx="798.7" cy="342.5" r="3.4" fill="#f5b14c"/><circle cx="771.0" cy="325.5" r="3.4" fill="#f9a849"/><circle cx="842.5" cy="365.3" r="3.4" fill="#f0b74e"/><circle cx="816.1" cy="304.4" r="3.4" fill="#faa547"/><circle cx="760.6" cy="360.9" r="3.4" fill="#e5c351"/><circle cx="757.3" cy="319.7" r="3.4" fill="#f4b24d"/><circle cx="743.9" cy="313.8" r="3.4" fill="#f2b44d"/><circle cx="799.2" cy="353.6" r="3.4" fill="#eeb94f"/><circle cx="781.9" cy="293.4" r="3.4" fill="#f2b44d"/><circle cx="794.2" cy="330.1" r="3.4" fill="#f9ab4a"/><circle cx="784.4" cy="376.2" r="3.4" fill="#f9ad4b"/><circle cx="842.4" cy="334.4" r="3.4" fill="#f2b44d"/><circle cx="766.2" cy="290.2" r="3.4" fill="#f9aa4a"/><circle cx="739.2" cy="350.6" r="3.4" fill="#fa9d44"/><circle cx="769.0" cy="295.9" r="3.4" fill="#f6b04c"/><circle cx="842.7" cy="280.2" r="3.4" fill="#faa547"/><circle cx="837.5" cy="303.9" r="3.4" fill="#efb84e"/><circle cx="803.5" cy="302.6" r="3.4" fill="#fb9b43"/><circle cx="834.1" cy="313.5" r="3.4" fill="#f6b04c"/><circle cx="742.6" cy="334.1" r="3.4" fill="#f9a849"/><circle cx="774.7" cy="297.2" r="3.4" fill="#f0b74e"/><circle cx="759.2" cy="333.6" r="3.4" fill="#f8ae4b"/><circle cx="829.2" cy="341.0" r="3.4" fill="#eeb94e"/><circle cx="765.6" cy="361.3" r="3.4" fill="#f8ae4b"/><circle cx="763.1" cy="319.4" r="3.4" fill="#f2b54d"/><circle cx="837.6" cy="356.2" r="3.4" fill="#efb74e"/><circle cx="811.4" cy="354.9" r="3.4" fill="#f9aa4a"/><circle cx="790.6" cy="308.5" r="3.4" fill="#fa9e45"/><circle cx="737.1" cy="357.9" r="3.4" fill="#faa046"/><circle cx="739.0" cy="336.7" r="3.4" fill="#f6b04c"/><circle cx="786.9" cy="327.4" r="3.4" fill="#e7c051"/><circle cx="829.3" cy="274.5" r="3.4" fill="#fb9b43"/><circle cx="819.1" cy="328.0" r="3.4" fill="#eabd50"/><circle cx="796.1" cy="335.5" r="3.4" fill="#f3b34d"/><circle cx="777.7" cy="320.2" r="3.4" fill="#f8ae4b"/><circle cx="828.2" cy="332.2" r="3.4" fill="#eeb94e"/><circle cx="761.6" cy="314.0" r="3.4" fill="#f1b64e"/><circle cx="789.9" cy="296.8" r="3.4" fill="#f8ae4b"/><circle cx="825.4" cy="322.3" r="3.4" fill="#ecbb4f"/><circle cx="790.2" cy="294.0" r="3.4" fill="#f2b54d"/><circle cx="775.3" cy="322.5" r="3.4" fill="#f6b04c"/><circle cx="783.6" cy="291.2" r="3.4" fill="#ecbb4f"/><circle cx="829.7" cy="311.7" r="3.4" fill="#ecbb4f"/><circle cx="779.9" cy="330.3" r="3.4" fill="#f1b64e"/><circle cx="747.0" cy="348.6" r="3.4" fill="#faa447"/><circle cx="799.8" cy="364.8" r="3.4" fill="#f4b24c"/><circle cx="747.3" cy="331.7" r="3.4" fill="#f7af4c"/><circle cx="812.2" cy="342.8" r="3.4" fill="#edba4f"/><circle cx="743.4" cy="328.7" r="3.4" fill="#eeb94f"/><circle cx="832.2" cy="319.3" r="3.4" fill="#e6c251"/><circle cx="842.9" cy="350.3" r="3.4" fill="#e5c351"/><circle cx="805.2" cy="300.2" r="3.4" fill="#faa347"/><circle cx="759.3" cy="354.8" r="3.4" fill="#f4b34d"/><circle cx="825.2" cy="289.8" r="3.4" fill="#f9ac4b"/><circle cx="806.1" cy="362.3" r="3.4" fill="#f5b14c"/><circle cx="742.7" cy="345.1" r="3.4" fill="#f9ad4b"/><circle cx="827.0" cy="285.6" r="3.4" fill="#f6b14c"/><circle cx="782.9" cy="340.4" r="3.4" fill="#f9ac4b"/><circle cx="750.3" cy="337.5" r="3.4" fill="#f9ac4b"/><circle cx="767.8" cy="287.1" r="3.4" fill="#edbb4f"/><circle cx="739.3" cy="324.1" r="3.4" fill="#f8ae4b"/><circle cx="826.4" cy="342.4" r="3.4" fill="#faa347"/><circle cx="822.1" cy="334.1" r="3.4" fill="#ebbc4f"/><circle cx="844.9" cy="354.1" r="3.4" fill="#e3c552"/><circle cx="745.9" cy="352.7" r="3.4" fill="#f9ad4b"/><circle cx="819.0" cy="287.1" r="3.4" fill="#f9a849"/><circle cx="842.7" cy="322.9" r="3.4" fill="#e3c552"/><circle cx="760.5" cy="287.7" r="3.4" fill="#f9a949"/><circle cx="783.0" cy="345.0" r="3.4" fill="#f4b34d"/><circle cx="790.9" cy="347.4" r="3.4" fill="#e8bf50"/><circle cx="798.6" cy="328.9" r="3.4" fill="#f9a749"/><circle cx="790.0" cy="317.4" r="3.4" fill="#f9ac4b"/><circle cx="846.6" cy="334.4" r="3.4" fill="#ecbb4f"/><circle cx="769.3" cy="336.6" r="3.4" fill="#f6b04c"/><circle cx="736.7" cy="322.1" r="3.4" fill="#f8ae4b"/><circle cx="759.3" cy="351.2" r="3.4" fill="#f3b34d"/><circle cx="762.6" cy="301.7" r="3.4" fill="#eabe50"/><circle cx="853.7" cy="354.8" r="3.4" fill="#e3c552"/><circle cx="839.6" cy="307.9" r="3.4" fill="#f3b44d"/><circle cx="758.3" cy="301.7" r="3.4" fill="#edba4f"/><circle cx="856.6" cy="329.0" r="3.4" fill="#e3c552"/><circle cx="788.4" cy="299.2" r="3.4" fill="#f6b04c"/><circle cx="831.6" cy="298.4" r="3.4" fill="#ecbb4f"/><circle cx="778.2" cy="284.2" r="3.4" fill="#edba4f"/><circle cx="849.9" cy="327.3" r="3.4" fill="#e7c151"/><circle cx="788.4" cy="359.8" r="3.4" fill="#f9ab4a"/><circle cx="834.1" cy="333.6" r="3.4" fill="#ecbb4f"/><circle cx="724.8" cy="346.6" r="3.4" fill="#fb9a43"/><circle cx="808.1" cy="341.9" r="3.4" fill="#f5b24c"/><circle cx="786.2" cy="350.2" r="3.4" fill="#f1b64e"/><circle cx="850.7" cy="361.4" r="3.4" fill="#f7b04c"/><circle cx="726.5" cy="336.5" r="3.4" fill="#f9ab4a"/><circle cx="812.8" cy="271.5" r="3.4" fill="#faa146"/><circle cx="783.9" cy="331.9" r="3.4" fill="#f8ae4b"/><circle cx="745.7" cy="292.2" r="3.4" fill="#fb9a43"/><circle cx="846.2" cy="357.0" r="3.4" fill="#efb84e"/><circle cx="834.7" cy="353.6" r="3.4" fill="#e3c552"/><circle cx="803.4" cy="305.4" r="3.4" fill="#faa548"/><circle cx="812.5" cy="363.7" r="3.4" fill="#f6b04c"/><circle cx="757.2" cy="324.1" r="3.4" fill="#f9ac4b"/><circle cx="809.8" cy="344.9" r="3.4" fill="#e8bf50"/><circle cx="820.2" cy="348.4" r="3.4" fill="#efb84e"/><circle cx="818.6" cy="357.1" r="3.4" fill="#e3c552"/><circle cx="787.5" cy="288.6" r="3.4" fill="#f9ad4b"/><circle cx="798.0" cy="358.5" r="3.4" fill="#e3c552"/><circle cx="830.1" cy="352.4" r="3.4" fill="#e5c351"/><circle cx="772.7" cy="303.0" r="3.4" fill="#faa146"/><circle cx="822.0" cy="303.1" r="3.4" fill="#f7af4c"/><circle cx="748.3" cy="290.8" r="3.4" fill="#f4b24d"/><circle cx="837.3" cy="300.4" r="3.4" fill="#eeb94f"/><circle cx="785.0" cy="301.5" r="3.4" fill="#ebbc4f"/><circle cx="734.1" cy="356.6" r="3.4" fill="#faa046"/><circle cx="845.4" cy="284.8" r="3.4" fill="#faa748"/><circle cx="780.4" cy="361.2" r="3.4" fill="#f9a849"/><circle cx="794.7" cy="291.7" r="3.4" fill="#faa648"/><circle cx="752.2" cy="297.6" r="3.4" fill="#f2b44d"/><circle cx="798.3" cy="309.0" r="3.4" fill="#f4b24c"/><circle cx="806.2" cy="281.2" r="3.4" fill="#e8bf50"/><circle cx="833.9" cy="369.5" r="3.4" fill="#f4b34d"/><circle cx="829.0" cy="281.6" r="3.4" fill="#fa9d44"/><circle cx="850.5" cy="345.5" r="3.4" fill="#e3c552"/><circle cx="787.2" cy="372.8" r="3.4" fill="#f6b04c"/><circle cx="773.7" cy="290.3" r="3.4" fill="#eeb94f"/><circle cx="833.0" cy="267.0" r="3.4" fill="#fa9d44"/><circle cx="740.5" cy="357.9" r="3.4" fill="#fb9641"/><circle cx="772.9" cy="367.5" r="3.4" fill="#e8bf50"/><circle cx="754.2" cy="356.1" r="3.4" fill="#fa9f45"/><circle cx="781.4" cy="317.8" r="3.4" fill="#f2b54d"/><circle cx="855.0" cy="331.4" r="3.4" fill="#e8bf50"/><circle cx="823.8" cy="344.6" r="3.4" fill="#e8c051"/><circle cx="841.1" cy="299.3" r="3.4" fill="#edba4f"/><circle cx="789.6" cy="340.6" r="3.4" fill="#eeb94e"/><circle cx="763.5" cy="366.2" r="3.4" fill="#f3b44d"/><circle cx="782.9" cy="370.5" r="3.4" fill="#f0b74e"/><circle cx="824.3" cy="301.9" r="3.4" fill="#f3b34d"/><circle cx="826.4" cy="308.1" r="3.4" fill="#f2b54d"/><circle cx="812.3" cy="351.3" r="3.4" fill="#f3b44d"/><circle cx="829.9" cy="306.0" r="3.4" fill="#ebbc4f"/><circle cx="759.8" cy="373.2" r="3.4" fill="#ebbc4f"/><circle cx="741.5" cy="295.8" r="3.4" fill="#f2b54d"/><circle cx="789.0" cy="312.8" r="3.4" fill="#f4b34d"/><circle cx="761.1" cy="376.3" r="3.4" fill="#efb84e"/><circle cx="764.0" cy="329.0" r="3.4" fill="#edba4f"/><circle cx="763.8" cy="304.6" r="3.4" fill="#f1b64e"/><circle cx="763.1" cy="352.9" r="3.4" fill="#faa146"/><circle cx="756.6" cy="316.9" r="3.4" fill="#ecbb4f"/><circle cx="817.0" cy="353.7" r="3.4" fill="#f4b24c"/><circle cx="734.2" cy="363.3" r="3.4" fill="#fb9b43"/><circle cx="745.1" cy="316.6" r="3.4" fill="#efb84e"/><circle cx="733.5" cy="324.2" r="3.4" fill="#faa749"/><circle cx="744.0" cy="334.0" r="3.4" fill="#e53d30"/><circle cx="757.0" cy="374.2" r="3.4" fill="#fa7337"/><circle cx="745.8" cy="274.7" r="3.4" fill="#e53d30"/><circle cx="770.4" cy="284.8" r="3.4" fill="#fd8038"/><circle cx="856.4" cy="284.4" r="3.4" fill="#fc8b3d"/><circle cx="750.7" cy="273.6" r="3.4" fill="#fa7337"/><circle cx="759.2" cy="283.7" r="3.4" fill="#faa246"/><circle cx="742.9" cy="216.2" r="3.4" fill="#e63f30"/><circle cx="739.7" cy="200.5" r="3.4" fill="#c2222f"/><circle cx="746.1" cy="233.0" r="3.4" fill="#f66135"/><circle cx="748.6" cy="235.9" r="3.4" fill="#eb4832"/><circle cx="750.6" cy="230.2" r="3.4" fill="#ce272f"/><circle cx="733.9" cy="221.6" r="3.4" fill="#e33930"/><circle cx="747.9" cy="210.8" r="3.4" fill="#df332f"/><circle cx="755.2" cy="215.9" r="3.4" fill="#ec4a32"/><circle cx="742.2" cy="224.4" r="3.4" fill="#eb4832"/><circle cx="730.6" cy="221.3" r="3.4" fill="#d62b2e"/><circle cx="725.2" cy="218.8" r="3.4" fill="#da2d2e"/><circle cx="728.1" cy="208.4" r="3.4" fill="#da2d2e"/><circle cx="753.7" cy="209.6" r="3.4" fill="#c9252f"/><circle cx="755.5" cy="230.7" r="3.4" fill="#d72c2e"/><circle cx="749.1" cy="221.7" r="3.4" fill="#d52a2e"/><circle cx="738.7" cy="222.3" r="3.4" fill="#c9252f"/><circle cx="737.2" cy="235.0" r="3.4" fill="#e63e30"/><circle cx="750.6" cy="225.7" r="3.4" fill="#e53d30"/><circle cx="743.8" cy="213.0" r="3.4" fill="#c7242f"/><circle cx="746.9" cy="215.5" r="3.4" fill="#e84331"/><circle cx="730.3" cy="204.2" r="3.4" fill="#e74030"/><circle cx="749.5" cy="208.1" r="3.4" fill="#e43b30"/><circle cx="756.7" cy="220.1" r="3.4" fill="#f45734"/><circle cx="730.0" cy="216.2" r="3.4" fill="#df322f"/><circle cx="754.1" cy="206.0" r="3.4" fill="#ce272f"/><circle cx="736.1" cy="211.7" r="3.4" fill="#de302e"/><circle cx="731.7" cy="201.6" r="3.4" fill="#dd2e2e"/><circle cx="737.2" cy="208.9" r="3.4" fill="#c8252f"/><circle cx="744.0" cy="229.8" r="3.4" fill="#e84131"/><circle cx="736.6" cy="200.5" r="3.4" fill="#bf212f"/><circle cx="732.0" cy="209.5" r="3.4" fill="#f15333"/><circle cx="749.3" cy="202.8" r="3.4" fill="#c9252f"/><circle cx="754.1" cy="226.1" r="3.4" fill="#c4232f"/><circle cx="746.3" cy="238.9" r="3.4" fill="#e63e30"/><circle cx="744.9" cy="221.5" r="3.4" fill="#e63f30"/><circle cx="743.5" cy="199.1" r="3.4" fill="#ca252f"/><circle cx="741.1" cy="204.7" r="3.4" fill="#dd2e2e"/><circle cx="753.9" cy="238.2" r="3.4" fill="#dd2f2e"/><circle cx="752.8" cy="213.2" r="3.4" fill="#ef4f32"/><circle cx="749.0" cy="240.8" r="3.4" fill="#e84231"/><circle cx="728.4" cy="230.2" r="3.4" fill="#f55b34"/><circle cx="742.4" cy="219.9" r="3.4" fill="#e1352f"/><circle cx="729.7" cy="226.8" r="3.4" fill="#f05133"/><circle cx="745.9" cy="224.9" r="3.4" fill="#eb4832"/><circle cx="751.7" cy="235.2" r="3.4" fill="#d1292f"/><circle cx="732.2" cy="213.3" r="3.4" fill="#dc2d2e"/><circle cx="736.5" cy="204.3" r="3.4" fill="#c7242f"/><circle cx="733.3" cy="227.1" r="3.4" fill="#cd272f"/><circle cx="737.6" cy="230.8" r="3.4" fill="#db2d2e"/><circle cx="739.9" cy="232.6" r="3.4" fill="#d1292f"/><circle cx="737.5" cy="219.6" r="3.4" fill="#da2d2e"/><circle cx="749.2" cy="244.7" r="3.4" fill="#ea4631"/><circle cx="743.0" cy="239.8" r="3.4" fill="#e43b30"/><circle cx="737.0" cy="215.8" r="3.4" fill="#e1352f"/><circle cx="738.3" cy="225.3" r="3.4" fill="#e53d30"/><circle cx="745.3" cy="207.3" r="3.4" fill="#e3382f"/><circle cx="727.4" cy="224.1" r="3.4" fill="#ea4531"/><circle cx="741.1" cy="236.9" r="3.4" fill="#e1352f"/><circle cx="755.6" cy="240.9" r="3.4" fill="#e0332f"/><circle cx="744.1" cy="235.5" r="3.4" fill="#d72b2e"/><circle cx="756.2" cy="236.3" r="3.4" fill="#e53c30"/><circle cx="754.6" cy="233.8" r="3.4" fill="#db2d2e"/><circle cx="745.8" cy="203.4" r="3.4" fill="#e1362f"/><circle cx="757.3" cy="223.1" r="3.4" fill="#d1282f"/><circle cx="752.4" cy="243.7" r="3.4" fill="#e1362f"/><circle cx="747.7" cy="200.0" r="3.4" fill="#df312e"/><circle cx="752.3" cy="217.3" r="3.4" fill="#cc262f"/><circle cx="739.7" cy="210.6" r="3.4" fill="#c9252f"/><circle cx="747.4" cy="230.4" r="3.4" fill="#d82c2e"/><circle cx="725.7" cy="227.2" r="3.4" fill="#df312e"/><circle cx="726.4" cy="215.2" r="3.4" fill="#da2d2e"/><circle cx="756.3" cy="213.0" r="3.4" fill="#ed4b32"/><circle cx="734.2" cy="206.7" r="3.4" fill="#d72c2e"/><circle cx="752.2" cy="240.7" r="3.4" fill="#de302e"/><circle cx="734.6" cy="231.2" r="3.4" fill="#ef4e32"/><circle cx="742.9" cy="209.5" r="3.4" fill="#da2d2e"/><circle cx="724.0" cy="223.7" r="3.4" fill="#de302e"/><circle cx="739.6" cy="213.9" r="3.4" fill="#e1362f"/><circle cx="739.7" cy="228.1" r="3.4" fill="#e74031"/><circle cx="733.8" cy="217.9" r="3.4" fill="#e53d30"/><circle cx="731.6" cy="230.7" r="3.4" fill="#ea4631"/><circle cx="728.0" cy="211.6" r="3.4" fill="#de312e"/><circle cx="745.7" cy="242.2" r="3.4" fill="#df322e"/><circle cx="735.4" cy="224.4" r="3.4" fill="#e1352f"/><circle cx="728.5" cy="218.9" r="3.4" fill="#dc2e2e"/><circle cx="754.3" cy="223.0" r="3.4" fill="#dd2e2e"/><circle cx="758.3" cy="216.9" r="3.4" fill="#c3222f"/><circle cx="752.1" cy="220.8" r="3.4" fill="#d92c2e"/><circle cx="740.2" cy="217.8" r="3.4" fill="#d0282f"/><circle cx="740.0" cy="207.7" r="3.4" fill="#b41c30"/><circle cx="747.8" cy="227.4" r="3.4" fill="#e0332f"/><circle cx="742.8" cy="202.2" r="3.4" fill="#d0282f"/><circle cx="746.7" cy="218.5" r="3.4" fill="#e84131"/><circle cx="749.6" cy="213.7" r="3.4" fill="#ec4a32"/><circle cx="742.9" cy="232.7" r="3.4" fill="#e43b30"/><circle cx="736.2" cy="227.8" r="3.4" fill="#ef4e32"/><circle cx="749.8" cy="218.8" r="3.4" fill="#cb262f"/><circle cx="731.7" cy="224.4" r="3.4" fill="#e33930"/><circle cx="749.5" cy="233.0" r="3.4" fill="#d82c2e"/><circle cx="733.0" cy="234.8" r="3.4" fill="#ea4631"/><circle cx="759.5" cy="231.0" r="3.4" fill="#e84231"/><circle cx="748.1" cy="247.6" r="3.4" fill="#f15333"/><circle cx="729.0" cy="233.8" r="3.4" fill="#cd272f"/><circle cx="755.2" cy="247.8" r="3.4" fill="#e53d30"/><circle cx="759.3" cy="207.2" r="3.4" fill="#cc262f"/><circle cx="738.7" cy="197.5" r="3.4" fill="#da2d2e"/><circle cx="719.7" cy="226.0" r="3.4" fill="#ec4a32"/><circle cx="738.6" cy="239.5" r="3.4" fill="#dc2e2e"/><circle cx="754.3" cy="205.5" r="3.4" fill="#87353f"/><circle cx="727.9" cy="207.7" r="3.4" fill="#fa7337"/><circle cx="734.6" cy="213.3" r="3.4" fill="#f96d36"/><circle cx="752.1" cy="248.0" r="3.4" fill="#f55a34"/><circle cx="738.0" cy="242.4" r="3.4" fill="#f86735"/><circle cx="830.4" cy="225.8" r="3.4" fill="#c7242f"/><circle cx="822.5" cy="222.3" r="3.4" fill="#dd2f2e"/><circle cx="842.6" cy="222.0" r="3.4" fill="#f05133"/><circle cx="824.3" cy="249.1" r="3.4" fill="#f05233"/><circle cx="817.8" cy="222.3" r="3.4" fill="#cc262f"/><circle cx="835.8" cy="237.0" r="3.4" fill="#fc7d38"/><circle cx="828.3" cy="228.6" r="3.4" fill="#f35634"/><circle cx="854.2" cy="235.5" r="3.4" fill="#ef5033"/><circle cx="850.6" cy="237.1" r="3.4" fill="#e84331"/><circle cx="832.2" cy="228.2" r="3.4" fill="#f66035"/><circle cx="845.7" cy="230.1" r="3.4" fill="#fc7a37"/><circle cx="835.8" cy="258.4" r="3.4" fill="#f35633"/><circle cx="839.5" cy="232.5" r="3.4" fill="#f65f35"/><circle cx="822.3" cy="231.3" r="3.4" fill="#ee4d32"/><circle cx="820.5" cy="219.0" r="3.4" fill="#dd2e2e"/><circle cx="842.9" cy="253.6" r="3.4" fill="#fd8138"/><circle cx="843.9" cy="235.5" r="3.4" fill="#fa6f36"/><circle cx="837.3" cy="240.6" r="3.4" fill="#fa7236"/><circle cx="823.9" cy="242.5" r="3.4" fill="#e0342f"/><circle cx="820.7" cy="235.2" r="3.4" fill="#e53d30"/><circle cx="833.1" cy="253.0" r="3.4" fill="#e1352f"/><circle cx="847.3" cy="233.5" r="3.4" fill="#e94431"/><circle cx="852.3" cy="243.6" r="3.4" fill="#f65e34"/><circle cx="840.4" cy="237.6" r="3.4" fill="#fc7c38"/><circle cx="846.7" cy="241.6" r="3.4" fill="#fc8c3d"/><circle cx="824.6" cy="238.6" r="3.4" fill="#fc7d38"/><circle cx="856.0" cy="244.4" r="3.4" fill="#f76535"/><circle cx="846.2" cy="256.5" r="3.4" fill="#f86a36"/><circle cx="812.1" cy="219.4" r="3.4" fill="#dd2e2e"/><circle cx="812.0" cy="222.9" r="3.4" fill="#e53d30"/><circle cx="828.8" cy="217.3" r="3.4" fill="#e3382f"/><circle cx="842.6" cy="242.3" r="3.4" fill="#f35734"/><circle cx="849.8" cy="254.1" r="3.4" fill="#f96b36"/><circle cx="832.0" cy="212.2" r="3.4" fill="#ea4531"/><circle cx="843.7" cy="239.3" r="3.4" fill="#fc8b3d"/><circle cx="838.4" cy="252.9" r="3.4" fill="#fc903f"/><circle cx="825.9" cy="256.4" r="3.4" fill="#f05033"/><circle cx="806.8" cy="228.0" r="3.4" fill="#e0342f"/><circle cx="857.5" cy="235.7" r="3.4" fill="#f25533"/><circle cx="843.4" cy="247.1" r="3.4" fill="#fa7237"/><circle cx="858.5" cy="241.6" r="3.4" fill="#ec4a32"/><circle cx="833.8" cy="232.1" r="3.4" fill="#ee4d32"/><circle cx="846.3" cy="253.6" r="3.4" fill="#fd8339"/><circle cx="825.8" cy="210.9" r="3.4" fill="#f35633"/><circle cx="815.1" cy="224.6" r="3.4" fill="#e1362f"/><circle cx="814.6" cy="215.7" r="3.4" fill="#f65d34"/><circle cx="832.6" cy="246.7" r="3.4" fill="#fa7237"/><circle cx="853.1" cy="253.9" r="3.4" fill="#fd7f38"/><circle cx="841.3" cy="249.4" r="3.4" fill="#fc7c38"/><circle cx="847.0" cy="248.7" r="3.4" fill="#fc893c"/><circle cx="830.0" cy="249.4" r="3.4" fill="#f66035"/><circle cx="820.2" cy="213.5" r="3.4" fill="#ee4d32"/><circle cx="828.3" cy="222.7" r="3.4" fill="#c7242f"/><circle cx="810.4" cy="226.4" r="3.4" fill="#ee4d32"/><circle cx="824.3" cy="218.7" r="3.4" fill="#f65f35"/><circle cx="835.5" cy="214.2" r="3.4" fill="#f25533"/><circle cx="854.5" cy="239.5" r="3.4" fill="#f86a36"/><circle cx="838.1" cy="228.4" r="3.4" fill="#df312e"/><circle cx="834.5" cy="242.4" r="3.4" fill="#f35633"/><circle cx="817.2" cy="211.3" r="3.4" fill="#ea4631"/><circle cx="812.2" cy="229.2" r="3.4" fill="#d1292f"/><circle cx="832.3" cy="218.2" r="3.4" fill="#e1352f"/><circle cx="841.1" cy="224.9" r="3.4" fill="#e33930"/><circle cx="830.3" cy="243.6" r="3.4" fill="#f86735"/><circle cx="859.4" cy="245.8" r="3.4" fill="#f25533"/><circle cx="827.2" cy="235.8" r="3.4" fill="#ec4a32"/><circle cx="828.4" cy="239.2" r="3.4" fill="#ec4a32"/><circle cx="824.6" cy="227.0" r="3.4" fill="#ea4631"/><circle cx="854.9" cy="250.2" r="3.4" fill="#fc893c"/><circle cx="831.6" cy="222.5" r="3.4" fill="#e0342f"/><circle cx="815.4" cy="230.2" r="3.4" fill="#eb4731"/><circle cx="835.8" cy="221.9" r="3.4" fill="#e2382f"/><circle cx="837.0" cy="248.7" r="3.4" fill="#fd8239"/><circle cx="823.9" cy="213.6" r="3.4" fill="#da2c2e"/><circle cx="846.2" cy="260.5" r="3.4" fill="#f15333"/><circle cx="819.1" cy="231.2" r="3.4" fill="#f25533"/><circle cx="829.6" cy="257.1" r="3.4" fill="#f45934"/><circle cx="849.1" cy="245.5" r="3.4" fill="#fb7737"/><circle cx="824.9" cy="252.2" r="3.4" fill="#ef4f32"/><circle cx="816.9" cy="218.6" r="3.4" fill="#e1342f"/><circle cx="816.8" cy="227.4" r="3.4" fill="#f76335"/><circle cx="851.5" cy="248.0" r="3.4" fill="#fc8a3c"/><circle cx="842.4" cy="257.1" r="3.4" fill="#f96e36"/><circle cx="838.7" cy="220.9" r="3.4" fill="#f45734"/><circle cx="825.6" cy="215.9" r="3.4" fill="#f35734"/><circle cx="841.6" cy="229.0" r="3.4" fill="#f86635"/><circle cx="838.9" cy="244.3" r="3.4" fill="#fc7d38"/><circle cx="850.4" cy="240.1" r="3.4" fill="#fc863a"/><circle cx="828.3" cy="212.5" r="3.4" fill="#e2372f"/><circle cx="832.5" cy="256.7" r="3.4" fill="#f35734"/><circle cx="832.1" cy="239.4" r="3.4" fill="#fc7a37"/><circle cx="827.5" cy="244.3" r="3.4" fill="#f55a34"/><circle cx="830.1" cy="234.2" r="3.4" fill="#f65e34"/><circle cx="807.4" cy="225.1" r="3.4" fill="#e3392f"/><circle cx="822.6" cy="210.4" r="3.4" fill="#de302e"/><circle cx="832.9" cy="235.7" r="3.4" fill="#e74030"/><circle cx="844.2" cy="225.7" r="3.4" fill="#f55934"/><circle cx="828.4" cy="231.6" r="3.4" fill="#e74030"/><circle cx="821.7" cy="216.4" r="3.4" fill="#d92c2e"/><circle cx="837.7" cy="217.9" r="3.4" fill="#f25433"/><circle cx="825.2" cy="231.9" r="3.4" fill="#e84231"/><circle cx="835.6" cy="255.3" r="3.4" fill="#f96c36"/><circle cx="837.7" cy="225.0" r="3.4" fill="#e63f30"/><circle cx="843.0" cy="231.8" r="3.4" fill="#f05133"/><circle cx="858.5" cy="250.8" r="3.4" fill="#f76535"/><circle cx="835.2" cy="226.7" r="3.4" fill="#f55c34"/><circle cx="827.0" cy="247.4" r="3.4" fill="#e74030"/><circle cx="822.7" cy="246.6" r="3.4" fill="#f55b34"/><circle cx="820.8" cy="225.9" r="3.4" fill="#e74131"/><circle cx="850.4" cy="251.0" r="3.4" fill="#f96c36"/><circle cx="835.6" cy="245.4" r="3.4" fill="#f76135"/><circle cx="828.5" cy="253.0" r="3.4" fill="#f45834"/><circle cx="846.2" cy="244.8" r="3.4" fill="#fc8b3d"/><circle cx="840.5" cy="261.1" r="3.4" fill="#f55b34"/><circle cx="833.8" cy="250.1" r="3.4" fill="#fc873b"/><circle cx="838.4" cy="256.3" r="3.4" fill="#fb7737"/><circle cx="847.5" cy="238.0" r="3.4" fill="#f76535"/><circle cx="824.2" cy="234.7" r="3.4" fill="#ec4a32"/><circle cx="832.2" cy="260.0" r="3.4" fill="#f55b34"/><circle cx="844.0" cy="250.5" r="3.4" fill="#fc7c38"/><circle cx="818.6" cy="216.0" r="3.4" fill="#e2382f"/><circle cx="809.4" cy="220.6" r="3.4" fill="#e2372f"/><circle cx="850.4" cy="257.4" r="3.4" fill="#f86a36"/><circle cx="857.1" cy="247.8" r="3.4" fill="#fb7737"/><circle cx="827.3" cy="208.3" r="3.4" fill="#e0332f"/><circle cx="836.5" cy="261.2" r="3.4" fill="#f55c34"/><circle cx="840.2" cy="240.6" r="3.4" fill="#fc7a37"/><circle cx="830.9" cy="215.3" r="3.4" fill="#ed4c32"/><circle cx="851.8" cy="260.7" r="3.4" fill="#f55b34"/><circle cx="813.6" cy="233.6" r="3.4" fill="#e63f30"/><circle cx="847.3" cy="226.1" r="3.4" fill="#e84331"/><circle cx="820.1" cy="207.0" r="3.4" fill="#ef4f33"/><circle cx="843.4" cy="217.9" r="3.4" fill="#dd2f2e"/><circle cx="860.4" cy="239.1" r="3.4" fill="#f55a34"/><circle cx="831.3" cy="263.8" r="3.4" fill="#e0342f"/><circle cx="813.5" cy="210.5" r="3.4" fill="#d82c2e"/><circle cx="855.1" cy="257.5" r="3.4" fill="#f76335"/><circle cx="862.6" cy="252.1" r="3.4" fill="#f86635"/><circle cx="818.9" cy="253.7" r="3.4" fill="#e0342f"/><circle cx="822.3" cy="255.8" r="3.4" fill="#e1362f"/><circle cx="809.5" cy="225.6" r="3.4" fill="#a52034"/><circle cx="819.5" cy="220.0" r="3.4" fill="#a52034"/><circle cx="831.2" cy="222.3" r="3.4" fill="#8f2c3c"/><circle cx="820.0" cy="250.2" r="3.4" fill="#a52034"/><circle cx="817.3" cy="235.7" r="3.4" fill="#87353f"/><circle cx="860.9" cy="246.8" r="3.4" fill="#b01a30"/><circle cx="859.8" cy="241.3" r="3.4" fill="#bb1f30"/><circle cx="809.5" cy="239.0" r="3.4" fill="#fd8038"/><circle cx="815.1" cy="243.5" r="3.4" fill="#fd8038"/><circle cx="805.0" cy="251.3" r="3.4" fill="#fc863a"/><circle cx="807.7" cy="254.7" r="3.4" fill="#fc863a"/><circle cx="804.6" cy="226.7" r="3.4" fill="#fc913f"/><circle cx="812.8" cy="227.9" r="3.4" fill="#b01a30"/><circle cx="815.1" cy="223.4" r="3.4" fill="#b01a30"/>
<rect x="682.49" y="134.39" width="237.82" height="279.82" fill="none" stroke="#2e2e2e" stroke-width="1.78"/>
<rect x="682.49" y="78.29" width="237.82" height="54.32" fill="#d0d0d0" stroke="#2e2e2e" stroke-width="1.78"/>
<text transform="translate(800.8,115.9) scale(1,1.04)" font-size="29.33" fill="#1a1a1a" text-anchor="middle">PCs = 10</text>
</g>
<g>
<rect x="166.2" y="490.2" width="239.6" height="281.6" fill="#fff"/>
<line x1="172.6" x2="172.6" y1="490.2" y2="771.8" stroke="#e9e9e9" stroke-width="1.78"/>
<line x1="243.8" x2="243.8" y1="490.2" y2="771.8" stroke="#e9e9e9" stroke-width="1.78"/>
<line x1="315.0" x2="315.0" y1="490.2" y2="771.8" stroke="#e9e9e9" stroke-width="1.78"/>
<line x1="386.2" x2="386.2" y1="490.2" y2="771.8" stroke="#e9e9e9" stroke-width="1.78"/>
<line y1="762.5" y2="762.5" x1="166.2" x2="405.79999999999995" stroke="#e9e9e9" stroke-width="1.78"/>
<line y1="691.2" y2="691.2" x1="166.2" x2="405.79999999999995" stroke="#e9e9e9" stroke-width="1.78"/>
<line y1="620.0" y2="620.0" x1="166.2" x2="405.79999999999995" stroke="#e9e9e9" stroke-width="1.78"/>
<line y1="548.7" y2="548.7" x1="166.2" x2="405.79999999999995" stroke="#e9e9e9" stroke-width="1.78"/>
<line x1="208.2" x2="208.2" y1="490.2" y2="771.8" stroke="#e9e9e9" stroke-width="3.56"/>
<line x1="279.4" x2="279.4" y1="490.2" y2="771.8" stroke="#e9e9e9" stroke-width="3.56"/>
<line x1="350.6" x2="350.6" y1="490.2" y2="771.8" stroke="#e9e9e9" stroke-width="3.56"/>
<line y1="726.9" y2="726.9" x1="166.2" x2="405.79999999999995" stroke="#e9e9e9" stroke-width="3.56"/>
<line y1="655.6" y2="655.6" x1="166.2" x2="405.79999999999995" stroke="#e9e9e9" stroke-width="3.56"/>
<line y1="584.3" y2="584.3" x1="166.2" x2="405.79999999999995" stroke="#e9e9e9" stroke-width="3.56"/>
<line y1="513.1" y2="513.1" x1="166.2" x2="405.79999999999995" stroke="#e9e9e9" stroke-width="3.56"/>
<circle cx="271.1" cy="532.3" r="3.4" fill="#7e3f43"/><circle cx="254.4" cy="524.1" r="3.4" fill="#87353f"/><circle cx="295.7" cy="666.2" r="3.4" fill="#fb9441"/><circle cx="276.4" cy="657.7" r="3.4" fill="#f5b24c"/><circle cx="312.1" cy="664.0" r="3.4" fill="#eeb94e"/><circle cx="283.3" cy="654.2" r="3.4" fill="#faa648"/><circle cx="282.7" cy="696.9" r="3.4" fill="#edba4f"/><circle cx="305.9" cy="645.0" r="3.4" fill="#ecbc4f"/><circle cx="222.0" cy="680.0" r="3.4" fill="#f2b44d"/><circle cx="323.8" cy="652.0" r="3.4" fill="#f6b04c"/><circle cx="323.0" cy="648.7" r="3.4" fill="#f4b24c"/><circle cx="248.8" cy="654.7" r="3.4" fill="#fa9d44"/><circle cx="288.9" cy="705.0" r="3.4" fill="#eeb94e"/><circle cx="235.2" cy="668.8" r="3.4" fill="#f9a949"/><circle cx="242.3" cy="721.4" r="3.4" fill="#fb9641"/><circle cx="289.4" cy="717.9" r="3.4" fill="#f5b14c"/><circle cx="309.8" cy="732.0" r="3.4" fill="#f8ae4b"/><circle cx="320.7" cy="678.4" r="3.4" fill="#e3c552"/><circle cx="212.0" cy="706.7" r="3.4" fill="#faa548"/><circle cx="221.4" cy="718.8" r="3.4" fill="#fa9f45"/><circle cx="327.0" cy="697.0" r="3.4" fill="#ecbb4f"/><circle cx="315.2" cy="647.8" r="3.4" fill="#e4c352"/><circle cx="238.3" cy="696.1" r="3.4" fill="#efb84e"/><circle cx="227.9" cy="641.3" r="3.4" fill="#faa648"/><circle cx="315.2" cy="695.0" r="3.4" fill="#f5b14c"/><circle cx="250.2" cy="652.8" r="3.4" fill="#faa347"/><circle cx="333.1" cy="680.3" r="3.4" fill="#edba4f"/><circle cx="290.0" cy="728.3" r="3.4" fill="#f5b14c"/><circle cx="226.0" cy="701.4" r="3.4" fill="#f9aa4a"/><circle cx="242.5" cy="728.9" r="3.4" fill="#f9aa4a"/><circle cx="207.7" cy="721.9" r="3.4" fill="#fb9440"/><circle cx="224.7" cy="660.1" r="3.4" fill="#f8ae4b"/><circle cx="286.6" cy="690.9" r="3.4" fill="#faa548"/><circle cx="297.1" cy="660.1" r="3.4" fill="#faa146"/><circle cx="226.3" cy="726.7" r="3.4" fill="#fc8d3e"/><circle cx="267.5" cy="712.0" r="3.4" fill="#faa749"/><circle cx="244.8" cy="727.7" r="3.4" fill="#fb9641"/><circle cx="301.1" cy="697.0" r="3.4" fill="#f9a849"/><circle cx="291.4" cy="698.6" r="3.4" fill="#e3c552"/><circle cx="308.1" cy="707.8" r="3.4" fill="#f9ad4b"/><circle cx="259.0" cy="651.1" r="3.4" fill="#faa548"/><circle cx="263.8" cy="680.3" r="3.4" fill="#fa9f45"/><circle cx="328.1" cy="679.6" r="3.4" fill="#e5c351"/><circle cx="296.0" cy="671.7" r="3.4" fill="#f9ab4a"/><circle cx="284.6" cy="688.6" r="3.4" fill="#f6b04c"/><circle cx="287.3" cy="659.3" r="3.4" fill="#fc883b"/><circle cx="249.8" cy="674.5" r="3.4" fill="#f8ae4b"/><circle cx="244.8" cy="730.4" r="3.4" fill="#fb9b44"/><circle cx="287.5" cy="639.6" r="3.4" fill="#f0b64e"/><circle cx="282.1" cy="650.1" r="3.4" fill="#f9ac4a"/><circle cx="250.8" cy="689.5" r="3.4" fill="#fa9f45"/><circle cx="218.3" cy="682.4" r="3.4" fill="#f9ad4b"/><circle cx="231.1" cy="648.8" r="3.4" fill="#fb9a43"/><circle cx="298.0" cy="721.3" r="3.4" fill="#ecbb4f"/><circle cx="275.7" cy="694.7" r="3.4" fill="#f1b64d"/><circle cx="230.8" cy="700.7" r="3.4" fill="#faa146"/><circle cx="220.7" cy="686.9" r="3.4" fill="#f9ad4b"/><circle cx="262.5" cy="688.0" r="3.4" fill="#f9a849"/><circle cx="231.5" cy="701.4" r="3.4" fill="#faa547"/><circle cx="254.3" cy="709.8" r="3.4" fill="#fa9d44"/><circle cx="256.1" cy="731.8" r="3.4" fill="#fb9942"/><circle cx="328.4" cy="702.9" r="3.4" fill="#e3c552"/><circle cx="235.2" cy="714.8" r="3.4" fill="#faa547"/><circle cx="237.6" cy="671.6" r="3.4" fill="#f2b44d"/><circle cx="274.9" cy="683.3" r="3.4" fill="#f4b34d"/><circle cx="240.4" cy="736.0" r="3.4" fill="#fb9742"/><circle cx="213.0" cy="720.4" r="3.4" fill="#fb9842"/><circle cx="237.8" cy="701.3" r="3.4" fill="#faa548"/><circle cx="258.4" cy="648.2" r="3.4" fill="#f9a949"/><circle cx="264.2" cy="725.1" r="3.4" fill="#f9ab4a"/><circle cx="314.8" cy="664.7" r="3.4" fill="#f8ae4b"/><circle cx="227.3" cy="693.9" r="3.4" fill="#f9ab4a"/><circle cx="227.7" cy="687.9" r="3.4" fill="#f9ad4b"/><circle cx="209.5" cy="705.9" r="3.4" fill="#fa9d44"/><circle cx="251.4" cy="668.7" r="3.4" fill="#fa9d44"/><circle cx="237.6" cy="654.1" r="3.4" fill="#f4b34d"/><circle cx="281.7" cy="668.2" r="3.4" fill="#faa547"/><circle cx="271.0" cy="728.9" r="3.4" fill="#faa146"/><circle cx="319.3" cy="676.1" r="3.4" fill="#f0b74e"/><circle cx="301.1" cy="693.5" r="3.4" fill="#fa9f45"/><circle cx="238.2" cy="716.8" r="3.4" fill="#faa548"/><circle cx="283.7" cy="736.5" r="3.4" fill="#faa548"/><circle cx="272.1" cy="707.6" r="3.4" fill="#f8af4b"/><circle cx="275.2" cy="742.0" r="3.4" fill="#fa9e45"/><circle cx="255.5" cy="673.8" r="3.4" fill="#f8ae4b"/><circle cx="257.1" cy="714.6" r="3.4" fill="#fa9e45"/><circle cx="283.4" cy="740.6" r="3.4" fill="#e4c452"/><circle cx="274.7" cy="683.1" r="3.4" fill="#f1b64e"/><circle cx="282.5" cy="703.6" r="3.4" fill="#efb84e"/><circle cx="283.3" cy="708.8" r="3.4" fill="#faa347"/><circle cx="327.1" cy="703.3" r="3.4" fill="#edba4f"/><circle cx="315.4" cy="728.3" r="3.4" fill="#f1b64e"/><circle cx="236.2" cy="682.7" r="3.4" fill="#f8ae4b"/><circle cx="291.0" cy="654.3" r="3.4" fill="#fb9742"/><circle cx="208.9" cy="715.7" r="3.4" fill="#fc8e3e"/><circle cx="288.7" cy="666.1" r="3.4" fill="#fb923f"/><circle cx="311.5" cy="702.8" r="3.4" fill="#f9ad4b"/><circle cx="296.6" cy="704.1" r="3.4" fill="#f9ac4b"/><circle cx="323.0" cy="670.9" r="3.4" fill="#f9ac4a"/><circle cx="289.0" cy="689.7" r="3.4" fill="#fa9e45"/><circle cx="294.3" cy="729.4" r="3.4" fill="#f2b44d"/><circle cx="296.7" cy="668.9" r="3.4" fill="#fa9d44"/><circle cx="247.9" cy="697.6" r="3.4" fill="#faa648"/><circle cx="269.6" cy="682.7" r="3.4" fill="#f1b64e"/><circle cx="275.5" cy="734.4" r="3.4" fill="#f4b24d"/><circle cx="253.2" cy="671.5" r="3.4" fill="#f4b34d"/><circle cx="238.5" cy="711.5" r="3.4" fill="#f6b04c"/><circle cx="318.4" cy="724.4" r="3.4" fill="#f6b14c"/><circle cx="260.3" cy="729.4" r="3.4" fill="#fa9c44"/><circle cx="247.9" cy="689.3" r="3.4" fill="#faa347"/><circle cx="310.5" cy="654.0" r="3.4" fill="#f9ac4b"/><circle cx="244.4" cy="703.6" r="3.4" fill="#f9a949"/><circle cx="318.7" cy="703.1" r="3.4" fill="#e8bf50"/><circle cx="239.4" cy="663.3" r="3.4" fill="#e7c051"/><circle cx="308.5" cy="719.1" r="3.4" fill="#f4b24c"/><circle cx="272.8" cy="722.9" r="3.4" fill="#f2b44d"/><circle cx="238.9" cy="707.9" r="3.4" fill="#f7af4c"/><circle cx="204.0" cy="724.2" r="3.4" fill="#f9aa4a"/><circle cx="302.3" cy="699.1" r="3.4" fill="#f0b74e"/><circle cx="282.2" cy="704.1" r="3.4" fill="#faa447"/><circle cx="247.4" cy="672.6" r="3.4" fill="#f1b64d"/><circle cx="311.1" cy="686.5" r="3.4" fill="#f9ae4b"/><circle cx="229.3" cy="728.6" r="3.4" fill="#faa146"/><circle cx="306.7" cy="729.7" r="3.4" fill="#f4b34d"/><circle cx="226.2" cy="672.8" r="3.4" fill="#fb9b43"/><circle cx="325.8" cy="694.7" r="3.4" fill="#e3c552"/><circle cx="271.0" cy="678.0" r="3.4" fill="#f9aa4a"/><circle cx="314.0" cy="643.6" r="3.4" fill="#f9a949"/><circle cx="245.5" cy="721.1" r="3.4" fill="#f9ab4a"/><circle cx="327.7" cy="675.3" r="3.4" fill="#e5c351"/><circle cx="297.4" cy="675.5" r="3.4" fill="#fb9b43"/><circle cx="211.4" cy="701.1" r="3.4" fill="#faa246"/><circle cx="225.2" cy="728.9" r="3.4" fill="#faa347"/><circle cx="289.2" cy="656.4" r="3.4" fill="#f9aa4a"/><circle cx="310.5" cy="694.8" r="3.4" fill="#ebbc50"/><circle cx="303.0" cy="668.5" r="3.4" fill="#f9ad4b"/><circle cx="318.1" cy="722.4" r="3.4" fill="#f2b54d"/><circle cx="294.2" cy="697.5" r="3.4" fill="#f9ad4b"/><circle cx="239.7" cy="633.2" r="3.4" fill="#f9aa4a"/><circle cx="302.7" cy="689.5" r="3.4" fill="#faa548"/><circle cx="281.8" cy="677.8" r="3.4" fill="#f9ab4a"/><circle cx="237.4" cy="674.3" r="3.4" fill="#f9ac4a"/><circle cx="231.5" cy="651.4" r="3.4" fill="#f5b14c"/><circle cx="283.9" cy="654.5" r="3.4" fill="#fc8c3d"/><circle cx="317.8" cy="697.7" r="3.4" fill="#eabd50"/><circle cx="290.4" cy="695.5" r="3.4" fill="#f9ac4b"/><circle cx="235.4" cy="678.5" r="3.4" fill="#f6b04c"/><circle cx="254.6" cy="680.2" r="3.4" fill="#ecbb4f"/><circle cx="216.2" cy="680.6" r="3.4" fill="#f9ac4b"/><circle cx="264.9" cy="728.6" r="3.4" fill="#f9a849"/><circle cx="278.6" cy="726.4" r="3.4" fill="#faa748"/><circle cx="321.9" cy="656.8" r="3.4" fill="#e3c552"/><circle cx="305.2" cy="725.5" r="3.4" fill="#eeb94e"/><circle cx="288.1" cy="720.8" r="3.4" fill="#faa648"/><circle cx="272.0" cy="665.7" r="3.4" fill="#faa648"/><circle cx="293.7" cy="645.5" r="3.4" fill="#f9ac4b"/><circle cx="255.1" cy="728.6" r="3.4" fill="#faa447"/><circle cx="232.1" cy="704.4" r="3.4" fill="#fb9b43"/><circle cx="210.5" cy="711.3" r="3.4" fill="#faa648"/><circle cx="288.8" cy="675.6" r="3.4" fill="#fa9d44"/><circle cx="267.2" cy="710.5" r="3.4" fill="#f3b34d"/><circle cx="337.3" cy="701.9" r="3.4" fill="#e3c552"/><circle cx="238.7" cy="657.4" r="3.4" fill="#f9ae4b"/><circle cx="263.5" cy="691.4" r="3.4" fill="#f5b24c"/><circle cx="307.5" cy="666.2" r="3.4" fill="#f6b04c"/><circle cx="264.3" cy="713.1" r="3.4" fill="#f0b74e"/><circle cx="226.5" cy="679.5" r="3.4" fill="#f9a849"/><circle cx="244.4" cy="716.1" r="3.4" fill="#f7b04c"/><circle cx="244.6" cy="675.9" r="3.4" fill="#f9ab4a"/><circle cx="296.8" cy="650.3" r="3.4" fill="#fa9d44"/><circle cx="294.7" cy="670.5" r="3.4" fill="#f1b64e"/><circle cx="275.2" cy="715.2" r="3.4" fill="#efb84e"/><circle cx="211.5" cy="713.7" r="3.4" fill="#fc903f"/><circle cx="242.3" cy="718.1" r="3.4" fill="#f9a749"/><circle cx="232.9" cy="686.3" r="3.4" fill="#f9ac4b"/><circle cx="212.9" cy="704.0" r="3.4" fill="#faa246"/><circle cx="254.4" cy="680.5" r="3.4" fill="#faa547"/><circle cx="271.1" cy="712.2" r="3.4" fill="#f1b54d"/><circle cx="293.9" cy="633.6" r="3.4" fill="#fb9641"/><circle cx="302.3" cy="662.5" r="3.4" fill="#faa748"/><circle cx="245.0" cy="680.5" r="3.4" fill="#f9ab4a"/><circle cx="293.8" cy="684.6" r="3.4" fill="#faa246"/><circle cx="249.1" cy="650.4" r="3.4" fill="#f8ae4b"/><circle cx="246.7" cy="640.5" r="3.4" fill="#fa9f45"/><circle cx="318.6" cy="710.8" r="3.4" fill="#ebbd50"/><circle cx="267.7" cy="670.7" r="3.4" fill="#fb9a43"/><circle cx="233.8" cy="661.9" r="3.4" fill="#f6b04c"/><circle cx="207.9" cy="725.2" r="3.4" fill="#fa9e45"/><circle cx="312.6" cy="661.4" r="3.4" fill="#ebbc50"/><circle cx="316.2" cy="674.9" r="3.4" fill="#f6b04c"/><circle cx="289.2" cy="643.2" r="3.4" fill="#faa146"/><circle cx="219.6" cy="671.8" r="3.4" fill="#faa447"/><circle cx="204.3" cy="716.4" r="3.4" fill="#fb9240"/><circle cx="302.2" cy="685.3" r="3.4" fill="#e6c251"/><circle cx="245.3" cy="704.4" r="3.4" fill="#f8ae4b"/><circle cx="228.3" cy="702.7" r="3.4" fill="#fa9f45"/><circle cx="205.3" cy="698.2" r="3.4" fill="#faa045"/><circle cx="263.4" cy="704.4" r="3.4" fill="#f6b04c"/><circle cx="304.4" cy="694.3" r="3.4" fill="#f9a849"/><circle cx="256.5" cy="652.9" r="3.4" fill="#faa447"/><circle cx="234.4" cy="701.8" r="3.4" fill="#f4b34d"/><circle cx="240.6" cy="679.1" r="3.4" fill="#f9ad4b"/><circle cx="211.3" cy="683.4" r="3.4" fill="#fa9e45"/><circle cx="201.8" cy="706.6" r="3.4" fill="#faa748"/><circle cx="321.5" cy="712.4" r="3.4" fill="#faa046"/><circle cx="247.9" cy="734.1" r="3.4" fill="#fb9641"/><circle cx="215.4" cy="701.8" r="3.4" fill="#fb9a43"/><circle cx="301.1" cy="693.0" r="3.4" fill="#faa247"/><circle cx="229.0" cy="679.2" r="3.4" fill="#f9aa4a"/><circle cx="211.8" cy="694.2" r="3.4" fill="#f3b34d"/><circle cx="266.9" cy="725.7" r="3.4" fill="#f6b04c"/><circle cx="304.8" cy="721.7" r="3.4" fill="#e4c452"/><circle cx="273.5" cy="686.0" r="3.4" fill="#f3b44d"/><circle cx="274.2" cy="703.2" r="3.4" fill="#f3b34d"/><circle cx="229.9" cy="725.9" r="3.4" fill="#fa9e45"/><circle cx="236.3" cy="679.8" r="3.4" fill="#faa547"/><circle cx="271.6" cy="718.6" r="3.4" fill="#f3b44d"/><circle cx="206.2" cy="713.4" r="3.4" fill="#fb913f"/><circle cx="230.2" cy="655.6" r="3.4" fill="#f1b64e"/><circle cx="271.8" cy="701.9" r="3.4" fill="#e6c151"/><circle cx="278.8" cy="693.1" r="3.4" fill="#faa246"/><circle cx="278.0" cy="682.8" r="3.4" fill="#f5b14c"/><circle cx="304.7" cy="652.4" r="3.4" fill="#f6b14c"/><circle cx="229.4" cy="722.7" r="3.4" fill="#faa447"/><circle cx="307.6" cy="696.8" r="3.4" fill="#f4b24d"/><circle cx="273.2" cy="736.0" r="3.4" fill="#eabd50"/><circle cx="235.7" cy="698.9" r="3.4" fill="#f9ac4b"/><circle cx="253.1" cy="654.7" r="3.4" fill="#f9ab4a"/><circle cx="319.9" cy="673.5" r="3.4" fill="#e7c051"/><circle cx="254.3" cy="661.0" r="3.4" fill="#ecbc4f"/><circle cx="301.4" cy="644.5" r="3.4" fill="#f9ad4b"/><circle cx="296.0" cy="637.9" r="3.4" fill="#fa9e45"/><circle cx="240.7" cy="685.3" r="3.4" fill="#f1b54d"/><circle cx="266.4" cy="663.1" r="3.4" fill="#f9ad4b"/><circle cx="313.1" cy="666.6" r="3.4" fill="#f7af4c"/><circle cx="281.0" cy="684.7" r="3.4" fill="#eeb94e"/><circle cx="307.1" cy="686.0" r="3.4" fill="#f9ad4b"/><circle cx="254.8" cy="677.2" r="3.4" fill="#f8ae4b"/><circle cx="210.3" cy="676.5" r="3.4" fill="#fa9f45"/><circle cx="322.8" cy="725.2" r="3.4" fill="#f6b04c"/><circle cx="255.6" cy="657.7" r="3.4" fill="#f3b34d"/><circle cx="308.1" cy="722.3" r="3.4" fill="#f1b64e"/><circle cx="292.8" cy="681.8" r="3.4" fill="#f7af4c"/><circle cx="305.9" cy="718.0" r="3.4" fill="#e3c552"/><circle cx="199.3" cy="716.4" r="3.4" fill="#fa9d44"/><circle cx="333.5" cy="685.3" r="3.4" fill="#f4b24d"/><circle cx="286.5" cy="703.6" r="3.4" fill="#f8ae4b"/><circle cx="284.2" cy="694.5" r="3.4" fill="#faa648"/><circle cx="318.4" cy="646.4" r="3.4" fill="#e9bf50"/><circle cx="209.7" cy="719.8" r="3.4" fill="#fc913f"/><circle cx="306.1" cy="732.4" r="3.4" fill="#f9a949"/><circle cx="278.3" cy="732.5" r="3.4" fill="#ebbc4f"/><circle cx="334.1" cy="690.2" r="3.4" fill="#edba4f"/><circle cx="254.8" cy="648.4" r="3.4" fill="#f3b34d"/><circle cx="269.0" cy="685.2" r="3.4" fill="#f6b04c"/><circle cx="306.7" cy="699.2" r="3.4" fill="#f9aa4a"/><circle cx="223.3" cy="684.6" r="3.4" fill="#edba4f"/><circle cx="254.7" cy="724.8" r="3.4" fill="#f9ab4a"/><circle cx="222.1" cy="728.6" r="3.4" fill="#fb9c44"/><circle cx="238.1" cy="726.1" r="3.4" fill="#f9ab4a"/><circle cx="304.4" cy="712.0" r="3.4" fill="#faa347"/><circle cx="243.6" cy="686.4" r="3.4" fill="#fb9c44"/><circle cx="302.9" cy="665.1" r="3.4" fill="#f9aa4a"/><circle cx="242.7" cy="673.7" r="3.4" fill="#faa246"/><circle cx="258.1" cy="669.8" r="3.4" fill="#f1b64e"/><circle cx="292.6" cy="657.8" r="3.4" fill="#fa9e45"/><circle cx="220.7" cy="721.3" r="3.4" fill="#fc8d3e"/><circle cx="303.6" cy="707.2" r="3.4" fill="#f1b64e"/><circle cx="227.6" cy="706.7" r="3.4" fill="#f9ab4a"/><circle cx="233.2" cy="665.3" r="3.4" fill="#f2b54d"/><circle cx="295.6" cy="702.7" r="3.4" fill="#f0b64e"/><circle cx="303.6" cy="673.4" r="3.4" fill="#f9a849"/><circle cx="268.6" cy="736.9" r="3.4" fill="#eeb94f"/><circle cx="262.6" cy="687.0" r="3.4" fill="#faa648"/><circle cx="304.0" cy="708.7" r="3.4" fill="#f6b04c"/><circle cx="232.1" cy="728.9" r="3.4" fill="#fb9942"/><circle cx="307.9" cy="652.9" r="3.4" fill="#f3b44d"/><circle cx="328.6" cy="708.1" r="3.4" fill="#f9ac4b"/><circle cx="270.3" cy="651.2" r="3.4" fill="#faa748"/><circle cx="249.5" cy="708.6" r="3.4" fill="#f8ae4b"/><circle cx="315.2" cy="660.0" r="3.4" fill="#f3b44d"/><circle cx="300.6" cy="642.0" r="3.4" fill="#fb9340"/><circle cx="276.1" cy="688.1" r="3.4" fill="#f9a949"/><circle cx="223.1" cy="698.8" r="3.4" fill="#f8af4b"/><circle cx="285.1" cy="682.6" r="3.4" fill="#f7af4c"/><circle cx="251.1" cy="716.1" r="3.4" fill="#f3b34d"/><circle cx="331.0" cy="652.7" r="3.4" fill="#f9aa4a"/><circle cx="321.1" cy="650.0" r="3.4" fill="#e9be50"/><circle cx="232.8" cy="730.1" r="3.4" fill="#faa648"/><circle cx="263.8" cy="650.4" r="3.4" fill="#f0b74e"/><circle cx="322.6" cy="691.5" r="3.4" fill="#ecbb4f"/><circle cx="221.9" cy="733.2" r="3.4" fill="#faa447"/><circle cx="280.7" cy="681.9" r="3.4" fill="#fa9d44"/><circle cx="307.2" cy="663.1" r="3.4" fill="#fa9d44"/><circle cx="260.4" cy="718.3" r="3.4" fill="#f9a949"/><circle cx="266.6" cy="731.8" r="3.4" fill="#f6b14c"/><circle cx="228.3" cy="698.4" r="3.4" fill="#fb9c44"/><circle cx="298.7" cy="673.2" r="3.4" fill="#f3b44d"/><circle cx="310.0" cy="692.3" r="3.4" fill="#faa648"/><circle cx="235.3" cy="694.1" r="3.4" fill="#f9aa4a"/><circle cx="295.2" cy="718.7" r="3.4" fill="#f9ad4b"/><circle cx="240.2" cy="727.5" r="3.4" fill="#faa246"/><circle cx="240.3" cy="681.0" r="3.4" fill="#faa648"/><circle cx="278.0" cy="721.7" r="3.4" fill="#f1b64e"/><circle cx="267.5" cy="663.6" r="3.4" fill="#ecbb4f"/><circle cx="263.1" cy="663.2" r="3.4" fill="#f8ae4b"/><circle cx="289.4" cy="704.9" r="3.4" fill="#faa749"/><circle cx="311.8" cy="681.2" r="3.4" fill="#e4c352"/><circle cx="226.6" cy="710.7" r="3.4" fill="#fa9c44"/><circle cx="318.1" cy="658.1" r="3.4" fill="#eeb94f"/><circle cx="217.4" cy="698.1" r="3.4" fill="#f9a849"/><circle cx="328.3" cy="693.0" r="3.4" fill="#e3c552"/><circle cx="294.0" cy="726.5" r="3.4" fill="#e6c151"/><circle cx="306.4" cy="662.9" r="3.4" fill="#f9ab4a"/><circle cx="248.1" cy="670.2" r="3.4" fill="#f9aa4a"/><circle cx="318.3" cy="655.2" r="3.4" fill="#f8ae4b"/><circle cx="225.6" cy="685.7" r="3.4" fill="#fb9842"/><circle cx="226.5" cy="656.0" r="3.4" fill="#f9a849"/><circle cx="272.5" cy="718.0" r="3.4" fill="#edba4f"/><circle cx="290.3" cy="680.6" r="3.4" fill="#f9ac4a"/><circle cx="230.7" cy="695.4" r="3.4" fill="#f9ac4b"/><circle cx="269.2" cy="688.7" r="3.4" fill="#f8af4b"/><circle cx="330.4" cy="683.4" r="3.4" fill="#f5b14c"/><circle cx="237.0" cy="649.0" r="3.4" fill="#fc8d3e"/><circle cx="291.5" cy="726.2" r="3.4" fill="#f3b34d"/><circle cx="301.4" cy="654.2" r="3.4" fill="#efb84e"/><circle cx="245.0" cy="653.9" r="3.4" fill="#f7af4c"/><circle cx="290.7" cy="708.1" r="3.4" fill="#f4b34d"/><circle cx="260.9" cy="684.3" r="3.4" fill="#faa046"/><circle cx="305.2" cy="690.1" r="3.4" fill="#f9ac4b"/><circle cx="220.2" cy="668.2" r="3.4" fill="#f9aa4a"/><circle cx="253.9" cy="664.7" r="3.4" fill="#faa347"/><circle cx="294.7" cy="710.8" r="3.4" fill="#f2b54d"/><circle cx="318.0" cy="691.0" r="3.4" fill="#eeb94f"/><circle cx="285.8" cy="719.3" r="3.4" fill="#faa347"/><circle cx="308.4" cy="657.4" r="3.4" fill="#f9aa4a"/><circle cx="228.9" cy="682.7" r="3.4" fill="#faa447"/><circle cx="248.3" cy="647.6" r="3.4" fill="#f9a849"/><circle cx="317.7" cy="665.0" r="3.4" fill="#f9aa4a"/><circle cx="325.7" cy="693.1" r="3.4" fill="#f6b14c"/><circle cx="235.5" cy="644.8" r="3.4" fill="#fc913f"/><circle cx="326.3" cy="690.5" r="3.4" fill="#e5c351"/><circle cx="242.0" cy="709.6" r="3.4" fill="#f2b54d"/><circle cx="268.9" cy="675.4" r="3.4" fill="#fa9f45"/><circle cx="234.8" cy="656.7" r="3.4" fill="#e3c452"/><circle cx="286.0" cy="723.8" r="3.4" fill="#efb84e"/><circle cx="312.1" cy="706.5" r="3.4" fill="#e8c051"/><circle cx="245.6" cy="693.6" r="3.4" fill="#f9aa4a"/><circle cx="263.5" cy="678.1" r="3.4" fill="#faa748"/><circle cx="241.4" cy="649.0" r="3.4" fill="#faa146"/><circle cx="246.5" cy="695.3" r="3.4" fill="#edba4f"/><circle cx="223.7" cy="670.4" r="3.4" fill="#f6b04c"/><circle cx="253.9" cy="652.2" r="3.4" fill="#f8ae4b"/><circle cx="295.1" cy="707.0" r="3.4" fill="#faa146"/><circle cx="260.8" cy="660.5" r="3.4" fill="#efb84e"/><circle cx="249.4" cy="718.9" r="3.4" fill="#f9ad4b"/><circle cx="272.2" cy="712.7" r="3.4" fill="#faa548"/><circle cx="228.1" cy="669.0" r="3.4" fill="#faa648"/><circle cx="322.7" cy="662.2" r="3.4" fill="#efb84e"/><circle cx="278.8" cy="655.1" r="3.4" fill="#f6b04c"/><circle cx="321.8" cy="695.7" r="3.4" fill="#e9bf50"/><circle cx="236.8" cy="662.7" r="3.4" fill="#faa447"/><circle cx="233.0" cy="654.0" r="3.4" fill="#f7af4c"/><circle cx="222.3" cy="705.5" r="3.4" fill="#fb9c44"/><circle cx="240.4" cy="674.9" r="3.4" fill="#ecbb4f"/><circle cx="304.4" cy="711.1" r="3.4" fill="#f8ae4b"/><circle cx="322.4" cy="718.2" r="3.4" fill="#f7af4c"/><circle cx="258.3" cy="654.9" r="3.4" fill="#f5b14c"/><circle cx="261.6" cy="715.6" r="3.4" fill="#f5b24c"/><circle cx="268.1" cy="659.3" r="3.4" fill="#faa548"/><circle cx="260.3" cy="731.7" r="3.4" fill="#f0b64e"/><circle cx="314.2" cy="647.7" r="3.4" fill="#e8c050"/><circle cx="254.0" cy="690.8" r="3.4" fill="#f6b04c"/><circle cx="214.4" cy="671.6" r="3.4" fill="#f9a849"/><circle cx="315.6" cy="654.9" r="3.4" fill="#ebbc4f"/><circle cx="272.1" cy="674.1" r="3.4" fill="#f9a849"/><circle cx="250.6" cy="660.9" r="3.4" fill="#f9ab4a"/><circle cx="221.8" cy="723.9" r="3.4" fill="#fb9541"/><circle cx="238.3" cy="719.9" r="3.4" fill="#faa749"/><circle cx="276.4" cy="666.3" r="3.4" fill="#eabd50"/><circle cx="288.5" cy="710.2" r="3.4" fill="#f9ac4b"/><circle cx="213.7" cy="723.8" r="3.4" fill="#fa9d44"/><circle cx="317.5" cy="657.3" r="3.4" fill="#eeb94f"/><circle cx="215.0" cy="701.2" r="3.4" fill="#faa749"/><circle cx="308.4" cy="669.0" r="3.4" fill="#f3b34d"/><circle cx="224.9" cy="720.6" r="3.4" fill="#fb9b43"/><circle cx="259.4" cy="712.6" r="3.4" fill="#f9ad4b"/><circle cx="241.4" cy="646.1" r="3.4" fill="#faa548"/><circle cx="239.1" cy="729.9" r="3.4" fill="#f9aa4a"/><circle cx="315.0" cy="690.4" r="3.4" fill="#f6b04c"/><circle cx="294.7" cy="640.4" r="3.4" fill="#f9a849"/><circle cx="233.1" cy="643.6" r="3.4" fill="#fb9541"/><circle cx="229.9" cy="658.8" r="3.4" fill="#f8ae4b"/><circle cx="316.9" cy="702.6" r="3.4" fill="#f9a949"/><circle cx="227.0" cy="666.5" r="3.4" fill="#f6b04c"/><circle cx="234.6" cy="721.4" r="3.4" fill="#fa9f45"/><circle cx="324.2" cy="680.5" r="3.4" fill="#f1b54d"/><circle cx="255.8" cy="725.1" r="3.4" fill="#faa648"/><circle cx="290.1" cy="661.1" r="3.4" fill="#faa247"/><circle cx="282.4" cy="674.6" r="3.4" fill="#faa548"/><circle cx="309.1" cy="710.4" r="3.4" fill="#edba4f"/><circle cx="300.2" cy="707.8" r="3.4" fill="#edbb4f"/><circle cx="272.9" cy="690.1" r="3.4" fill="#faa648"/><circle cx="288.8" cy="682.7" r="3.4" fill="#faa247"/><circle cx="265.3" cy="715.5" r="3.4" fill="#f9a949"/><circle cx="313.9" cy="716.3" r="3.4" fill="#f2b54d"/><circle cx="276.2" cy="685.6" r="3.4" fill="#f4b34d"/><circle cx="292.9" cy="687.3" r="3.4" fill="#f9ab4a"/><circle cx="220.3" cy="695.1" r="3.4" fill="#f0b74e"/><circle cx="244.6" cy="711.4" r="3.4" fill="#faa247"/><circle cx="314.0" cy="700.8" r="3.4" fill="#f1b54d"/><circle cx="314.0" cy="709.5" r="3.4" fill="#f9a849"/><circle cx="301.5" cy="644.5" r="3.4" fill="#faa347"/><circle cx="242.9" cy="661.1" r="3.4" fill="#faa045"/><circle cx="213.2" cy="725.3" r="3.4" fill="#faa749"/><circle cx="238.4" cy="666.4" r="3.4" fill="#f9a849"/><circle cx="285.1" cy="666.8" r="3.4" fill="#faa045"/><circle cx="282.7" cy="737.4" r="3.4" fill="#ebbc4f"/><circle cx="283.7" cy="692.0" r="3.4" fill="#f8ae4b"/><circle cx="326.8" cy="653.0" r="3.4" fill="#eeb94e"/><circle cx="312.9" cy="693.6" r="3.4" fill="#eabd50"/><circle cx="214.9" cy="674.6" r="3.4" fill="#f3b44d"/><circle cx="324.2" cy="677.7" r="3.4" fill="#f7af4c"/><circle cx="228.3" cy="720.2" r="3.4" fill="#fa9f45"/><circle cx="309.1" cy="647.5" r="3.4" fill="#f8ae4b"/><circle cx="321.7" cy="679.0" r="3.4" fill="#efb84e"/><circle cx="231.7" cy="689.8" r="3.4" fill="#f6b04c"/><circle cx="279.9" cy="709.5" r="3.4" fill="#f5b14c"/><circle cx="224.8" cy="712.8" r="3.4" fill="#fb9541"/><circle cx="307.1" cy="694.2" r="3.4" fill="#e5c351"/><circle cx="280.6" cy="695.5" r="3.4" fill="#f6b04c"/><circle cx="211.0" cy="707.6" r="3.4" fill="#fb9440"/><circle cx="250.9" cy="698.5" r="3.4" fill="#f9aa4a"/><circle cx="213.1" cy="703.8" r="3.4" fill="#fa9d44"/><circle cx="218.7" cy="712.8" r="3.4" fill="#fc8f3e"/><circle cx="301.2" cy="713.1" r="3.4" fill="#f3b44d"/><circle cx="323.7" cy="675.1" r="3.4" fill="#e3c552"/><circle cx="237.8" cy="659.8" r="3.4" fill="#f0b74e"/><circle cx="317.8" cy="663.9" r="3.4" fill="#faa748"/><circle cx="246.0" cy="737.0" r="3.4" fill="#e7c051"/><circle cx="254.4" cy="713.7" r="3.4" fill="#f9aa4a"/><circle cx="272.8" cy="689.4" r="3.4" fill="#faa447"/><circle cx="251.7" cy="711.0" r="3.4" fill="#faa648"/><circle cx="282.4" cy="723.5" r="3.4" fill="#eabe50"/><circle cx="258.7" cy="645.2" r="3.4" fill="#f4b34d"/><circle cx="226.1" cy="734.9" r="3.4" fill="#ecbb4f"/><circle cx="226.7" cy="723.5" r="3.4" fill="#fb9440"/><circle cx="229.9" cy="694.8" r="3.4" fill="#f9ac4a"/><circle cx="270.2" cy="661.3" r="3.4" fill="#f3b34d"/><circle cx="267.3" cy="726.9" r="3.4" fill="#f3b44d"/><circle cx="292.3" cy="669.8" r="3.4" fill="#fb9340"/><circle cx="219.8" cy="653.0" r="3.4" fill="#f6b14c"/><circle cx="242.8" cy="701.3" r="3.4" fill="#fa9f45"/><circle cx="241.8" cy="655.5" r="3.4" fill="#f9a849"/><circle cx="318.5" cy="726.4" r="3.4" fill="#ecbb4f"/><circle cx="301.9" cy="688.2" r="3.4" fill="#e7c151"/><circle cx="298.2" cy="713.2" r="3.4" fill="#f9aa4a"/><circle cx="245.5" cy="660.4" r="3.4" fill="#f3b34d"/><circle cx="313.7" cy="723.3" r="3.4" fill="#efb84e"/><circle cx="246.0" cy="662.6" r="3.4" fill="#f9aa4a"/><circle cx="268.3" cy="680.3" r="3.4" fill="#f2b44d"/><circle cx="255.6" cy="670.5" r="3.4" fill="#f9aa4a"/><circle cx="286.0" cy="656.0" r="3.4" fill="#f9ab4a"/><circle cx="263.9" cy="653.7" r="3.4" fill="#faa146"/><circle cx="299.7" cy="676.3" r="3.4" fill="#faa547"/><circle cx="304.4" cy="721.5" r="3.4" fill="#f5b24c"/><circle cx="220.2" cy="708.3" r="3.4" fill="#fc8f3e"/><circle cx="286.6" cy="672.1" r="3.4" fill="#f8ae4b"/><circle cx="320.3" cy="653.5" r="3.4" fill="#faa548"/><circle cx="239.5" cy="707.1" r="3.4" fill="#f9ab4a"/><circle cx="244.6" cy="684.1" r="3.4" fill="#faa548"/><circle cx="288.6" cy="686.3" r="3.4" fill="#fa9f45"/><circle cx="255.4" cy="716.4" r="3.4" fill="#eeb94e"/><circle cx="253.2" cy="717.6" r="3.4" fill="#faa447"/><circle cx="286.0" cy="712.6" r="3.4" fill="#f1b64e"/><circle cx="312.1" cy="712.5" r="3.4" fill="#faa749"/><circle cx="235.5" cy="695.5" r="3.4" fill="#fb9c44"/><circle cx="226.4" cy="648.5" r="3.4" fill="#faa046"/><circle cx="233.1" cy="698.2" r="3.4" fill="#f5b14c"/><circle cx="280.4" cy="736.0" r="3.4" fill="#f5b24c"/><circle cx="240.7" cy="703.4" r="3.4" fill="#eabe50"/><circle cx="283.2" cy="713.4" r="3.4" fill="#ebbd50"/><circle cx="296.7" cy="684.1" r="3.4" fill="#fa9f45"/><circle cx="313.6" cy="704.2" r="3.4" fill="#efb84e"/><circle cx="269.3" cy="706.7" r="3.4" fill="#f9aa4a"/><circle cx="224.8" cy="696.5" r="3.4" fill="#f9ac4b"/><circle cx="259.0" cy="676.4" r="3.4" fill="#f9ab4a"/><circle cx="287.3" cy="648.7" r="3.4" fill="#fb9c44"/><circle cx="290.6" cy="680.0" r="3.4" fill="#faa046"/><circle cx="204.5" cy="709.6" r="3.4" fill="#fb9b43"/><circle cx="301.5" cy="710.5" r="3.4" fill="#f9ac4b"/><circle cx="251.3" cy="719.6" r="3.4" fill="#f9a849"/><circle cx="266.9" cy="702.5" r="3.4" fill="#f8af4b"/><circle cx="215.7" cy="716.4" r="3.4" fill="#fc8f3e"/><circle cx="295.9" cy="724.5" r="3.4" fill="#efb84e"/><circle cx="272.7" cy="698.4" r="3.4" fill="#f2b44d"/><circle cx="317.9" cy="661.9" r="3.4" fill="#f9a849"/><circle cx="236.2" cy="699.0" r="3.4" fill="#faa146"/><circle cx="319.2" cy="715.8" r="3.4" fill="#e5c351"/><circle cx="308.1" cy="696.2" r="3.4" fill="#e3c552"/><circle cx="301.7" cy="678.9" r="3.4" fill="#f9a949"/><circle cx="259.1" cy="726.2" r="3.4" fill="#f9a849"/><circle cx="257.0" cy="690.8" r="3.4" fill="#f9ac4a"/><circle cx="276.6" cy="661.8" r="3.4" fill="#f9ac4a"/><circle cx="253.8" cy="689.7" r="3.4" fill="#f9a849"/><circle cx="230.6" cy="650.4" r="3.4" fill="#faa548"/><circle cx="274.3" cy="709.0" r="3.4" fill="#efb84e"/><circle cx="279.7" cy="669.9" r="3.4" fill="#f9ac4b"/><circle cx="287.2" cy="695.7" r="3.4" fill="#e6c151"/><circle cx="319.6" cy="688.6" r="3.4" fill="#f7af4c"/><circle cx="289.3" cy="672.5" r="3.4" fill="#faa749"/><circle cx="323.5" cy="671.9" r="3.4" fill="#e6c251"/><circle cx="230.6" cy="664.1" r="3.4" fill="#f6b04c"/><circle cx="261.3" cy="674.7" r="3.4" fill="#f1b64e"/><circle cx="264.3" cy="710.1" r="3.4" fill="#e5c251"/><circle cx="313.3" cy="709.2" r="3.4" fill="#e3c552"/><circle cx="239.9" cy="733.5" r="3.4" fill="#fb9842"/><circle cx="288.8" cy="725.9" r="3.4" fill="#f9ad4b"/><circle cx="262.0" cy="699.0" r="3.4" fill="#fa9f45"/><circle cx="287.1" cy="646.1" r="3.4" fill="#f3b44d"/><circle cx="317.6" cy="707.6" r="3.4" fill="#edba4f"/><circle cx="304.8" cy="702.9" r="3.4" fill="#f9a949"/><circle cx="238.1" cy="640.8" r="3.4" fill="#fc873b"/><circle cx="266.6" cy="675.8" r="3.4" fill="#f4b24d"/><circle cx="231.9" cy="717.1" r="3.4" fill="#fa9e45"/><circle cx="312.9" cy="697.4" r="3.4" fill="#e7c051"/><circle cx="297.1" cy="716.8" r="3.4" fill="#eeb94e"/><circle cx="228.9" cy="712.3" r="3.4" fill="#fb9641"/><circle cx="314.9" cy="686.4" r="3.4" fill="#efb84e"/><circle cx="286.8" cy="724.8" r="3.4" fill="#f2b54d"/><circle cx="252.3" cy="696.0" r="3.4" fill="#f6b04c"/><circle cx="229.7" cy="691.8" r="3.4" fill="#fa9d44"/><circle cx="233.4" cy="648.8" r="3.4" fill="#faa046"/><circle cx="225.1" cy="729.3" r="3.4" fill="#f9a949"/><circle cx="311.7" cy="658.4" r="3.4" fill="#efb84e"/><circle cx="226.7" cy="717.4" r="3.4" fill="#faa146"/><circle cx="235.7" cy="717.8" r="3.4" fill="#fa9d44"/><circle cx="271.5" cy="694.9" r="3.4" fill="#f7af4c"/><circle cx="213.6" cy="698.9" r="3.4" fill="#faa347"/><circle cx="303.0" cy="665.0" r="3.4" fill="#faa447"/><circle cx="291.5" cy="713.2" r="3.4" fill="#e7c051"/><circle cx="288.1" cy="715.7" r="3.4" fill="#f3b44d"/><circle cx="327.5" cy="700.7" r="3.4" fill="#f1b64e"/><circle cx="291.8" cy="721.2" r="3.4" fill="#e7c151"/><circle cx="299.0" cy="686.8" r="3.4" fill="#f5b24c"/><circle cx="325.5" cy="658.0" r="3.4" fill="#f9a949"/><circle cx="296.4" cy="699.0" r="3.4" fill="#f7b04c"/><circle cx="318.3" cy="695.1" r="3.4" fill="#f6b14c"/><circle cx="222.2" cy="668.3" r="3.4" fill="#faa648"/><circle cx="291.8" cy="710.6" r="3.4" fill="#faa046"/><circle cx="230.9" cy="725.6" r="3.4" fill="#fb9b43"/><circle cx="261.2" cy="692.5" r="3.4" fill="#f2b44d"/><circle cx="220.0" cy="672.7" r="3.4" fill="#faa045"/><circle cx="316.8" cy="681.3" r="3.4" fill="#f9ad4b"/><circle cx="275.2" cy="653.4" r="3.4" fill="#ecbc4f"/><circle cx="270.0" cy="699.2" r="3.4" fill="#f6b14c"/><circle cx="288.7" cy="678.2" r="3.4" fill="#f9ac4a"/><circle cx="283.3" cy="732.1" r="3.4" fill="#efb84e"/><circle cx="311.5" cy="724.7" r="3.4" fill="#f9ab4a"/><circle cx="247.8" cy="716.1" r="3.4" fill="#f5b14c"/><circle cx="240.5" cy="651.7" r="3.4" fill="#fa9c44"/><circle cx="219.7" cy="716.2" r="3.4" fill="#fc8d3d"/><circle cx="240.9" cy="733.0" r="3.4" fill="#f9aa4a"/><circle cx="279.4" cy="658.6" r="3.4" fill="#f4b24c"/><circle cx="245.7" cy="728.0" r="3.4" fill="#faa347"/><circle cx="259.8" cy="680.7" r="3.4" fill="#f8ae4b"/><circle cx="281.3" cy="650.0" r="3.4" fill="#f9ad4b"/><circle cx="251.0" cy="702.0" r="3.4" fill="#faa246"/><circle cx="276.0" cy="678.1" r="3.4" fill="#f5b14c"/><circle cx="330.5" cy="695.2" r="3.4" fill="#f7af4c"/><circle cx="296.0" cy="656.5" r="3.4" fill="#fa9f45"/><circle cx="247.8" cy="724.1" r="3.4" fill="#fa9f45"/><circle cx="227.3" cy="653.5" r="3.4" fill="#f9ad4b"/><circle cx="297.0" cy="691.3" r="3.4" fill="#e3c552"/><circle cx="296.6" cy="679.7" r="3.4" fill="#faa447"/><circle cx="246.8" cy="701.3" r="3.4" fill="#fa9f45"/><circle cx="264.2" cy="683.2" r="3.4" fill="#e7c151"/><circle cx="257.4" cy="660.5" r="3.4" fill="#fb9440"/><circle cx="278.8" cy="675.2" r="3.4" fill="#faa748"/><circle cx="309.8" cy="676.3" r="3.4" fill="#f6b04c"/><circle cx="264.8" cy="646.6" r="3.4" fill="#faa548"/><circle cx="242.9" cy="635.6" r="3.4" fill="#f9a849"/><circle cx="233.7" cy="725.7" r="3.4" fill="#fa9f45"/><circle cx="257.3" cy="735.7" r="3.4" fill="#fa9d44"/><circle cx="216.4" cy="677.5" r="3.4" fill="#f1b64e"/><circle cx="311.9" cy="671.4" r="3.4" fill="#f9a849"/><circle cx="224.8" cy="668.0" r="3.4" fill="#e3c552"/><circle cx="323.3" cy="688.5" r="3.4" fill="#e5c251"/><circle cx="282.9" cy="672.1" r="3.4" fill="#faa246"/><circle cx="250.5" cy="671.6" r="3.4" fill="#f3b34d"/><circle cx="252.1" cy="731.8" r="3.4" fill="#fa9c44"/><circle cx="213.6" cy="692.4" r="3.4" fill="#f7af4c"/><circle cx="217.6" cy="721.9" r="3.4" fill="#fb923f"/><circle cx="233.0" cy="680.1" r="3.4" fill="#e3c552"/><circle cx="268.5" cy="692.9" r="3.4" fill="#f9aa4a"/><circle cx="267.4" cy="718.1" r="3.4" fill="#f3b34d"/><circle cx="216.5" cy="694.9" r="3.4" fill="#eabd50"/><circle cx="208.7" cy="695.2" r="3.4" fill="#f9a849"/><circle cx="285.8" cy="706.6" r="3.4" fill="#f8ae4b"/><circle cx="320.9" cy="718.8" r="3.4" fill="#f9a949"/><circle cx="238.5" cy="717.3" r="3.4" fill="#fb9b43"/><circle cx="244.8" cy="717.4" r="3.4" fill="#e7c051"/><circle cx="246.4" cy="689.2" r="3.4" fill="#faa648"/><circle cx="300.1" cy="703.8" r="3.4" fill="#faa246"/><circle cx="234.0" cy="648.7" r="3.4" fill="#fa9f45"/><circle cx="215.8" cy="724.6" r="3.4" fill="#fa9f45"/><circle cx="270.7" cy="724.8" r="3.4" fill="#faa748"/><circle cx="249.1" cy="730.4" r="3.4" fill="#fb9a43"/><circle cx="298.7" cy="679.7" r="3.4" fill="#faa648"/><circle cx="283.0" cy="659.2" r="3.4" fill="#fb9a43"/><circle cx="297.4" cy="669.9" r="3.4" fill="#fb9340"/><circle cx="295.8" cy="663.6" r="3.4" fill="#fb9b43"/><circle cx="315.1" cy="682.2" r="3.4" fill="#e4c352"/><circle cx="321.9" cy="685.9" r="3.4" fill="#f2b54d"/><circle cx="241.4" cy="665.0" r="3.4" fill="#ebbc4f"/><circle cx="283.0" cy="718.6" r="3.4" fill="#e3c552"/><circle cx="280.3" cy="687.2" r="3.4" fill="#fb9742"/><circle cx="273.3" cy="661.9" r="3.4" fill="#efb84e"/><circle cx="318.0" cy="687.2" r="3.4" fill="#f2b54d"/><circle cx="330.1" cy="687.7" r="3.4" fill="#e3c552"/><circle cx="224.9" cy="706.8" r="3.4" fill="#fb9742"/><circle cx="236.4" cy="728.0" r="3.4" fill="#f8ae4b"/><circle cx="250.7" cy="728.0" r="3.4" fill="#f7af4c"/><circle cx="221.5" cy="710.5" r="3.4" fill="#faa347"/><circle cx="326.5" cy="686.7" r="3.4" fill="#f1b64e"/><circle cx="315.0" cy="724.6" r="3.4" fill="#f4b24d"/><circle cx="291.2" cy="678.1" r="3.4" fill="#faa749"/><circle cx="294.2" cy="650.1" r="3.4" fill="#f9a949"/><circle cx="273.8" cy="676.4" r="3.4" fill="#efb84e"/><circle cx="230.7" cy="670.2" r="3.4" fill="#f0b64e"/><circle cx="217.2" cy="706.7" r="3.4" fill="#fb9641"/><circle cx="317.7" cy="681.7" r="3.4" fill="#f2b54d"/><circle cx="313.8" cy="719.4" r="3.4" fill="#f9ac4b"/><circle cx="266.9" cy="656.2" r="3.4" fill="#e3c552"/><circle cx="299.0" cy="650.5" r="3.4" fill="#f9a949"/><circle cx="241.3" cy="684.6" r="3.4" fill="#f0b74e"/><circle cx="312.8" cy="674.5" r="3.4" fill="#f9a849"/><circle cx="331.7" cy="696.6" r="3.4" fill="#e3c552"/><circle cx="278.2" cy="717.4" r="3.4" fill="#f5b24c"/><circle cx="249.7" cy="665.4" r="3.4" fill="#faa246"/><circle cx="234.4" cy="665.9" r="3.4" fill="#ecbb4f"/><circle cx="266.0" cy="667.0" r="3.4" fill="#f2b54d"/><circle cx="237.4" cy="666.5" r="3.4" fill="#f9aa4a"/><circle cx="240.7" cy="668.8" r="3.4" fill="#f8ae4b"/><circle cx="274.2" cy="720.5" r="3.4" fill="#f9ab4a"/><circle cx="260.7" cy="667.5" r="3.4" fill="#f9ae4b"/><circle cx="316.5" cy="705.1" r="3.4" fill="#f4b24d"/><circle cx="322.5" cy="682.3" r="3.4" fill="#e9bf50"/><circle cx="248.2" cy="659.3" r="3.4" fill="#f9a849"/><circle cx="295.1" cy="721.5" r="3.4" fill="#ebbc4f"/><circle cx="313.9" cy="704.8" r="3.4" fill="#faa548"/><circle cx="300.5" cy="666.5" r="3.4" fill="#f9a949"/><circle cx="305.3" cy="659.3" r="3.4" fill="#f5b14c"/><circle cx="306.0" cy="705.6" r="3.4" fill="#f9a749"/><circle cx="278.2" cy="738.6" r="3.4" fill="#efb84e"/><circle cx="254.3" cy="734.0" r="3.4" fill="#faa547"/><circle cx="257.3" cy="683.3" r="3.4" fill="#f9ae4b"/><circle cx="278.7" cy="678.5" r="3.4" fill="#f6b04c"/><circle cx="275.3" cy="658.7" r="3.4" fill="#faa347"/><circle cx="262.3" cy="738.1" r="3.4" fill="#f3b34d"/><circle cx="335.4" cy="695.8" r="3.4" fill="#edba4f"/><circle cx="264.1" cy="695.2" r="3.4" fill="#f9a949"/><circle cx="233.2" cy="677.0" r="3.4" fill="#fb9b43"/><circle cx="303.2" cy="729.6" r="3.4" fill="#f3b44d"/><circle cx="299.0" cy="682.5" r="3.4" fill="#f1b54d"/><circle cx="241.3" cy="745.8" r="3.4" fill="#f3b34d"/><circle cx="298.3" cy="726.1" r="3.4" fill="#ecbb4f"/><circle cx="246.9" cy="706.5" r="3.4" fill="#ecbb4f"/><circle cx="263.3" cy="658.9" r="3.4" fill="#faa648"/><circle cx="254.4" cy="702.2" r="3.4" fill="#fa9f45"/><circle cx="318.4" cy="648.9" r="3.4" fill="#f7b04c"/><circle cx="304.1" cy="647.9" r="3.4" fill="#f7af4c"/><circle cx="262.3" cy="734.6" r="3.4" fill="#fb9b43"/><circle cx="298.9" cy="701.6" r="3.4" fill="#f3b44d"/><circle cx="230.8" cy="672.7" r="3.4" fill="#ebbc4f"/><circle cx="293.8" cy="714.6" r="3.4" fill="#f2b54d"/><circle cx="208.3" cy="696.7" r="3.4" fill="#f1b64e"/><circle cx="316.4" cy="659.8" r="3.4" fill="#edba4f"/><circle cx="255.3" cy="729.2" r="3.4" fill="#fc903f"/><circle cx="218.7" cy="727.7" r="3.4" fill="#fb9943"/><circle cx="251.8" cy="678.1" r="3.4" fill="#efb84e"/><circle cx="265.9" cy="697.6" r="3.4" fill="#faa447"/><circle cx="230.4" cy="666.7" r="3.4" fill="#f9ab4a"/><circle cx="250.0" cy="657.1" r="3.4" fill="#f9ad4b"/><circle cx="304.4" cy="724.9" r="3.4" fill="#f7af4c"/><circle cx="294.6" cy="676.3" r="3.4" fill="#fb9a43"/><circle cx="305.8" cy="649.3" r="3.4" fill="#f9a949"/><circle cx="225.0" cy="642.2" r="3.4" fill="#fb9742"/><circle cx="308.8" cy="710.5" r="3.4" fill="#e3c552"/><circle cx="320.6" cy="699.4" r="3.4" fill="#e3c552"/><circle cx="227.1" cy="684.3" r="3.4" fill="#e53d30"/><circle cx="241.0" cy="743.5" r="3.4" fill="#fa7337"/><circle cx="238.7" cy="736.1" r="3.4" fill="#fa7337"/><circle cx="274.5" cy="719.6" r="3.4" fill="#fa7337"/><circle cx="332.6" cy="663.0" r="3.4" fill="#faa246"/><circle cx="245.4" cy="625.5" r="3.4" fill="#fc863a"/><circle cx="234.3" cy="630.6" r="3.4" fill="#e53d30"/><circle cx="243.2" cy="634.0" r="3.4" fill="#fd8038"/><circle cx="252.6" cy="638.9" r="3.4" fill="#f86735"/><circle cx="277.8" cy="638.5" r="3.4" fill="#fc8b3d"/><circle cx="278.5" cy="644.7" r="3.4" fill="#fc8b3d"/><circle cx="260.3" cy="552.7" r="3.4" fill="#ea4631"/><circle cx="261.6" cy="547.4" r="3.4" fill="#f55b34"/><circle cx="252.2" cy="543.5" r="3.4" fill="#cc272f"/><circle cx="254.4" cy="549.9" r="3.4" fill="#e2362f"/><circle cx="273.2" cy="522.3" r="3.4" fill="#d1292f"/><circle cx="273.3" cy="528.8" r="3.4" fill="#be202f"/><circle cx="266.3" cy="551.2" r="3.4" fill="#d32a2e"/><circle cx="255.7" cy="537.5" r="3.4" fill="#e94431"/><circle cx="267.0" cy="531.0" r="3.4" fill="#ba1e30"/><circle cx="270.9" cy="518.8" r="3.4" fill="#c5232f"/><circle cx="252.3" cy="533.8" r="3.4" fill="#d2292e"/><circle cx="272.4" cy="537.3" r="3.4" fill="#dc2e2e"/><circle cx="263.9" cy="518.6" r="3.4" fill="#d52a2e"/><circle cx="256.6" cy="522.1" r="3.4" fill="#c4232f"/><circle cx="262.7" cy="523.9" r="3.4" fill="#cd272f"/><circle cx="266.5" cy="545.1" r="3.4" fill="#d42a2e"/><circle cx="260.0" cy="520.7" r="3.4" fill="#c0212f"/><circle cx="281.2" cy="528.6" r="3.4" fill="#d72c2e"/><circle cx="268.4" cy="517.1" r="3.4" fill="#d92c2e"/><circle cx="282.2" cy="542.4" r="3.4" fill="#f45834"/><circle cx="269.9" cy="522.0" r="3.4" fill="#e53c30"/><circle cx="257.8" cy="547.0" r="3.4" fill="#c8252f"/><circle cx="259.9" cy="532.1" r="3.4" fill="#db2d2e"/><circle cx="253.9" cy="527.8" r="3.4" fill="#bb1f30"/><circle cx="262.8" cy="526.8" r="3.4" fill="#be202f"/><circle cx="250.4" cy="531.2" r="3.4" fill="#df312e"/><circle cx="254.5" cy="540.8" r="3.4" fill="#c2222f"/><circle cx="259.7" cy="529.1" r="3.4" fill="#cc272f"/><circle cx="278.9" cy="522.0" r="3.4" fill="#dc2d2e"/><circle cx="265.8" cy="523.0" r="3.4" fill="#bf212f"/><circle cx="266.3" cy="539.3" r="3.4" fill="#e53d30"/><circle cx="263.7" cy="550.0" r="3.4" fill="#e43c30"/><circle cx="257.2" cy="553.4" r="3.4" fill="#e0332f"/><circle cx="271.4" cy="550.0" r="3.4" fill="#d92c2e"/><circle cx="255.4" cy="545.4" r="3.4" fill="#f55c34"/><circle cx="258.1" cy="540.8" r="3.4" fill="#d0282f"/><circle cx="270.1" cy="527.8" r="3.4" fill="#d2292e"/><circle cx="270.2" cy="542.1" r="3.4" fill="#c9252f"/><circle cx="276.4" cy="545.9" r="3.4" fill="#f76435"/><circle cx="262.0" cy="534.9" r="3.4" fill="#d0282f"/><circle cx="278.9" cy="551.6" r="3.4" fill="#d72b2e"/><circle cx="272.7" cy="557.5" r="3.4" fill="#eb4731"/><circle cx="280.3" cy="548.9" r="3.4" fill="#e0332f"/><circle cx="269.1" cy="546.8" r="3.4" fill="#dd2e2e"/><circle cx="264.7" cy="515.7" r="3.4" fill="#ce272f"/><circle cx="269.5" cy="533.6" r="3.4" fill="#e2372f"/><circle cx="269.8" cy="554.6" r="3.4" fill="#ec4a32"/><circle cx="266.2" cy="556.7" r="3.4" fill="#de302e"/><circle cx="261.0" cy="557.2" r="3.4" fill="#eb4731"/><circle cx="272.5" cy="533.5" r="3.4" fill="#d82c2e"/><circle cx="263.7" cy="544.2" r="3.4" fill="#c3232f"/><circle cx="275.5" cy="534.4" r="3.4" fill="#df322f"/><circle cx="258.4" cy="524.9" r="3.4" fill="#c7242f"/><circle cx="278.0" cy="526.6" r="3.4" fill="#d2292e"/><circle cx="279.0" cy="538.9" r="3.4" fill="#eb4731"/><circle cx="282.5" cy="538.2" r="3.4" fill="#ca252f"/><circle cx="274.0" cy="552.6" r="3.4" fill="#d82c2e"/><circle cx="265.8" cy="534.8" r="3.4" fill="#d92c2e"/><circle cx="278.4" cy="531.1" r="3.4" fill="#d32a2e"/><circle cx="251.7" cy="538.9" r="3.4" fill="#e63f30"/><circle cx="278.3" cy="535.2" r="3.4" fill="#c6242f"/><circle cx="262.6" cy="540.8" r="3.4" fill="#c6242f"/><circle cx="255.8" cy="530.6" r="3.4" fill="#ee4e32"/><circle cx="269.6" cy="559.7" r="3.4" fill="#bd202f"/><circle cx="266.4" cy="526.6" r="3.4" fill="#d52a2e"/><circle cx="277.4" cy="543.0" r="3.4" fill="#da2d2e"/><circle cx="262.7" cy="529.7" r="3.4" fill="#cd272f"/><circle cx="268.9" cy="537.4" r="3.4" fill="#db2d2e"/><circle cx="282.2" cy="532.9" r="3.4" fill="#e94431"/><circle cx="274.5" cy="540.9" r="3.4" fill="#f65d34"/><circle cx="277.0" cy="555.2" r="3.4" fill="#dd2e2e"/><circle cx="276.6" cy="549.4" r="3.4" fill="#e94431"/><circle cx="276.3" cy="537.6" r="3.4" fill="#db2d2e"/><circle cx="257.0" cy="527.7" r="3.4" fill="#cb262f"/><circle cx="281.7" cy="545.3" r="3.4" fill="#d1292f"/><circle cx="260.3" cy="544.2" r="3.4" fill="#da2d2e"/><circle cx="275.8" cy="519.0" r="3.4" fill="#e94531"/><circle cx="255.9" cy="533.9" r="3.4" fill="#c5232f"/><circle cx="252.2" cy="546.5" r="3.4" fill="#da2d2e"/><circle cx="254.7" cy="524.5" r="3.4" fill="#ce282f"/><circle cx="264.7" cy="553.6" r="3.4" fill="#bb1f30"/><circle cx="273.9" cy="548.2" r="3.4" fill="#db2d2e"/><circle cx="273.3" cy="544.3" r="3.4" fill="#d2292f"/><circle cx="266.4" cy="548.1" r="3.4" fill="#e3382f"/><circle cx="275.2" cy="531.1" r="3.4" fill="#df312e"/><circle cx="265.5" cy="559.6" r="3.4" fill="#f25433"/><circle cx="258.1" cy="550.2" r="3.4" fill="#de302e"/><circle cx="258.5" cy="535.1" r="3.4" fill="#ce272f"/><circle cx="259.5" cy="537.9" r="3.4" fill="#e2382f"/><circle cx="268.9" cy="525.1" r="3.4" fill="#d52a2e"/><circle cx="273.4" cy="525.3" r="3.4" fill="#d0282f"/><circle cx="266.9" cy="519.7" r="3.4" fill="#c7242f"/><circle cx="280.7" cy="525.6" r="3.4" fill="#e94431"/><circle cx="271.0" cy="531.1" r="3.4" fill="#b91e30"/><circle cx="263.9" cy="537.1" r="3.4" fill="#be202f"/><circle cx="276.3" cy="523.9" r="3.4" fill="#e0342f"/><circle cx="250.5" cy="536.2" r="3.4" fill="#ee4d32"/><circle cx="251.0" cy="528.3" r="3.4" fill="#c8252f"/><circle cx="283.5" cy="526.5" r="3.4" fill="#e43b30"/><circle cx="280.9" cy="554.3" r="3.4" fill="#d82c2e"/><circle cx="262.8" cy="511.8" r="3.4" fill="#ed4b32"/><circle cx="276.4" cy="514.5" r="3.4" fill="#e33a30"/><circle cx="259.8" cy="515.0" r="3.4" fill="#c1222f"/><circle cx="283.6" cy="523.7" r="3.4" fill="#d1292f"/><circle cx="266.2" cy="512.0" r="3.4" fill="#c8242f"/><circle cx="250.6" cy="552.5" r="3.4" fill="#cc272f"/><circle cx="285.0" cy="546.4" r="3.4" fill="#db2d2e"/><circle cx="258.7" cy="560.2" r="3.4" fill="#ef5033"/><circle cx="286.3" cy="528.4" r="3.4" fill="#df322f"/><circle cx="278.7" cy="517.3" r="3.4" fill="#dc2d2e"/><circle cx="270.0" cy="577.0" r="3.4" fill="#ed4b32"/><circle cx="273.8" cy="579.9" r="3.4" fill="#f55a34"/><circle cx="271.8" cy="584.9" r="3.4" fill="#fd8038"/><circle cx="270.0" cy="558.0" r="3.4" fill="#fd8038"/><circle cx="277.8" cy="530.1" r="3.4" fill="#fa7337"/><circle cx="319.1" cy="614.1" r="3.4" fill="#fc7937"/><circle cx="302.7" cy="604.4" r="3.4" fill="#ef4f32"/><circle cx="300.1" cy="580.7" r="3.4" fill="#cf282f"/><circle cx="327.2" cy="600.4" r="3.4" fill="#ef5033"/><circle cx="302.6" cy="584.5" r="3.4" fill="#d3292e"/><circle cx="335.5" cy="609.8" r="3.4" fill="#f76335"/><circle cx="306.1" cy="600.1" r="3.4" fill="#e84331"/><circle cx="328.9" cy="620.8" r="3.4" fill="#fb9541"/><circle cx="312.8" cy="613.7" r="3.4" fill="#f76635"/><circle cx="308.0" cy="592.2" r="3.4" fill="#d72b2e"/><circle cx="319.3" cy="598.2" r="3.4" fill="#e1352f"/><circle cx="312.3" cy="589.2" r="3.4" fill="#d62b2e"/><circle cx="326.0" cy="607.7" r="3.4" fill="#f86a36"/><circle cx="316.2" cy="577.4" r="3.4" fill="#d2292e"/><circle cx="328.5" cy="591.7" r="3.4" fill="#e74131"/><circle cx="298.4" cy="585.9" r="3.4" fill="#e43a30"/><circle cx="325.8" cy="629.1" r="3.4" fill="#fc913f"/><circle cx="324.3" cy="586.0" r="3.4" fill="#de302e"/><circle cx="333.6" cy="617.5" r="3.4" fill="#f96c36"/><circle cx="316.3" cy="602.7" r="3.4" fill="#ed4b32"/><circle cx="314.2" cy="597.2" r="3.4" fill="#f05233"/><circle cx="298.6" cy="601.2" r="3.4" fill="#f66035"/><circle cx="330.7" cy="597.1" r="3.4" fill="#ec4a32"/><circle cx="316.3" cy="610.0" r="3.4" fill="#ef4f32"/><circle cx="317.8" cy="627.4" r="3.4" fill="#f25533"/><circle cx="299.4" cy="591.0" r="3.4" fill="#d42a2e"/><circle cx="327.7" cy="614.6" r="3.4" fill="#fc8e3e"/><circle cx="336.5" cy="605.5" r="3.4" fill="#fc863b"/><circle cx="306.2" cy="583.1" r="3.4" fill="#f15333"/><circle cx="305.9" cy="594.5" r="3.4" fill="#d32a2e"/><circle cx="308.1" cy="607.4" r="3.4" fill="#e74031"/><circle cx="311.0" cy="603.0" r="3.4" fill="#f55b34"/><circle cx="314.7" cy="606.4" r="3.4" fill="#f65e34"/><circle cx="322.7" cy="601.9" r="3.4" fill="#f86836"/><circle cx="309.7" cy="574.9" r="3.4" fill="#d42a2e"/><circle cx="331.1" cy="606.7" r="3.4" fill="#f86936"/><circle cx="322.7" cy="591.4" r="3.4" fill="#dc2e2e"/><circle cx="320.8" cy="621.9" r="3.4" fill="#fd853a"/><circle cx="327.7" cy="588.0" r="3.4" fill="#ca252f"/><circle cx="326.7" cy="595.9" r="3.4" fill="#f96d36"/><circle cx="294.0" cy="597.6" r="3.4" fill="#dc2d2e"/><circle cx="301.1" cy="594.0" r="3.4" fill="#e84131"/><circle cx="295.0" cy="594.1" r="3.4" fill="#e2372f"/><circle cx="312.3" cy="582.2" r="3.4" fill="#d32a2e"/><circle cx="311.4" cy="609.3" r="3.4" fill="#f96f36"/><circle cx="320.4" cy="587.3" r="3.4" fill="#d62b2e"/><circle cx="327.9" cy="624.9" r="3.4" fill="#fd7f38"/><circle cx="328.6" cy="604.3" r="3.4" fill="#fb7937"/><circle cx="329.9" cy="618.0" r="3.4" fill="#fc7937"/><circle cx="332.7" cy="603.9" r="3.4" fill="#f55a34"/><circle cx="316.3" cy="620.4" r="3.4" fill="#f65e34"/><circle cx="336.4" cy="619.0" r="3.4" fill="#f96f36"/><circle cx="334.5" cy="601.1" r="3.4" fill="#f45834"/><circle cx="314.1" cy="616.9" r="3.4" fill="#f76235"/><circle cx="321.6" cy="629.6" r="3.4" fill="#fb7737"/><circle cx="338.5" cy="600.6" r="3.4" fill="#fa7437"/><circle cx="325.4" cy="633.1" r="3.4" fill="#f55934"/><circle cx="296.4" cy="590.8" r="3.4" fill="#e74131"/><circle cx="331.2" cy="611.3" r="3.4" fill="#fd8138"/><circle cx="339.6" cy="610.9" r="3.4" fill="#fb7637"/><circle cx="324.6" cy="618.4" r="3.4" fill="#fc8d3d"/><circle cx="302.7" cy="576.2" r="3.4" fill="#d82c2e"/><circle cx="308.3" cy="612.6" r="3.4" fill="#e53d30"/><circle cx="305.1" cy="608.3" r="3.4" fill="#e2372f"/><circle cx="308.3" cy="585.7" r="3.4" fill="#e43b30"/><circle cx="322.6" cy="594.4" r="3.4" fill="#eb4832"/><circle cx="323.5" cy="612.8" r="3.4" fill="#f35734"/><circle cx="321.0" cy="608.4" r="3.4" fill="#f86735"/><circle cx="333.4" cy="622.2" r="3.4" fill="#fc7e38"/><circle cx="317.9" cy="617.2" r="3.4" fill="#fa7237"/><circle cx="306.2" cy="576.6" r="3.4" fill="#ed4c32"/><circle cx="313.7" cy="593.0" r="3.4" fill="#ef4f32"/><circle cx="316.7" cy="589.6" r="3.4" fill="#da2d2e"/><circle cx="312.0" cy="577.8" r="3.4" fill="#c0212f"/><circle cx="322.5" cy="598.4" r="3.4" fill="#f55b34"/><circle cx="311.5" cy="599.3" r="3.4" fill="#e94531"/><circle cx="331.1" cy="629.2" r="3.4" fill="#fb7537"/><circle cx="325.2" cy="621.8" r="3.4" fill="#fd8339"/><circle cx="323.4" cy="605.1" r="3.4" fill="#fc7d38"/><circle cx="335.8" cy="596.9" r="3.4" fill="#e84231"/><circle cx="319.5" cy="604.4" r="3.4" fill="#fc7c38"/><circle cx="319.8" cy="601.5" r="3.4" fill="#e53c30"/><circle cx="334.1" cy="590.6" r="3.4" fill="#e53d30"/><circle cx="315.7" cy="586.8" r="3.4" fill="#d42a2e"/><circle cx="324.8" cy="624.8" r="3.4" fill="#fb7537"/><circle cx="338.5" cy="614.7" r="3.4" fill="#f55a34"/><circle cx="329.1" cy="631.5" r="3.4" fill="#f96c36"/><circle cx="318.7" cy="583.9" r="3.4" fill="#e84331"/><circle cx="331.2" cy="588.6" r="3.4" fill="#d32a2e"/><circle cx="326.9" cy="611.6" r="3.4" fill="#fd8339"/><circle cx="326.0" cy="583.5" r="3.4" fill="#e1342f"/><circle cx="307.8" cy="580.2" r="3.4" fill="#da2d2e"/><circle cx="307.5" cy="602.8" r="3.4" fill="#f45734"/><circle cx="320.4" cy="625.7" r="3.4" fill="#fa7136"/><circle cx="303.6" cy="589.5" r="3.4" fill="#e43c30"/><circle cx="334.1" cy="614.3" r="3.4" fill="#f86a36"/><circle cx="335.1" cy="593.7" r="3.4" fill="#e3382f"/><circle cx="339.8" cy="606.8" r="3.4" fill="#f66035"/><circle cx="330.3" cy="601.1" r="3.4" fill="#f45834"/><circle cx="316.8" cy="593.0" r="3.4" fill="#ea4531"/><circle cx="298.3" cy="597.6" r="3.4" fill="#ec4a32"/><circle cx="325.2" cy="592.9" r="3.4" fill="#f86b36"/><circle cx="304.2" cy="579.8" r="3.4" fill="#de302e"/><circle cx="316.8" cy="580.8" r="3.4" fill="#d62b2e"/><circle cx="303.1" cy="600.6" r="3.4" fill="#f65d34"/><circle cx="320.1" cy="592.9" r="3.4" fill="#ec4932"/><circle cx="322.7" cy="581.4" r="3.4" fill="#c9252f"/><circle cx="311.4" cy="595.8" r="3.4" fill="#f45834"/><circle cx="339.3" cy="603.5" r="3.4" fill="#fb7637"/><circle cx="332.2" cy="625.0" r="3.4" fill="#f86835"/><circle cx="321.6" cy="584.6" r="3.4" fill="#e63f30"/><circle cx="317.0" cy="623.5" r="3.4" fill="#fd843a"/><circle cx="322.1" cy="615.6" r="3.4" fill="#fc873b"/><circle cx="308.5" cy="596.7" r="3.4" fill="#e74030"/><circle cx="317.7" cy="606.8" r="3.4" fill="#f66035"/><circle cx="328.8" cy="608.7" r="3.4" fill="#f96c36"/><circle cx="315.7" cy="613.1" r="3.4" fill="#fc7d38"/><circle cx="320.9" cy="618.6" r="3.4" fill="#f96f36"/><circle cx="301.1" cy="587.5" r="3.4" fill="#c9252f"/><circle cx="331.9" cy="592.9" r="3.4" fill="#da2d2e"/><circle cx="306.7" cy="588.6" r="3.4" fill="#d62b2e"/><circle cx="299.0" cy="604.1" r="3.4" fill="#e63e30"/><circle cx="320.9" cy="611.5" r="3.4" fill="#fb7537"/><circle cx="312.3" cy="585.8" r="3.4" fill="#d62b2e"/><circle cx="301.4" cy="607.0" r="3.4" fill="#f55c34"/><circle cx="319.6" cy="578.9" r="3.4" fill="#e53d30"/><circle cx="314.7" cy="583.9" r="3.4" fill="#df322f"/><circle cx="304.6" cy="597.3" r="3.4" fill="#e1362f"/><circle cx="299.4" cy="577.7" r="3.4" fill="#c7242f"/><circle cx="305.1" cy="586.1" r="3.4" fill="#e3392f"/><circle cx="305.6" cy="611.4" r="3.4" fill="#ef4f33"/><circle cx="316.5" cy="599.5" r="3.4" fill="#fa7337"/><circle cx="311.4" cy="606.2" r="3.4" fill="#f35633"/><circle cx="305.6" cy="605.1" r="3.4" fill="#f05133"/><circle cx="330.9" cy="585.6" r="3.4" fill="#f05133"/><circle cx="308.4" cy="572.2" r="3.4" fill="#cc262f"/><circle cx="345.3" cy="612.2" r="3.4" fill="#f55b34"/><circle cx="295.2" cy="580.7" r="3.4" fill="#ca262f"/><circle cx="311.3" cy="618.1" r="3.4" fill="#f76435"/><circle cx="342.9" cy="596.6" r="3.4" fill="#e74131"/><circle cx="303.9" cy="572.6" r="3.4" fill="#cf282f"/><circle cx="319.8" cy="575.0" r="3.4" fill="#d32a2e"/><circle cx="339.7" cy="622.2" r="3.4" fill="#fb7537"/><circle cx="310.3" cy="615.0" r="3.4" fill="#f86835"/><circle cx="295.0" cy="602.4" r="3.4" fill="#ea4631"/><circle cx="308.5" cy="617.8" r="3.4" fill="#f55b34"/><circle cx="297.2" cy="608.0" r="3.4" fill="#ee4e32"/><circle cx="344.0" cy="605.3" r="3.4" fill="#ea4731"/><circle cx="321.7" cy="637.2" r="3.4" fill="#ef4f32"/><circle cx="325.5" cy="578.8" r="3.4" fill="#e1352f"/><circle cx="340.5" cy="594.9" r="3.4" fill="#ec4a32"/><circle cx="302.7" cy="611.1" r="3.4" fill="#ef4f33"/><circle cx="334.7" cy="626.6" r="3.4" fill="#f45934"/><circle cx="341.4" cy="600.5" r="3.4" fill="#ed4b32"/><circle cx="300.2" cy="584.4" r="3.4" fill="#6b4d47"/><circle cx="305.8" cy="589.3" r="3.4" fill="#a52034"/><circle cx="313.6" cy="606.1" r="3.4" fill="#a52034"/><circle cx="293.5" cy="597.1" r="3.4" fill="#b01a30"/><circle cx="341.5" cy="611.7" r="3.4" fill="#bb1f30"/><circle cx="299.1" cy="600.5" r="3.4" fill="#b01a30"/><circle cx="292.4" cy="589.3" r="3.4" fill="#fc8b3d"/><circle cx="286.8" cy="620.2" r="3.4" fill="#fc863a"/><circle cx="291.3" cy="621.3" r="3.4" fill="#fc863a"/><circle cx="298.6" cy="621.7" r="3.4" fill="#fc863a"/><circle cx="304.7" cy="626.2" r="3.4" fill="#fd8038"/><circle cx="310.9" cy="626.6" r="3.4" fill="#dd2e2e"/><circle cx="308.0" cy="631.8" r="3.4" fill="#fc8b3d"/><circle cx="311.4" cy="636.3" r="3.4" fill="#fc8b3d"/><circle cx="330.8" cy="584.9" r="3.4" fill="#fd8038"/><circle cx="335.9" cy="589.3" r="3.4" fill="#fd8038"/>
<rect x="167.09" y="491.09" width="237.82" height="279.82" fill="none" stroke="#2e2e2e" stroke-width="1.78"/>
<rect x="167.09" y="434.99" width="237.82" height="54.32" fill="#d0d0d0" stroke="#2e2e2e" stroke-width="1.78"/>
<text transform="translate(285.4,472.6) scale(1,1.04)" font-size="29.33" fill="#1a1a1a" text-anchor="middle">PCs = 15</text>
</g>
<g>
<rect x="423.9" y="490.2" width="239.6" height="281.6" fill="#fff"/>
<line x1="430.3" x2="430.3" y1="490.2" y2="771.8" stroke="#e9e9e9" stroke-width="1.78"/>
<line x1="501.5" x2="501.5" y1="490.2" y2="771.8" stroke="#e9e9e9" stroke-width="1.78"/>
<line x1="572.7" x2="572.7" y1="490.2" y2="771.8" stroke="#e9e9e9" stroke-width="1.78"/>
<line x1="643.9" x2="643.9" y1="490.2" y2="771.8" stroke="#e9e9e9" stroke-width="1.78"/>
<line y1="762.5" y2="762.5" x1="423.9" x2="663.5" stroke="#e9e9e9" stroke-width="1.78"/>
<line y1="691.2" y2="691.2" x1="423.9" x2="663.5" stroke="#e9e9e9" stroke-width="1.78"/>
<line y1="620.0" y2="620.0" x1="423.9" x2="663.5" stroke="#e9e9e9" stroke-width="1.78"/>
<line y1="548.7" y2="548.7" x1="423.9" x2="663.5" stroke="#e9e9e9" stroke-width="1.78"/>
<line x1="465.9" x2="465.9" y1="490.2" y2="771.8" stroke="#e9e9e9" stroke-width="3.56"/>
<line x1="537.1" x2="537.1" y1="490.2" y2="771.8" stroke="#e9e9e9" stroke-width="3.56"/>
<line x1="608.3" x2="608.3" y1="490.2" y2="771.8" stroke="#e9e9e9" stroke-width="3.56"/>
<line y1="726.9" y2="726.9" x1="423.9" x2="663.5" stroke="#e9e9e9" stroke-width="3.56"/>
<line y1="655.6" y2="655.6" x1="423.9" x2="663.5" stroke="#e9e9e9" stroke-width="3.56"/>
<line y1="584.3" y2="584.3" x1="423.9" x2="663.5" stroke="#e9e9e9" stroke-width="3.56"/>
<line y1="513.1" y2="513.1" x1="423.9" x2="663.5" stroke="#e9e9e9" stroke-width="3.56"/>
<circle cx="493.4" cy="567.6" r="3.4" fill="#241736"/><circle cx="527.6" cy="647.1" r="3.4" fill="#eeb94f"/><circle cx="575.7" cy="648.6" r="3.4" fill="#f4b34d"/><circle cx="547.4" cy="642.7" r="3.4" fill="#f9a949"/><circle cx="529.8" cy="686.5" r="3.4" fill="#e3c552"/><circle cx="526.8" cy="690.1" r="3.4" fill="#f3b44d"/><circle cx="599.7" cy="670.8" r="3.4" fill="#ecbb4f"/><circle cx="515.1" cy="650.3" r="3.4" fill="#f4b24d"/><circle cx="536.5" cy="670.4" r="3.4" fill="#f6b04c"/><circle cx="567.7" cy="683.3" r="3.4" fill="#f8ae4b"/><circle cx="565.8" cy="700.9" r="3.4" fill="#f9ac4b"/><circle cx="586.7" cy="656.4" r="3.4" fill="#f5b24c"/><circle cx="532.5" cy="686.8" r="3.4" fill="#f5b14c"/><circle cx="541.9" cy="720.1" r="3.4" fill="#f5b24c"/><circle cx="565.5" cy="723.1" r="3.4" fill="#faa347"/><circle cx="576.7" cy="654.9" r="3.4" fill="#e8bf50"/><circle cx="563.8" cy="680.1" r="3.4" fill="#ecbb4f"/><circle cx="574.4" cy="698.4" r="3.4" fill="#f0b74e"/><circle cx="527.6" cy="652.9" r="3.4" fill="#edba4f"/><circle cx="553.3" cy="700.3" r="3.4" fill="#f9ac4b"/><circle cx="518.8" cy="674.9" r="3.4" fill="#fb913f"/><circle cx="553.0" cy="720.1" r="3.4" fill="#f7af4c"/><circle cx="534.7" cy="633.6" r="3.4" fill="#f9ab4a"/><circle cx="557.8" cy="656.9" r="3.4" fill="#faa548"/><circle cx="553.7" cy="692.1" r="3.4" fill="#f1b64e"/><circle cx="590.6" cy="714.5" r="3.4" fill="#fb9240"/><circle cx="600.2" cy="710.1" r="3.4" fill="#e9bf50"/><circle cx="602.6" cy="657.4" r="3.4" fill="#e6c251"/><circle cx="595.3" cy="694.4" r="3.4" fill="#f4b24c"/><circle cx="543.2" cy="684.5" r="3.4" fill="#fb9842"/><circle cx="534.6" cy="705.5" r="3.4" fill="#f8ae4b"/><circle cx="535.9" cy="664.0" r="3.4" fill="#ebbd50"/><circle cx="588.1" cy="712.1" r="3.4" fill="#fc8e3e"/><circle cx="573.7" cy="642.5" r="3.4" fill="#fa9e45"/><circle cx="610.4" cy="679.9" r="3.4" fill="#e3c552"/><circle cx="595.0" cy="654.0" r="3.4" fill="#f6b04c"/><circle cx="548.8" cy="642.4" r="3.4" fill="#f8ae4b"/><circle cx="565.6" cy="708.4" r="3.4" fill="#f2b54d"/><circle cx="588.2" cy="682.4" r="3.4" fill="#e3c552"/><circle cx="543.3" cy="622.6" r="3.4" fill="#f9ac4b"/><circle cx="563.3" cy="644.2" r="3.4" fill="#f9ad4b"/><circle cx="565.2" cy="681.1" r="3.4" fill="#f9ad4b"/><circle cx="529.2" cy="661.7" r="3.4" fill="#f9a949"/><circle cx="551.8" cy="642.9" r="3.4" fill="#f4b24d"/><circle cx="562.2" cy="715.3" r="3.4" fill="#f9ab4a"/><circle cx="582.7" cy="684.2" r="3.4" fill="#f1b64e"/><circle cx="562.6" cy="649.7" r="3.4" fill="#f7af4c"/><circle cx="547.3" cy="680.6" r="3.4" fill="#f3b44d"/><circle cx="528.2" cy="637.6" r="3.4" fill="#f9ad4b"/><circle cx="540.8" cy="660.5" r="3.4" fill="#f9ac4b"/><circle cx="591.2" cy="706.4" r="3.4" fill="#faa347"/><circle cx="602.9" cy="690.9" r="3.4" fill="#e6c251"/><circle cx="525.8" cy="704.9" r="3.4" fill="#faa347"/><circle cx="561.9" cy="688.1" r="3.4" fill="#fa9d44"/><circle cx="556.5" cy="704.5" r="3.4" fill="#eabd50"/><circle cx="543.6" cy="672.2" r="3.4" fill="#f9ad4b"/><circle cx="550.2" cy="640.2" r="3.4" fill="#e3c552"/><circle cx="570.2" cy="702.4" r="3.4" fill="#f7af4c"/><circle cx="531.0" cy="676.1" r="3.4" fill="#faa447"/><circle cx="523.6" cy="666.3" r="3.4" fill="#f9a749"/><circle cx="544.4" cy="703.3" r="3.4" fill="#faa447"/><circle cx="550.1" cy="635.3" r="3.4" fill="#f8ae4b"/><circle cx="553.5" cy="640.5" r="3.4" fill="#e9bf50"/><circle cx="564.8" cy="720.2" r="3.4" fill="#faa548"/><circle cx="607.4" cy="667.6" r="3.4" fill="#e3c552"/><circle cx="540.0" cy="670.4" r="3.4" fill="#f2b44d"/><circle cx="562.6" cy="723.0" r="3.4" fill="#faa347"/><circle cx="558.7" cy="637.0" r="3.4" fill="#f0b74e"/><circle cx="584.8" cy="707.5" r="3.4" fill="#fb9641"/><circle cx="547.2" cy="704.0" r="3.4" fill="#f0b74e"/><circle cx="546.3" cy="717.2" r="3.4" fill="#faa749"/><circle cx="610.6" cy="661.0" r="3.4" fill="#e3c552"/><circle cx="555.1" cy="723.1" r="3.4" fill="#fc903f"/><circle cx="547.6" cy="661.1" r="3.4" fill="#faa447"/><circle cx="565.1" cy="685.4" r="3.4" fill="#eeb94f"/><circle cx="550.7" cy="705.4" r="3.4" fill="#f5b24c"/><circle cx="542.0" cy="706.0" r="3.4" fill="#efb84e"/><circle cx="556.9" cy="669.3" r="3.4" fill="#faa347"/><circle cx="603.3" cy="672.0" r="3.4" fill="#e5c351"/><circle cx="549.5" cy="682.6" r="3.4" fill="#f2b54d"/><circle cx="574.2" cy="655.8" r="3.4" fill="#f2b54d"/><circle cx="553.6" cy="711.4" r="3.4" fill="#faa748"/><circle cx="521.0" cy="667.8" r="3.4" fill="#f9ab4a"/><circle cx="529.3" cy="643.1" r="3.4" fill="#f1b64e"/><circle cx="561.7" cy="708.3" r="3.4" fill="#f2b44d"/><circle cx="574.7" cy="694.7" r="3.4" fill="#f8ae4b"/><circle cx="513.8" cy="695.1" r="3.4" fill="#f6b04c"/><circle cx="586.4" cy="659.3" r="3.4" fill="#e9be50"/><circle cx="555.6" cy="708.6" r="3.4" fill="#f4b24d"/><circle cx="572.4" cy="685.9" r="3.4" fill="#f9ab4a"/><circle cx="567.1" cy="650.3" r="3.4" fill="#f8af4b"/><circle cx="572.3" cy="705.1" r="3.4" fill="#f4b24d"/><circle cx="604.3" cy="657.3" r="3.4" fill="#e9be50"/><circle cx="572.1" cy="669.4" r="3.4" fill="#f7b04c"/><circle cx="562.8" cy="730.6" r="3.4" fill="#faa347"/><circle cx="573.4" cy="714.4" r="3.4" fill="#f9a949"/><circle cx="523.9" cy="678.7" r="3.4" fill="#faa648"/><circle cx="598.7" cy="694.1" r="3.4" fill="#eeb94f"/><circle cx="585.5" cy="674.5" r="3.4" fill="#eeb94e"/><circle cx="554.0" cy="670.6" r="3.4" fill="#f1b54d"/><circle cx="549.2" cy="700.7" r="3.4" fill="#faa447"/><circle cx="539.6" cy="652.1" r="3.4" fill="#f4b34d"/><circle cx="591.2" cy="709.0" r="3.4" fill="#fb9b43"/><circle cx="581.4" cy="669.7" r="3.4" fill="#f7af4c"/><circle cx="543.6" cy="682.0" r="3.4" fill="#f9ac4a"/><circle cx="539.2" cy="675.2" r="3.4" fill="#faa447"/><circle cx="613.1" cy="668.3" r="3.4" fill="#ebbc4f"/><circle cx="546.9" cy="656.3" r="3.4" fill="#edba4f"/><circle cx="513.5" cy="676.6" r="3.4" fill="#f7af4c"/><circle cx="600.9" cy="650.3" r="3.4" fill="#f9ab4a"/><circle cx="582.0" cy="697.9" r="3.4" fill="#eeb94f"/><circle cx="544.4" cy="719.1" r="3.4" fill="#faa749"/><circle cx="529.8" cy="675.1" r="3.4" fill="#f2b54d"/><circle cx="534.4" cy="691.0" r="3.4" fill="#e9be50"/><circle cx="595.7" cy="702.6" r="3.4" fill="#faa046"/><circle cx="522.0" cy="637.3" r="3.4" fill="#f9ad4b"/><circle cx="541.9" cy="716.2" r="3.4" fill="#faa648"/><circle cx="540.2" cy="725.8" r="3.4" fill="#f9ac4b"/><circle cx="514.7" cy="675.3" r="3.4" fill="#fb9742"/><circle cx="586.6" cy="669.6" r="3.4" fill="#f5b24c"/><circle cx="578.3" cy="648.6" r="3.4" fill="#f9ac4b"/><circle cx="565.1" cy="645.2" r="3.4" fill="#f3b34d"/><circle cx="583.0" cy="703.2" r="3.4" fill="#f4b24d"/><circle cx="549.6" cy="631.1" r="3.4" fill="#f6b04c"/><circle cx="530.3" cy="647.2" r="3.4" fill="#f7af4c"/><circle cx="558.7" cy="676.5" r="3.4" fill="#efb74e"/><circle cx="586.8" cy="709.6" r="3.4" fill="#fa9e45"/><circle cx="552.7" cy="648.4" r="3.4" fill="#e8bf50"/><circle cx="595.2" cy="686.7" r="3.4" fill="#e6c251"/><circle cx="544.8" cy="730.4" r="3.4" fill="#f9a949"/><circle cx="548.9" cy="727.4" r="3.4" fill="#faa748"/><circle cx="547.8" cy="624.8" r="3.4" fill="#faa648"/><circle cx="585.5" cy="679.8" r="3.4" fill="#f5b14c"/><circle cx="518.3" cy="644.9" r="3.4" fill="#faa447"/><circle cx="545.2" cy="627.6" r="3.4" fill="#ebbd50"/><circle cx="535.0" cy="657.6" r="3.4" fill="#efb84e"/><circle cx="569.9" cy="715.4" r="3.4" fill="#f6b04c"/><circle cx="579.7" cy="665.6" r="3.4" fill="#f3b34d"/><circle cx="539.0" cy="632.6" r="3.4" fill="#f6b04c"/><circle cx="515.1" cy="647.7" r="3.4" fill="#f8af4b"/><circle cx="591.2" cy="659.9" r="3.4" fill="#e3c552"/><circle cx="557.5" cy="650.2" r="3.4" fill="#efb84e"/><circle cx="584.0" cy="709.9" r="3.4" fill="#fd7f38"/><circle cx="566.6" cy="687.7" r="3.4" fill="#faa648"/><circle cx="584.2" cy="671.8" r="3.4" fill="#f0b64e"/><circle cx="517.8" cy="640.3" r="3.4" fill="#faa146"/><circle cx="559.3" cy="689.4" r="3.4" fill="#f9aa4a"/><circle cx="541.5" cy="695.6" r="3.4" fill="#f9ab4a"/><circle cx="542.0" cy="677.4" r="3.4" fill="#fb9541"/><circle cx="594.2" cy="672.9" r="3.4" fill="#eeb94e"/><circle cx="579.5" cy="692.5" r="3.4" fill="#f3b44d"/><circle cx="601.1" cy="673.2" r="3.4" fill="#ecbb4f"/><circle cx="555.5" cy="714.6" r="3.4" fill="#f9a949"/><circle cx="566.5" cy="670.1" r="3.4" fill="#faa447"/><circle cx="565.8" cy="732.9" r="3.4" fill="#fa9f45"/><circle cx="584.0" cy="693.2" r="3.4" fill="#f9ac4b"/><circle cx="524.1" cy="650.1" r="3.4" fill="#faa146"/><circle cx="574.3" cy="704.8" r="3.4" fill="#f9ad4b"/><circle cx="586.1" cy="680.3" r="3.4" fill="#f9ab4a"/><circle cx="571.5" cy="695.1" r="3.4" fill="#f9ad4b"/><circle cx="538.0" cy="639.1" r="3.4" fill="#efb84e"/><circle cx="603.1" cy="664.7" r="3.4" fill="#f6b14c"/><circle cx="540.8" cy="687.4" r="3.4" fill="#f9ad4b"/><circle cx="561.6" cy="725.8" r="3.4" fill="#f9ab4a"/><circle cx="546.6" cy="721.4" r="3.4" fill="#e7c151"/><circle cx="548.8" cy="718.8" r="3.4" fill="#f9a949"/><circle cx="522.5" cy="674.6" r="3.4" fill="#f9a949"/><circle cx="571.1" cy="676.8" r="3.4" fill="#f5b14c"/><circle cx="591.8" cy="697.0" r="3.4" fill="#f1b64e"/><circle cx="560.8" cy="659.7" r="3.4" fill="#efb84e"/><circle cx="607.3" cy="664.0" r="3.4" fill="#ecbc4f"/><circle cx="552.1" cy="697.1" r="3.4" fill="#f8ae4b"/><circle cx="525.5" cy="701.0" r="3.4" fill="#edba4f"/><circle cx="602.0" cy="676.8" r="3.4" fill="#faa347"/><circle cx="560.2" cy="731.1" r="3.4" fill="#f9ac4b"/><circle cx="554.9" cy="683.5" r="3.4" fill="#f3b34d"/><circle cx="558.8" cy="695.7" r="3.4" fill="#f9a849"/><circle cx="536.8" cy="712.2" r="3.4" fill="#f7af4c"/><circle cx="541.9" cy="649.8" r="3.4" fill="#f5b24c"/><circle cx="580.4" cy="685.3" r="3.4" fill="#f9a849"/><circle cx="521.1" cy="663.7" r="3.4" fill="#f3b44d"/><circle cx="567.9" cy="709.5" r="3.4" fill="#eeb94f"/><circle cx="586.5" cy="664.5" r="3.4" fill="#eeb94e"/><circle cx="566.4" cy="688.1" r="3.4" fill="#f2b54d"/><circle cx="570.3" cy="647.4" r="3.4" fill="#f1b64e"/><circle cx="566.2" cy="694.1" r="3.4" fill="#faa648"/><circle cx="565.7" cy="714.2" r="3.4" fill="#f8af4b"/><circle cx="556.2" cy="690.5" r="3.4" fill="#f9a949"/><circle cx="555.7" cy="659.0" r="3.4" fill="#f9ac4b"/><circle cx="610.5" cy="658.4" r="3.4" fill="#f2b44d"/><circle cx="578.9" cy="669.1" r="3.4" fill="#e6c151"/><circle cx="597.6" cy="663.7" r="3.4" fill="#f9ac4b"/><circle cx="536.1" cy="646.4" r="3.4" fill="#ecbb4f"/><circle cx="568.5" cy="668.0" r="3.4" fill="#f9aa4a"/><circle cx="523.2" cy="689.4" r="3.4" fill="#f3b34d"/><circle cx="562.3" cy="677.1" r="3.4" fill="#faa447"/><circle cx="600.9" cy="697.4" r="3.4" fill="#f8ae4b"/><circle cx="530.7" cy="707.9" r="3.4" fill="#f9ad4b"/><circle cx="588.7" cy="700.5" r="3.4" fill="#ebbd50"/><circle cx="572.7" cy="706.7" r="3.4" fill="#f9a949"/><circle cx="532.2" cy="651.3" r="3.4" fill="#f1b64e"/><circle cx="546.2" cy="644.5" r="3.4" fill="#f9a949"/><circle cx="573.5" cy="679.4" r="3.4" fill="#efb84e"/><circle cx="535.1" cy="684.2" r="3.4" fill="#f9ad4b"/><circle cx="535.6" cy="678.4" r="3.4" fill="#f6b04c"/><circle cx="576.3" cy="664.5" r="3.4" fill="#f3b34d"/><circle cx="561.2" cy="704.7" r="3.4" fill="#f4b34d"/><circle cx="533.9" cy="674.7" r="3.4" fill="#faa749"/><circle cx="599.9" cy="685.7" r="3.4" fill="#f5b14c"/><circle cx="578.5" cy="699.9" r="3.4" fill="#f6b04c"/><circle cx="563.2" cy="718.0" r="3.4" fill="#ecbc4f"/><circle cx="521.3" cy="642.2" r="3.4" fill="#faa347"/><circle cx="582.9" cy="661.9" r="3.4" fill="#f0b74e"/><circle cx="513.5" cy="677.9" r="3.4" fill="#faa146"/><circle cx="590.8" cy="718.3" r="3.4" fill="#f9ac4b"/><circle cx="539.5" cy="707.6" r="3.4" fill="#fb9b43"/><circle cx="524.0" cy="662.4" r="3.4" fill="#fb9942"/><circle cx="550.5" cy="675.3" r="3.4" fill="#e4c452"/><circle cx="532.0" cy="697.5" r="3.4" fill="#f9ad4b"/><circle cx="547.9" cy="710.1" r="3.4" fill="#f9aa4a"/><circle cx="592.4" cy="693.4" r="3.4" fill="#f5b24c"/><circle cx="596.0" cy="675.4" r="3.4" fill="#e3c552"/><circle cx="581.0" cy="710.7" r="3.4" fill="#fc8a3c"/><circle cx="559.5" cy="652.1" r="3.4" fill="#f1b64e"/><circle cx="571.4" cy="698.0" r="3.4" fill="#f1b64e"/><circle cx="526.7" cy="634.3" r="3.4" fill="#f9ab4a"/><circle cx="585.8" cy="667.1" r="3.4" fill="#f7af4c"/><circle cx="527.0" cy="679.5" r="3.4" fill="#f9ab4a"/><circle cx="601.0" cy="668.1" r="3.4" fill="#e4c452"/><circle cx="588.4" cy="708.9" r="3.4" fill="#fc8e3e"/><circle cx="601.9" cy="696.8" r="3.4" fill="#faa045"/><circle cx="544.6" cy="671.8" r="3.4" fill="#f9ad4b"/><circle cx="576.9" cy="703.3" r="3.4" fill="#faa045"/><circle cx="528.0" cy="669.8" r="3.4" fill="#efb84e"/><circle cx="571.8" cy="673.4" r="3.4" fill="#f1b64e"/><circle cx="554.9" cy="696.2" r="3.4" fill="#f9ac4b"/><circle cx="587.8" cy="652.6" r="3.4" fill="#f3b44d"/><circle cx="576.3" cy="669.2" r="3.4" fill="#f5b14c"/><circle cx="551.1" cy="671.5" r="3.4" fill="#f5b14c"/><circle cx="572.4" cy="653.9" r="3.4" fill="#f1b64e"/><circle cx="562.0" cy="640.3" r="3.4" fill="#ebbd50"/><circle cx="601.1" cy="689.1" r="3.4" fill="#e3c552"/><circle cx="582.3" cy="689.3" r="3.4" fill="#f9ad4b"/><circle cx="555.9" cy="654.5" r="3.4" fill="#ebbc4f"/><circle cx="533.5" cy="699.6" r="3.4" fill="#e3c552"/><circle cx="587.6" cy="676.8" r="3.4" fill="#f9a749"/><circle cx="604.9" cy="651.6" r="3.4" fill="#e3c552"/><circle cx="518.6" cy="694.9" r="3.4" fill="#eabd50"/><circle cx="561.1" cy="663.9" r="3.4" fill="#f9aa4a"/><circle cx="558.3" cy="711.1" r="3.4" fill="#eabd50"/><circle cx="580.2" cy="683.2" r="3.4" fill="#fb9a43"/><circle cx="569.6" cy="642.1" r="3.4" fill="#f7af4c"/><circle cx="609.7" cy="655.6" r="3.4" fill="#f0b74e"/><circle cx="515.8" cy="642.1" r="3.4" fill="#faa347"/><circle cx="598.5" cy="688.3" r="3.4" fill="#edba4f"/><circle cx="517.0" cy="678.7" r="3.4" fill="#fc8f3e"/><circle cx="584.1" cy="654.5" r="3.4" fill="#edba4f"/><circle cx="558.8" cy="728.3" r="3.4" fill="#faa548"/><circle cx="573.9" cy="697.9" r="3.4" fill="#f7b04c"/><circle cx="532.7" cy="667.6" r="3.4" fill="#f9aa4a"/><circle cx="516.9" cy="668.6" r="3.4" fill="#faa045"/><circle cx="530.4" cy="672.0" r="3.4" fill="#f3b44d"/><circle cx="547.1" cy="667.6" r="3.4" fill="#ebbc4f"/><circle cx="554.4" cy="731.4" r="3.4" fill="#f8ae4b"/><circle cx="558.0" cy="672.7" r="3.4" fill="#faa749"/><circle cx="542.5" cy="658.1" r="3.4" fill="#ebbc4f"/><circle cx="578.8" cy="645.7" r="3.4" fill="#faa648"/><circle cx="598.6" cy="654.2" r="3.4" fill="#eeb94e"/><circle cx="546.2" cy="713.3" r="3.4" fill="#f9ad4b"/><circle cx="516.6" cy="671.3" r="3.4" fill="#fb9742"/><circle cx="538.8" cy="677.9" r="3.4" fill="#faa146"/><circle cx="609.8" cy="682.7" r="3.4" fill="#f5b14c"/><circle cx="578.9" cy="659.9" r="3.4" fill="#f9ac4b"/><circle cx="540.6" cy="628.1" r="3.4" fill="#f7af4c"/><circle cx="589.2" cy="665.6" r="3.4" fill="#ecbb4f"/><circle cx="549.6" cy="658.5" r="3.4" fill="#f4b24d"/><circle cx="568.6" cy="679.7" r="3.4" fill="#f4b24c"/><circle cx="538.2" cy="672.4" r="3.4" fill="#faa447"/><circle cx="540.1" cy="664.7" r="3.4" fill="#f9a949"/><circle cx="548.7" cy="645.0" r="3.4" fill="#eeb94e"/><circle cx="558.7" cy="700.8" r="3.4" fill="#faa347"/><circle cx="547.7" cy="688.1" r="3.4" fill="#f2b54d"/><circle cx="593.1" cy="680.5" r="3.4" fill="#edba4f"/><circle cx="601.9" cy="682.0" r="3.4" fill="#e3c552"/><circle cx="568.7" cy="724.2" r="3.4" fill="#faa447"/><circle cx="546.1" cy="665.2" r="3.4" fill="#f9ab4a"/><circle cx="563.6" cy="706.4" r="3.4" fill="#f3b44d"/><circle cx="580.4" cy="702.7" r="3.4" fill="#faa548"/><circle cx="530.3" cy="680.0" r="3.4" fill="#f9ad4b"/><circle cx="536.8" cy="645.0" r="3.4" fill="#f0b74e"/><circle cx="597.1" cy="678.2" r="3.4" fill="#ebbc4f"/><circle cx="556.8" cy="730.1" r="3.4" fill="#f8ae4b"/><circle cx="527.8" cy="684.5" r="3.4" fill="#f1b64e"/><circle cx="546.1" cy="634.7" r="3.4" fill="#eeb94f"/><circle cx="519.6" cy="653.1" r="3.4" fill="#faa447"/><circle cx="536.5" cy="716.3" r="3.4" fill="#f1b64e"/><circle cx="543.0" cy="647.1" r="3.4" fill="#e3c552"/><circle cx="577.2" cy="657.7" r="3.4" fill="#f9ab4a"/><circle cx="519.6" cy="688.7" r="3.4" fill="#faa045"/><circle cx="550.7" cy="722.3" r="3.4" fill="#fb9a43"/><circle cx="572.8" cy="648.9" r="3.4" fill="#f7af4c"/><circle cx="564.9" cy="653.0" r="3.4" fill="#f1b64e"/><circle cx="541.4" cy="657.9" r="3.4" fill="#f5b24c"/><circle cx="545.7" cy="677.5" r="3.4" fill="#faa146"/><circle cx="570.0" cy="663.4" r="3.4" fill="#edba4f"/><circle cx="601.5" cy="650.8" r="3.4" fill="#ebbc4f"/><circle cx="529.0" cy="650.1" r="3.4" fill="#f9ac4b"/><circle cx="517.7" cy="654.9" r="3.4" fill="#fb9942"/><circle cx="602.4" cy="647.9" r="3.4" fill="#e4c452"/><circle cx="535.5" cy="696.3" r="3.4" fill="#f4b34d"/><circle cx="595.1" cy="682.4" r="3.4" fill="#e3c552"/><circle cx="570.6" cy="681.5" r="3.4" fill="#faa246"/><circle cx="579.2" cy="696.1" r="3.4" fill="#f9a849"/><circle cx="554.1" cy="630.2" r="3.4" fill="#f7af4c"/><circle cx="558.1" cy="685.5" r="3.4" fill="#e9be50"/><circle cx="548.5" cy="694.7" r="3.4" fill="#f3b44d"/><circle cx="576.3" cy="681.2" r="3.4" fill="#f9ac4a"/><circle cx="516.6" cy="699.5" r="3.4" fill="#e3c552"/><circle cx="575.6" cy="688.6" r="3.4" fill="#f9ad4b"/><circle cx="591.7" cy="688.1" r="3.4" fill="#f0b64e"/><circle cx="569.2" cy="709.1" r="3.4" fill="#f9ac4a"/><circle cx="541.7" cy="695.5" r="3.4" fill="#f1b64e"/><circle cx="593.1" cy="677.8" r="3.4" fill="#e3c552"/><circle cx="560.5" cy="648.3" r="3.4" fill="#faa347"/><circle cx="581.8" cy="644.6" r="3.4" fill="#f4b34d"/><circle cx="560.3" cy="695.4" r="3.4" fill="#f9ab4a"/><circle cx="569.9" cy="650.0" r="3.4" fill="#f7af4b"/><circle cx="566.4" cy="692.9" r="3.4" fill="#ecbb4f"/><circle cx="517.8" cy="648.8" r="3.4" fill="#faa247"/><circle cx="578.4" cy="686.7" r="3.4" fill="#f9a949"/><circle cx="597.5" cy="702.2" r="3.4" fill="#f6b04c"/><circle cx="541.8" cy="712.0" r="3.4" fill="#f9ac4b"/><circle cx="545.8" cy="726.1" r="3.4" fill="#fb9842"/><circle cx="532.2" cy="632.2" r="3.4" fill="#eabd50"/><circle cx="576.4" cy="709.1" r="3.4" fill="#faa748"/><circle cx="522.7" cy="701.7" r="3.4" fill="#edba4f"/><circle cx="574.7" cy="651.3" r="3.4" fill="#faa648"/><circle cx="545.3" cy="630.5" r="3.4" fill="#f9ad4b"/><circle cx="554.8" cy="650.9" r="3.4" fill="#f2b54d"/><circle cx="554.3" cy="661.8" r="3.4" fill="#f9ad4b"/><circle cx="610.5" cy="654.1" r="3.4" fill="#eabe50"/><circle cx="575.5" cy="660.3" r="3.4" fill="#f8ae4b"/><circle cx="525.9" cy="642.4" r="3.4" fill="#faa246"/><circle cx="531.7" cy="655.7" r="3.4" fill="#f6b14c"/><circle cx="548.0" cy="652.9" r="3.4" fill="#eabe50"/><circle cx="535.3" cy="686.5" r="3.4" fill="#f9ad4b"/><circle cx="538.7" cy="655.0" r="3.4" fill="#f7af4c"/><circle cx="531.7" cy="660.6" r="3.4" fill="#ebbc4f"/><circle cx="563.7" cy="699.4" r="3.4" fill="#faa447"/><circle cx="557.7" cy="692.7" r="3.4" fill="#f8ae4b"/><circle cx="541.4" cy="630.9" r="3.4" fill="#e8c050"/><circle cx="607.3" cy="654.2" r="3.4" fill="#e8c051"/><circle cx="539.5" cy="681.8" r="3.4" fill="#fb9a43"/><circle cx="592.9" cy="670.4" r="3.4" fill="#e3c552"/><circle cx="521.4" cy="692.3" r="3.4" fill="#f9aa4a"/><circle cx="588.9" cy="688.8" r="3.4" fill="#efb84e"/><circle cx="595.0" cy="705.6" r="3.4" fill="#faa347"/><circle cx="544.2" cy="694.6" r="3.4" fill="#efb74e"/><circle cx="535.4" cy="682.2" r="3.4" fill="#faa548"/><circle cx="533.1" cy="703.0" r="3.4" fill="#faa045"/><circle cx="559.0" cy="680.4" r="3.4" fill="#f0b74e"/><circle cx="596.8" cy="669.6" r="3.4" fill="#e3c552"/><circle cx="570.7" cy="688.8" r="3.4" fill="#f5b14c"/><circle cx="526.2" cy="657.9" r="3.4" fill="#fa9f45"/><circle cx="529.1" cy="701.7" r="3.4" fill="#f1b54d"/><circle cx="514.5" cy="644.4" r="3.4" fill="#fa9f45"/><circle cx="593.6" cy="659.1" r="3.4" fill="#e4c352"/><circle cx="595.8" cy="665.9" r="3.4" fill="#e3c552"/><circle cx="569.8" cy="728.0" r="3.4" fill="#fa9e45"/><circle cx="593.0" cy="700.1" r="3.4" fill="#f5b14c"/><circle cx="540.4" cy="690.3" r="3.4" fill="#f6b14c"/><circle cx="604.2" cy="660.0" r="3.4" fill="#ebbd50"/><circle cx="534.6" cy="661.2" r="3.4" fill="#f9a849"/><circle cx="584.5" cy="677.2" r="3.4" fill="#ebbc4f"/><circle cx="523.5" cy="697.0" r="3.4" fill="#efb84e"/><circle cx="551.7" cy="687.9" r="3.4" fill="#f2b44d"/><circle cx="599.3" cy="659.7" r="3.4" fill="#ecbb4f"/><circle cx="558.2" cy="714.8" r="3.4" fill="#e4c452"/><circle cx="552.1" cy="679.3" r="3.4" fill="#f9ab4a"/><circle cx="580.1" cy="673.9" r="3.4" fill="#f5b24c"/><circle cx="524.0" cy="644.2" r="3.4" fill="#eeb94e"/><circle cx="575.5" cy="711.4" r="3.4" fill="#faa648"/><circle cx="548.6" cy="648.4" r="3.4" fill="#e5c351"/><circle cx="523.2" cy="671.6" r="3.4" fill="#fb9742"/><circle cx="590.2" cy="705.5" r="3.4" fill="#fb9942"/><circle cx="589.6" cy="702.9" r="3.4" fill="#f9a749"/><circle cx="576.1" cy="684.3" r="3.4" fill="#f2b54d"/><circle cx="520.6" cy="679.0" r="3.4" fill="#faa046"/><circle cx="537.9" cy="642.2" r="3.4" fill="#e8bf50"/><circle cx="544.7" cy="660.3" r="3.4" fill="#faa447"/><circle cx="538.0" cy="635.7" r="3.4" fill="#e5c251"/><circle cx="533.9" cy="671.8" r="3.4" fill="#faa749"/><circle cx="601.0" cy="661.0" r="3.4" fill="#e9be50"/><circle cx="608.8" cy="651.6" r="3.4" fill="#e8c051"/><circle cx="603.1" cy="693.6" r="3.4" fill="#eabe50"/><circle cx="525.9" cy="672.2" r="3.4" fill="#fa9e45"/><circle cx="569.5" cy="712.0" r="3.4" fill="#faa046"/><circle cx="582.7" cy="664.5" r="3.4" fill="#f0b74e"/><circle cx="606.6" cy="672.0" r="3.4" fill="#e3c552"/><circle cx="544.6" cy="706.4" r="3.4" fill="#fa9e45"/><circle cx="552.5" cy="728.3" r="3.4" fill="#fb9a43"/><circle cx="520.6" cy="647.7" r="3.4" fill="#f9ab4a"/><circle cx="584.8" cy="685.8" r="3.4" fill="#ebbd50"/><circle cx="525.8" cy="695.6" r="3.4" fill="#f2b54d"/><circle cx="542.8" cy="669.9" r="3.4" fill="#f7af4c"/><circle cx="614.6" cy="659.7" r="3.4" fill="#ecbb4f"/><circle cx="582.6" cy="681.5" r="3.4" fill="#f1b64e"/><circle cx="578.4" cy="711.1" r="3.4" fill="#faa146"/><circle cx="568.9" cy="645.9" r="3.4" fill="#f9ab4a"/><circle cx="609.9" cy="689.0" r="3.4" fill="#f6b04c"/><circle cx="555.4" cy="641.8" r="3.4" fill="#e9be50"/><circle cx="579.4" cy="707.6" r="3.4" fill="#fb9742"/><circle cx="557.6" cy="639.9" r="3.4" fill="#f2b44d"/><circle cx="587.1" cy="694.0" r="3.4" fill="#f3b44d"/><circle cx="565.2" cy="658.4" r="3.4" fill="#f6b14c"/><circle cx="567.6" cy="651.5" r="3.4" fill="#f8ae4b"/><circle cx="528.8" cy="666.1" r="3.4" fill="#f9a949"/><circle cx="596.6" cy="661.1" r="3.4" fill="#eabd50"/><circle cx="564.1" cy="672.4" r="3.4" fill="#faa146"/><circle cx="576.0" cy="705.8" r="3.4" fill="#faa347"/><circle cx="580.3" cy="655.7" r="3.4" fill="#faa749"/><circle cx="604.4" cy="669.0" r="3.4" fill="#e4c352"/><circle cx="594.7" cy="702.0" r="3.4" fill="#f9a849"/><circle cx="549.5" cy="713.8" r="3.4" fill="#f9a949"/><circle cx="554.7" cy="663.4" r="3.4" fill="#f9ac4b"/><circle cx="598.4" cy="673.0" r="3.4" fill="#e4c352"/><circle cx="567.9" cy="717.4" r="3.4" fill="#faa046"/><circle cx="563.3" cy="712.9" r="3.4" fill="#fc8f3e"/><circle cx="592.3" cy="662.4" r="3.4" fill="#e6c251"/><circle cx="531.6" cy="655.0" r="3.4" fill="#efb74e"/><circle cx="567.3" cy="663.7" r="3.4" fill="#f5b14c"/><circle cx="521.0" cy="670.5" r="3.4" fill="#faa447"/><circle cx="538.1" cy="697.0" r="3.4" fill="#f9ad4b"/><circle cx="606.4" cy="658.7" r="3.4" fill="#f1b64e"/><circle cx="539.7" cy="710.5" r="3.4" fill="#e9bf50"/><circle cx="565.5" cy="728.2" r="3.4" fill="#faa447"/><circle cx="536.2" cy="702.6" r="3.4" fill="#f9a949"/><circle cx="597.8" cy="693.4" r="3.4" fill="#efb84e"/><circle cx="595.4" cy="697.3" r="3.4" fill="#efb84e"/><circle cx="552.7" cy="655.0" r="3.4" fill="#f2b54d"/><circle cx="529.0" cy="693.9" r="3.4" fill="#faa748"/><circle cx="561.0" cy="676.1" r="3.4" fill="#f3b34d"/><circle cx="532.5" cy="663.2" r="3.4" fill="#ecbc4f"/><circle cx="555.6" cy="726.3" r="3.4" fill="#fb9541"/><circle cx="549.9" cy="691.2" r="3.4" fill="#f9ac4a"/><circle cx="532.0" cy="684.8" r="3.4" fill="#f4b24c"/><circle cx="546.7" cy="701.3" r="3.4" fill="#faa547"/><circle cx="584.2" cy="658.1" r="3.4" fill="#f0b74e"/><circle cx="572.9" cy="717.7" r="3.4" fill="#f2b44d"/><circle cx="540.9" cy="641.4" r="3.4" fill="#faa547"/><circle cx="542.8" cy="624.7" r="3.4" fill="#f9ac4b"/><circle cx="553.9" cy="705.7" r="3.4" fill="#f9ac4b"/><circle cx="535.8" cy="637.3" r="3.4" fill="#f7af4c"/><circle cx="547.9" cy="668.1" r="3.4" fill="#eeb94e"/><circle cx="609.7" cy="665.4" r="3.4" fill="#f3b34d"/><circle cx="534.9" cy="653.9" r="3.4" fill="#faa648"/><circle cx="562.9" cy="655.7" r="3.4" fill="#f5b14c"/><circle cx="512.3" cy="668.7" r="3.4" fill="#faa347"/><circle cx="513.2" cy="657.1" r="3.4" fill="#fa9f45"/><circle cx="563.7" cy="692.4" r="3.4" fill="#f6b04c"/><circle cx="546.2" cy="649.4" r="3.4" fill="#ecbb4f"/><circle cx="549.6" cy="697.8" r="3.4" fill="#faa748"/><circle cx="557.5" cy="644.2" r="3.4" fill="#ecbb4f"/><circle cx="533.5" cy="709.6" r="3.4" fill="#faa648"/><circle cx="606.1" cy="679.1" r="3.4" fill="#e3c552"/><circle cx="537.4" cy="668.0" r="3.4" fill="#faa347"/><circle cx="564.3" cy="690.5" r="3.4" fill="#f8ae4b"/><circle cx="524.5" cy="637.5" r="3.4" fill="#faa548"/><circle cx="590.5" cy="654.6" r="3.4" fill="#eabd50"/><circle cx="580.5" cy="651.5" r="3.4" fill="#f8af4b"/><circle cx="580.2" cy="678.7" r="3.4" fill="#e8bf50"/><circle cx="574.2" cy="677.4" r="3.4" fill="#f6b04c"/><circle cx="524.8" cy="661.5" r="3.4" fill="#f9a949"/><circle cx="554.5" cy="673.3" r="3.4" fill="#faa046"/><circle cx="530.5" cy="634.5" r="3.4" fill="#f6b04c"/><circle cx="567.7" cy="706.5" r="3.4" fill="#f9aa4a"/><circle cx="557.0" cy="661.6" r="3.4" fill="#f9aa4a"/><circle cx="548.9" cy="663.5" r="3.4" fill="#faa748"/><circle cx="566.9" cy="700.0" r="3.4" fill="#f9ad4b"/><circle cx="530.0" cy="680.1" r="3.4" fill="#f9a949"/><circle cx="545.1" cy="712.8" r="3.4" fill="#fa9d44"/><circle cx="552.9" cy="647.3" r="3.4" fill="#eabd50"/><circle cx="517.8" cy="681.8" r="3.4" fill="#faa447"/><circle cx="534.9" cy="649.3" r="3.4" fill="#f9a949"/><circle cx="543.6" cy="642.2" r="3.4" fill="#e3c552"/><circle cx="511.6" cy="641.4" r="3.4" fill="#f6b04c"/><circle cx="606.1" cy="682.3" r="3.4" fill="#e8bf50"/><circle cx="544.6" cy="675.1" r="3.4" fill="#f7af4c"/><circle cx="555.1" cy="645.4" r="3.4" fill="#edba4f"/><circle cx="557.3" cy="675.9" r="3.4" fill="#faa347"/><circle cx="527.1" cy="686.3" r="3.4" fill="#f1b64e"/><circle cx="541.0" cy="716.4" r="3.4" fill="#f7af4c"/><circle cx="604.4" cy="687.0" r="3.4" fill="#efb84e"/><circle cx="560.4" cy="683.8" r="3.4" fill="#f8ae4b"/><circle cx="534.3" cy="710.8" r="3.4" fill="#fa9e45"/><circle cx="530.8" cy="670.4" r="3.4" fill="#faa247"/><circle cx="594.3" cy="706.4" r="3.4" fill="#faa246"/><circle cx="544.0" cy="656.1" r="3.4" fill="#eabe50"/><circle cx="565.4" cy="675.9" r="3.4" fill="#faa548"/><circle cx="558.2" cy="722.9" r="3.4" fill="#f9aa4a"/><circle cx="529.6" cy="691.0" r="3.4" fill="#f5b14c"/><circle cx="563.7" cy="696.2" r="3.4" fill="#faa548"/><circle cx="526.7" cy="698.6" r="3.4" fill="#f9ad4b"/><circle cx="598.3" cy="688.4" r="3.4" fill="#f1b64e"/><circle cx="604.5" cy="684.5" r="3.4" fill="#e3c452"/><circle cx="594.8" cy="650.7" r="3.4" fill="#e9be50"/><circle cx="563.0" cy="666.2" r="3.4" fill="#f0b74e"/><circle cx="533.6" cy="680.3" r="3.4" fill="#fa9d44"/><circle cx="562.0" cy="734.8" r="3.4" fill="#faa347"/><circle cx="600.0" cy="694.8" r="3.4" fill="#f7af4c"/><circle cx="565.8" cy="661.1" r="3.4" fill="#f7af4c"/><circle cx="564.1" cy="673.1" r="3.4" fill="#eeb94f"/><circle cx="579.4" cy="682.5" r="3.4" fill="#f8ae4b"/><circle cx="566.0" cy="704.2" r="3.4" fill="#f4b24d"/><circle cx="586.0" cy="702.1" r="3.4" fill="#e8bf50"/><circle cx="543.2" cy="708.5" r="3.4" fill="#f8ae4b"/><circle cx="521.5" cy="658.4" r="3.4" fill="#f9a949"/><circle cx="586.9" cy="670.4" r="3.4" fill="#f5b24c"/><circle cx="591.0" cy="674.3" r="3.4" fill="#e8bf50"/><circle cx="570.9" cy="656.7" r="3.4" fill="#faa749"/><circle cx="587.5" cy="705.1" r="3.4" fill="#faa447"/><circle cx="529.0" cy="683.0" r="3.4" fill="#f5b24c"/><circle cx="553.2" cy="674.7" r="3.4" fill="#eeb94f"/><circle cx="584.1" cy="654.1" r="3.4" fill="#f2b54d"/><circle cx="549.3" cy="651.1" r="3.4" fill="#e3c552"/><circle cx="605.1" cy="662.8" r="3.4" fill="#f1b54d"/><circle cx="544.5" cy="689.6" r="3.4" fill="#f0b74e"/><circle cx="537.4" cy="666.8" r="3.4" fill="#f1b54d"/><circle cx="564.4" cy="647.9" r="3.4" fill="#f8ae4b"/><circle cx="585.0" cy="697.9" r="3.4" fill="#f8ae4b"/><circle cx="549.8" cy="655.6" r="3.4" fill="#f7af4c"/><circle cx="613.7" cy="663.6" r="3.4" fill="#f0b64e"/><circle cx="572.0" cy="666.2" r="3.4" fill="#f2b44d"/><circle cx="599.8" cy="691.4" r="3.4" fill="#f7af4b"/><circle cx="599.5" cy="677.1" r="3.4" fill="#efb84e"/><circle cx="575.5" cy="664.3" r="3.4" fill="#ebbc4f"/><circle cx="566.3" cy="666.2" r="3.4" fill="#f9ac4b"/><circle cx="588.8" cy="685.5" r="3.4" fill="#e6c251"/><circle cx="592.9" cy="656.4" r="3.4" fill="#f7af4c"/><circle cx="544.6" cy="723.4" r="3.4" fill="#f8ae4b"/><circle cx="547.6" cy="721.4" r="3.4" fill="#fb9943"/><circle cx="518.7" cy="660.5" r="3.4" fill="#fd7f38"/><circle cx="572.0" cy="681.7" r="3.4" fill="#f9ad4b"/><circle cx="531.6" cy="703.9" r="3.4" fill="#eeba4f"/><circle cx="543.2" cy="619.2" r="3.4" fill="#f4b34d"/><circle cx="537.7" cy="669.5" r="3.4" fill="#faa547"/><circle cx="577.9" cy="675.2" r="3.4" fill="#f9ab4a"/><circle cx="544.1" cy="687.0" r="3.4" fill="#f9a949"/><circle cx="522.4" cy="655.3" r="3.4" fill="#faa447"/><circle cx="524.8" cy="653.6" r="3.4" fill="#faa146"/><circle cx="531.9" cy="642.7" r="3.4" fill="#e7c151"/><circle cx="572.7" cy="648.8" r="3.4" fill="#f9a949"/><circle cx="604.3" cy="674.9" r="3.4" fill="#eeb94e"/><circle cx="547.6" cy="627.0" r="3.4" fill="#f9ad4b"/><circle cx="582.7" cy="714.4" r="3.4" fill="#fc913f"/><circle cx="537.7" cy="699.7" r="3.4" fill="#f3b34d"/><circle cx="540.9" cy="700.0" r="3.4" fill="#faa146"/><circle cx="552.8" cy="658.5" r="3.4" fill="#ebbc4f"/><circle cx="597.4" cy="683.7" r="3.4" fill="#e6c251"/><circle cx="525.5" cy="681.9" r="3.4" fill="#faa347"/><circle cx="590.6" cy="664.5" r="3.4" fill="#ecbc4f"/><circle cx="588.4" cy="697.9" r="3.4" fill="#f2b54d"/><circle cx="594.7" cy="672.4" r="3.4" fill="#e3c552"/><circle cx="561.7" cy="670.2" r="3.4" fill="#f9ac4a"/><circle cx="522.4" cy="682.9" r="3.4" fill="#faa447"/><circle cx="543.4" cy="679.5" r="3.4" fill="#fa9e45"/><circle cx="609.8" cy="669.0" r="3.4" fill="#e9be50"/><circle cx="556.9" cy="685.8" r="3.4" fill="#eeb94e"/><circle cx="571.7" cy="660.5" r="3.4" fill="#f0b74e"/><circle cx="544.4" cy="719.8" r="3.4" fill="#f9ab4a"/><circle cx="568.4" cy="655.7" r="3.4" fill="#e3c552"/><circle cx="594.2" cy="708.1" r="3.4" fill="#f8ae4b"/><circle cx="550.0" cy="707.1" r="3.4" fill="#ecbb4f"/><circle cx="590.4" cy="671.4" r="3.4" fill="#e5c351"/><circle cx="546.0" cy="638.2" r="3.4" fill="#ecbb4f"/><circle cx="582.0" cy="707.1" r="3.4" fill="#fc8f3e"/><circle cx="560.0" cy="655.6" r="3.4" fill="#f5b24c"/><circle cx="519.3" cy="684.5" r="3.4" fill="#f8ae4b"/><circle cx="592.6" cy="666.4" r="3.4" fill="#e9bf50"/><circle cx="592.5" cy="683.0" r="3.4" fill="#f9ad4b"/><circle cx="511.1" cy="649.4" r="3.4" fill="#fb9541"/><circle cx="609.1" cy="675.9" r="3.4" fill="#f3b34d"/><circle cx="536.5" cy="708.0" r="3.4" fill="#f9ab4a"/><circle cx="598.4" cy="699.2" r="3.4" fill="#f9aa4a"/><circle cx="519.5" cy="698.3" r="3.4" fill="#e8bf50"/><circle cx="586.3" cy="689.5" r="3.4" fill="#edba4f"/><circle cx="558.5" cy="725.7" r="3.4" fill="#f7b04c"/><circle cx="584.1" cy="669.9" r="3.4" fill="#e3c552"/><circle cx="554.2" cy="682.2" r="3.4" fill="#faa548"/><circle cx="600.0" cy="645.8" r="3.4" fill="#ecbb4f"/><circle cx="560.4" cy="666.5" r="3.4" fill="#f9ab4a"/><circle cx="544.2" cy="668.4" r="3.4" fill="#f6b04c"/><circle cx="609.9" cy="671.7" r="3.4" fill="#e9bf50"/><circle cx="563.3" cy="702.1" r="3.4" fill="#f8ae4b"/><circle cx="550.2" cy="667.0" r="3.4" fill="#f9ac4b"/><circle cx="542.1" cy="633.6" r="3.4" fill="#e4c452"/><circle cx="572.6" cy="711.1" r="3.4" fill="#faa447"/><circle cx="556.7" cy="733.7" r="3.4" fill="#f9a949"/><circle cx="565.0" cy="668.5" r="3.4" fill="#f9ac4a"/><circle cx="562.7" cy="708.0" r="3.4" fill="#f9a849"/><circle cx="510.1" cy="676.0" r="3.4" fill="#fb9b43"/><circle cx="596.8" cy="691.1" r="3.4" fill="#efb84e"/><circle cx="517.1" cy="677.6" r="3.4" fill="#faa748"/><circle cx="594.5" cy="689.8" r="3.4" fill="#f2b44d"/><circle cx="569.3" cy="692.2" r="3.4" fill="#f1b64e"/><circle cx="531.9" cy="684.1" r="3.4" fill="#f1b54d"/><circle cx="569.8" cy="712.1" r="3.4" fill="#f1b64e"/><circle cx="545.9" cy="692.2" r="3.4" fill="#f4b24c"/><circle cx="541.5" cy="637.4" r="3.4" fill="#f4b24c"/><circle cx="591.8" cy="680.4" r="3.4" fill="#e9be50"/><circle cx="553.9" cy="706.5" r="3.4" fill="#f9ac4b"/><circle cx="540.6" cy="645.6" r="3.4" fill="#f9ab4a"/><circle cx="537.8" cy="643.7" r="3.4" fill="#f5b14c"/><circle cx="542.5" cy="627.3" r="3.4" fill="#e7c051"/><circle cx="542.0" cy="674.1" r="3.4" fill="#fa9d44"/><circle cx="542.6" cy="667.2" r="3.4" fill="#f6b04c"/><circle cx="529.1" cy="656.6" r="3.4" fill="#f9ac4b"/><circle cx="564.8" cy="640.7" r="3.4" fill="#faa146"/><circle cx="551.9" cy="725.6" r="3.4" fill="#fb9440"/><circle cx="545.6" cy="683.4" r="3.4" fill="#f9aa4a"/><circle cx="527.2" cy="644.4" r="3.4" fill="#f0b74e"/><circle cx="540.2" cy="652.8" r="3.4" fill="#faa548"/><circle cx="533.7" cy="640.2" r="3.4" fill="#faa648"/><circle cx="522.7" cy="686.9" r="3.4" fill="#faa748"/><circle cx="550.6" cy="710.1" r="3.4" fill="#f9a849"/><circle cx="550.7" cy="716.7" r="3.4" fill="#faa648"/><circle cx="539.4" cy="648.1" r="3.4" fill="#eabe50"/><circle cx="560.9" cy="698.5" r="3.4" fill="#f9a749"/><circle cx="554.4" cy="723.4" r="3.4" fill="#f9a849"/><circle cx="532.0" cy="694.8" r="3.4" fill="#e9be50"/><circle cx="551.2" cy="661.5" r="3.4" fill="#e3c552"/><circle cx="538.8" cy="693.3" r="3.4" fill="#edba4f"/><circle cx="560.7" cy="718.5" r="3.4" fill="#f9a849"/><circle cx="524.1" cy="640.2" r="3.4" fill="#f0b74e"/><circle cx="521.3" cy="650.1" r="3.4" fill="#f9a849"/><circle cx="556.3" cy="720.6" r="3.4" fill="#faa447"/><circle cx="545.1" cy="652.0" r="3.4" fill="#f9aa4a"/><circle cx="566.4" cy="645.6" r="3.4" fill="#f3b34d"/><circle cx="553.0" cy="685.3" r="3.4" fill="#fa9f45"/><circle cx="549.7" cy="708.2" r="3.4" fill="#e53d30"/><circle cx="560.9" cy="621.7" r="3.4" fill="#fa9c44"/><circle cx="570.5" cy="625.0" r="3.4" fill="#fd8038"/><circle cx="570.5" cy="631.3" r="3.4" fill="#fd8038"/><circle cx="588.8" cy="636.7" r="3.4" fill="#fd8038"/><circle cx="580.5" cy="640.7" r="3.4" fill="#fd8038"/><circle cx="529.1" cy="626.2" r="3.4" fill="#fc8b3d"/><circle cx="506.8" cy="663.0" r="3.4" fill="#fd8038"/><circle cx="504.1" cy="630.6" r="3.4" fill="#fc8b3d"/><circle cx="496.7" cy="622.8" r="3.4" fill="#fd8038"/><circle cx="515.7" cy="620.6" r="3.4" fill="#fd8038"/><circle cx="518.0" cy="623.3" r="3.4" fill="#fd8038"/><circle cx="510.2" cy="615.0" r="3.4" fill="#dd2e2e"/><circle cx="488.3" cy="615.0" r="3.4" fill="#fc8b3d"/><circle cx="505.1" cy="573.5" r="3.4" fill="#e0332f"/><circle cx="501.8" cy="584.1" r="3.4" fill="#d82c2e"/><circle cx="503.2" cy="580.1" r="3.4" fill="#dd2f2e"/><circle cx="497.8" cy="582.8" r="3.4" fill="#e3392f"/><circle cx="504.2" cy="562.9" r="3.4" fill="#e53d30"/><circle cx="504.8" cy="576.9" r="3.4" fill="#ee4d32"/><circle cx="507.7" cy="570.4" r="3.4" fill="#e94331"/><circle cx="487.6" cy="578.9" r="3.4" fill="#d72b2e"/><circle cx="489.7" cy="572.0" r="3.4" fill="#e1342f"/><circle cx="483.9" cy="579.5" r="3.4" fill="#d82c2e"/><circle cx="494.5" cy="584.5" r="3.4" fill="#f55a34"/><circle cx="501.9" cy="570.9" r="3.4" fill="#e2372f"/><circle cx="496.0" cy="560.8" r="3.4" fill="#dd2f2e"/><circle cx="500.2" cy="562.3" r="3.4" fill="#d0282f"/><circle cx="492.8" cy="574.8" r="3.4" fill="#dd2e2e"/><circle cx="495.7" cy="578.1" r="3.4" fill="#db2d2e"/><circle cx="510.6" cy="561.8" r="3.4" fill="#a62034"/><circle cx="498.4" cy="571.6" r="3.4" fill="#e63f30"/><circle cx="483.4" cy="567.8" r="3.4" fill="#ed4b32"/><circle cx="502.3" cy="556.5" r="3.4" fill="#a71f33"/><circle cx="503.7" cy="559.6" r="3.4" fill="#bf212f"/><circle cx="511.8" cy="566.7" r="3.4" fill="#ca252f"/><circle cx="490.2" cy="583.3" r="3.4" fill="#ba1e30"/><circle cx="491.9" cy="561.2" r="3.4" fill="#e33930"/><circle cx="492.7" cy="566.7" r="3.4" fill="#e94431"/><circle cx="511.2" cy="570.1" r="3.4" fill="#eb4932"/><circle cx="484.5" cy="563.7" r="3.4" fill="#cf282f"/><circle cx="508.7" cy="573.3" r="3.4" fill="#d2292e"/><circle cx="497.9" cy="564.4" r="3.4" fill="#ea4631"/><circle cx="501.8" cy="567.8" r="3.4" fill="#e53d30"/><circle cx="489.5" cy="567.2" r="3.4" fill="#f55c34"/><circle cx="496.1" cy="555.7" r="3.4" fill="#d0282f"/><circle cx="510.1" cy="579.0" r="3.4" fill="#f45834"/><circle cx="486.9" cy="570.7" r="3.4" fill="#d72b2e"/><circle cx="498.5" cy="587.6" r="3.4" fill="#d82c2e"/><circle cx="497.6" cy="575.8" r="3.4" fill="#ee4e32"/><circle cx="498.6" cy="558.7" r="3.4" fill="#d3292e"/><circle cx="486.0" cy="573.7" r="3.4" fill="#e53c30"/><circle cx="507.7" cy="560.7" r="3.4" fill="#a81e33"/><circle cx="493.1" cy="587.7" r="3.4" fill="#e1352f"/><circle cx="482.1" cy="576.7" r="3.4" fill="#d72b2e"/><circle cx="493.1" cy="570.9" r="3.4" fill="#f25533"/><circle cx="486.4" cy="560.2" r="3.4" fill="#c2222f"/><circle cx="491.7" cy="579.9" r="3.4" fill="#f15333"/><circle cx="488.5" cy="564.0" r="3.4" fill="#e1352f"/><circle cx="501.4" cy="573.9" r="3.4" fill="#ee4c32"/><circle cx="490.6" cy="558.1" r="3.4" fill="#dc2e2e"/><circle cx="499.0" cy="554.8" r="3.4" fill="#d1292f"/><circle cx="487.1" cy="582.0" r="3.4" fill="#d72b2e"/><circle cx="508.4" cy="557.2" r="3.4" fill="#962839"/><circle cx="506.3" cy="565.5" r="3.4" fill="#c6242f"/><circle cx="496.2" cy="569.7" r="3.4" fill="#ea4531"/><circle cx="492.2" cy="555.3" r="3.4" fill="#e1352f"/><circle cx="489.5" cy="576.6" r="3.4" fill="#e84331"/><circle cx="481.5" cy="572.1" r="3.4" fill="#f65f34"/><circle cx="495.1" cy="581.5" r="3.4" fill="#dc2e2e"/><circle cx="499.2" cy="578.3" r="3.4" fill="#e53c30"/><circle cx="505.5" cy="568.5" r="3.4" fill="#e43a30"/><circle cx="485.0" cy="576.6" r="3.4" fill="#e0342f"/><circle cx="507.1" cy="578.7" r="3.4" fill="#e74031"/><circle cx="505.4" cy="554.6" r="3.4" fill="#b31b30"/><circle cx="493.9" cy="558.0" r="3.4" fill="#e63f30"/><circle cx="494.0" cy="564.0" r="3.4" fill="#e3392f"/><circle cx="511.0" cy="575.5" r="3.4" fill="#dc2e2e"/><circle cx="508.7" cy="567.7" r="3.4" fill="#eb4731"/><circle cx="498.3" cy="567.5" r="3.4" fill="#dd2e2e"/><circle cx="495.8" cy="588.9" r="3.4" fill="#e94531"/><circle cx="486.5" cy="566.5" r="3.4" fill="#e0342f"/><circle cx="495.8" cy="573.2" r="3.4" fill="#e2372f"/><circle cx="505.7" cy="582.0" r="3.4" fill="#e1352f"/><circle cx="509.4" cy="564.6" r="3.4" fill="#d2292e"/><circle cx="501.8" cy="553.6" r="3.4" fill="#c4232f"/><circle cx="490.2" cy="586.3" r="3.4" fill="#e1352f"/><circle cx="515.3" cy="571.3" r="3.4" fill="#d82c2e"/><circle cx="492.6" cy="592.1" r="3.4" fill="#d42a2e"/><circle cx="489.9" cy="552.6" r="3.4" fill="#ea4531"/><circle cx="479.2" cy="568.3" r="3.4" fill="#e2372f"/><circle cx="483.5" cy="582.9" r="3.4" fill="#da2d2e"/><circle cx="508.6" cy="553.0" r="3.4" fill="#a02336"/><circle cx="479.0" cy="576.2" r="3.4" fill="#e33a30"/><circle cx="513.1" cy="573.3" r="3.4" fill="#e0342f"/><circle cx="495.7" cy="551.7" r="3.4" fill="#f66035"/><circle cx="496.7" cy="592.1" r="3.4" fill="#e94531"/><circle cx="489.5" cy="589.4" r="3.4" fill="#eb4832"/><circle cx="512.2" cy="557.6" r="3.4" fill="#af1b30"/><circle cx="495.0" cy="597.1" r="3.4" fill="#dd2e2e"/><circle cx="491.8" cy="602.7" r="3.4" fill="#fc8b3d"/><circle cx="491.6" cy="606.0" r="3.4" fill="#fb9641"/><circle cx="486.3" cy="648.3" r="3.4" fill="#e74031"/><circle cx="503.0" cy="652.7" r="3.4" fill="#fa7237"/><circle cx="489.1" cy="653.5" r="3.4" fill="#f76335"/><circle cx="466.7" cy="636.6" r="3.4" fill="#e1352f"/><circle cx="484.9" cy="640.9" r="3.4" fill="#f15333"/><circle cx="460.0" cy="636.2" r="3.4" fill="#ca262f"/><circle cx="468.6" cy="643.4" r="3.4" fill="#ed4b32"/><circle cx="492.3" cy="654.3" r="3.4" fill="#f55b34"/><circle cx="471.9" cy="619.6" r="3.4" fill="#ee4e32"/><circle cx="476.3" cy="645.9" r="3.4" fill="#f55b34"/><circle cx="486.6" cy="629.2" r="3.4" fill="#d32a2e"/><circle cx="491.3" cy="651.1" r="3.4" fill="#fb7837"/><circle cx="486.1" cy="637.3" r="3.4" fill="#e63f30"/><circle cx="473.0" cy="638.7" r="3.4" fill="#cc262f"/><circle cx="470.8" cy="640.8" r="3.4" fill="#d42a2e"/><circle cx="498.1" cy="649.4" r="3.4" fill="#fa7036"/><circle cx="467.9" cy="651.8" r="3.4" fill="#d62b2e"/><circle cx="472.8" cy="646.3" r="3.4" fill="#e43a30"/><circle cx="476.1" cy="641.0" r="3.4" fill="#f15233"/><circle cx="496.6" cy="646.9" r="3.4" fill="#f25433"/><circle cx="493.5" cy="635.9" r="3.4" fill="#f76335"/><circle cx="464.8" cy="627.8" r="3.4" fill="#e84331"/><circle cx="486.0" cy="651.5" r="3.4" fill="#fa7437"/><circle cx="497.8" cy="655.2" r="3.4" fill="#fd863a"/><circle cx="475.1" cy="631.7" r="3.4" fill="#cd272f"/><circle cx="482.4" cy="634.6" r="3.4" fill="#e63f30"/><circle cx="477.0" cy="623.2" r="3.4" fill="#cf282f"/><circle cx="483.6" cy="625.6" r="3.4" fill="#ef4f32"/><circle cx="490.7" cy="630.3" r="3.4" fill="#ec4a32"/><circle cx="492.1" cy="639.6" r="3.4" fill="#ea4531"/><circle cx="479.4" cy="656.3" r="3.4" fill="#fa7136"/><circle cx="491.3" cy="644.2" r="3.4" fill="#f96c36"/><circle cx="468.2" cy="622.2" r="3.4" fill="#d82c2e"/><circle cx="466.2" cy="633.6" r="3.4" fill="#d62b2e"/><circle cx="466.3" cy="645.7" r="3.4" fill="#f45834"/><circle cx="484.0" cy="655.2" r="3.4" fill="#f76335"/><circle cx="480.3" cy="627.7" r="3.4" fill="#e94431"/><circle cx="472.5" cy="656.5" r="3.4" fill="#f55a34"/><circle cx="475.9" cy="635.1" r="3.4" fill="#eb4832"/><circle cx="467.6" cy="625.6" r="3.4" fill="#ce272f"/><circle cx="470.4" cy="631.3" r="3.4" fill="#de302e"/><circle cx="477.1" cy="627.9" r="3.4" fill="#d0282f"/><circle cx="490.6" cy="648.1" r="3.4" fill="#f86735"/><circle cx="477.6" cy="649.1" r="3.4" fill="#f76235"/><circle cx="459.1" cy="624.7" r="3.4" fill="#e3382f"/><circle cx="467.2" cy="639.8" r="3.4" fill="#e1362f"/><circle cx="471.6" cy="652.4" r="3.4" fill="#ed4c32"/><circle cx="470.3" cy="648.4" r="3.4" fill="#f65f34"/><circle cx="472.8" cy="624.0" r="3.4" fill="#db2d2e"/><circle cx="479.6" cy="646.1" r="3.4" fill="#f35633"/><circle cx="468.8" cy="617.2" r="3.4" fill="#c8252f"/><circle cx="459.4" cy="640.5" r="3.4" fill="#f65f35"/><circle cx="495.6" cy="641.8" r="3.4" fill="#f76135"/><circle cx="482.4" cy="652.9" r="3.4" fill="#f55b34"/><circle cx="473.8" cy="628.7" r="3.4" fill="#e1352f"/><circle cx="479.5" cy="641.7" r="3.4" fill="#da2d2e"/><circle cx="462.7" cy="637.3" r="3.4" fill="#e43b30"/><circle cx="482.7" cy="643.8" r="3.4" fill="#f65d34"/><circle cx="475.9" cy="656.1" r="3.4" fill="#f76535"/><circle cx="477.5" cy="638.1" r="3.4" fill="#ed4c32"/><circle cx="462.4" cy="633.1" r="3.4" fill="#e2382f"/><circle cx="460.3" cy="628.2" r="3.4" fill="#c7242f"/><circle cx="496.5" cy="652.4" r="3.4" fill="#fc8c3d"/><circle cx="467.5" cy="629.5" r="3.4" fill="#c6242f"/><circle cx="488.1" cy="631.9" r="3.4" fill="#f25533"/><circle cx="480.3" cy="623.5" r="3.4" fill="#ec4a32"/><circle cx="501.9" cy="647.3" r="3.4" fill="#fc7c38"/><circle cx="463.3" cy="621.4" r="3.4" fill="#e53c30"/><circle cx="496.3" cy="638.2" r="3.4" fill="#fb7637"/><circle cx="463.5" cy="647.8" r="3.4" fill="#fa7337"/><circle cx="498.1" cy="643.3" r="3.4" fill="#f66035"/><circle cx="462.9" cy="644.3" r="3.4" fill="#f25433"/><circle cx="488.3" cy="639.4" r="3.4" fill="#e1362f"/><circle cx="478.7" cy="632.3" r="3.4" fill="#f15333"/><circle cx="474.6" cy="652.3" r="3.4" fill="#f76335"/><circle cx="470.5" cy="636.5" r="3.4" fill="#c8252f"/><circle cx="464.8" cy="641.6" r="3.4" fill="#e63e30"/><circle cx="494.1" cy="650.3" r="3.4" fill="#ea4631"/><circle cx="464.4" cy="624.6" r="3.4" fill="#e1352f"/><circle cx="468.3" cy="654.8" r="3.4" fill="#f05133"/><circle cx="486.9" cy="643.2" r="3.4" fill="#f96e36"/><circle cx="481.7" cy="650.0" r="3.4" fill="#eb4731"/><circle cx="490.0" cy="636.6" r="3.4" fill="#f65e34"/><circle cx="484.4" cy="632.1" r="3.4" fill="#f55b34"/><circle cx="465.2" cy="618.9" r="3.4" fill="#e94531"/><circle cx="478.1" cy="652.4" r="3.4" fill="#f96b36"/><circle cx="482.9" cy="647.2" r="3.4" fill="#f05033"/><circle cx="482.9" cy="629.3" r="3.4" fill="#db2d2e"/><circle cx="465.0" cy="650.4" r="3.4" fill="#f05033"/><circle cx="500.4" cy="651.4" r="3.4" fill="#fb9b43"/><circle cx="472.6" cy="633.5" r="3.4" fill="#d82c2e"/><circle cx="460.0" cy="643.6" r="3.4" fill="#f55b34"/><circle cx="494.5" cy="644.6" r="3.4" fill="#f76535"/><circle cx="460.9" cy="646.5" r="3.4" fill="#f96c36"/><circle cx="480.5" cy="638.7" r="3.4" fill="#ee4d32"/><circle cx="500.9" cy="655.1" r="3.4" fill="#fc8b3d"/><circle cx="471.1" cy="627.1" r="3.4" fill="#df332f"/><circle cx="486.9" cy="656.2" r="3.4" fill="#fd7f38"/><circle cx="473.9" cy="643.0" r="3.4" fill="#cc272f"/><circle cx="492.9" cy="632.3" r="3.4" fill="#f35734"/><circle cx="459.2" cy="631.0" r="3.4" fill="#e1352f"/><circle cx="479.6" cy="635.9" r="3.4" fill="#e84331"/><circle cx="464.9" cy="630.9" r="3.4" fill="#d2292e"/><circle cx="468.3" cy="658.2" r="3.4" fill="#fd8038"/><circle cx="476.5" cy="663.0" r="3.4" fill="#f86936"/><circle cx="482.6" cy="661.0" r="3.4" fill="#fc7b37"/><circle cx="501.9" cy="642.3" r="3.4" fill="#f76335"/><circle cx="472.7" cy="614.4" r="3.4" fill="#f45834"/><circle cx="455.2" cy="630.3" r="3.4" fill="#eb4832"/><circle cx="504.0" cy="657.2" r="3.4" fill="#fc7c38"/><circle cx="467.5" cy="613.9" r="3.4" fill="#de302e"/><circle cx="490.0" cy="626.4" r="3.4" fill="#f25433"/><circle cx="499.7" cy="639.7" r="3.4" fill="#f35734"/><circle cx="499.2" cy="661.0" r="3.4" fill="#fc893c"/><circle cx="457.4" cy="617.8" r="3.4" fill="#ea4531"/><circle cx="506.5" cy="646.9" r="3.4" fill="#fd8139"/><circle cx="504.9" cy="650.2" r="3.4" fill="#fd853a"/><circle cx="479.4" cy="620.3" r="3.4" fill="#e0342f"/><circle cx="486.4" cy="625.0" r="3.4" fill="#f86b36"/><circle cx="482.6" cy="657.7" r="3.4" fill="#fd8138"/><circle cx="476.6" cy="617.8" r="3.4" fill="#e2372f"/><circle cx="456.8" cy="644.4" r="3.4" fill="#e53c30"/><circle cx="496.4" cy="631.4" r="3.4" fill="#f96e36"/><circle cx="484.3" cy="618.7" r="3.4" fill="#ec4932"/><circle cx="463.4" cy="653.4" r="3.4" fill="#f96f36"/><circle cx="496.1" cy="634.3" r="3.4" fill="#fb7537"/><circle cx="463.3" cy="615.7" r="3.4" fill="#dd2e2e"/><circle cx="499.7" cy="632.7" r="3.4" fill="#f15333"/><circle cx="481.8" cy="617.2" r="3.4" fill="#ed4b32"/><circle cx="471.0" cy="626.1" r="3.4" fill="#9a2638"/><circle cx="468.8" cy="628.4" r="3.4" fill="#a52034"/><circle cx="473.3" cy="623.9" r="3.4" fill="#a52034"/><circle cx="482.9" cy="619.4" r="3.4" fill="#bb1f30"/><circle cx="484.5" cy="637.3" r="3.4" fill="#b01a30"/><circle cx="481.1" cy="655.2" r="3.4" fill="#bb1f30"/>
<rect x="424.79" y="491.09" width="237.82" height="279.82" fill="none" stroke="#2e2e2e" stroke-width="1.78"/>
<rect x="424.79" y="434.99" width="237.82" height="54.32" fill="#d0d0d0" stroke="#2e2e2e" stroke-width="1.78"/>
<text transform="translate(543.1,472.6) scale(1,1.04)" font-size="29.33" fill="#1a1a1a" text-anchor="middle">PCs = 20</text>
</g>
<g>
<rect x="681.6" y="490.2" width="239.6" height="281.6" fill="#fff"/>
<line x1="688.0" x2="688.0" y1="490.2" y2="771.8" stroke="#e9e9e9" stroke-width="1.78"/>
<line x1="759.2" x2="759.2" y1="490.2" y2="771.8" stroke="#e9e9e9" stroke-width="1.78"/>
<line x1="830.4" x2="830.4" y1="490.2" y2="771.8" stroke="#e9e9e9" stroke-width="1.78"/>
<line x1="901.6" x2="901.6" y1="490.2" y2="771.8" stroke="#e9e9e9" stroke-width="1.78"/>
<line y1="762.5" y2="762.5" x1="681.6" x2="921.2" stroke="#e9e9e9" stroke-width="1.78"/>
<line y1="691.2" y2="691.2" x1="681.6" x2="921.2" stroke="#e9e9e9" stroke-width="1.78"/>
<line y1="620.0" y2="620.0" x1="681.6" x2="921.2" stroke="#e9e9e9" stroke-width="1.78"/>
<line y1="548.7" y2="548.7" x1="681.6" x2="921.2" stroke="#e9e9e9" stroke-width="1.78"/>
<line x1="723.6" x2="723.6" y1="490.2" y2="771.8" stroke="#e9e9e9" stroke-width="3.56"/>
<line x1="794.8" x2="794.8" y1="490.2" y2="771.8" stroke="#e9e9e9" stroke-width="3.56"/>
<line x1="866.0" x2="866.0" y1="490.2" y2="771.8" stroke="#e9e9e9" stroke-width="3.56"/>
<line y1="726.9" y2="726.9" x1="681.6" x2="921.2" stroke="#e9e9e9" stroke-width="3.56"/>
<line y1="655.6" y2="655.6" x1="681.6" x2="921.2" stroke="#e9e9e9" stroke-width="3.56"/>
<line y1="584.3" y2="584.3" x1="681.6" x2="921.2" stroke="#e9e9e9" stroke-width="3.56"/>
<line y1="513.1" y2="513.1" x1="681.6" x2="921.2" stroke="#e9e9e9" stroke-width="3.56"/>
<circle cx="797.3" cy="630.7" r="3.4" fill="#f3b44d"/><circle cx="804.0" cy="659.8" r="3.4" fill="#faa547"/><circle cx="764.9" cy="618.1" r="3.4" fill="#f0b74e"/><circle cx="797.7" cy="638.6" r="3.4" fill="#e6c151"/><circle cx="802.1" cy="654.5" r="3.4" fill="#f4b24c"/><circle cx="733.0" cy="670.0" r="3.4" fill="#faa246"/><circle cx="737.9" cy="622.4" r="3.4" fill="#f9ab4a"/><circle cx="760.2" cy="676.5" r="3.4" fill="#f0b64e"/><circle cx="804.6" cy="677.3" r="3.4" fill="#f8af4b"/><circle cx="750.7" cy="684.7" r="3.4" fill="#faa548"/><circle cx="775.2" cy="667.9" r="3.4" fill="#f1b54d"/><circle cx="752.7" cy="605.2" r="3.4" fill="#faa749"/><circle cx="725.3" cy="634.3" r="3.4" fill="#e8c050"/><circle cx="744.4" cy="676.1" r="3.4" fill="#f9a849"/><circle cx="718.0" cy="620.3" r="3.4" fill="#edbb4f"/><circle cx="811.1" cy="648.5" r="3.4" fill="#f8ae4b"/><circle cx="768.7" cy="607.3" r="3.4" fill="#fb9641"/><circle cx="739.0" cy="630.0" r="3.4" fill="#efb84e"/><circle cx="769.9" cy="610.3" r="3.4" fill="#f9aa4a"/><circle cx="750.0" cy="615.4" r="3.4" fill="#fa9e45"/><circle cx="815.6" cy="628.7" r="3.4" fill="#fc8c3d"/><circle cx="726.0" cy="645.0" r="3.4" fill="#f9ac4a"/><circle cx="735.4" cy="659.6" r="3.4" fill="#f5b14c"/><circle cx="713.9" cy="658.8" r="3.4" fill="#f9a849"/><circle cx="720.0" cy="654.7" r="3.4" fill="#faa749"/><circle cx="762.6" cy="621.2" r="3.4" fill="#efb84e"/><circle cx="785.7" cy="675.9" r="3.4" fill="#f4b34d"/><circle cx="734.9" cy="681.1" r="3.4" fill="#f7af4c"/><circle cx="786.6" cy="675.2" r="3.4" fill="#f3b44d"/><circle cx="793.4" cy="646.0" r="3.4" fill="#f1b64e"/><circle cx="780.9" cy="682.9" r="3.4" fill="#f7af4c"/><circle cx="724.7" cy="667.3" r="3.4" fill="#fa9f45"/><circle cx="721.8" cy="659.3" r="3.4" fill="#f9a849"/><circle cx="785.8" cy="642.1" r="3.4" fill="#f7af4c"/><circle cx="779.6" cy="670.2" r="3.4" fill="#faa447"/><circle cx="805.3" cy="618.9" r="3.4" fill="#f9a949"/><circle cx="764.8" cy="668.5" r="3.4" fill="#f9a949"/><circle cx="730.6" cy="633.8" r="3.4" fill="#e8bf50"/><circle cx="758.5" cy="643.0" r="3.4" fill="#faa548"/><circle cx="768.4" cy="671.3" r="3.4" fill="#eeb94f"/><circle cx="801.6" cy="667.6" r="3.4" fill="#fb9842"/><circle cx="742.0" cy="679.8" r="3.4" fill="#f2b44d"/><circle cx="730.3" cy="673.8" r="3.4" fill="#faa648"/><circle cx="736.6" cy="662.2" r="3.4" fill="#efb84e"/><circle cx="796.4" cy="651.1" r="3.4" fill="#faa246"/><circle cx="734.1" cy="637.5" r="3.4" fill="#f1b54d"/><circle cx="744.1" cy="663.2" r="3.4" fill="#e6c151"/><circle cx="771.8" cy="631.6" r="3.4" fill="#f9a849"/><circle cx="778.0" cy="642.0" r="3.4" fill="#faa347"/><circle cx="802.1" cy="629.9" r="3.4" fill="#e6c151"/><circle cx="804.0" cy="650.5" r="3.4" fill="#f9ad4b"/><circle cx="772.3" cy="687.1" r="3.4" fill="#f8ae4b"/><circle cx="792.2" cy="613.7" r="3.4" fill="#f8ae4b"/><circle cx="738.9" cy="667.6" r="3.4" fill="#f1b64e"/><circle cx="772.5" cy="649.7" r="3.4" fill="#f9a949"/><circle cx="795.7" cy="641.8" r="3.4" fill="#f9a949"/><circle cx="766.0" cy="685.4" r="3.4" fill="#fb9c44"/><circle cx="782.4" cy="613.6" r="3.4" fill="#f4b24d"/><circle cx="759.9" cy="660.3" r="3.4" fill="#f9a949"/><circle cx="745.2" cy="635.7" r="3.4" fill="#faa447"/><circle cx="808.9" cy="650.7" r="3.4" fill="#f1b54d"/><circle cx="805.2" cy="635.4" r="3.4" fill="#f4b24c"/><circle cx="814.2" cy="641.1" r="3.4" fill="#f2b54d"/><circle cx="732.6" cy="684.8" r="3.4" fill="#faa748"/><circle cx="816.5" cy="663.9" r="3.4" fill="#fb9c44"/><circle cx="761.7" cy="609.9" r="3.4" fill="#f9a849"/><circle cx="752.7" cy="600.1" r="3.4" fill="#f9aa4a"/><circle cx="718.2" cy="610.3" r="3.4" fill="#f6b04c"/><circle cx="808.6" cy="638.6" r="3.4" fill="#fa9e45"/><circle cx="754.0" cy="671.2" r="3.4" fill="#f1b54d"/><circle cx="741.2" cy="625.9" r="3.4" fill="#f7b04c"/><circle cx="722.0" cy="636.6" r="3.4" fill="#eeb94f"/><circle cx="745.9" cy="674.0" r="3.4" fill="#f7af4c"/><circle cx="761.3" cy="630.4" r="3.4" fill="#f6b04c"/><circle cx="786.9" cy="665.0" r="3.4" fill="#e3c552"/><circle cx="794.2" cy="678.9" r="3.4" fill="#faa347"/><circle cx="761.6" cy="621.2" r="3.4" fill="#f8ae4b"/><circle cx="762.2" cy="639.4" r="3.4" fill="#f8af4b"/><circle cx="806.5" cy="670.5" r="3.4" fill="#f7b04c"/><circle cx="747.1" cy="657.6" r="3.4" fill="#f3b34d"/><circle cx="735.0" cy="629.1" r="3.4" fill="#f2b54d"/><circle cx="779.7" cy="647.1" r="3.4" fill="#efb84e"/><circle cx="797.0" cy="644.2" r="3.4" fill="#f0b74e"/><circle cx="741.3" cy="684.9" r="3.4" fill="#e7c151"/><circle cx="774.2" cy="643.7" r="3.4" fill="#eeb94f"/><circle cx="759.0" cy="661.5" r="3.4" fill="#e9bf50"/><circle cx="741.9" cy="646.6" r="3.4" fill="#f9ab4a"/><circle cx="750.4" cy="674.0" r="3.4" fill="#edba4f"/><circle cx="811.3" cy="659.3" r="3.4" fill="#fb9842"/><circle cx="743.0" cy="667.8" r="3.4" fill="#faa347"/><circle cx="790.2" cy="624.6" r="3.4" fill="#f9ab4a"/><circle cx="754.9" cy="695.1" r="3.4" fill="#f9ad4b"/><circle cx="723.5" cy="624.8" r="3.4" fill="#e3c552"/><circle cx="745.0" cy="646.1" r="3.4" fill="#faa246"/><circle cx="760.0" cy="663.9" r="3.4" fill="#edba4f"/><circle cx="722.3" cy="649.0" r="3.4" fill="#faa547"/><circle cx="816.2" cy="631.7" r="3.4" fill="#f7af4c"/><circle cx="734.6" cy="653.2" r="3.4" fill="#e3c552"/><circle cx="756.9" cy="645.6" r="3.4" fill="#ecbb4f"/><circle cx="736.7" cy="654.9" r="3.4" fill="#f9ad4b"/><circle cx="789.9" cy="675.4" r="3.4" fill="#f7af4c"/><circle cx="781.1" cy="617.6" r="3.4" fill="#f9ac4b"/><circle cx="781.5" cy="668.0" r="3.4" fill="#ecbb4f"/><circle cx="793.1" cy="628.8" r="3.4" fill="#eeb94f"/><circle cx="747.7" cy="669.1" r="3.4" fill="#efb84e"/><circle cx="757.5" cy="683.3" r="3.4" fill="#f2b44d"/><circle cx="802.0" cy="632.6" r="3.4" fill="#f0b64e"/><circle cx="769.7" cy="646.5" r="3.4" fill="#eabd50"/><circle cx="805.8" cy="632.5" r="3.4" fill="#f8ae4b"/><circle cx="738.4" cy="636.6" r="3.4" fill="#e7c151"/><circle cx="763.6" cy="603.4" r="3.4" fill="#fb9641"/><circle cx="731.9" cy="646.5" r="3.4" fill="#f6b14c"/><circle cx="788.4" cy="649.7" r="3.4" fill="#f9ab4a"/><circle cx="798.1" cy="671.1" r="3.4" fill="#fa9e45"/><circle cx="777.1" cy="615.9" r="3.4" fill="#f9ac4a"/><circle cx="787.7" cy="618.8" r="3.4" fill="#faa748"/><circle cx="800.0" cy="666.1" r="3.4" fill="#f5b14c"/><circle cx="793.9" cy="682.3" r="3.4" fill="#f0b64e"/><circle cx="726.2" cy="619.2" r="3.4" fill="#e7c151"/><circle cx="718.5" cy="642.8" r="3.4" fill="#fa9d44"/><circle cx="793.6" cy="665.0" r="3.4" fill="#fa9f45"/><circle cx="714.0" cy="652.5" r="3.4" fill="#faa648"/><circle cx="807.5" cy="641.2" r="3.4" fill="#fb9c44"/><circle cx="780.1" cy="632.1" r="3.4" fill="#fb9a43"/><circle cx="765.7" cy="638.4" r="3.4" fill="#faa749"/><circle cx="764.7" cy="618.5" r="3.4" fill="#f2b44d"/><circle cx="785.6" cy="666.0" r="3.4" fill="#f1b64e"/><circle cx="736.1" cy="633.4" r="3.4" fill="#f9a849"/><circle cx="767.7" cy="634.4" r="3.4" fill="#f2b44d"/><circle cx="808.0" cy="676.6" r="3.4" fill="#fb9b43"/><circle cx="773.8" cy="676.3" r="3.4" fill="#f5b24c"/><circle cx="756.5" cy="680.4" r="3.4" fill="#f9ad4b"/><circle cx="790.1" cy="641.5" r="3.4" fill="#faa548"/><circle cx="760.1" cy="668.7" r="3.4" fill="#edbb4f"/><circle cx="764.2" cy="631.2" r="3.4" fill="#faa447"/><circle cx="743.6" cy="620.7" r="3.4" fill="#f7b04c"/><circle cx="762.6" cy="683.7" r="3.4" fill="#f9ac4a"/><circle cx="775.2" cy="663.2" r="3.4" fill="#f9ac4a"/><circle cx="716.2" cy="631.2" r="3.4" fill="#f4b24c"/><circle cx="747.2" cy="627.2" r="3.4" fill="#faa347"/><circle cx="802.0" cy="646.7" r="3.4" fill="#f9aa4a"/><circle cx="736.9" cy="687.2" r="3.4" fill="#f5b14c"/><circle cx="796.3" cy="663.4" r="3.4" fill="#f9ad4b"/><circle cx="737.3" cy="679.2" r="3.4" fill="#f4b34d"/><circle cx="787.1" cy="646.2" r="3.4" fill="#faa447"/><circle cx="773.0" cy="608.2" r="3.4" fill="#faa247"/><circle cx="793.3" cy="659.0" r="3.4" fill="#f9a949"/><circle cx="755.8" cy="673.2" r="3.4" fill="#faa648"/><circle cx="749.5" cy="679.2" r="3.4" fill="#efb84e"/><circle cx="771.8" cy="671.5" r="3.4" fill="#f0b74e"/><circle cx="785.8" cy="684.5" r="3.4" fill="#faa246"/><circle cx="752.0" cy="673.2" r="3.4" fill="#fb9b43"/><circle cx="728.0" cy="638.0" r="3.4" fill="#f0b74e"/><circle cx="804.6" cy="655.6" r="3.4" fill="#f7af4c"/><circle cx="744.1" cy="638.3" r="3.4" fill="#f4b24d"/><circle cx="727.8" cy="621.4" r="3.4" fill="#eabd50"/><circle cx="776.5" cy="670.0" r="3.4" fill="#faa146"/><circle cx="758.6" cy="658.0" r="3.4" fill="#f9aa4a"/><circle cx="746.7" cy="648.1" r="3.4" fill="#faa347"/><circle cx="721.9" cy="616.7" r="3.4" fill="#fa9d44"/><circle cx="803.4" cy="627.2" r="3.4" fill="#f7af4c"/><circle cx="717.1" cy="626.9" r="3.4" fill="#eeb94f"/><circle cx="743.5" cy="609.7" r="3.4" fill="#fa9f45"/><circle cx="796.1" cy="622.6" r="3.4" fill="#ecbb4f"/><circle cx="721.9" cy="611.3" r="3.4" fill="#ecbb4f"/><circle cx="755.9" cy="664.8" r="3.4" fill="#f9ac4b"/><circle cx="778.5" cy="666.1" r="3.4" fill="#f9ad4b"/><circle cx="719.1" cy="631.5" r="3.4" fill="#f2b44d"/><circle cx="725.0" cy="676.1" r="3.4" fill="#faa548"/><circle cx="783.3" cy="668.1" r="3.4" fill="#f8ae4b"/><circle cx="753.4" cy="683.9" r="3.4" fill="#faa749"/><circle cx="784.5" cy="611.8" r="3.4" fill="#ecbb4f"/><circle cx="783.2" cy="626.8" r="3.4" fill="#f2b54d"/><circle cx="770.7" cy="629.1" r="3.4" fill="#f9aa4a"/><circle cx="734.7" cy="623.1" r="3.4" fill="#e5c351"/><circle cx="736.7" cy="642.5" r="3.4" fill="#ebbc4f"/><circle cx="788.6" cy="636.5" r="3.4" fill="#faa246"/><circle cx="789.3" cy="614.3" r="3.4" fill="#f2b54d"/><circle cx="775.9" cy="637.2" r="3.4" fill="#f6b04c"/><circle cx="746.4" cy="684.2" r="3.4" fill="#f7af4c"/><circle cx="726.7" cy="658.3" r="3.4" fill="#f9ac4a"/><circle cx="785.0" cy="653.3" r="3.4" fill="#f9a849"/><circle cx="732.5" cy="656.1" r="3.4" fill="#f9ad4b"/><circle cx="788.4" cy="632.6" r="3.4" fill="#e8c050"/><circle cx="722.1" cy="652.8" r="3.4" fill="#ebbc4f"/><circle cx="796.4" cy="638.7" r="3.4" fill="#fa9f45"/><circle cx="743.2" cy="630.0" r="3.4" fill="#e6c251"/><circle cx="784.3" cy="636.9" r="3.4" fill="#f2b54d"/><circle cx="769.1" cy="608.8" r="3.4" fill="#f3b44d"/><circle cx="752.4" cy="678.2" r="3.4" fill="#eeb94f"/><circle cx="725.0" cy="650.6" r="3.4" fill="#f9ab4a"/><circle cx="740.5" cy="643.6" r="3.4" fill="#efb84e"/><circle cx="766.0" cy="666.2" r="3.4" fill="#f9ad4b"/><circle cx="730.5" cy="661.4" r="3.4" fill="#f8af4b"/><circle cx="740.7" cy="648.9" r="3.4" fill="#f3b34d"/><circle cx="795.6" cy="618.3" r="3.4" fill="#e9bf50"/><circle cx="730.5" cy="676.7" r="3.4" fill="#faa246"/><circle cx="731.3" cy="652.4" r="3.4" fill="#f0b74e"/><circle cx="744.0" cy="605.5" r="3.4" fill="#f9aa4a"/><circle cx="752.8" cy="631.0" r="3.4" fill="#faa045"/><circle cx="741.1" cy="692.5" r="3.4" fill="#faa347"/><circle cx="763.5" cy="655.3" r="3.4" fill="#f5b24c"/><circle cx="809.0" cy="647.0" r="3.4" fill="#faa246"/><circle cx="718.8" cy="672.8" r="3.4" fill="#fb9942"/><circle cx="790.0" cy="610.8" r="3.4" fill="#ecbb4f"/><circle cx="780.2" cy="608.6" r="3.4" fill="#f2b44d"/><circle cx="810.2" cy="665.1" r="3.4" fill="#f9ab4a"/><circle cx="788.8" cy="676.9" r="3.4" fill="#f5b14c"/><circle cx="733.0" cy="649.9" r="3.4" fill="#f8ae4b"/><circle cx="741.7" cy="627.4" r="3.4" fill="#edba4f"/><circle cx="750.8" cy="644.3" r="3.4" fill="#f8ae4b"/><circle cx="755.3" cy="654.0" r="3.4" fill="#eabe50"/><circle cx="765.5" cy="605.4" r="3.4" fill="#fc8a3c"/><circle cx="789.3" cy="621.5" r="3.4" fill="#f7af4c"/><circle cx="778.2" cy="684.2" r="3.4" fill="#f5b14c"/><circle cx="741.2" cy="658.7" r="3.4" fill="#f1b54d"/><circle cx="759.5" cy="678.7" r="3.4" fill="#f9aa4a"/><circle cx="771.0" cy="683.2" r="3.4" fill="#f9a949"/><circle cx="761.4" cy="645.6" r="3.4" fill="#f0b64e"/><circle cx="728.5" cy="652.9" r="3.4" fill="#f5b24c"/><circle cx="793.8" cy="675.5" r="3.4" fill="#f2b54d"/><circle cx="795.6" cy="671.2" r="3.4" fill="#f9ad4b"/><circle cx="729.0" cy="627.1" r="3.4" fill="#e9be50"/><circle cx="793.4" cy="634.8" r="3.4" fill="#f7af4c"/><circle cx="736.2" cy="647.2" r="3.4" fill="#faa648"/><circle cx="775.9" cy="679.1" r="3.4" fill="#f9ab4a"/><circle cx="758.3" cy="614.7" r="3.4" fill="#fb9641"/><circle cx="784.8" cy="614.6" r="3.4" fill="#ebbd50"/><circle cx="771.0" cy="676.3" r="3.4" fill="#f7b04c"/><circle cx="754.6" cy="634.1" r="3.4" fill="#fb9842"/><circle cx="746.3" cy="673.2" r="3.4" fill="#faa447"/><circle cx="768.3" cy="674.1" r="3.4" fill="#faa648"/><circle cx="762.8" cy="637.9" r="3.4" fill="#f7af4c"/><circle cx="765.1" cy="631.3" r="3.4" fill="#f8ae4b"/><circle cx="727.2" cy="677.5" r="3.4" fill="#fb9b43"/><circle cx="754.1" cy="646.5" r="3.4" fill="#faa347"/><circle cx="779.6" cy="628.9" r="3.4" fill="#f9ab4a"/><circle cx="767.5" cy="653.6" r="3.4" fill="#f8ae4b"/><circle cx="801.3" cy="638.6" r="3.4" fill="#f9aa4a"/><circle cx="741.4" cy="675.9" r="3.4" fill="#f3b34d"/><circle cx="739.8" cy="655.4" r="3.4" fill="#eeb94e"/><circle cx="775.5" cy="649.3" r="3.4" fill="#faa648"/><circle cx="777.9" cy="634.1" r="3.4" fill="#edba4f"/><circle cx="733.2" cy="634.4" r="3.4" fill="#f7af4c"/><circle cx="801.6" cy="676.0" r="3.4" fill="#e7c151"/><circle cx="801.7" cy="647.2" r="3.4" fill="#f9ab4a"/><circle cx="755.0" cy="617.9" r="3.4" fill="#fa9e45"/><circle cx="807.4" cy="678.7" r="3.4" fill="#ebbc50"/><circle cx="745.3" cy="669.8" r="3.4" fill="#fb9c44"/><circle cx="811.4" cy="637.7" r="3.4" fill="#fc8e3e"/><circle cx="718.1" cy="679.7" r="3.4" fill="#fc903f"/><circle cx="783.7" cy="672.0" r="3.4" fill="#f8ae4b"/><circle cx="756.5" cy="670.7" r="3.4" fill="#f5b14c"/><circle cx="723.1" cy="646.0" r="3.4" fill="#e9bf50"/><circle cx="801.8" cy="653.3" r="3.4" fill="#faa447"/><circle cx="721.1" cy="622.8" r="3.4" fill="#e4c452"/><circle cx="758.8" cy="632.3" r="3.4" fill="#f9a849"/><circle cx="790.6" cy="647.4" r="3.4" fill="#edba4f"/><circle cx="779.4" cy="657.6" r="3.4" fill="#f6b14c"/><circle cx="801.5" cy="657.2" r="3.4" fill="#faa146"/><circle cx="799.8" cy="661.9" r="3.4" fill="#f8ae4b"/><circle cx="808.4" cy="659.7" r="3.4" fill="#f9ac4b"/><circle cx="745.8" cy="624.6" r="3.4" fill="#fa9d44"/><circle cx="802.2" cy="679.1" r="3.4" fill="#e3c552"/><circle cx="746.1" cy="619.7" r="3.4" fill="#f9a949"/><circle cx="741.2" cy="631.5" r="3.4" fill="#f3b34d"/><circle cx="742.1" cy="643.9" r="3.4" fill="#f9ac4a"/><circle cx="772.2" cy="645.4" r="3.4" fill="#e9bf50"/><circle cx="792.7" cy="641.3" r="3.4" fill="#f5b14c"/><circle cx="725.6" cy="630.9" r="3.4" fill="#e7c051"/><circle cx="772.1" cy="639.1" r="3.4" fill="#f1b64e"/><circle cx="801.0" cy="671.7" r="3.4" fill="#f2b54d"/><circle cx="774.8" cy="632.8" r="3.4" fill="#faa648"/><circle cx="727.1" cy="674.4" r="3.4" fill="#fb9641"/><circle cx="725.9" cy="625.8" r="3.4" fill="#e3c552"/><circle cx="737.6" cy="629.1" r="3.4" fill="#e3c552"/><circle cx="787.9" cy="606.3" r="3.4" fill="#f4b24c"/><circle cx="738.3" cy="660.2" r="3.4" fill="#f9ad4b"/><circle cx="712.6" cy="615.3" r="3.4" fill="#fb9c44"/><circle cx="738.1" cy="645.6" r="3.4" fill="#f8ae4b"/><circle cx="777.8" cy="623.0" r="3.4" fill="#f8ae4b"/><circle cx="727.8" cy="635.5" r="3.4" fill="#e5c352"/><circle cx="770.7" cy="636.7" r="3.4" fill="#faa246"/><circle cx="734.8" cy="645.9" r="3.4" fill="#f4b24d"/><circle cx="787.8" cy="662.9" r="3.4" fill="#eeb94e"/><circle cx="786.7" cy="622.9" r="3.4" fill="#e4c352"/><circle cx="725.7" cy="622.9" r="3.4" fill="#e5c351"/><circle cx="752.2" cy="627.8" r="3.4" fill="#fb9b43"/><circle cx="804.6" cy="647.8" r="3.4" fill="#faa447"/><circle cx="807.3" cy="665.6" r="3.4" fill="#f1b54d"/><circle cx="805.4" cy="622.3" r="3.4" fill="#f6b04c"/><circle cx="764.0" cy="659.9" r="3.4" fill="#eeb84e"/><circle cx="758.7" cy="623.6" r="3.4" fill="#f9a949"/><circle cx="811.4" cy="652.5" r="3.4" fill="#f1b64e"/><circle cx="741.0" cy="621.4" r="3.4" fill="#f7b04c"/><circle cx="723.5" cy="642.2" r="3.4" fill="#e9be50"/><circle cx="810.6" cy="644.4" r="3.4" fill="#e9be50"/><circle cx="743.2" cy="640.9" r="3.4" fill="#f2b44d"/><circle cx="766.8" cy="682.2" r="3.4" fill="#f9a949"/><circle cx="815.2" cy="644.2" r="3.4" fill="#faa347"/><circle cx="782.3" cy="630.5" r="3.4" fill="#faa447"/><circle cx="763.6" cy="623.9" r="3.4" fill="#faa749"/><circle cx="763.7" cy="656.6" r="3.4" fill="#faa046"/><circle cx="749.4" cy="623.6" r="3.4" fill="#faa146"/><circle cx="804.6" cy="631.8" r="3.4" fill="#f2b44d"/><circle cx="711.9" cy="660.6" r="3.4" fill="#f9ad4b"/><circle cx="735.1" cy="676.2" r="3.4" fill="#faa246"/><circle cx="709.5" cy="633.9" r="3.4" fill="#f5b14c"/><circle cx="758.9" cy="649.8" r="3.4" fill="#f9aa4a"/><circle cx="786.1" cy="650.9" r="3.4" fill="#f9ab4a"/><circle cx="759.3" cy="627.3" r="3.4" fill="#f6b04c"/><circle cx="781.0" cy="621.0" r="3.4" fill="#ecbc4f"/><circle cx="806.5" cy="651.2" r="3.4" fill="#eeb94e"/><circle cx="714.4" cy="637.4" r="3.4" fill="#f4b24c"/><circle cx="757.4" cy="639.6" r="3.4" fill="#f8ae4b"/><circle cx="803.4" cy="641.3" r="3.4" fill="#f6b04c"/><circle cx="732.1" cy="682.3" r="3.4" fill="#f9a949"/><circle cx="738.0" cy="682.8" r="3.4" fill="#f0b74e"/><circle cx="808.1" cy="634.5" r="3.4" fill="#faa045"/><circle cx="774.7" cy="646.0" r="3.4" fill="#f0b74e"/><circle cx="753.9" cy="613.1" r="3.4" fill="#fb9b44"/><circle cx="749.1" cy="655.0" r="3.4" fill="#e5c351"/><circle cx="728.3" cy="614.7" r="3.4" fill="#ecbb4f"/><circle cx="743.4" cy="683.6" r="3.4" fill="#faa347"/><circle cx="740.3" cy="634.8" r="3.4" fill="#f2b54d"/><circle cx="753.1" cy="650.1" r="3.4" fill="#f9ab4a"/><circle cx="731.6" cy="619.2" r="3.4" fill="#f9ad4b"/><circle cx="760.2" cy="682.8" r="3.4" fill="#fb9943"/><circle cx="794.7" cy="649.3" r="3.4" fill="#faa347"/><circle cx="756.3" cy="627.9" r="3.4" fill="#faa547"/><circle cx="723.3" cy="628.3" r="3.4" fill="#f1b64e"/><circle cx="766.8" cy="611.3" r="3.4" fill="#f5b24c"/><circle cx="754.2" cy="610.4" r="3.4" fill="#fb9541"/><circle cx="769.5" cy="660.3" r="3.4" fill="#f4b24d"/><circle cx="739.8" cy="665.1" r="3.4" fill="#f2b54d"/><circle cx="792.5" cy="672.7" r="3.4" fill="#f3b44d"/><circle cx="762.7" cy="642.7" r="3.4" fill="#f4b34d"/><circle cx="752.6" cy="607.8" r="3.4" fill="#fa9f45"/><circle cx="763.9" cy="667.6" r="3.4" fill="#eeb94e"/><circle cx="732.7" cy="659.6" r="3.4" fill="#f6b04c"/><circle cx="773.2" cy="681.3" r="3.4" fill="#faa447"/><circle cx="769.9" cy="655.2" r="3.4" fill="#f6b04c"/><circle cx="804.0" cy="673.9" r="3.4" fill="#fa9d44"/><circle cx="802.9" cy="663.2" r="3.4" fill="#f1b64e"/><circle cx="741.2" cy="647.9" r="3.4" fill="#f9ab4a"/><circle cx="720.6" cy="634.5" r="3.4" fill="#e5c351"/><circle cx="786.9" cy="688.5" r="3.4" fill="#eeb94e"/><circle cx="744.2" cy="664.5" r="3.4" fill="#f9ab4a"/><circle cx="733.6" cy="651.3" r="3.4" fill="#f9ab4a"/><circle cx="755.5" cy="604.0" r="3.4" fill="#faa347"/><circle cx="775.4" cy="633.4" r="3.4" fill="#f3b44d"/><circle cx="806.9" cy="644.6" r="3.4" fill="#fa9e45"/><circle cx="722.4" cy="674.3" r="3.4" fill="#faa146"/><circle cx="737.9" cy="676.8" r="3.4" fill="#f9ad4b"/><circle cx="813.7" cy="633.0" r="3.4" fill="#faa447"/><circle cx="764.4" cy="675.4" r="3.4" fill="#faa347"/><circle cx="787.2" cy="628.1" r="3.4" fill="#eeb94f"/><circle cx="819.1" cy="644.0" r="3.4" fill="#f2b54d"/><circle cx="753.4" cy="643.8" r="3.4" fill="#f9ab4a"/><circle cx="774.7" cy="672.7" r="3.4" fill="#faa548"/><circle cx="765.6" cy="679.1" r="3.4" fill="#f7af4c"/><circle cx="735.8" cy="649.9" r="3.4" fill="#f9ab4a"/><circle cx="729.5" cy="657.1" r="3.4" fill="#f3b44d"/><circle cx="768.5" cy="643.3" r="3.4" fill="#faa146"/><circle cx="793.6" cy="686.1" r="3.4" fill="#f9ad4b"/><circle cx="718.4" cy="662.9" r="3.4" fill="#fb9a43"/><circle cx="730.9" cy="642.1" r="3.4" fill="#f0b64e"/><circle cx="758.3" cy="674.1" r="3.4" fill="#f9ac4b"/><circle cx="756.6" cy="677.7" r="3.4" fill="#f8ae4b"/><circle cx="787.2" cy="656.8" r="3.4" fill="#faa648"/><circle cx="728.7" cy="680.7" r="3.4" fill="#fa9d44"/><circle cx="748.2" cy="634.5" r="3.4" fill="#efb74e"/><circle cx="725.1" cy="649.3" r="3.4" fill="#ecbb4f"/><circle cx="782.4" cy="649.6" r="3.4" fill="#f9a849"/><circle cx="801.6" cy="620.2" r="3.4" fill="#edba4f"/><circle cx="752.9" cy="665.9" r="3.4" fill="#f9a949"/><circle cx="774.4" cy="611.1" r="3.4" fill="#fa9c44"/><circle cx="732.6" cy="631.6" r="3.4" fill="#ebbc4f"/><circle cx="777.7" cy="681.0" r="3.4" fill="#faa748"/><circle cx="770.8" cy="615.0" r="3.4" fill="#f4b34d"/><circle cx="722.3" cy="670.9" r="3.4" fill="#fb9a43"/><circle cx="753.2" cy="621.8" r="3.4" fill="#f6b14c"/><circle cx="760.2" cy="687.1" r="3.4" fill="#f7af4b"/><circle cx="796.4" cy="674.1" r="3.4" fill="#f9a849"/><circle cx="783.6" cy="619.1" r="3.4" fill="#f5b14c"/><circle cx="719.6" cy="676.1" r="3.4" fill="#fb9641"/><circle cx="795.8" cy="676.6" r="3.4" fill="#faa246"/><circle cx="768.9" cy="679.5" r="3.4" fill="#f9ad4b"/><circle cx="750.5" cy="650.3" r="3.4" fill="#f0b64e"/><circle cx="768.4" cy="639.6" r="3.4" fill="#f9ac4b"/><circle cx="781.1" cy="676.8" r="3.4" fill="#faa749"/><circle cx="755.0" cy="652.5" r="3.4" fill="#ecbc4f"/><circle cx="795.9" cy="623.7" r="3.4" fill="#e3c552"/><circle cx="761.3" cy="672.4" r="3.4" fill="#e4c452"/><circle cx="798.0" cy="654.0" r="3.4" fill="#eeb94e"/><circle cx="741.9" cy="671.4" r="3.4" fill="#f9ac4b"/><circle cx="744.7" cy="655.6" r="3.4" fill="#f5b24c"/><circle cx="804.5" cy="665.3" r="3.4" fill="#edba4f"/><circle cx="806.7" cy="673.2" r="3.4" fill="#fa9f45"/><circle cx="783.8" cy="639.6" r="3.4" fill="#f9ad4b"/><circle cx="754.8" cy="689.4" r="3.4" fill="#faa648"/><circle cx="730.8" cy="629.6" r="3.4" fill="#fb9943"/><circle cx="776.1" cy="653.4" r="3.4" fill="#faa648"/><circle cx="719.6" cy="645.7" r="3.4" fill="#f5b14c"/><circle cx="730.9" cy="625.3" r="3.4" fill="#eabd50"/><circle cx="771.1" cy="652.1" r="3.4" fill="#f9a849"/><circle cx="743.8" cy="635.4" r="3.4" fill="#f9ad4b"/><circle cx="798.9" cy="626.6" r="3.4" fill="#edba4f"/><circle cx="719.6" cy="664.1" r="3.4" fill="#fb9943"/><circle cx="729.8" cy="611.4" r="3.4" fill="#f4b24c"/><circle cx="727.7" cy="687.5" r="3.4" fill="#f3b34d"/><circle cx="779.8" cy="638.7" r="3.4" fill="#faa548"/><circle cx="749.4" cy="660.5" r="3.4" fill="#f4b24c"/><circle cx="721.4" cy="666.8" r="3.4" fill="#faa447"/><circle cx="809.5" cy="656.0" r="3.4" fill="#f9ac4b"/><circle cx="781.8" cy="663.9" r="3.4" fill="#faa045"/><circle cx="768.1" cy="622.6" r="3.4" fill="#f9ac4b"/><circle cx="787.8" cy="639.7" r="3.4" fill="#f5b24c"/><circle cx="716.7" cy="653.6" r="3.4" fill="#faa648"/><circle cx="720.0" cy="628.2" r="3.4" fill="#eabe50"/><circle cx="748.9" cy="618.3" r="3.4" fill="#fb9a43"/><circle cx="735.0" cy="656.8" r="3.4" fill="#faa748"/><circle cx="758.3" cy="652.8" r="3.4" fill="#faa146"/><circle cx="781.2" cy="645.3" r="3.4" fill="#f9aa4a"/><circle cx="761.5" cy="618.7" r="3.4" fill="#f8ae4b"/><circle cx="783.6" cy="661.8" r="3.4" fill="#f0b74e"/><circle cx="770.6" cy="624.6" r="3.4" fill="#f6b14c"/><circle cx="747.4" cy="676.6" r="3.4" fill="#f0b74e"/><circle cx="728.0" cy="641.3" r="3.4" fill="#f7af4c"/><circle cx="715.3" cy="620.3" r="3.4" fill="#f1b64e"/><circle cx="793.1" cy="615.5" r="3.4" fill="#ecbb4f"/><circle cx="721.8" cy="630.3" r="3.4" fill="#f0b74e"/><circle cx="799.0" cy="674.1" r="3.4" fill="#f4b24d"/><circle cx="770.4" cy="641.2" r="3.4" fill="#f9a949"/><circle cx="760.4" cy="665.5" r="3.4" fill="#edba4f"/><circle cx="718.4" cy="649.2" r="3.4" fill="#f9ac4b"/><circle cx="741.8" cy="666.8" r="3.4" fill="#f4b34d"/><circle cx="753.1" cy="636.1" r="3.4" fill="#ebbc4f"/><circle cx="745.9" cy="640.3" r="3.4" fill="#faa548"/><circle cx="800.3" cy="641.5" r="3.4" fill="#f9a849"/><circle cx="763.1" cy="647.7" r="3.4" fill="#f2b44d"/><circle cx="800.0" cy="664.9" r="3.4" fill="#f9a94a"/><circle cx="776.3" cy="618.4" r="3.4" fill="#f3b44d"/><circle cx="798.4" cy="617.8" r="3.4" fill="#f8ae4b"/><circle cx="778.1" cy="675.6" r="3.4" fill="#f5b14c"/><circle cx="784.1" cy="616.2" r="3.4" fill="#f5b24c"/><circle cx="752.0" cy="617.1" r="3.4" fill="#faa648"/><circle cx="789.3" cy="671.3" r="3.4" fill="#f9ab4a"/><circle cx="748.3" cy="610.6" r="3.4" fill="#f8ae4b"/><circle cx="807.3" cy="659.9" r="3.4" fill="#f9aa4a"/><circle cx="755.5" cy="641.8" r="3.4" fill="#e7c151"/><circle cx="790.3" cy="668.3" r="3.4" fill="#fb9742"/><circle cx="763.3" cy="677.6" r="3.4" fill="#f7b04c"/><circle cx="753.4" cy="674.9" r="3.4" fill="#ebbc4f"/><circle cx="785.1" cy="647.7" r="3.4" fill="#f5b24c"/><circle cx="795.6" cy="631.6" r="3.4" fill="#f1b64e"/><circle cx="807.0" cy="652.4" r="3.4" fill="#faa347"/><circle cx="745.6" cy="678.6" r="3.4" fill="#f5b24c"/><circle cx="728.2" cy="614.1" r="3.4" fill="#f6b04c"/><circle cx="791.7" cy="677.9" r="3.4" fill="#e6c251"/><circle cx="757.3" cy="668.1" r="3.4" fill="#edba4f"/><circle cx="742.3" cy="623.6" r="3.4" fill="#fb9943"/><circle cx="742.2" cy="661.3" r="3.4" fill="#f0b74e"/><circle cx="810.7" cy="629.7" r="3.4" fill="#fb9742"/><circle cx="786.7" cy="669.0" r="3.4" fill="#faa146"/><circle cx="795.7" cy="627.8" r="3.4" fill="#edba4f"/><circle cx="779.5" cy="679.3" r="3.4" fill="#f0b74e"/><circle cx="723.0" cy="655.6" r="3.4" fill="#f9ad4b"/><circle cx="769.2" cy="636.4" r="3.4" fill="#f9aa4a"/><circle cx="747.4" cy="666.2" r="3.4" fill="#f9ac4b"/><circle cx="734.8" cy="693.0" r="3.4" fill="#fb9842"/><circle cx="723.0" cy="620.7" r="3.4" fill="#f3b34d"/><circle cx="765.2" cy="614.9" r="3.4" fill="#f9aa4a"/><circle cx="789.4" cy="659.9" r="3.4" fill="#f0b74e"/><circle cx="787.9" cy="679.4" r="3.4" fill="#f8af4b"/><circle cx="720.5" cy="639.8" r="3.4" fill="#f9ad4b"/><circle cx="756.8" cy="618.3" r="3.4" fill="#f9ac4a"/><circle cx="802.7" cy="635.3" r="3.4" fill="#efb84e"/><circle cx="739.0" cy="671.5" r="3.4" fill="#f1b64e"/><circle cx="786.7" cy="655.1" r="3.4" fill="#f7b04c"/><circle cx="726.3" cy="680.0" r="3.4" fill="#fb9541"/><circle cx="742.8" cy="654.6" r="3.4" fill="#f9ab4a"/><circle cx="752.2" cy="686.3" r="3.4" fill="#f9ad4b"/><circle cx="738.7" cy="651.4" r="3.4" fill="#f8af4b"/><circle cx="744.7" cy="626.9" r="3.4" fill="#f5b14c"/><circle cx="717.7" cy="658.1" r="3.4" fill="#fc8b3d"/><circle cx="807.7" cy="639.7" r="3.4" fill="#faa547"/><circle cx="778.3" cy="660.6" r="3.4" fill="#e8bf50"/><circle cx="784.2" cy="656.7" r="3.4" fill="#e9bf50"/><circle cx="763.3" cy="687.6" r="3.4" fill="#f6b14c"/><circle cx="768.0" cy="615.0" r="3.4" fill="#f9ae4b"/><circle cx="715.1" cy="633.8" r="3.4" fill="#e6c251"/><circle cx="785.9" cy="608.8" r="3.4" fill="#f7b04c"/><circle cx="762.2" cy="652.3" r="3.4" fill="#f8ae4b"/><circle cx="775.6" cy="655.9" r="3.4" fill="#eeb94e"/><circle cx="769.2" cy="619.8" r="3.4" fill="#faa547"/><circle cx="736.1" cy="669.1" r="3.4" fill="#e8c050"/><circle cx="774.8" cy="686.1" r="3.4" fill="#fb9b43"/><circle cx="768.2" cy="687.1" r="3.4" fill="#fb9641"/><circle cx="778.7" cy="654.7" r="3.4" fill="#f9ab4a"/><circle cx="788.4" cy="682.2" r="3.4" fill="#f4b34d"/><circle cx="737.7" cy="682.9" r="3.4" fill="#f9a849"/><circle cx="768.3" cy="668.2" r="3.4" fill="#faa347"/><circle cx="787.2" cy="616.0" r="3.4" fill="#e3c552"/><circle cx="780.7" cy="642.2" r="3.4" fill="#f9ac4b"/><circle cx="730.3" cy="642.5" r="3.4" fill="#faa447"/><circle cx="755.3" cy="615.8" r="3.4" fill="#faa246"/><circle cx="745.4" cy="694.8" r="3.4" fill="#f8ae4b"/><circle cx="731.4" cy="639.0" r="3.4" fill="#faa748"/><circle cx="778.4" cy="651.1" r="3.4" fill="#faa447"/><circle cx="741.0" cy="686.4" r="3.4" fill="#fa9d44"/><circle cx="805.0" cy="680.6" r="3.4" fill="#fa9e45"/><circle cx="732.6" cy="606.9" r="3.4" fill="#e9bf50"/><circle cx="780.5" cy="659.3" r="3.4" fill="#f5b24c"/><circle cx="758.4" cy="674.5" r="3.4" fill="#f5b14c"/><circle cx="715.5" cy="617.0" r="3.4" fill="#f2b54d"/><circle cx="743.6" cy="627.4" r="3.4" fill="#f0b74e"/><circle cx="738.0" cy="623.2" r="3.4" fill="#e8bf50"/><circle cx="812.7" cy="664.0" r="3.4" fill="#fb9943"/><circle cx="811.2" cy="667.7" r="3.4" fill="#fa9f45"/><circle cx="782.2" cy="653.6" r="3.4" fill="#ebbc50"/><circle cx="756.7" cy="630.5" r="3.4" fill="#fb9842"/><circle cx="789.6" cy="635.8" r="3.4" fill="#ebbc4f"/><circle cx="783.7" cy="680.3" r="3.4" fill="#f9ad4b"/><circle cx="747.9" cy="613.3" r="3.4" fill="#fa9d44"/><circle cx="716.2" cy="623.6" r="3.4" fill="#eeb94f"/><circle cx="767.8" cy="662.3" r="3.4" fill="#fa9d44"/><circle cx="715.4" cy="630.2" r="3.4" fill="#f0b74e"/><circle cx="766.2" cy="639.5" r="3.4" fill="#faa648"/><circle cx="715.6" cy="660.0" r="3.4" fill="#ebbc4f"/><circle cx="745.1" cy="688.8" r="3.4" fill="#fa9d44"/><circle cx="740.7" cy="682.5" r="3.4" fill="#faa246"/><circle cx="747.7" cy="642.4" r="3.4" fill="#e7c051"/><circle cx="804.5" cy="645.8" r="3.4" fill="#f8ae4b"/><circle cx="766.2" cy="648.1" r="3.4" fill="#f5b24c"/><circle cx="817.8" cy="659.6" r="3.4" fill="#fc8c3d"/><circle cx="766.0" cy="660.0" r="3.4" fill="#f9ad4b"/><circle cx="761.6" cy="611.5" r="3.4" fill="#fb9943"/><circle cx="729.9" cy="670.0" r="3.4" fill="#fb9641"/><circle cx="762.6" cy="626.7" r="3.4" fill="#f7af4c"/><circle cx="766.5" cy="625.0" r="3.4" fill="#faa146"/><circle cx="812.7" cy="667.9" r="3.4" fill="#f3b44d"/><circle cx="743.9" cy="649.9" r="3.4" fill="#e5c351"/><circle cx="724.5" cy="659.9" r="3.4" fill="#f9ac4b"/><circle cx="796.2" cy="657.0" r="3.4" fill="#faa648"/><circle cx="750.8" cy="641.3" r="3.4" fill="#f9a949"/><circle cx="773.2" cy="637.3" r="3.4" fill="#ecbb4f"/><circle cx="755.6" cy="649.2" r="3.4" fill="#f9a849"/><circle cx="810.7" cy="634.7" r="3.4" fill="#faa146"/><circle cx="722.3" cy="637.8" r="3.4" fill="#f9ac4b"/><circle cx="751.1" cy="633.1" r="3.4" fill="#f6b14c"/><circle cx="747.2" cy="651.1" r="3.4" fill="#faa146"/><circle cx="768.8" cy="631.3" r="3.4" fill="#f8ae4b"/><circle cx="790.4" cy="653.3" r="3.4" fill="#ebbc50"/><circle cx="778.4" cy="648.0" r="3.4" fill="#f8ae4b"/><circle cx="769.9" cy="666.1" r="3.4" fill="#f4b34d"/><circle cx="752.7" cy="652.9" r="3.4" fill="#f3b44d"/><circle cx="782.7" cy="686.1" r="3.4" fill="#f6b04c"/><circle cx="807.5" cy="631.1" r="3.4" fill="#faa748"/><circle cx="800.1" cy="644.6" r="3.4" fill="#f1b64e"/><circle cx="745.2" cy="652.8" r="3.4" fill="#f9aa4a"/><circle cx="779.1" cy="672.7" r="3.4" fill="#f8ae4b"/><circle cx="813.2" cy="678.0" r="3.4" fill="#f8ae4b"/><circle cx="776.2" cy="627.3" r="3.4" fill="#eabe50"/><circle cx="754.2" cy="625.4" r="3.4" fill="#faa748"/><circle cx="760.1" cy="605.1" r="3.4" fill="#fb9842"/><circle cx="792.1" cy="651.4" r="3.4" fill="#faa146"/><circle cx="799.3" cy="635.7" r="3.4" fill="#f8ae4b"/><circle cx="754.1" cy="626.1" r="3.4" fill="#f4b34d"/><circle cx="765.1" cy="691.8" r="3.4" fill="#fa9d44"/><circle cx="763.0" cy="662.9" r="3.4" fill="#fb9641"/><circle cx="717.5" cy="641.4" r="3.4" fill="#f5b14c"/><circle cx="785.3" cy="659.3" r="3.4" fill="#f9ad4b"/><circle cx="779.0" cy="612.8" r="3.4" fill="#f9ab4a"/><circle cx="808.9" cy="650.4" r="3.4" fill="#f8ae4b"/><circle cx="790.5" cy="644.9" r="3.4" fill="#f1b64e"/><circle cx="772.3" cy="646.7" r="3.4" fill="#f0b74e"/><circle cx="765.7" cy="650.5" r="3.4" fill="#faa648"/><circle cx="748.0" cy="686.8" r="3.4" fill="#e6c151"/><circle cx="752.5" cy="681.1" r="3.4" fill="#f7af4b"/><circle cx="796.9" cy="620.9" r="3.4" fill="#faa547"/><circle cx="719.4" cy="624.9" r="3.4" fill="#ebbc4f"/><circle cx="770.5" cy="615.8" r="3.4" fill="#f3b44d"/><circle cx="761.1" cy="612.5" r="3.4" fill="#faa146"/><circle cx="793.4" cy="638.2" r="3.4" fill="#ebbc4f"/><circle cx="771.0" cy="605.8" r="3.4" fill="#eeba4f"/><circle cx="715.2" cy="656.5" r="3.4" fill="#f5b14c"/><circle cx="727.8" cy="671.9" r="3.4" fill="#faa347"/><circle cx="796.5" cy="666.4" r="3.4" fill="#faa748"/><circle cx="762.5" cy="680.4" r="3.4" fill="#ebbc4f"/><circle cx="709.9" cy="652.0" r="3.4" fill="#f5b14c"/><circle cx="772.6" cy="620.6" r="3.4" fill="#f3b34d"/><circle cx="721.7" cy="662.3" r="3.4" fill="#faa347"/><circle cx="757.9" cy="610.4" r="3.4" fill="#fc8f3e"/><circle cx="726.2" cy="664.4" r="3.4" fill="#fb9c44"/><circle cx="788.0" cy="632.9" r="3.4" fill="#f7af4c"/><circle cx="772.4" cy="678.5" r="3.4" fill="#fb9340"/><circle cx="719.8" cy="633.7" r="3.4" fill="#f7af4c"/><circle cx="780.6" cy="636.0" r="3.4" fill="#f9ab4a"/><circle cx="748.3" cy="607.9" r="3.4" fill="#fc903f"/><circle cx="773.3" cy="658.6" r="3.4" fill="#faa749"/><circle cx="789.9" cy="628.9" r="3.4" fill="#eabe50"/><circle cx="808.3" cy="662.9" r="3.4" fill="#f7af4c"/><circle cx="790.4" cy="664.6" r="3.4" fill="#faa648"/><circle cx="736.4" cy="626.6" r="3.4" fill="#f3b34d"/><circle cx="773.9" cy="615.1" r="3.4" fill="#f3b34d"/><circle cx="730.4" cy="666.3" r="3.4" fill="#f7af4c"/><circle cx="760.9" cy="633.7" r="3.4" fill="#faa447"/><circle cx="749.6" cy="629.8" r="3.4" fill="#f6b04c"/><circle cx="778.0" cy="616.5" r="3.4" fill="#f2b54d"/><circle cx="781.0" cy="624.8" r="3.4" fill="#f4b34d"/><circle cx="750.3" cy="637.6" r="3.4" fill="#f4b34d"/><circle cx="750.8" cy="634.8" r="3.4" fill="#e5c351"/><circle cx="755.2" cy="686.8" r="3.4" fill="#f5b14c"/><circle cx="754.6" cy="683.1" r="3.4" fill="#f9a949"/><circle cx="745.6" cy="631.8" r="3.4" fill="#faa748"/><circle cx="764.9" cy="650.6" r="3.4" fill="#e6c251"/><circle cx="814.5" cy="652.0" r="3.4" fill="#f9ac4b"/><circle cx="799.2" cy="649.5" r="3.4" fill="#f9ad4b"/><circle cx="791.0" cy="617.4" r="3.4" fill="#f6b14c"/><circle cx="734.0" cy="667.5" r="3.4" fill="#f6b14c"/><circle cx="762.3" cy="615.6" r="3.4" fill="#faa045"/><circle cx="772.5" cy="654.4" r="3.4" fill="#f9ac4b"/><circle cx="755.9" cy="621.3" r="3.4" fill="#f9ab4a"/><circle cx="777.3" cy="630.2" r="3.4" fill="#ecbb4f"/><circle cx="783.1" cy="644.9" r="3.4" fill="#f9ad4b"/><circle cx="785.8" cy="643.7" r="3.4" fill="#f9a949"/><circle cx="732.2" cy="622.0" r="3.4" fill="#fa9f45"/><circle cx="724.0" cy="612.9" r="3.4" fill="#eabd50"/><circle cx="738.9" cy="627.4" r="3.4" fill="#f5b14c"/><circle cx="742.3" cy="615.7" r="3.4" fill="#f9ac4b"/><circle cx="765.4" cy="634.6" r="3.4" fill="#eeb94e"/><circle cx="732.9" cy="673.2" r="3.4" fill="#f2b44d"/><circle cx="758.7" cy="691.2" r="3.4" fill="#fc903f"/><circle cx="792.6" cy="623.1" r="3.4" fill="#e6c151"/><circle cx="814.1" cy="636.6" r="3.4" fill="#f9aa4a"/><circle cx="719.8" cy="613.8" r="3.4" fill="#faa548"/><circle cx="754.6" cy="657.4" r="3.4" fill="#faa648"/><circle cx="737.5" cy="600.9" r="3.4" fill="#fa9c44"/><circle cx="812.2" cy="613.0" r="3.4" fill="#fa9c44"/><circle cx="826.3" cy="631.5" r="3.4" fill="#dd2e2e"/><circle cx="823.1" cy="630.4" r="3.4" fill="#fd8038"/><circle cx="819.5" cy="641.6" r="3.4" fill="#fd8038"/><circle cx="826.3" cy="650.9" r="3.4" fill="#fa7337"/><circle cx="824.0" cy="657.2" r="3.4" fill="#fc8b3d"/><circle cx="828.5" cy="658.8" r="3.4" fill="#fc8b3d"/><circle cx="820.7" cy="665.0" r="3.4" fill="#fd8038"/><circle cx="826.3" cy="667.3" r="3.4" fill="#fd8038"/><circle cx="796.3" cy="690.3" r="3.4" fill="#fc913f"/><circle cx="744.7" cy="682.5" r="3.4" fill="#e53d30"/><circle cx="758.1" cy="695.2" r="3.4" fill="#fc8b3d"/><circle cx="764.8" cy="692.3" r="3.4" fill="#fc8b3d"/><circle cx="818.4" cy="646.0" r="3.4" fill="#fd8038"/><circle cx="838.5" cy="679.3" r="3.4" fill="#dd2e2e"/><circle cx="857.2" cy="692.1" r="3.4" fill="#df312e"/><circle cx="825.9" cy="689.6" r="3.4" fill="#ee4d32"/><circle cx="850.1" cy="676.0" r="3.4" fill="#df312e"/><circle cx="817.1" cy="690.1" r="3.4" fill="#f66135"/><circle cx="849.7" cy="684.6" r="3.4" fill="#d52b2e"/><circle cx="836.0" cy="695.4" r="3.4" fill="#fa7237"/><circle cx="850.6" cy="699.5" r="3.4" fill="#f55934"/><circle cx="847.6" cy="681.1" r="3.4" fill="#cf282f"/><circle cx="854.0" cy="699.5" r="3.4" fill="#f96e36"/><circle cx="828.3" cy="699.6" r="3.4" fill="#f86735"/><circle cx="841.0" cy="672.2" r="3.4" fill="#e33a30"/><circle cx="830.7" cy="694.0" r="3.4" fill="#f76535"/><circle cx="820.5" cy="694.8" r="3.4" fill="#fc7b37"/><circle cx="830.6" cy="681.0" r="3.4" fill="#f86735"/><circle cx="829.8" cy="675.5" r="3.4" fill="#f96f36"/><circle cx="839.0" cy="683.8" r="3.4" fill="#e2382f"/><circle cx="835.0" cy="701.2" r="3.4" fill="#f45834"/><circle cx="821.0" cy="678.4" r="3.4" fill="#f86735"/><circle cx="852.6" cy="689.4" r="3.4" fill="#e94431"/><circle cx="852.1" cy="692.7" r="3.4" fill="#ea4631"/><circle cx="854.5" cy="680.2" r="3.4" fill="#ee4c32"/><circle cx="838.3" cy="676.1" r="3.4" fill="#e0332f"/><circle cx="841.2" cy="705.0" r="3.4" fill="#fb7937"/><circle cx="825.6" cy="679.7" r="3.4" fill="#f55c34"/><circle cx="830.8" cy="685.2" r="3.4" fill="#e84331"/><circle cx="855.0" cy="685.5" r="3.4" fill="#ec4a32"/><circle cx="848.1" cy="669.3" r="3.4" fill="#de302e"/><circle cx="845.5" cy="683.5" r="3.4" fill="#c2222f"/><circle cx="838.6" cy="700.0" r="3.4" fill="#f96c36"/><circle cx="838.5" cy="703.6" r="3.4" fill="#f45934"/><circle cx="849.1" cy="694.2" r="3.4" fill="#f96d36"/><circle cx="835.2" cy="676.1" r="3.4" fill="#f55a34"/><circle cx="864.3" cy="682.9" r="3.4" fill="#f65e34"/><circle cx="841.5" cy="688.4" r="3.4" fill="#ec4a32"/><circle cx="849.6" cy="690.1" r="3.4" fill="#df322f"/><circle cx="842.6" cy="685.7" r="3.4" fill="#fb7937"/><circle cx="847.5" cy="699.9" r="3.4" fill="#f86b36"/><circle cx="850.5" cy="679.6" r="3.4" fill="#db2d2e"/><circle cx="861.3" cy="687.3" r="3.4" fill="#f65d34"/><circle cx="832.9" cy="699.3" r="3.4" fill="#f05133"/><circle cx="820.5" cy="686.5" r="3.4" fill="#f65f35"/><circle cx="826.2" cy="676.8" r="3.4" fill="#ed4b32"/><circle cx="841.3" cy="694.8" r="3.4" fill="#ea4731"/><circle cx="841.6" cy="678.5" r="3.4" fill="#e43a30"/><circle cx="830.6" cy="703.6" r="3.4" fill="#fa7036"/><circle cx="844.7" cy="690.9" r="3.4" fill="#f45834"/><circle cx="819.8" cy="698.1" r="3.4" fill="#fa7337"/><circle cx="852.0" cy="702.7" r="3.4" fill="#f15233"/><circle cx="823.8" cy="683.4" r="3.4" fill="#f05033"/><circle cx="817.8" cy="683.2" r="3.4" fill="#f66035"/><circle cx="859.8" cy="681.3" r="3.4" fill="#d2292e"/><circle cx="858.4" cy="685.5" r="3.4" fill="#e2372f"/><circle cx="836.8" cy="690.5" r="3.4" fill="#e84231"/><circle cx="815.9" cy="693.4" r="3.4" fill="#faa447"/><circle cx="833.7" cy="671.6" r="3.4" fill="#f76535"/><circle cx="856.5" cy="688.4" r="3.4" fill="#db2d2e"/><circle cx="831.6" cy="688.1" r="3.4" fill="#e94531"/><circle cx="854.0" cy="672.6" r="3.4" fill="#ef4e32"/><circle cx="835.4" cy="685.4" r="3.4" fill="#f55a34"/><circle cx="823.1" cy="692.8" r="3.4" fill="#fc7a37"/><circle cx="826.5" cy="692.8" r="3.4" fill="#fc8e3e"/><circle cx="837.4" cy="673.1" r="3.4" fill="#f05033"/><circle cx="830.7" cy="697.2" r="3.4" fill="#f86835"/><circle cx="849.3" cy="704.1" r="3.4" fill="#f55a34"/><circle cx="843.1" cy="675.1" r="3.4" fill="#f76535"/><circle cx="826.4" cy="686.4" r="3.4" fill="#f96b36"/><circle cx="817.9" cy="678.4" r="3.4" fill="#e63f30"/><circle cx="833.4" cy="678.9" r="3.4" fill="#f05133"/><circle cx="846.6" cy="672.4" r="3.4" fill="#df322f"/><circle cx="845.3" cy="697.8" r="3.4" fill="#f76535"/><circle cx="855.1" cy="695.7" r="3.4" fill="#f65e34"/><circle cx="850.4" cy="672.4" r="3.4" fill="#e1362f"/><circle cx="824.2" cy="696.4" r="3.4" fill="#fd8239"/><circle cx="860.2" cy="690.0" r="3.4" fill="#ed4c32"/><circle cx="842.5" cy="701.5" r="3.4" fill="#e2382f"/><circle cx="844.4" cy="680.1" r="3.4" fill="#da2c2e"/><circle cx="847.3" cy="687.0" r="3.4" fill="#df322e"/><circle cx="857.1" cy="678.5" r="3.4" fill="#cc272f"/><circle cx="856.4" cy="675.1" r="3.4" fill="#db2d2e"/><circle cx="838.0" cy="687.4" r="3.4" fill="#f76435"/><circle cx="846.0" cy="705.0" r="3.4" fill="#f66035"/><circle cx="862.2" cy="679.6" r="3.4" fill="#e74030"/><circle cx="853.8" cy="677.3" r="3.4" fill="#d3292e"/><circle cx="828.4" cy="678.8" r="3.4" fill="#f96f36"/><circle cx="842.2" cy="682.6" r="3.4" fill="#c5232f"/><circle cx="827.1" cy="683.6" r="3.4" fill="#f05133"/><circle cx="851.4" cy="696.3" r="3.4" fill="#ec4932"/><circle cx="827.3" cy="695.7" r="3.4" fill="#fd7e38"/><circle cx="820.4" cy="690.5" r="3.4" fill="#f96c36"/><circle cx="828.6" cy="688.5" r="3.4" fill="#e43b30"/><circle cx="838.9" cy="692.6" r="3.4" fill="#f55b34"/><circle cx="844.4" cy="694.4" r="3.4" fill="#ea4531"/><circle cx="843.8" cy="670.6" r="3.4" fill="#ee4d32"/><circle cx="836.3" cy="682.1" r="3.4" fill="#d62b2e"/><circle cx="839.8" cy="669.5" r="3.4" fill="#e33930"/><circle cx="833.5" cy="693.2" r="3.4" fill="#e63e30"/><circle cx="833.0" cy="683.1" r="3.4" fill="#e94431"/><circle cx="833.6" cy="704.3" r="3.4" fill="#f65f35"/><circle cx="823.3" cy="687.1" r="3.4" fill="#fa7437"/><circle cx="820.2" cy="681.4" r="3.4" fill="#fa7136"/><circle cx="825.3" cy="699.1" r="3.4" fill="#fb7837"/><circle cx="857.0" cy="682.5" r="3.4" fill="#de312e"/><circle cx="830.5" cy="691.0" r="3.4" fill="#f05033"/><circle cx="841.3" cy="698.8" r="3.4" fill="#f65f35"/><circle cx="827.8" cy="702.6" r="3.4" fill="#f55b34"/><circle cx="861.5" cy="684.1" r="3.4" fill="#de302e"/><circle cx="851.8" cy="686.6" r="3.4" fill="#e74131"/><circle cx="846.0" cy="675.7" r="3.4" fill="#df312e"/><circle cx="853.1" cy="683.2" r="3.4" fill="#e0342f"/><circle cx="838.6" cy="696.6" r="3.4" fill="#e2382f"/><circle cx="817.7" cy="695.9" r="3.4" fill="#fc7c38"/><circle cx="841.9" cy="691.8" r="3.4" fill="#f05133"/><circle cx="845.4" cy="702.2" r="3.4" fill="#ed4b32"/><circle cx="811.9" cy="694.6" r="3.4" fill="#f9a849"/><circle cx="841.2" cy="708.7" r="3.4" fill="#fc903f"/><circle cx="814.2" cy="689.3" r="3.4" fill="#fb7837"/><circle cx="854.5" cy="707.9" r="3.4" fill="#fa7237"/><circle cx="822.2" cy="674.6" r="3.4" fill="#f96e36"/><circle cx="850.7" cy="667.1" r="3.4" fill="#e94531"/><circle cx="855.1" cy="703.3" r="3.4" fill="#f86a36"/><circle cx="827.6" cy="673.3" r="3.4" fill="#f76435"/><circle cx="847.9" cy="665.0" r="3.4" fill="#e74131"/><circle cx="866.6" cy="688.2" r="3.4" fill="#fa7036"/><circle cx="838.3" cy="664.6" r="3.4" fill="#f76335"/><circle cx="866.6" cy="679.4" r="3.4" fill="#e33a30"/><circle cx="857.5" cy="699.4" r="3.4" fill="#f86835"/><circle cx="836.1" cy="668.7" r="3.4" fill="#f96d36"/><circle cx="832.9" cy="667.6" r="3.4" fill="#f65f35"/><circle cx="818.7" cy="675.5" r="3.4" fill="#f66135"/><circle cx="864.1" cy="677.4" r="3.4" fill="#eb4831"/><circle cx="830.1" cy="708.0" r="3.4" fill="#fc8d3d"/><circle cx="824.1" cy="702.6" r="3.4" fill="#fc7c38"/><circle cx="861.8" cy="673.8" r="3.4" fill="#f65e34"/><circle cx="821.2" cy="701.0" r="3.4" fill="#fc7a37"/><circle cx="849.6" cy="708.7" r="3.4" fill="#fb7637"/><circle cx="815.0" cy="673.3" r="3.4" fill="#fc893c"/><circle cx="817.3" cy="686.6" r="3.4" fill="#fb9240"/><circle cx="853.1" cy="681.8" r="3.4" fill="#9a2638"/><circle cx="850.8" cy="674.0" r="3.4" fill="#a52034"/><circle cx="827.8" cy="686.7" r="3.4" fill="#9a2638"/><circle cx="854.2" cy="685.1" r="3.4" fill="#a52034"/><circle cx="829.6" cy="707.5" r="3.4" fill="#c6242f"/><circle cx="835.2" cy="699.7" r="3.4" fill="#bb1f30"/><circle cx="841.9" cy="703.0" r="3.4" fill="#c6242f"/><circle cx="858.7" cy="675.1" r="3.4" fill="#fc8b3d"/><circle cx="847.5" cy="668.4" r="3.4" fill="#c6242f"/><circle cx="905.0" cy="661.5" r="3.4" fill="#c1212f"/><circle cx="894.8" cy="647.2" r="3.4" fill="#de2f2e"/><circle cx="882.0" cy="650.3" r="3.4" fill="#ed4b32"/><circle cx="884.7" cy="644.4" r="3.4" fill="#e43b30"/><circle cx="875.4" cy="655.1" r="3.4" fill="#d1292f"/><circle cx="889.1" cy="645.8" r="3.4" fill="#e84331"/><circle cx="888.7" cy="659.8" r="3.4" fill="#e43a30"/><circle cx="871.8" cy="663.5" r="3.4" fill="#d52b2e"/><circle cx="902.3" cy="654.2" r="3.4" fill="#d1292f"/><circle cx="896.4" cy="650.1" r="3.4" fill="#e2372f"/><circle cx="875.4" cy="660.6" r="3.4" fill="#f35734"/><circle cx="887.8" cy="648.7" r="3.4" fill="#f86a36"/><circle cx="906.8" cy="649.9" r="3.4" fill="#d2292e"/><circle cx="896.7" cy="666.6" r="3.4" fill="#d1292f"/><circle cx="891.0" cy="638.4" r="3.4" fill="#c4232f"/><circle cx="885.1" cy="654.4" r="3.4" fill="#f86a36"/><circle cx="877.8" cy="651.1" r="3.4" fill="#ec4932"/><circle cx="891.0" cy="663.0" r="3.4" fill="#ca262f"/><circle cx="890.9" cy="668.7" r="3.4" fill="#ea4531"/><circle cx="898.7" cy="656.5" r="3.4" fill="#d3292e"/><circle cx="892.8" cy="650.1" r="3.4" fill="#d82c2e"/><circle cx="888.3" cy="653.0" r="3.4" fill="#eb4832"/><circle cx="903.3" cy="647.5" r="3.4" fill="#bc1f2f"/><circle cx="908.5" cy="654.8" r="3.4" fill="#bd202f"/><circle cx="906.2" cy="657.8" r="3.4" fill="#ba1f30"/><circle cx="878.4" cy="660.2" r="3.4" fill="#e3392f"/><circle cx="893.0" cy="660.8" r="3.4" fill="#a91e33"/><circle cx="884.4" cy="662.4" r="3.4" fill="#e94431"/><circle cx="880.9" cy="653.4" r="3.4" fill="#ef4e32"/><circle cx="896.7" cy="663.4" r="3.4" fill="#d72b2e"/><circle cx="893.1" cy="642.8" r="3.4" fill="#ce272f"/><circle cx="872.4" cy="660.4" r="3.4" fill="#c3222f"/><circle cx="898.7" cy="641.8" r="3.4" fill="#c8252f"/><circle cx="887.9" cy="656.3" r="3.4" fill="#eb4832"/><circle cx="875.6" cy="665.1" r="3.4" fill="#c8252f"/><circle cx="902.0" cy="661.1" r="3.4" fill="#e3382f"/><circle cx="887.4" cy="666.0" r="3.4" fill="#cf282f"/><circle cx="900.9" cy="664.2" r="3.4" fill="#ea4631"/><circle cx="901.9" cy="651.0" r="3.4" fill="#be202f"/><circle cx="895.6" cy="640.3" r="3.4" fill="#d0282f"/><circle cx="887.7" cy="641.0" r="3.4" fill="#db2d2e"/><circle cx="891.0" cy="655.4" r="3.4" fill="#f76435"/><circle cx="879.9" cy="656.8" r="3.4" fill="#db2d2e"/><circle cx="878.9" cy="647.8" r="3.4" fill="#f25533"/><circle cx="909.2" cy="651.7" r="3.4" fill="#c9252f"/><circle cx="869.9" cy="667.1" r="3.4" fill="#d82c2e"/><circle cx="896.9" cy="659.0" r="3.4" fill="#c3232f"/><circle cx="898.6" cy="652.6" r="3.4" fill="#d3292e"/><circle cx="881.5" cy="661.7" r="3.4" fill="#ef4f32"/><circle cx="899.1" cy="645.6" r="3.4" fill="#c7242f"/><circle cx="892.9" cy="666.3" r="3.4" fill="#c9252f"/><circle cx="883.0" cy="658.9" r="3.4" fill="#e1352f"/><circle cx="885.2" cy="650.3" r="3.4" fill="#ec4a32"/><circle cx="879.2" cy="664.8" r="3.4" fill="#d72b2e"/><circle cx="882.2" cy="642.4" r="3.4" fill="#d62b2e"/><circle cx="883.9" cy="647.4" r="3.4" fill="#f05033"/><circle cx="893.8" cy="657.7" r="3.4" fill="#ba1e30"/><circle cx="879.9" cy="645.0" r="3.4" fill="#f65f35"/><circle cx="895.6" cy="644.4" r="3.4" fill="#e84231"/><circle cx="895.9" cy="654.0" r="3.4" fill="#cd272f"/><circle cx="902.0" cy="643.2" r="3.4" fill="#e2372f"/><circle cx="905.0" cy="652.5" r="3.4" fill="#cc262f"/><circle cx="902.6" cy="657.6" r="3.4" fill="#d1292f"/><circle cx="892.9" cy="653.0" r="3.4" fill="#d32a2e"/><circle cx="899.2" cy="648.9" r="3.4" fill="#c5242f"/><circle cx="885.9" cy="658.6" r="3.4" fill="#e74131"/><circle cx="887.8" cy="662.8" r="3.4" fill="#e0342f"/><circle cx="873.7" cy="657.6" r="3.4" fill="#e84131"/><circle cx="872.8" cy="667.0" r="3.4" fill="#cd272f"/><circle cx="899.2" cy="670.4" r="3.4" fill="#bc1f2f"/><circle cx="882.3" cy="665.4" r="3.4" fill="#dc2e2e"/><circle cx="864.0" cy="665.0" r="3.4" fill="#cd272f"/><circle cx="894.5" cy="668.7" r="3.4" fill="#cd272f"/><circle cx="893.8" cy="636.6" r="3.4" fill="#b11a30"/><circle cx="912.4" cy="648.7" r="3.4" fill="#cd272f"/><circle cx="891.7" cy="634.2" r="3.4" fill="#d0282f"/><circle cx="866.6" cy="660.3" r="3.4" fill="#d52a2e"/><circle cx="890.4" cy="671.7" r="3.4" fill="#cc262f"/><circle cx="874.3" cy="648.5" r="3.4" fill="#e84231"/><circle cx="886.4" cy="670.5" r="3.4" fill="#e63e30"/><circle cx="867.0" cy="665.3" r="3.4" fill="#e1352f"/><circle cx="896.9" cy="634.9" r="3.4" fill="#d82c2e"/><circle cx="905.0" cy="642.2" r="3.4" fill="#d1292f"/><circle cx="864.7" cy="659.4" r="3.4" fill="#fb9641"/><circle cx="866.0" cy="669.1" r="3.4" fill="#ed4b32"/><circle cx="889.9" cy="670.6" r="3.4" fill="#ed4b32"/><circle cx="877.6" cy="642.7" r="3.4" fill="#f86735"/>
<rect x="682.49" y="491.09" width="237.82" height="279.82" fill="none" stroke="#2e2e2e" stroke-width="1.78"/>
<rect x="682.49" y="434.99" width="237.82" height="54.32" fill="#d0d0d0" stroke="#2e2e2e" stroke-width="1.78"/>
<text transform="translate(800.8,472.6) scale(1,1.04)" font-size="29.33" fill="#1a1a1a" text-anchor="middle">PCs = 30</text>
</g>
<line x1="157.1" x2="166.2" y1="370.2" y2="370.2" stroke="#2e2e2e" stroke-width="3.4"/>
<text transform="translate(149.5,381.1) scale(1,1.04)" font-size="29.33" fill="#484848" text-anchor="end">-20</text>
<line x1="157.1" x2="166.2" y1="298.9" y2="298.9" stroke="#2e2e2e" stroke-width="3.4"/>
<text transform="translate(149.5,309.8) scale(1,1.04)" font-size="29.33" fill="#484848" text-anchor="end">0</text>
<line x1="157.1" x2="166.2" y1="227.6" y2="227.6" stroke="#2e2e2e" stroke-width="3.4"/>
<text transform="translate(149.5,238.5) scale(1,1.04)" font-size="29.33" fill="#484848" text-anchor="end">20</text>
<line x1="157.1" x2="166.2" y1="156.4" y2="156.4" stroke="#2e2e2e" stroke-width="3.4"/>
<text transform="translate(149.5,167.3) scale(1,1.04)" font-size="29.33" fill="#484848" text-anchor="end">40</text>
<line x1="157.1" x2="166.2" y1="726.9" y2="726.9" stroke="#2e2e2e" stroke-width="3.4"/>
<text transform="translate(149.5,737.8) scale(1,1.04)" font-size="29.33" fill="#484848" text-anchor="end">-20</text>
<line x1="157.1" x2="166.2" y1="655.6" y2="655.6" stroke="#2e2e2e" stroke-width="3.4"/>
<text transform="translate(149.5,666.5) scale(1,1.04)" font-size="29.33" fill="#484848" text-anchor="end">0</text>
<line x1="157.1" x2="166.2" y1="584.3" y2="584.3" stroke="#2e2e2e" stroke-width="3.4"/>
<text transform="translate(149.5,595.2) scale(1,1.04)" font-size="29.33" fill="#484848" text-anchor="end">20</text>
<line x1="157.1" x2="166.2" y1="513.1" y2="513.1" stroke="#2e2e2e" stroke-width="3.4"/>
<text transform="translate(149.5,524.0) scale(1,1.04)" font-size="29.33" fill="#484848" text-anchor="end">40</text>
<line x1="208.2" x2="208.2" y1="771.8" y2="780.9" stroke="#2e2e2e" stroke-width="3.4"/>
<text transform="translate(207.8,810.5) scale(1,1.04)" font-size="29.33" fill="#484848" text-anchor="middle">-20</text>
<line x1="279.4" x2="279.4" y1="771.8" y2="780.9" stroke="#2e2e2e" stroke-width="3.4"/>
<text transform="translate(279.0,810.5) scale(1,1.04)" font-size="29.33" fill="#484848" text-anchor="middle">0</text>
<line x1="350.6" x2="350.6" y1="771.8" y2="780.9" stroke="#2e2e2e" stroke-width="3.4"/>
<text transform="translate(350.2,810.5) scale(1,1.04)" font-size="29.33" fill="#484848" text-anchor="middle">20</text>
<line x1="465.9" x2="465.9" y1="771.8" y2="780.9" stroke="#2e2e2e" stroke-width="3.4"/>
<text transform="translate(465.5,810.5) scale(1,1.04)" font-size="29.33" fill="#484848" text-anchor="middle">-20</text>
<line x1="537.1" x2="537.1" y1="771.8" y2="780.9" stroke="#2e2e2e" stroke-width="3.4"/>
<text transform="translate(536.7,810.5) scale(1,1.04)" font-size="29.33" fill="#484848" text-anchor="middle">0</text>
<line x1="608.3" x2="608.3" y1="771.8" y2="780.9" stroke="#2e2e2e" stroke-width="3.4"/>
<text transform="translate(607.9,810.5) scale(1,1.04)" font-size="29.33" fill="#484848" text-anchor="middle">20</text>
<line x1="723.6" x2="723.6" y1="771.8" y2="780.9" stroke="#2e2e2e" stroke-width="3.4"/>
<text transform="translate(723.2,810.5) scale(1,1.04)" font-size="29.33" fill="#484848" text-anchor="middle">-20</text>
<line x1="794.8" x2="794.8" y1="771.8" y2="780.9" stroke="#2e2e2e" stroke-width="3.4"/>
<text transform="translate(794.4,810.5) scale(1,1.04)" font-size="29.33" fill="#484848" text-anchor="middle">0</text>
<line x1="866.0" x2="866.0" y1="771.8" y2="780.9" stroke="#2e2e2e" stroke-width="3.4"/>
<text transform="translate(865.6,810.5) scale(1,1.04)" font-size="29.33" fill="#484848" text-anchor="middle">20</text>
<text x="541.2" y="851.8" font-size="36.67" fill="#000" text-anchor="middle">tSNE1</text>
<text transform="translate(89.4,453.4) rotate(-90)" font-size="36.67" fill="#000" text-anchor="middle">tSNE2</text>
<text x="975.5" y="293.2" font-size="36.67" fill="#000">Slc34a1</text>
<text x="975.5" y="331.8" font-size="36.67" fill="#000">(log10(CPM+1))</text>
<defs><linearGradient id="cb" x1="0" y1="1" x2="0" y2="0">
<stop offset="0.0000" stop-color="#1b1a38"/>
<stop offset="0.1186" stop-color="#321332"/>
<stop offset="0.2372" stop-color="#4c3340"/>
<stop offset="0.3558" stop-color="#5a5548"/>
<stop offset="0.4744" stop-color="#764846"/>
<stop offset="0.5455" stop-color="#8f2c3c"/>
<stop offset="0.6167" stop-color="#b01a30"/>
<stop offset="0.7116" stop-color="#dd2e2e"/>
<stop offset="0.7827" stop-color="#f55a34"/>
<stop offset="0.8539" stop-color="#fd8038"/>
<stop offset="0.9488" stop-color="#f9ad4b"/>
<stop offset="1.0000" stop-color="#e3c552"/>
</linearGradient></defs>
<rect x="975.5" y="354.6" width="57.6" height="287.0" fill="url(#cb)"/>
<line x1="975.5" x2="987.0" y1="641.6" y2="641.6" stroke="#fff" stroke-width="1.5" opacity="0.95"/>
<line x1="1021.5999999999999" x2="1033.1" y1="641.6" y2="641.6" stroke="#fff" stroke-width="1.5" opacity="0.95"/>
<text transform="translate(1050.3,653.2) scale(1,1.04)" font-size="29.33" fill="#000">0</text>
<line x1="975.5" x2="987.0" y1="573.6" y2="573.6" stroke="#fff" stroke-width="1.5" opacity="0.95"/>
<line x1="1021.5999999999999" x2="1033.1" y1="573.6" y2="573.6" stroke="#fff" stroke-width="1.5" opacity="0.95"/>
<text transform="translate(1050.3,585.2) scale(1,1.04)" font-size="29.33" fill="#000">1</text>
<line x1="975.5" x2="987.0" y1="505.5" y2="505.5" stroke="#fff" stroke-width="1.5" opacity="0.95"/>
<line x1="1021.5999999999999" x2="1033.1" y1="505.5" y2="505.5" stroke="#fff" stroke-width="1.5" opacity="0.95"/>
<text transform="translate(1050.3,517.1) scale(1,1.04)" font-size="29.33" fill="#000">2</text>
<line x1="975.5" x2="987.0" y1="437.5" y2="437.5" stroke="#fff" stroke-width="1.5" opacity="0.95"/>
<line x1="1021.5999999999999" x2="1033.1" y1="437.5" y2="437.5" stroke="#fff" stroke-width="1.5" opacity="0.95"/>
<text transform="translate(1050.3,449.1) scale(1,1.04)" font-size="29.33" fill="#000">3</text>
<line x1="975.5" x2="987.0" y1="369.4" y2="369.4" stroke="#fff" stroke-width="1.5" opacity="0.95"/>
<line x1="1021.5999999999999" x2="1033.1" y1="369.4" y2="369.4" stroke="#fff" stroke-width="1.5" opacity="0.95"/>
<text transform="translate(1050.3,381.0) scale(1,1.04)" font-size="29.33" fill="#000">4</text>
</svg>
</body></html>
